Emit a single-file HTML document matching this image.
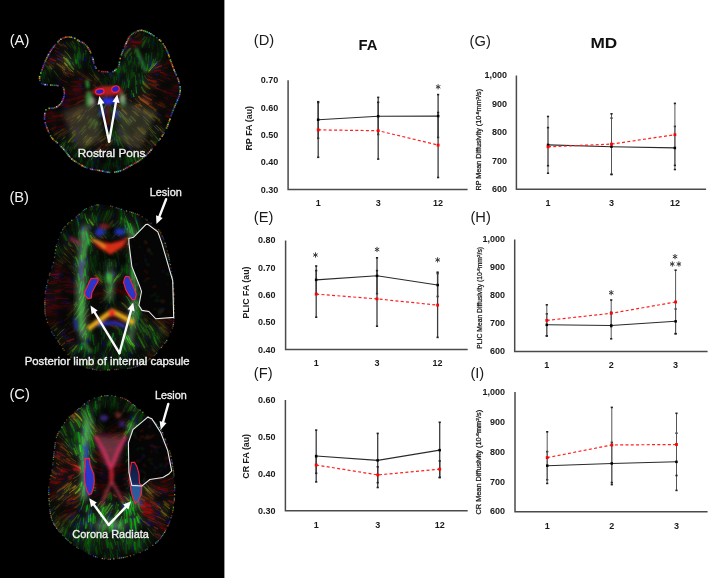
<!DOCTYPE html>
<html><head><meta charset="utf-8"><style>
html,body{margin:0;padding:0;background:#fff;}
svg{display:block;}
text{font-family:"Liberation Sans", sans-serif;}
.tk{font-size:9px;font-weight:bold;fill:#1a1a1a;}
.pl{font-size:14.7px;fill:#1a1a1a;}
.tt{font-size:14.8px;font-weight:bold;fill:#111;}
.ast{font-size:11px;fill:#333;}
.yt{font-size:8.8px;font-weight:bold;fill:#1a1a1a;}
.ytm{font-size:6.6px;fill:#1a1a1a;stroke:#1a1a1a;stroke-width:0.25px;}
.wl{fill:#f2f2f2;font-size:14.7px;}
.bl{fill:#f0f0f0;font-size:11.5px;stroke:#f0f0f0;stroke-width:0.35px;}
</style></head><body>
<svg width="709" height="578" viewBox="0 0 709 578">
<rect width="709" height="578" fill="#fff"/>
<rect width="224.4" height="578" fill="#000"/>
<defs><filter id="bl06" x="-20%" y="-20%" width="140%" height="140%"><feGaussianBlur stdDeviation="0.65"/></filter>
<filter id="bl04" x="-20%" y="-20%" width="140%" height="140%"><feGaussianBlur stdDeviation="0.35"/></filter>
<filter id="bl1" x="-50%" y="-50%" width="200%" height="200%"><feGaussianBlur stdDeviation="1"/></filter>
<filter id="bl2" x="-50%" y="-50%" width="200%" height="200%"><feGaussianBlur stdDeviation="1.8"/></filter>
<filter id="bl3" x="-20%" y="-20%" width="140%" height="140%"><feGaussianBlur stdDeviation="2.5"/><feColorMatrix type="saturate" values="0.55"/><feComponentTransfer><feFuncR type="linear" slope="1.5"/><feFuncG type="linear" slope="1.5"/><feFuncB type="linear" slope="1.5"/></feComponentTransfer></filter>
<filter id="bl4" x="-50%" y="-50%" width="200%" height="200%"><feGaussianBlur stdDeviation="4"/></filter>
<path id="pA" d="M100.0,71.2 C101.9,71.7 106.0,71.9 108.3,71.9 C110.6,71.9 112.1,72.2 113.8,71.2 C115.5,70.2 117.6,67.9 118.6,66.0 C119.6,64.1 119.2,62.3 119.8,60.0 C120.4,57.7 121.3,55.0 122.3,52.3 C123.3,49.6 124.5,46.6 125.9,43.8 C127.3,41.0 128.5,37.5 130.7,35.3 C132.9,33.1 136.6,31.1 139.2,30.5 C141.8,29.9 143.9,30.7 146.5,31.7 C149.1,32.7 152.4,34.7 155.0,36.5 C157.6,38.3 160.2,40.2 162.2,42.6 C164.2,45.0 165.7,48.1 167.1,51.1 C168.5,54.1 169.5,57.6 170.7,60.8 C171.9,64.0 173.1,67.4 174.3,70.4 C175.5,73.4 177.0,76.0 178.0,78.9 C179.0,81.8 179.9,85.3 180.2,88.0 C180.4,90.7 179.9,93.0 179.5,95.0 C179.1,97.0 178.7,97.3 177.6,99.8 C176.5,102.3 174.7,106.3 173.2,110.1 C171.7,113.9 170.3,118.7 168.8,122.4 C167.3,126.2 166.4,129.2 164.4,132.6 C162.4,136.0 159.8,139.5 157.1,142.9 C154.4,146.3 151.1,150.2 148.2,153.2 C145.2,156.1 142.6,158.4 139.4,160.6 C136.2,162.8 132.3,164.8 129.1,166.5 C125.9,168.2 123.5,169.9 120.3,170.9 C117.1,171.9 113.5,172.5 110.0,172.4 C106.5,172.3 102.9,171.2 99.2,170.5 C95.5,169.8 91.3,169.5 88.1,168.4 C84.9,167.3 82.6,165.8 79.8,164.2 C77.0,162.6 74.0,161.0 71.5,158.7 C69.0,156.4 66.9,153.0 64.6,150.4 C62.3,147.8 59.8,145.1 57.7,143.0 C55.6,140.9 53.6,140.3 51.9,138.0 C50.2,135.7 48.6,132.0 47.4,129.0 C46.2,126.0 45.0,122.8 44.6,120.0 C44.2,117.2 44.6,114.0 45.1,112.1 C45.6,110.2 45.7,109.5 47.4,108.7 C49.1,108.0 53.0,108.5 55.2,107.6 C57.5,106.7 59.4,105.2 60.9,103.1 C62.4,101.0 63.8,97.8 64.2,95.2 C64.6,92.6 64.3,89.2 63.1,87.6 C61.9,86.0 59.4,85.9 57.0,85.5 C54.6,85.1 51.6,85.3 49.0,85.0 C46.4,84.7 43.1,84.8 41.5,83.5 C39.9,82.2 39.5,79.6 39.5,77.5 C39.5,75.4 40.8,73.3 41.7,70.7 C42.6,68.1 43.8,64.7 45.1,61.7 C46.4,58.7 47.9,55.5 49.6,52.7 C51.3,49.9 53.3,47.1 55.2,44.9 C57.1,42.6 58.8,40.5 60.9,39.2 C63.0,37.9 65.3,37.2 67.6,37.0 C69.8,36.8 72.3,37.4 74.4,38.1 C76.5,38.9 78.3,40.6 80.0,41.5 C81.7,42.4 83.0,42.4 84.5,43.7 C86.0,45.0 87.7,47.1 89.0,49.4 C90.3,51.6 91.5,54.6 92.4,57.2 C93.3,59.8 93.8,63.1 94.6,65.1 C95.3,67.1 96.0,68.0 96.9,69.0 C97.8,70.0 98.1,70.7 100.0,71.2Z"/>
<path id="pB" d="M98.1,204.8 C100.4,204.5 102.7,204.5 105.0,204.8 C107.3,205.1 108.6,205.5 111.9,206.4 C115.2,207.3 120.6,209.1 124.9,210.4 C129.2,211.8 134.4,213.0 137.9,214.5 C141.4,216.0 143.3,217.4 146.0,219.3 C148.7,221.2 151.7,223.6 154.1,225.8 C156.5,228.0 158.6,229.1 160.6,232.5 C162.6,235.9 164.3,240.6 166.0,246.0 C167.7,251.4 169.3,258.9 170.5,265.0 C171.7,271.1 172.5,277.0 173.1,282.8 C173.7,288.6 173.9,294.0 174.0,300.0 C174.1,306.0 174.1,314.5 173.9,319.0 C173.7,323.5 173.5,324.5 172.8,326.9 C172.2,329.3 171.1,331.2 170.0,333.6 C168.9,336.0 167.5,339.2 166.1,341.5 C164.7,343.8 163.3,345.1 161.6,347.1 C159.9,349.2 158.1,351.8 156.0,353.8 C153.9,355.9 151.8,357.5 149.2,359.4 C146.6,361.3 143.2,363.7 140.2,365.1 C137.2,366.5 134.2,367.2 131.2,367.9 C128.2,368.5 125.6,368.7 122.2,369.0 C118.8,369.3 114.6,369.6 110.9,369.8 C107.2,370.1 103.2,370.6 100.0,370.5 C96.8,370.4 94.6,369.6 91.9,369.0 C89.2,368.4 86.5,368.3 83.6,366.9 C80.7,365.5 77.1,362.9 74.3,360.7 C71.5,358.4 69.1,355.6 67.0,353.4 C64.9,351.1 63.5,349.6 61.8,347.2 C60.1,344.8 58.3,341.5 56.6,338.9 C54.9,336.3 52.9,334.2 51.4,331.6 C49.9,329.0 48.8,326.1 47.8,323.3 C46.8,320.5 45.9,317.8 45.4,315.0 C44.9,312.2 44.8,310.5 44.8,306.8 C44.8,303.1 44.8,297.1 45.3,293.0 C45.8,288.9 46.6,285.7 47.5,282.0 C48.4,278.3 49.5,274.2 50.5,271.0 C51.5,267.8 52.6,265.6 53.3,263.0 C54.0,260.4 54.3,258.5 54.8,255.7 C55.3,252.9 55.5,249.2 56.3,246.0 C57.1,242.8 58.3,239.1 59.4,236.3 C60.5,233.5 61.4,231.4 63.0,229.1 C64.6,226.8 66.9,224.4 69.1,222.4 C71.3,220.4 73.9,219.0 76.3,217.0 C78.7,215.0 81.2,212.0 83.6,210.3 C86.0,208.6 88.5,207.6 90.9,206.7 C93.3,205.8 95.8,205.1 98.1,204.8Z"/>
<path id="pC" d="M107.8,395.6 C110.1,395.6 111.7,395.6 114.7,396.2 C117.7,396.8 122.0,397.5 125.6,399.3 C129.2,401.1 133.0,404.5 136.4,407.1 C139.8,409.7 142.7,412.3 145.8,414.9 C148.9,417.5 152.5,420.1 155.1,422.7 C157.7,425.3 159.5,427.3 161.3,430.4 C163.1,433.5 164.6,437.7 166.0,441.3 C167.4,444.9 168.9,448.6 169.9,452.2 C170.9,455.8 171.5,459.5 172.2,463.1 C172.8,466.7 173.4,470.7 173.8,474.0 C174.2,477.3 174.4,480.0 174.6,483.0 C174.8,486.0 174.8,488.4 174.7,491.8 C174.6,495.2 174.5,499.6 174.0,503.5 C173.5,507.4 172.9,511.4 171.8,515.3 C170.7,519.2 169.4,523.2 167.4,527.1 C165.4,531.0 162.9,535.4 160.0,538.8 C157.1,542.2 153.4,545.1 149.7,547.6 C146.0,550.1 142.1,551.9 137.9,553.5 C133.7,555.1 128.8,556.3 124.7,557.2 C120.6,558.1 116.8,558.7 113.5,559.0 C110.2,559.3 108.1,559.4 105.2,559.0 C102.3,558.6 99.0,557.9 95.9,556.9 C92.8,555.9 89.6,554.3 86.5,552.8 C83.4,551.2 80.3,549.7 77.2,547.6 C74.1,545.5 70.6,542.7 67.8,540.3 C65.0,537.9 62.9,535.6 60.6,533.0 C58.4,530.4 55.9,527.6 54.3,524.7 C52.6,521.8 51.5,518.9 50.7,515.4 C49.9,511.9 49.6,507.3 49.3,503.8 C49.0,500.3 48.9,497.5 48.8,494.4 C48.7,491.3 48.5,487.9 48.8,485.1 C49.1,482.3 49.8,480.8 50.4,477.8 C51.0,474.8 52.0,470.5 52.5,467.0 C53.0,463.5 53.2,460.0 53.5,457.0 C53.8,454.0 54.1,451.7 54.5,448.9 C54.9,446.1 55.2,442.8 55.7,440.4 C56.2,438.0 56.6,436.6 57.6,434.4 C58.6,432.2 60.3,429.5 61.8,427.1 C63.3,424.7 64.8,422.1 66.6,419.9 C68.4,417.7 70.5,415.8 72.7,413.8 C74.9,411.8 77.4,409.8 80.0,407.7 C82.6,405.6 86.0,402.7 88.4,401.1 C90.8,399.5 92.4,398.9 94.5,398.1 C96.6,397.3 98.8,396.7 101.0,396.3 C103.2,395.9 105.5,395.6 107.8,395.6Z"/>
<clipPath id="cA"><use href="#pA"/></clipPath>
<clipPath id="cB"><use href="#pB"/></clipPath>
<clipPath id="cC"><use href="#pC"/></clipPath>
<g id="sA" fill="none" stroke-linecap="round">
<path d="M101.1,114.3l.7,-1.5 .7,-1.4 .6,-1.5 .7,-1.4 .8,-1.4 .8,-1.4M95.2,125l.8,-1.4 .8,-1.4M96.9,116l.7,-1.4 .8,-1.4" stroke="#187800" stroke-width="1.0" opacity="0.6"/>
<path d="M127,141.9l1.1,1.1 1.2,1.1" stroke="#786000" stroke-width="1.5" opacity="0.4"/>
<path d="M130.4,116.7l1.1,1.1 1.1,1.2M143.4,68.5l0,-1.6 .1,-1.6" stroke="#000078" stroke-width="1.0" opacity="0.6"/>
<path d="M155.2,102.7l1.4,.7 1.4,.8 1.4,.7 1.5,.7" stroke="#601800" stroke-width="1.0" opacity="0.8"/>
<path d="M139,73.6l.1,1.6 0,1.6M141.7,65.7l0,1.6 0,1.6M135.5,85.2l0,-1.6 0,-1.6 0,-1.6 0,-1.6 0,-1.6 0,-1.6M127.8,81.3l.1,-1.6 .1,-1.6M123.4,88.3l.3,-1.6 .4,-1.5 .3,-1.6 .2,-1.6M109.3,118.3l.2,1.6 .2,1.6M114.3,140l.1,-1.6 .1,-1.6" stroke="#007800" stroke-width="1.0" opacity="0.6"/>
<path d="M93.7,168l.2,-1.6 .1,-1.5M61.7,100.7l1.6,.1 1.6,.2M85,57.3l.2,-1.6 .2,-1.6M102,80.6l.7,1.4 .8,1.4" stroke="#001848" stroke-width="1.0" opacity="0.6"/>
<path d="M148.5,70.3l.5,-1.5 .5,-1.5M151.8,66.7l.9,-1.4 .8,-1.3 .7,-1.5 .7,-1.4 .6,-1.5 .5,-1.5" stroke="#189018" stroke-width="1.0" opacity="0.4"/>
<path d="M151.3,58.9l.2,-1.6 .1,-1.6 .2,-1.6 .1,-1.6M78.2,51.3l.2,1.6 0,1.6 .1,1.6 .1,1.6M116.9,63.4l.5,1.6 .5,1.5 .4,1.5 .5,1.5 .4,1.6 .4,1.5M120.1,65.4l.3,1.6 .3,1.5M80.2,64.9l.5,1.5 .5,1.5M131.4,157.9l.5,1.5 .5,1.5 .4,1.6 .3,1.6M107.9,112.3l.1,1.6 0,1.6M138.9,62.8l0,1.6 0,-1.6 0,-1.6 0,-1.6 .1,-1.6 0,-1.6M85.8,54.7l.1,-1.6 0,-1.6 0,-1.6 .1,1.6M79.8,59.2l0,-1.6 .1,-1.6M116.2,76.4l.2,1.6 .2,1.6M75.7,157l.4,-1.5 .6,-1.5 .6,-1.5 .6,-1.5M124.6,91.6l.5,-1.5 .4,-1.6 .4,-1.5 .3,-1.6M128.4,159.4l.3,1.5 .3,1.6M114.3,77l.2,1.5 .2,1.6 .1,1.6 0,1.6M80.6,162l.4,-1.5 .4,-1.6 .4,-1.5 .5,-1.5" stroke="#006000" stroke-width="1.0" opacity="0.6"/>
<path d="M66,65.5l1.1,1.1 1.2,1.1 1.2,1.1 1.1,1.1 1.2,1 1.3,1" stroke="#a89000" stroke-width="1.0" opacity="0.6"/>
<path d="M158.5,120.6l1.2,1 1.3,1" stroke="#603000" stroke-width="1.5" opacity="0.4"/>
<path d="M50.6,113.4l1.6,-.2 1.6,-.2M46.1,122.2l1.5,-.4 1.6,-.3 1.6,-.3 1.6,-.2 1.6,-.2 1.5,-.2M163.9,90.4l1.5,.5 1.5,.5 1.5,.6 1.6,.4M43.5,115.1l1.4,-.7 1.5,-.6 1.5,-.6 1.5,-.5 1.6,-.5 1.5,-.3M55.8,128.8l1.5,-.6 1.4,-.7 1.5,-.6 1.5,-.6 1.4,-.7 1.5,-.7M170.3,89.9l1.5,.4 1.6,.3 1.6,.3 1.6,.2M75,81.9l1.6,0 1.6,.1 1.6,0 1.6,0M62.3,89.6l1.6,.4 1.5,.3M49.2,118.3l1.6,-.3 1.6,-.1 1.6,-.1 1.6,-.1M125,44.5l1.3,-.8 1.5,-.6 1.5,-.7 1.5,-.4M170.3,104.2l1.6,.2 1.6,.2" stroke="#480000" stroke-width="1.5" opacity="0.6"/>
<path d="M120.1,151.9l.2,1.6 .2,1.5M94.7,90.5l1.3,.9 1.3,.9" stroke="#000030" stroke-width="1.5" opacity="0.4"/>
<path d="M123.9,91.8l.5,-1.5 .5,-1.5M75.9,93.8l1.6,-.2 1.6,-.2" stroke="#180078" stroke-width="1.0" opacity="0.4"/>
<path d="M62.9,133.7l1.3,-1 1.2,-1M66.8,132.4l1.2,-1 1.2,-1.1 1.3,-1 1.2,-1.1" stroke="#604818" stroke-width="1.0" opacity="0.4"/>
<path d="M167.2,60.3l1.4,-.9 1.3,-.8" stroke="#301800" stroke-width="1.0" opacity="0.4"/>
<path d="M88.6,161.3l.5,-1.5 .6,-1.5 .8,-1.4 .7,-1.4 .8,-1.4 1,-1.2M116.6,128.4l.7,1.5 .7,1.4M81.8,152.1l.8,-1.3 .9,-1.4M76.9,39.1l.7,1.4 .6,1.5 .7,1.4 .6,1.5M67.5,53.5l1,1.3 .9,1.3 .8,1.3 .8,1.4M108.6,72.3l.7,1.5 .6,1.4 .6,1.5 .6,1.5M83.6,152.9l.8,-1.3 .9,-1.4" stroke="#186000" stroke-width="1.0" opacity="0.4"/>
<path d="M106.4,135.4l1,-1.2 .9,-1.3M117,111.9l1,1.3 1,1.3 1,1.2 .9,1.3" stroke="#487800" stroke-width="1.5" opacity="0.8"/>
<path d="M140.9,128.1l1.2,1.1 1.1,1.2 1.2,1.1 1.1,1.1M138.6,129l1.2,1.1 1.1,1.1 1.2,1.1 1.2,1.1" stroke="#786000" stroke-width="1.5" opacity="0.6"/>
<path d="M94.3,145.5l1.3,-.9 1.3,-1 1.3,-.9 1.3,-1 1.3,-.9 1.3,-.9M74.8,113.9l1.3,-1 1.3,-.9 1.2,-1 1.3,-.9" stroke="#603000" stroke-width="1.0" opacity="0.6"/>
<path d="M100.2,150.4l1.3,-.9 1.3,-.9M113.8,102.3l1.3,.8 1.4,.9 1.3,.9 1.3,.9M59.5,63.4l1.3,1 1.2,.9" stroke="#603000" stroke-width="1.0" opacity="0.4"/>
<path d="M135.3,99l1.2,1 1.3,1.1 1.2,1 1.3,1" stroke="#784800" stroke-width="1.0" opacity="0.6"/>
<path d="M64.7,51.1l1.2,1.1 1.1,1.1 1,1.3 1,1.2 .9,1.3 .8,1.4" stroke="#609018" stroke-width="1.0" opacity="0.6"/>
<path d="M62.7,91l1.5,.3 1.6,.2 1.6,.1 1.6,.2 1.6,.1 1.6,0M117.4,96.2l1.5,-.7 1.4,-.7M69.4,93.1l1.6,0 1.6,-.1 1.6,-.1 1.6,-.1M66.7,84.7l1.6,.1 1.6,.2M69.1,94.8l1.6,0 1.6,0 1.6,-.1 1.6,-.1M52.3,124.6l1.6,-.3 1.6,-.3M170.4,72.6l1.5,.5 1.6,.5M76,94.9l1.6,-.3 1.6,-.2 1.5,-.2 1.6,-.3M60,103.2l1.6,.1 1.5,.1 1.6,.1 1.6,.1 1.6,-.1 1.6,-.1" stroke="#480000" stroke-width="1.0" opacity="0.4"/>
<path d="M81.3,153.6l.8,-1.4 .8,-1.3 1,-1.3 .9,-1.3 1,-1.3 1.1,-1.2M74.3,148.8l.8,-1.4 .9,-1.3" stroke="#184800" stroke-width="1.5" opacity="0.4"/>
<path d="M138,110.4l1.2,1.1 1.2,1M91.2,108.2l1.2,-1.1 1.2,-1.1M51.4,65.2l1.2,1.1 1.2,1M78.3,114.2l1.3,-1.1 1.2,-1 1.2,-1.1 1.2,-1.1M140.2,110.5l1.2,1 1.2,1.1" stroke="#786000" stroke-width="1.0" opacity="0.4"/>
<path d="M155.1,65.4l1.1,-1.2 1.1,-1.2M76.3,130.2l1.1,-1.2 1.1,-1.2" stroke="#181890" stroke-width="1.5" opacity="0.6"/>
<path d="M66,97.8l1.5,.1 1.6,.1M63.3,41.5l1.2,1 1.2,1.1M155.5,85.8l1.5,.7 1.5,.6" stroke="#000048" stroke-width="1.5" opacity="0.6"/>
<path d="M123.8,135.4l1.1,1.2 1.1,1.2 1,1.2 1.1,1.1M124.6,55.8l.6,-1.5 .9,-1.4 1,-1.2 1,-1.3 1.2,-1 1.3,-.9" stroke="#486018" stroke-width="1.5" opacity="0.6"/>
<path d="M126.7,156.5l.5,1.6 .3,1.5 .4,1.6 .2,1.6M148.2,42.8l.4,-1.5 .4,-1.5M125.9,156.9l.4,1.6 .4,1.5M74.9,156.5l.5,-1.6 .5,-1.5M126.7,69.4l.1,1.6 .1,1.6M43.4,72.3l.2,1.5 .1,1.6 .2,1.6 0,1.6M132.1,66.3l0,1.6 0,1.6 0,1.6 .1,1.6 0,1.6 0,-1.6M45,70.7l.4,1.5 .4,1.6M86.2,168.2l.4,-1.6 .3,-1.5 .3,-1.6 .3,-1.6M105.8,95.5l.5,1.6 .4,1.5M91.7,167.7l.2,-1.6 .2,-1.6 .3,-1.6 .3,-1.5M118.6,63l.4,1.6 .3,1.5 .4,1.6 .4,1.5" stroke="#004800" stroke-width="1.5" opacity="0.6"/>
<path d="M130.8,62.8l.1,-1.6 .2,-1.6 .3,-1.6 .3,-1.6M127.4,60.1l.3,-1.5 .4,-1.6M108.7,110.5l.3,1.6 .2,1.5 .3,1.6 .3,1.6M123.8,65.7l.1,1.6 .2,1.6 .2,1.6 .2,1.5M142.5,76l.2,1.6 .4,1.6 .4,1.5 .5,1.5M77.4,56.9l.2,1.6 .1,1.6 .2,1.5 .2,1.6M140.1,80l.1,1.6 .2,1.6" stroke="#006000" stroke-width="1.0" opacity="0.8"/>
<path d="M114.8,144.3l.2,-1.6 .3,-1.6M157.5,59.3l.5,-1.5 .3,-1.6 .3,-1.5 .2,-1.6M153.3,44.5l0,-1.6 .1,-1.6 .1,-1.6 .2,-1.6M133.1,66.1l0,-1.6 0,-1.6M135.2,65.4l0,-1.6 0,-1.6M42.8,77.1l0,1.6 .1,1.6 .1,1.6 .2,1.6M87.3,164.1l.3,-1.5 .4,-1.6M126,161.6l.1,1.6 0,1.6M120.3,152l.2,1.6 .1,1.6 .1,1.6 .1,1.6 0,1.6 0,-1.6M148.5,42.4l.4,-1.5 .5,-1.6 .4,-1.5 .5,-1.5M40.2,68.7l.6,1.5 .4,1.5 .3,1.6 .3,1.6 .1,1.6 .1,1.6M48.3,78.5l.4,1.6 .4,1.5M113.1,85.2l0,-1.6 .1,-1.6M120.8,89.4l.5,-1.5 .5,-1.5 .3,-1.6 .3,-1.5 .3,-1.6 .1,-1.6M136.3,64.7l0,1.6 .1,1.6 0,1.6 0,1.6M124.7,61.9l0,1.6 .1,1.6 .1,1.6 .2,1.6 .1,1.6 .1,1.6M157.2,56.1l.2,-1.6 .1,-1.6" stroke="#004800" stroke-width="1.0" opacity="0.6"/>
<path d="M116.5,138l.4,1.5 .4,1.6M65.9,126.2l1.3,-.9 1.4,-.8M92.4,133.6l1,-1.3 1,-1.3" stroke="#180060" stroke-width="1.5" opacity="0.4"/>
<path d="M57.2,103.7l1.6,0 1.6,.1 1.6,.1 1.6,.1M71.6,86.6l1.6,-.1 1.6,-.1 1.6,-.1 1.6,-.2 1.6,-.1 1.6,-.1M148.7,72.2l1.6,-.1 1.6,0 1.6,0 1.6,0" stroke="#600000" stroke-width="1.0" opacity="0.8"/>
<path d="M48.7,60.5l1.5,.7 1.4,.7 1.4,.7 1.4,.8M158.9,102.4l1.4,.7 1.5,.6 1.5,.7 1.5,.6M82.5,76.7l1.5,.6 1.5,.6 1.5,.6 1.4,.6M50.2,129.4l1.5,-.7 1.4,-.7 1.5,-.6 1.5,-.6M63.3,73.6l1.4,.9 1.4,.8 1.4,.7 1.4,.7M158,79.1l1.5,.6 1.4,.6 1.5,.6 1.5,.6M74,104.7l1.5,-.6 1.4,-.6 1.5,-.7 1.5,-.6" stroke="#601800" stroke-width="1.0" opacity="0.6"/>
<path d="M117.6,71.6l.4,1.6 .3,1.5 .3,1.6 .2,1.6" stroke="#004800" stroke-width="1.5" opacity="0.8"/>
<path d="M112.5,110.4l.8,1.4 .7,1.4M118.5,136.7l.7,1.4 .7,1.5" stroke="#187800" stroke-width="1.0" opacity="0.8"/>
<path d="M110.9,92l.5,-1.5 .4,-1.6 .3,-1.6 .3,-1.5 .2,-1.6 0,-1.6M97.6,167.9l0,-1.6 .1,1.6 0,-1.6 .1,-1.6 .2,-1.6 .3,-1.6M157.4,39.5l.1,1.5 .1,1.6M93.3,60l.1,1.6 .2,1.5 .2,1.6 .3,1.6M157,43.2l.2,1.6 .2,1.6 .2,1.6 .2,1.6 .2,1.6 .1,1.6M119.7,166.8l0,1.6 .1,1.6 .1,1.6 .2,1.6M106.1,165l.1,1.6 .1,1.6M120.9,58.2l.2,-1.6 .3,-1.5 .4,-1.6 .5,-1.5M129,66.1l.1,-1.6 0,1.6 0,1.6 0,1.6 .1,1.6 0,1.6M116.3,166.9l0,-1.6 0,1.6 .1,-1.6 0,-1.6 .1,-1.6 .2,-1.6M115.9,92.8l.9,-1.4 .7,-1.4 .6,-1.4 .6,-1.5 .5,-1.6 .4,-1.5M108.4,168.7l.4,1.5 .4,1.6 .5,1.5 .5,1.5M88.3,61.8l0,1.6 .2,1.6 .2,1.5 .4,1.6M111.2,91.7l.5,-1.5 .4,-1.6 .4,-1.5 .3,-1.6M111.6,92.2l.6,-1.5 .5,-1.5 .4,-1.5 .3,-1.6 .3,-1.6 .2,-1.6M107.2,165.4l.2,-1.6 .3,-1.6 .4,-1.5 .5,-1.6M108.1,78.1l.5,1.5 .4,1.5 .2,1.6 .2,1.6 .2,1.6 0,1.6M105.4,167.6l.3,1.6 .3,1.6M109.4,164l.3,-1.6 .2,-1.5M161.2,40.7l.2,1.6 .2,1.6 .2,1.5 .3,1.6 .2,1.6 .1,1.6" stroke="#003000" stroke-width="1.0" opacity="0.6"/>
<path d="M164.7,97.6l1.5,.5 1.5,.5M71.2,81.7l1.6,.1 1.6,0 1.6,.1 1.6,0M59.1,115.1l1.6,-.1 1.6,-.2M165.9,62.4l1.4,-.6 1.5,-.6 1.5,-.6 1.5,-.5M94,94.4l1.5,.4 1.5,.5 1.6,.6 1.4,.6M72.3,89l1.6,-.1 1.6,-.1M174.4,86.3l1.6,.2 1.6,.1 1.6,0 1.6,0 1.6,-.1 1.5,-.2M88.1,90.9l1.6,.2 1.6,.3 1.5,.3 1.6,.5M62.3,105.2l1.6,.1 1.6,-.1 1.6,0 1.6,-.2M72,99l1.6,-.2 1.6,-.3 1.5,-.3 1.6,-.3M87.8,92.2l1.6,.1 1.6,.2 1.6,.2 1.5,.4M123.2,97.8l1.6,.3 1.6,.3M46,56.3l1.5,.4 1.6,.5 1.5,.4 1.5,.5" stroke="#600000" stroke-width="1.0" opacity="0.6"/>
<path d="M70.3,129l1.2,-1 1.2,-1.1M74.7,115.5l1.3,-.9 1.2,-1 1.3,-1 1.2,-1 1.3,-1 1.2,-1.1" stroke="#604818" stroke-width="1.5" opacity="0.4"/>
<path d="M64.1,106.1l1.6,-.1 1.6,-.2 1.6,-.3 1.6,-.3M160.6,75.6l1.5,.5 1.6,.6 1.5,.5 1.5,.5M79.4,80.5l1.6,.1 1.5,.2 1.6,.3 1.6,.3 1.6,.3 1.5,.4M58.4,120.5l1.5,-.3 1.6,-.4 1.5,-.5 1.5,-.6 1.5,-.6 1.5,-.6M84.3,93.1l1.6,-.1 1.6,-.1 1.6,0 1.6,0M73.2,82.4l1.6,0 1.6,0 1.6,0 1.6,0M78.9,78.1l1.5,.4 1.6,.3M74.7,93.1l1.6,-.2 1.6,-.2 1.6,-.2 1.5,-.2M65.8,105.8l1.6,-.3 1.6,-.2M167.5,109.7l1.5,.3 1.6,.1 1.6,.2 1.6,.1M62.8,107.8l1.6,-.1 1.6,-.2 1.6,-.3 1.5,-.4" stroke="#600000" stroke-width="1.0" opacity="0.4"/>
<path d="M126.2,118.7l1.1,1.2 1,1.2 1.1,1.2 1,1.2" stroke="#78c018" stroke-width="1.0" opacity="0.6"/>
<path d="M80,72.5l1.2,1 1.4,.9 1.3,.8 1.4,.8 1.4,.8 1.4,.8" stroke="#783018" stroke-width="1.0" opacity="0.4"/>
<path d="M134.8,34.2l1.1,-1.2 1.1,-1.1M128.6,146.2l1.1,1.2 1.2,1.1 1.1,1.1 1.1,1.1" stroke="#484818" stroke-width="1.0" opacity="0.6"/>
<path d="M143.5,100.1l1.3,.9 1.4,.8 1.3,.9 1.4,.9M57.5,58.7l1.4,.7 1.3,.8 1.4,.9 1.3,.9M142.3,89.8l1,1.3 1.2,1 1.4,.9 1.3,.9 1.4,.7 1.4,.8" stroke="#783000" stroke-width="1.0" opacity="0.6"/>
<path d="M111.3,109.7l.6,1.5 .7,1.5" stroke="#189000" stroke-width="1.5" opacity="0.8"/>
<path d="M170.2,95.5l1.6,.3 1.6,.3 1.6,.2 1.5,.3M49.8,120.7l1.6,-.2 1.6,-.2M66.7,90.7l1.6,.1 1.6,.1M116.9,98.3l1.6,.1 1.6,.1 1.5,.2 1.6,.2 1.6,.3 1.5,.4M49.3,59.1l1.5,.5 1.5,.6 1.5,.6 1.4,.7M43,123.5l1.5,-.6 1.5,-.5 1.5,-.5 1.6,-.4M90.3,99l1.6,-.4 1.5,-.5M172.6,85l1.6,.3 1.5,.2 1.6,.2 1.6,.1M170.1,75.2l1.5,.5 1.5,.4 1.6,.5 1.5,.4M92.7,93.6l1.6,.4 1.5,.5 1.5,.5 1.5,.6M63,87.4l1.5,.3 1.6,.4M167.1,114.2l1.6,.3 1.6,.1 1.6,.1 1.6,.1" stroke="#480000" stroke-width="1.0" opacity="0.6"/>
<path d="M149,127l1.1,1.2 1.1,1.1 1.1,1.2 1.1,1.2 1.1,1.1 1.1,1.2" stroke="#606000" stroke-width="1.0" opacity="0.8"/>
<path d="M149.5,70.7l1,-1.2 1.1,-1.2 1.1,-1.2 1.1,-1.1 1.1,-1.2 1.1,-1.2" stroke="#90a818" stroke-width="1.0" opacity="0.8"/>
<path d="M160.8,127.1l1.2,1 1.3,1 1.3,1 1.2,.9" stroke="#604800" stroke-width="1.0" opacity="0.4"/>
<path d="M87.8,123.8l.9,-1.3 .8,-1.4 .9,-1.3 .9,-1.3" stroke="#309018" stroke-width="1.0" opacity="0.6"/>
<path d="M117,104.3l1.4,.9 1.2,.9 1.3,1 1.3,1" stroke="#783018" stroke-width="1.5" opacity="0.8"/>
<path d="M117.5,67.7l.5,1.5 .4,1.5 .4,1.6 .4,1.5M97.6,162.1l.6,-1.5 .5,-1.5M79.7,159.3l.4,-1.5 .4,-1.6M73,158.4l.4,-1.6 .3,-1.5M127.4,67.8l.1,1.6 .1,1.6M96.7,169.2l0,-1.6 0,-1.6M126.5,170.3l.1,-1.6 0,-1.6 .1,-1.6 0,-1.6M103.3,90.3l.4,1.6 .5,1.5M48.9,70.2l.6,1.4 .6,1.5 .6,1.5 .5,1.5M118.3,84.2l.1,-1.6 .1,-1.6 0,-1.6 .1,1.6M126.4,72.8l.1,1.6 0,1.6 0,1.6 0,-1.6M89.4,62.6l.1,-1.6 .1,-1.6 .1,-1.6 .2,-1.6M87.5,169l.3,-1.5 .3,-1.6 .3,-1.6 .3,-1.5M80.7,166.8l.4,-1.5 .4,-1.6 .3,-1.5 .4,-1.6M131.3,70.3l0,1.6 0,1.6" stroke="#004800" stroke-width="1.0" opacity="0.4"/>
<path d="M142.8,82.1l.7,1.4 1,1.3 1.2,1 1.2,1.1 1.3,.8 1.5,.8" stroke="#a87800" stroke-width="1.5" opacity="0.4"/>
<path d="M104.8,164.6l.1,1.6 .2,1.6 .3,1.6 .3,1.6 .4,1.5 .4,1.6M150.8,51.3l.1,-1.6 .1,-1.6 .1,-1.6 .1,-1.6M103,81.7l.6,1.5 .6,1.5 .4,1.6 .4,1.5 .3,1.6 .3,1.5M120.5,167.4l0,-1.6 .1,-1.6 0,-1.6 .1,-1.6M112.4,91.2l.5,-1.5 .5,-1.5 .4,-1.6 .3,-1.5M152.8,44.4l0,1.6 .1,-1.6 0,-1.6 .1,-1.6M117.5,164.7l.1,1.6 0,-1.6 .1,-1.6 .1,-1.6M46.4,77.8l.1,1.5 .3,1.6 .3,1.6 .5,1.5M154.8,42.2l0,-1.6 .1,-1.6M106.4,77l.6,1.5 .6,1.5M108.5,93.3l.3,-1.6 .2,-1.6 .2,-1.6 .1,-1.6M124.3,160l.1,1.6 0,1.6 0,1.6 .1,-1.6M106.5,163.9l0,1.6 0,1.6M107.5,98.3l.2,-1.6 .2,-1.6 .2,-1.6 .3,-1.6" stroke="#003000" stroke-width="1.0" opacity="0.4"/>
<path d="M133,93.6l.5,1.5 .4,1.6" stroke="#18c000" stroke-width="1.0" opacity="0.8"/>
<path d="M70.4,42.7l1,1.2 .8,1.4 .8,1.4 .8,1.3 .7,1.5 .6,1.5M143.1,43.7l.8,-1.3 .8,-1.4M102,130.6l.8,-1.4 .7,-1.5 .8,-1.4 .6,-1.5M110.3,105.4l.7,1.4 .7,1.5M131.3,153.6l.9,1.3 .9,1.4 .8,1.4 .7,1.4" stroke="#186000" stroke-width="1.0" opacity="0.6"/>
<path d="M46.2,66.3l1,1.3 .9,1.3 .8,1.4 .8,1.4M79,155.1l.7,-1.5 .7,-1.4 .8,-1.4 .8,-1.4M103.9,108.3l.7,-1.4 .8,-1.3 .8,-1.4 .8,-1.4M103.2,73.5l.8,1.4 .8,1.4 .8,1.4 .7,1.4M137.7,34.7l1.1,-1.2 .9,-1.3 .8,-1.4 .8,-1.4 .7,-1.4 .6,-1.5" stroke="#184800" stroke-width="1.0" opacity="0.4"/>
<path d="M132.1,106.7l1.3,.9 1.3,1 1.2,1 1.2,1" stroke="#904818" stroke-width="1.0" opacity="0.6"/>
<path d="M74,148.1l.9,-1.4 .9,-1.3 .9,-1.3 1,-1.3M113.2,107.2l.9,1.3 1,1.3 1,1.2 .9,1.3 1,1.3 1,1.2M96.1,136.7l1.1,-1.1 1.1,-1.2 1,-1.3 1,-1.2 1,-1.3 .9,-1.3" stroke="#306018" stroke-width="1.0" opacity="0.6"/>
<path d="M167.5,90.7l1.6,.5 1.5,.4M100.5,149.7l1.4,-.9 1.3,-.9M121.9,60.8l0,-1.6 .1,-1.6M94.4,68l.7,1.5 .7,1.4" stroke="#000048" stroke-width="1.5" opacity="0.4"/>
<path d="M78.8,47.6l.3,1.6 .2,1.6 .2,1.6 .1,1.6M116,66.2l.6,1.5 .5,1.5 .5,1.5 .4,1.5M128.8,64.3l.1,-1.6 .1,-1.6M77.4,58.5l.2,1.6 .2,1.6 .4,1.5 .3,1.6 .4,1.5 .6,1.5M145.7,59.8l.1,-1.6 .2,-1.6 .1,-1.5 .1,-1.6M133.9,75.9l.1,-1.6 0,-1.6M115.5,68.8l.6,1.5 .5,1.5" stroke="#006000" stroke-width="1.5" opacity="0.6"/>
<path d="M163.5,91.1l1.5,.5 1.5,.6 1.5,.5 1.5,.4 1.6,.5 1.5,.3" stroke="#480000" stroke-width="1.5" opacity="0.8"/>
<path d="M147.7,104.5l1.3,.9 1.3,.9 1.3,.9 1.4,.9 1.3,.9 1.3,1" stroke="#904800" stroke-width="1.5" opacity="0.4"/>
<path d="M111.5,141.9l.8,-1.4 .6,-1.5 .6,-1.5 .2,-1.6M62.6,146.3l.8,-1.5 .7,-1.4M72.5,62.5l.7,1.4 .7,1.4" stroke="#187818" stroke-width="1.0" opacity="0.6"/>
<path d="M137.5,127.7l1.1,1.1 1.2,1.1 1.1,1.1 1.2,1.1 1.2,1.1 1.2,1M143.5,110l1.2,1 1.2,1.1 1.2,1 1.2,1.1 1.2,1.1 1.1,1.1" stroke="#786018" stroke-width="1.5" opacity="0.6"/>
<path d="M112.6,126.5l.3,1.6 .2,1.6 .1,1.6 .1,1.6 .1,1.6 0,-1.6M77.7,53.9l.1,1.6 .1,1.6 .1,1.6 .1,1.6M130.4,158.1l.5,1.5 .5,1.5" stroke="#006000" stroke-width="1.5" opacity="0.8"/>
<path d="M148.5,57.6l.2,-1.6 .1,-1.6M108.3,107.3l.1,1.6 .1,1.6 .2,1.6 .1,1.6M134.3,64l.1,-1.6 .1,-1.6 .1,-1.6 .1,-1.5M131.6,91.6l0,-1.6 .1,1.6 0,1.6 .1,1.6M111.1,135.8l.5,-1.5 .3,-1.6 .1,-1.6 .1,-1.6 0,1.6 .1,-1.6" stroke="#007800" stroke-width="1.0" opacity="0.4"/>
<path d="M64.3,60.2l1.2,1.1 1.1,1.2M135.3,110.9l1.2,1.1 1.2,1.1" stroke="#786018" stroke-width="1.0" opacity="0.4"/>
<path d="M62.7,139.2l1.1,-1.2 1,-1.2M122.7,51.3l.9,-1.4 1.1,-1.1 1.1,-1.2 1.2,-1M83.7,142.3l1,-1.1 1.1,-1.2 1.1,-1.2 1.1,-1.2" stroke="#486018" stroke-width="1.0" opacity="0.8"/>
<path d="M165.1,77.9l1.5,.6 1.5,.5 1.5,.6 1.5,.5M163.4,64.9l1.6,-.5 1.5,-.4 1.6,-.4 1.5,-.3 1.6,-.3 1.6,-.2M174.1,95.7l1.6,.2 1.6,.1 1.6,.1 1.6,.1 1.6,.1 1.6,0M74.2,82.6l1.6,0 1.6,0" stroke="#480000" stroke-width="1.0" opacity="0.8"/>
<path d="M149.4,83.8l1.4,.7 1.5,.6 1.4,.7 1.5,.6" stroke="#901800" stroke-width="1.5" opacity="0.4"/>
<path d="M89.4,145.7l1.2,-1.1 1.2,-1 1.2,-1.1 1.2,-1M63.4,135.4l1.2,-1.1 1.2,-1M89.2,73.2l1.1,1.2 1.1,1.1M147.2,123.1l1.1,1.1 1.1,1.2 1.1,1.2 1.1,1.1" stroke="#484800" stroke-width="1.0" opacity="0.4"/>
<path d="M50.1,67.5l1,1.3 1,1.3M141.8,79.3l.3,1.6 .4,1.5M101.2,71l.9,1.3 .8,1.4" stroke="#181860" stroke-width="1.0" opacity="0.6"/>
<path d="M155,74.4l1.6,.3 1.5,.3M79,79.2l1.6,.2 1.6,.3" stroke="#181890" stroke-width="1.0" opacity="0.6"/>
<path d="M104.1,166.1l.2,-1.6 0,1.6 .2,1.6 .1,1.6 .3,1.6 .4,1.5M118,167.4l.1,-1.6 0,1.6 .1,1.6 .1,1.6 .2,1.5 .2,1.6M102.3,83.9l.6,1.5 .6,1.5 .5,1.5 .4,1.5M39.7,75.5l.1,1.6 0,1.6M108.3,164.8l.1,1.6 .2,1.6 .2,1.5 .3,1.6M102.4,167.3l.2,1.5 .3,1.6 .3,1.6 .4,1.5" stroke="#003000" stroke-width="1.5" opacity="0.4"/>
<path d="M142,72.5l.1,1.6 .1,1.6 .2,1.5 .2,1.6 .3,1.6 .4,1.5M132.1,77.4l0,-1.6 0,-1.6 0,-1.6 0,1.6M142.8,64.7l0,-1.6 0,-1.6M118.3,64.6l.4,1.5 .4,1.6 .4,1.5 .4,1.6M80,58l.1,-1.6 0,-1.6 0,-1.6 .1,1.6M128.2,80.6l0,-1.6 .1,-1.6 0,-1.6 0,-1.6 0,1.6 0,-1.6" stroke="#006000" stroke-width="1.5" opacity="0.4"/>
<path d="M56.7,42l1.3,1 1.3,.9 1.3,.9 1.3,.9M59.7,53.4l1.4,.8 1.3,.9 1.4,.8 1.2,1M99.7,94.8l1.3,1 1.2,1 1.3,.9 1.3,.9 1.4,.8 1.5,.7" stroke="#603000" stroke-width="1.5" opacity="0.6"/>
<path d="M50.8,61.9l1.4,.8 1.4,.7M88.6,93.4l1.6,.1 1.6,0" stroke="#181860" stroke-width="1.5" opacity="0.6"/>
<path d="M153.6,84.6l1.4,.7 1.5,.6M125.3,41.8l1.3,-.8 1.4,-.8 1.5,-.7 1.4,-.6" stroke="#601800" stroke-width="1.5" opacity="0.8"/>
<path d="M149.5,123l1.1,1.2 1.1,1.2M120.6,63.7l.3,1.6 .3,1.6M162.3,130.7l1.3,1 1.2,1.1M156.1,66.3l1.3,-.9 1.3,-.9" stroke="#180060" stroke-width="1.0" opacity="0.6"/>
<path d="M154.4,116.2l1.2,1.1 1.2,1M149.8,114.5l1.2,1 1.2,1.1" stroke="#786018" stroke-width="1.0" opacity="0.6"/>
<path d="M55.6,134.6l1.2,-1 1.3,-1 1.3,-.9 1.4,-.9 1.3,-.8 1.4,-.9" stroke="#603000" stroke-width="1.0" opacity="0.8"/>
<path d="M88.7,96.4l1.6,-.2 1.6,-.2M163.6,73.9l1.5,.5 1.5,.5M73.9,89.4l1.6,-.2 1.6,-.1 1.6,-.2 1.6,-.2 1.6,-.1 1.6,-.1M120.4,97.7l1.6,0 1.6,.1 1.6,.2 1.5,.3M78.1,84.2l1.6,-.1 1.6,-.1" stroke="#780000" stroke-width="1.0" opacity="0.6"/>
<path d="M66,96.8l1.6,.1 1.6,.1M176.7,82.9l1.6,.1 1.6,0M176.6,84.4l1.6,.1 1.6,0M171.3,78.3l1.6,.4 1.5,.4 1.6,.3 1.6,.3 1.5,.2 1.6,.1" stroke="#300000" stroke-width="1.0" opacity="0.4"/>
<path d="M119.3,76l.1,1.6 .1,1.6M124.1,50.2l1.1,-1.2 1.1,-1.1" stroke="#181848" stroke-width="1.0" opacity="0.6"/>
<path d="M134,136.1l1.2,1 1.3,1 1.2,1 1.3,.9M94.9,152l1.2,-1 1.2,-1 1.3,-1 1.3,-.9M72.8,116.9l1.3,-1 1.3,-.9" stroke="#784818" stroke-width="1.5" opacity="0.6"/>
<path d="M98.3,115l.7,-1.4 .8,-1.4 .8,-1.4 .8,-1.4 .8,-1.3 .9,-1.4M65.9,152.4l.5,-1.5 .6,-1.5 .6,-1.5 .7,-1.4M119,139.3l.7,1.4 .7,1.4 .8,1.4 .7,1.5 .8,1.4 .8,1.3" stroke="#187800" stroke-width="1.5" opacity="0.4"/>
<path d="M122.6,135.9l1,1.3 1,1.3M54.2,71l.9,1.3 1,1.3 .9,1.3 1,1.3" stroke="#306000" stroke-width="1.0" opacity="0.6"/>
<path d="M136,104.2l1.3,1 1.3,.9" stroke="#904800" stroke-width="1.0" opacity="0.8"/>
<path d="M157,88.4l1.5,.6 1.4,.7 1.5,.6 1.5,.6 1.5,.6 1.5,.6M151.3,85.6l1.5,.6 1.4,.7 1.5,.6 1.5,.7M98.5,152l1.2,-1 1.4,-.9 1.3,-1 1.3,-.8" stroke="#481800" stroke-width="1.5" opacity="0.4"/>
<path d="M109.2,164.6l.1,1.6 .1,-1.6 .2,-1.6 .3,-1.6 .3,-1.5 .6,-1.5M160.9,43.7l.3,1.6 .2,1.6 .2,1.6 .1,1.6 .1,1.6 0,-1.6M104.3,78.9l.7,1.4 .5,1.5 .6,1.5 .4,1.6M113.6,166.5l0,-1.6 .1,-1.6" stroke="#003000" stroke-width="1.5" opacity="0.8"/>
<path d="M128.1,59.2l.4,-1.5 .4,-1.6M98,142.6l1.3,-.9 1.3,-.9M94.7,108.3l1.2,-1.2 1.1,-1.1" stroke="#001860" stroke-width="1.5" opacity="0.4"/>
<path d="M68.1,72.6l1.4,.8 1.4,.7 1.4,.7 1.5,.7M46.3,61.9l1.3,.8 1.4,.9 1.3,.8 1.3,1M159.4,104.4l1.4,.7 1.5,.7 1.4,.6 1.5,.6M112.3,101.4l1.3,.8 1.4,.9 1.4,.8 1.3,.9" stroke="#601800" stroke-width="1.5" opacity="0.6"/>
<path d="M89.3,128.4l.9,-1.3 .8,-1.3 .9,-1.4 .9,-1.3 .8,-1.4 .9,-1.3" stroke="#307800" stroke-width="1.5" opacity="0.6"/>
<path d="M77.4,122.5l1.1,-1.2 1,-1.2" stroke="#789018" stroke-width="1.0" opacity="0.4"/>
<path d="M123.7,69.3l.2,1.6 .2,1.6M121.3,89.2l.5,-1.5 .4,-1.6 .4,-1.5 .3,-1.6M149.1,47.6l.2,-1.6 .2,-1.6M128.7,155.6l.6,1.5 .6,1.4M107.9,99.4l.7,1.4 .5,1.5 .6,1.5 .5,1.5M127.2,156.5l.4,1.5 .4,1.6 .3,1.6 .2,1.6 .2,1.6 0,1.6M161.3,57.4l.4,-1.6 .3,-1.5 .3,-1.6 .2,-1.6" stroke="#004800" stroke-width="1.5" opacity="0.4"/>
<path d="M77.4,109.1l1.4,-.8 1.3,-.9M99,147.5l1.3,-.9 1.4,-.8 1.3,-.9 1.4,-.8" stroke="#481818" stroke-width="1.0" opacity="0.6"/>
<path d="M93.3,163.9l.3,-1.5 .4,-1.6M115.9,141.2l0,1.6 .1,1.6M48,56.3l1.6,.4 1.5,.5M79.9,89.5l1.6,-.2 1.6,-.1" stroke="#001860" stroke-width="1.0" opacity="0.6"/>
<path d="M156.2,125.4l1.1,1.1 1.1,1.1 1.2,1.1 1.2,1.1" stroke="#787800" stroke-width="1.0" opacity="0.6"/>
<path d="M119.6,100.8l1.5,.5 1.5,.5M60.8,100.3l1.6,.2 1.6,.1 1.6,.2 1.6,.1 1.6,0 1.6,0M78.8,90.9l1.6,-.2 1.6,-.1M66.6,99.5l1.6,0 1.6,0 1.5,-.1 1.6,-.1 1.6,-.2 1.6,-.3M84.6,91.9l1.6,-.1 1.6,0M128,46.9l1.5,-.4 1.5,-.4M77.7,98.7l1.5,-.4 1.6,-.4 1.5,-.4 1.5,-.5 1.6,-.4 1.5,-.3M164.5,74.1l1.5,.5 1.5,.5" stroke="#600000" stroke-width="1.5" opacity="0.4"/>
<path d="M108.5,95.3l.4,-1.6 .4,-1.5 .4,-1.6 .3,-1.5" stroke="#001800" stroke-width="1.5" opacity="0.6"/>
<path d="M62.4,65.6l1.2,1.1 1.3,1" stroke="#906018" stroke-width="1.0" opacity="0.6"/>
<path d="M90.8,62.8l0,-1.6 0,-1.6" stroke="#180048" stroke-width="1.5" opacity="0.4"/>
<path d="M95.4,124.1l.8,-1.4 .8,-1.4" stroke="#309018" stroke-width="1.0" opacity="0.8"/>
<path d="M66.1,58.5l1.1,1.2 1,1.2 .9,1.3 1,1.3" stroke="#60a818" stroke-width="1.5" opacity="0.6"/>
<path d="M87.9,141.4l1.1,-1.1 1.1,-1.1 1.1,-1.2 1.1,-1.1M132.2,128.1l1.1,1.1 1.2,1.1 1.1,1.2 1.2,1.1M124.4,131.9l1,1.2 1.1,1.2 1.1,1.1 1.1,1.2 1.2,1.1 1.2,1.1M66.2,42.4l1.2,1.1 1.1,1.2 1.1,1.1 1,1.3" stroke="#606000" stroke-width="1.0" opacity="0.4"/>
<path d="M75.1,134.6l1,-1.2 1.1,-1.1M157.8,113.4l1.3,.9 1.4,.9M155.8,126.8l1.1,1.1 1.1,1.1" stroke="#181878" stroke-width="1.5" opacity="0.4"/>
<path d="M91,75l1.2,1 1.2,1.1 1.3,1 1.2,1.1M108.2,146.6l1.2,-1 1.3,-1 1.2,-1.1 1,-1.2" stroke="#483000" stroke-width="1.0" opacity="0.4"/>
<path d="M92.6,161.1l.6,-1.5 .6,-1.5M138.3,144.4l1.3,1 1.3,.9M54.2,125.8l1.5,-.5 1.6,-.4" stroke="#001848" stroke-width="1.0" opacity="0.4"/>
<path d="M115,116.3l.8,1.4 .8,1.4 .8,1.4 .8,1.4M88.8,127.7l.9,-1.3 .9,-1.3 .9,-1.4 .8,-1.3 .9,-1.4 .8,-1.3M120.8,125.2l.9,1.3 .9,1.3 .9,1.3 1,1.3M155.2,64.2l.9,-1.3 1,-1.3" stroke="#307818" stroke-width="1.0" opacity="0.8"/>
<path d="M81.6,134.6l1,-1.3 1,-1.2 1,-1.3 1,-1.2" stroke="#60a818" stroke-width="1.0" opacity="0.6"/>
<path d="M44.7,64.3l1.2,1.1 1.1,1.1 1.1,1.2 1,1.2M71.6,142l1,-1.3 1,-1.2M106.9,142.3l1.3,-1 1.2,-1 1,-1.3 1.1,-1.2 .8,-1.3 .5,-1.6" stroke="#486000" stroke-width="1.0" opacity="0.6"/>
<path d="M126.2,147.2l1,1.2 1,1.3M108.5,82.5l.1,1.6 .2,1.6" stroke="#000030" stroke-width="1.0" opacity="0.8"/>
<path d="M136,86.8l.1,1.6 .1,1.6 .2,1.6 .3,1.6" stroke="#00c018" stroke-width="1.0" opacity="0.6"/>
<path d="M78.7,135.5l1,-1.2 1.1,-1.3M78.6,57.7l.1,1.6 .1,1.6M78.8,86.3l1.6,-.1 1.6,-.1M132,137l1.3,1 1.2,1.1" stroke="#181878" stroke-width="1.0" opacity="0.6"/>
<path d="M154.3,70.9l1.6,-.1 1.6,0 1.6,-.1 1.6,0" stroke="#a80018" stroke-width="1.0" opacity="0.6"/>
<path d="M116.3,142.4l0,1.6 .1,1.6M116.1,88.8l.4,-1.6 .5,-1.5M77.1,163.8l.3,-1.6 .4,-1.5" stroke="#000048" stroke-width="1.0" opacity="0.4"/>
<path d="M107.4,94.1l.1,-1.6 .1,-1.6 0,-1.6 .1,-1.6 0,1.6 0,-1.6M161.3,57.9l.6,-1.5 .3,-1.6 .2,-1.6 .3,-1.6 0,-1.6 .1,1.6M110.4,91.9l.4,-1.6 .3,-1.6 .3,-1.5 .2,-1.6M162,53.9l.1,-1.6 .1,-1.6" stroke="#003000" stroke-width="1.5" opacity="0.6"/>
<path d="M151.2,140.7l1.2,1.1 1.1,1.1 1.1,1.2 1.1,1.1" stroke="#484818" stroke-width="1.5" opacity="0.8"/>
<path d="M95.2,131.9l.9,-1.3 .9,-1.3" stroke="#307800" stroke-width="1.0" opacity="0.6"/>
<path d="M85.6,137l1,-1.3 1,-1.2" stroke="#609018" stroke-width="1.0" opacity="0.4"/>
<path d="M58.4,79.2l1.2,1 1.2,1M67.4,131.5l1.3,-1.1 1.2,-1" stroke="#001848" stroke-width="1.0" opacity="0.8"/>
<path d="M83.6,138.7l1,-1.2 1.1,-1.2M119.1,111.3l1.1,1.2 1,1.2 1.1,1.2 1,1.2" stroke="#789018" stroke-width="1.0" opacity="0.6"/>
<path d="M138.7,57.3l.1,-1.6 .2,-1.6M112.8,75l.4,1.5 .3,1.6 .3,1.6 .2,1.5M137.4,57.1l.2,-1.6 .1,-1.6M118.6,62.8l.4,1.6 .4,1.6M83,41.7l.5,1.5 .4,1.6 .4,1.5 .3,1.6M125.3,63.2l.1,1.6 .1,1.6M105.6,114.6l.2,-1.6 .3,-1.6M104.9,114.5l.3,-1.5 .4,-1.6M130.7,80.5l0,-1.6 .1,-1.6 0,-1.6 .1,-1.6M136.5,56.8l.2,-1.6 .3,-1.6 .2,-1.6 .2,-1.6M146.1,64l.2,-1.6 .1,-1.6 .1,-1.6 .2,-1.6" stroke="#006000" stroke-width="1.0" opacity="0.4"/>
<path d="M128.4,87.3l.2,-1.6 .2,-1.5 .2,-1.6 .1,-1.6M111.3,122.5l.3,1.6 .3,1.6" stroke="#009000" stroke-width="1.5" opacity="0.6"/>
<path d="M110,109.5l.5,1.6 .5,1.5M116.8,139.1l.4,1.5 .4,1.6 .4,1.5 .4,1.6" stroke="#007800" stroke-width="1.5" opacity="0.6"/>
<path d="M121.9,113.7l1.1,1.2 1,1.2" stroke="#3018a8" stroke-width="1.5" opacity="0.6"/>
<path d="M154,141.3l1.1,1.2 1.1,1.2 1.1,1.2 1,1.2M95.5,110.5l1,-1.3 1,-1.2 1.1,-1.2 1.1,-1.1" stroke="#304800" stroke-width="1.5" opacity="0.4"/>
<path d="M150.1,93.6l1.5,.7 1.5,.6 1.4,.7 1.5,.6M100.3,146l1.3,-.8 1.4,-.9M148.3,83.2l1.4,.7 1.5,.7 1.4,.7 1.5,.6M80.7,101.3l1.5,-.6 1.4,-.6" stroke="#601800" stroke-width="1.5" opacity="0.4"/>
<path d="M59.5,81.6l1.4,.8 1.3,.9M127.6,68.6l0,1.6 .1,1.6" stroke="#180030" stroke-width="1.0" opacity="0.6"/>
<path d="M56.1,129.6l1.4,-.7 1.5,-.7M108.1,98.5l.5,-1.5 .6,-1.5" stroke="#000030" stroke-width="1.5" opacity="0.6"/>
<path d="M142.6,80.1l.5,1.5 .5,1.5M150.1,68.1l.7,-1.4 .6,-1.5 .7,-1.4 .6,-1.5 .5,-1.5 .5,-1.5M100.1,124.7l.6,-1.5 .7,-1.4M101.3,113.2l.7,-1.5 .7,-1.4 .8,-1.4 .7,-1.4 .8,-1.4 .8,-1.4" stroke="#189000" stroke-width="1.0" opacity="0.6"/>
<path d="M79,155.8l.6,-1.5 .6,-1.5M138.2,158l.7,1.4 .8,1.4M74.5,45.8l.6,1.5 .6,1.5M130,55.6l.7,-1.4 .7,-1.4M110.7,107.1l.7,1.5 .7,1.4 .7,1.5 .8,1.4" stroke="#186000" stroke-width="1.5" opacity="0.6"/>
<path d="M142.9,114.7l1.2,1.1 1.1,1.1M143,79.2l.5,1.5 .6,1.5" stroke="#181878" stroke-width="1.5" opacity="0.6"/>
<path d="M141.1,139.6l1.2,1 1.3,1" stroke="#603000" stroke-width="1.5" opacity="0.8"/>
<path d="M55.4,111.1l1.6,0 1.6,0" stroke="#180048" stroke-width="1.0" opacity="0.4"/>
<path d="M101.6,112.6l.7,-1.5 .8,-1.4 .7,-1.4 .7,-1.4M99,116.9l.6,-1.4 .7,-1.5" stroke="#189000" stroke-width="1.0" opacity="0.8"/>
<path d="M153.6,133.5l1.1,1.2 1,1.2M63,108.2l1.6,-.1 1.6,-.2M84.4,61.4l.2,-1.6 .1,-1.6M46.1,57.2l1.5,.4 1.6,.5" stroke="#000060" stroke-width="1.5" opacity="0.6"/>
<path d="M49.5,66.3l1,1.2 1.1,1.2" stroke="#486000" stroke-width="1.5" opacity="0.8"/>
<path d="M169.5,110.9l1.6,.1 1.6,.1 1.6,0 1.6,0M42.9,117.3l1.5,-.6 1.5,-.6 1.5,-.5 1.5,-.5M172.8,87.8l1.5,.2 1.6,.2 1.6,.2 1.6,.1M65.3,93.8l1.6,.1 1.6,.1 1.6,.1 1.6,0" stroke="#480000" stroke-width="1.5" opacity="0.4"/>
<path d="M79.8,119.4l1,-1.2 1.1,-1.3 1,-1.2 1.1,-1.2" stroke="#607818" stroke-width="1.5" opacity="0.4"/>
<path d="M130.4,42.3l1.6,0 1.6,.1 1.6,.2 1.5,.3 1.6,.2 1.6,0M78,97l1.5,-.3 1.6,-.4 1.6,-.3 1.5,-.3M73.3,90.7l1.6,-.2 1.5,-.1 1.6,-.2 1.6,-.2" stroke="#600000" stroke-width="1.5" opacity="0.6"/>
<path d="M128.4,39.2l1.5,-.6 1.4,-.7" stroke="#181848" stroke-width="1.5" opacity="0.6"/>
<path d="M141.6,87.1l.7,1.4 .9,1.4 .9,1.3 1.1,1.1M93.5,122.6l.8,-1.4 .8,-1.3" stroke="#307818" stroke-width="1.5" opacity="0.6"/>
<path d="M143.3,81.6l.8,1.4 1.1,1.1 1.2,1.2 1.2,.9" stroke="#787800" stroke-width="1.5" opacity="0.4"/>
<path d="M132,107.3l1.2,1 1.3,1" stroke="#183078" stroke-width="1.0" opacity="0.6"/>
<path d="M167,99.8l1.5,.4 1.6,.3 1.6,.4 1.5,.3M171.4,73.5l1.5,.5 1.5,.4 1.6,.5 1.5,.4M50,110.4l1.5,-.4 1.6,-.4M70.6,97.9l1.5,-.1 1.6,-.1" stroke="#300000" stroke-width="1.5" opacity="0.4"/>
<path d="M130.4,40.9l1.6,-.2 1.6,-.2" stroke="#300078" stroke-width="1.0" opacity="0.6"/>
<path d="M117.8,166.9l.2,1.6 .1,1.6" stroke="#181848" stroke-width="1.5" opacity="0.8"/>
<path d="M154,125.9l1.1,1.1 1.1,1.2 1.2,1.1 1.1,1.2" stroke="#787818" stroke-width="1.0" opacity="0.4"/>
<path d="M155.3,87.7l1.5,.6 1.4,.7" stroke="#781800" stroke-width="1.0" opacity="0.6"/>
<path d="M149.4,106.2l1.3,.9 1.3,1M114.6,102.7l1.4,.9 1.3,.8" stroke="#783000" stroke-width="1.0" opacity="0.8"/>
<path d="M87.3,79l1.5,.7 1.4,.6 1.5,.8 1.4,.7 1.4,.8 1.3,1" stroke="#301800" stroke-width="1.5" opacity="0.6"/>
<path d="M84.9,145l1.1,-1.2 1.1,-1.1 1.1,-1.2 1.1,-1.1M143.4,116.6l1.1,1.1 1.1,1.2 1.1,1.1 1.1,1.2M76.6,119.1l1.1,-1.1 1.2,-1.1M138.9,128.7l1.1,1.1 1.2,1.1 1.2,1.1 1.1,1M90.5,141l1.1,-1.1 1.2,-1.1 1.1,-1.2 1.1,-1.1" stroke="#787818" stroke-width="1.0" opacity="0.6"/>
<path d="M160.2,130.3l1.1,1.1 1.2,1.1 1.2,1.1 1.2,1.1 1.2,1 1.2,1M92.3,107.2l1.2,-1.1 1.3,-1 1.3,-.9 1.3,-.9 1.4,-.8 1.4,-.8M106.9,154.6l1.1,-1.2 1.2,-1.1 1.1,-1.1 1.2,-1.1" stroke="#483000" stroke-width="1.0" opacity="0.8"/>
<path d="M84.9,112.3l1.1,-1.1 1.1,-1.2M73,135.4l1.1,-1.2 1,-1.2" stroke="#607818" stroke-width="1.0" opacity="0.6"/>
<path d="M130.7,95.1l.6,1.4 .7,1.4" stroke="#001890" stroke-width="1.0" opacity="0.6"/>
<path d="M63.8,57.6l1.2,1.1 1.1,1.1 1,1.2 1.1,1.2 1,1.3 .9,1.3" stroke="#78a830" stroke-width="1.5" opacity="0.6"/>
<path d="M147.4,113.8l1.2,1.1 1.1,1.1 1.2,1.1 1.2,1.1 1.1,1.2 1.1,1.1" stroke="#606018" stroke-width="1.5" opacity="0.4"/>
<path d="M82.9,60.1l.1,-1.6 .2,-1.6 .2,-1.6 .1,-1.6" stroke="#007818" stroke-width="1.0" opacity="0.6"/>
<path d="M144,138.9l1.2,1 1.2,1 1.2,1 1.3,1.1 1.2,1 1.2,1.1M142.2,136.4l1.2,1 1.2,1 1.3,1 1.2,1.1 1.2,1 1.2,1" stroke="#483018" stroke-width="1.0" opacity="0.6"/>
<path d="M61.4,144.8l.8,-1.4 .8,-1.4M142,47.8l.6,-1.5 .6,-1.5" stroke="#187818" stroke-width="1.0" opacity="0.4"/>
<path d="M158,105.1l1.4,.7 1.5,.7 1.4,.7 1.5,.6M88.5,103l1.4,-.8 1.4,-.7 1.5,-.6 1.5,-.7 1.5,-.5 1.5,-.4M75.8,105l1.5,-.7 1.4,-.7M80.3,73.9l1.3,.9 1.5,.7 1.4,.8 1.4,.7 1.4,.7 1.5,.7" stroke="#481800" stroke-width="1.0" opacity="0.4"/>
<path d="M70.5,109.4l1.5,-.7 1.4,-.7 1.4,-.7 1.5,-.7 1.4,-.8 1.4,-.7M116.5,101.3l1.5,.6 1.4,.7 1.5,.7 1.4,.7M147.4,100.1l1.4,.8 1.4,.8 1.4,.8 1.3,.7M66.5,71.6l1.3,.8 1.4,.8 1.4,.8 1.4,.8" stroke="#601800" stroke-width="1.0" opacity="0.4"/>
<path d="M94.3,128.5l.9,-1.4 .8,-1.4 .8,-1.3 .8,-1.4" stroke="#309018" stroke-width="1.5" opacity="0.6"/>
<path d="M146.9,70.5l.2,-1.6 .2,-1.6 .3,-1.6 .2,-1.5" stroke="#009000" stroke-width="1.0" opacity="0.8"/>
<path d="M143.4,111.6l1.2,1 1.1,1.1" stroke="#907818" stroke-width="1.5" opacity="0.4"/>
<path d="M146.7,74.9l1.2,1 1.4,.7 1.5,.7 1.5,.6M121.7,96.8l1.6,-.3 1.4,-.7 1.5,-.6 .7,-1.5" stroke="#901800" stroke-width="1.0" opacity="0.6"/>
<path d="M91.3,125.1l.9,-1.3 .9,-1.4" stroke="#30a818" stroke-width="1.0" opacity="0.4"/>
<path d="M150.1,134.2l1.1,1.2 1.2,1.1" stroke="#484800" stroke-width="1.5" opacity="0.6"/>
<path d="M115,111.9l.9,1.4 .9,1.3M141.3,135.6l1.2,1 1.2,1.1M126.3,49.6l1.3,-.9 1.4,-.9M167.1,78l1.5,.5 1.5,.6M56,54.9l1.5,.6 1.5,.5" stroke="#181860" stroke-width="1.0" opacity="0.4"/>
<path d="M122.6,67l.2,1.6 .2,1.6M138.3,63.5l0,-1.6 0,1.6 0,1.6 0,1.6M115.8,68.8l.6,1.6 .4,1.5 .5,1.5 .4,1.6" stroke="#004800" stroke-width="1.0" opacity="0.8"/>
<path d="M85.8,113.7l1.1,-1.2 1,-1.2M58.9,52.8l1.4,.7 1.4,.8" stroke="#000090" stroke-width="1.0" opacity="0.8"/>
<path d="M57.9,58.4l1.4,.7 1.4,.8" stroke="#180090" stroke-width="1.0" opacity="0.6"/>
<path d="M64.6,63l1.1,1.2 1.2,1.1" stroke="#a8a818" stroke-width="1.5" opacity="0.6"/>
<path d="M102.7,152.1l1.3,-.9 1.3,-.9 1.3,-.9 1.4,-.9" stroke="#603018" stroke-width="1.0" opacity="0.6"/>
<path d="M93.7,152.6l1.1,-1.1 1.2,-1.1" stroke="#180060" stroke-width="1.5" opacity="0.8"/>
<path d="M104.2,136.8l1.1,-1.2 1.1,-1.2 .9,-1.4 .9,-1.3 .7,-1.4 .6,-1.5M81.8,150.8l.9,-1.3 1,-1.3 .9,-1.3 1.1,-1.2M158.9,62l.9,-1.3 .9,-1.3" stroke="#306000" stroke-width="1.0" opacity="0.4"/>
<path d="M142.6,95.2l1.3,1 1.2,1M119.6,74.7l.2,1.6 .1,1.6M69.8,61l.8,1.4 .8,1.3" stroke="#001878" stroke-width="1.0" opacity="0.6"/>
<path d="M62.9,136.3l1.2,-1.1 1.2,-1 1.2,-1.1 1.2,-1" stroke="#483018" stroke-width="1.0" opacity="0.4"/>
<path d="M101.4,149.2l1.4,-.9 1.3,-.8 1.4,-.8 1.4,-.8M81.4,106.8l1.3,-.9 1.4,-.9 1.3,-.8 1.4,-.9M93.1,83.6l1.3,.9 1.4,.9" stroke="#481800" stroke-width="1.0" opacity="0.6"/>
<path d="M52.7,116.2l1.6,0 1.6,-.1 1.6,0 1.6,0 1.6,-.1 1.6,-.2" stroke="#600000" stroke-width="1.5" opacity="0.8"/>
<path d="M114.6,109.3l.9,1.2 1,1.3 1,1.3 .9,1.3 1,1.3 .9,1.2" stroke="#487818" stroke-width="1.5" opacity="0.6"/>
<path d="M122.7,102.1l1.4,.7 1.5,.7M124,102.3l1.4,.7 1.4,.8" stroke="#183090" stroke-width="1.0" opacity="0.6"/>
<path d="M134.4,53.4l.5,-1.5 .5,-1.5M111.7,116.4l.6,1.5 .5,1.5 .6,1.5 .6,1.5 .6,1.4 .6,1.5" stroke="#189000" stroke-width="1.0" opacity="0.4"/>
<path d="M90.5,158l.8,-1.4 .7,-1.4" stroke="#000078" stroke-width="1.5" opacity="0.4"/>
<path d="M144.7,75.6l.6,1.5 1,1.2 1.1,1.2 1.3,1" stroke="#607818" stroke-width="1.0" opacity="0.4"/>
<path d="M62.2,150.7l.5,-1.5 .7,-1.4 .6,-1.5 .7,-1.4" stroke="#186000" stroke-width="1.0" opacity="0.8"/>
<path d="M87,153.2l1,-1.3 1,-1.2 1.1,-1.3 1.1,-1.1M56.9,138.9l1,-1.3 1,-1.2" stroke="#486018" stroke-width="1.0" opacity="0.4"/>
<path d="M65.3,46.4l1.1,1.1 1.2,1.1M59.8,136.7l1.2,-1.1 1.2,-1.1 1.2,-1 1.3,-1 1.2,-1 1.3,-1M137.7,145.3l1.3,1 1.3,.9M143.8,148.8l1.2,1 1.3,1.1M145.5,146.7l1.2,1.1 1.2,1 1.2,1.1 1.1,1.1" stroke="#483000" stroke-width="1.0" opacity="0.6"/>
<path d="M95.5,77.2l1.1,1.1 1.1,1.2 1,1.2 1.1,1.2 .9,1.3 .9,1.3" stroke="#304818" stroke-width="1.0" opacity="0.4"/>
<path d="M153.1,44.9l.1,-1.6 0,-1.6" stroke="#001830" stroke-width="1.5" opacity="0.8"/>
<path d="M143.9,119.8l1.1,1.2 1.1,1.1 1.1,1.2 1.1,1.2M83.4,140.5l1.1,-1.2 1.1,-1.2 1,-1.2 1.1,-1.2" stroke="#486018" stroke-width="1.0" opacity="0.6"/>
<path d="M111.6,134.9l.3,-1.6 .1,-1.6 .2,-1.6 0,1.6" stroke="#009018" stroke-width="1.0" opacity="0.4"/>
<path d="M47.2,65.9l1.1,1.2 1,1.3 .9,1.3 .9,1.4M100.2,93.5l1,1.2 1,1.2" stroke="#304800" stroke-width="1.0" opacity="0.4"/>
<path d="M133,45.3l1.5,.3 1.6,.4M132.5,45.8l1.6,.3 1.6,.3" stroke="#780000" stroke-width="1.0" opacity="0.8"/>
<path d="M155.6,83.8l1.4,.6 1.5,.6M77.7,102.4l1.4,-.6 1.5,-.6 1.5,-.6 1.5,-.6" stroke="#601818" stroke-width="1.5" opacity="0.6"/>
<path d="M54.9,53.3l1.6,.5 1.5,.6M65.5,107.4l1.5,-.3 1.6,-.4 1.5,-.5 1.5,-.5 1.5,-.5 1.5,-.6" stroke="#600018" stroke-width="1.0" opacity="0.4"/>
<path d="M71,124.6l1.2,-1.1 1.2,-1 1.2,-1 1.2,-1.1M62.2,66.8l1.2,1 1.2,1" stroke="#784800" stroke-width="1.0" opacity="0.4"/>
<path d="M63.1,44.4l1.2,1 1.3,1M138.2,127l1.2,1.2 1.1,1.1 1.1,1.1 1.2,1.1" stroke="#604800" stroke-width="1.5" opacity="0.4"/>
<path d="M148.7,71.8l.7,-1.5 .9,-1.3 .9,-1.4 .8,-1.3 .9,-1.3 .9,-1.4" stroke="#48a818" stroke-width="1.5" opacity="0.4"/>
<path d="M152.7,46.1l0,1.6 0,1.6M116.4,163.6l.2,-1.6 .2,-1.6 .3,-1.6 .2,-1.6M110.1,91.3l.3,-1.5 .3,-1.6 .2,-1.6 .2,-1.6" stroke="#003000" stroke-width="1.0" opacity="0.8"/>
<path d="M159.8,102.2l1.5,.7 1.4,.6M135.2,37.5l1.4,-.6 1.4,-.9 1.3,-.8 1.2,-1.1M62.7,130.7l1.3,-.9 1.3,-.9" stroke="#481800" stroke-width="1.5" opacity="0.6"/>
<path d="M147.5,145.8l1.2,1.1 1.1,1.1 1.2,1.1 1.1,1.1 1.2,1.1 1.1,1.2M151,146.7l1.2,1.1 1.1,1.1M95.9,77l1.1,1.2 1,1.1 1.1,1.3 1,1.2 .9,1.3 .9,1.4" stroke="#303000" stroke-width="1.0" opacity="0.6"/>
<path d="M112.5,148.1l.9,-1.4 .9,-1.3M99.5,70.1l.8,1.4 .9,1.4M107.2,91.5l0,-1.6 0,-1.6" stroke="#001830" stroke-width="1.0" opacity="0.6"/>
<path d="M142.9,98.1l1.3,.9 1.4,.9 1.3,.9 1.4,.8M72,114.9l1.4,-.8 1.3,-.9 1.3,-.9 1.3,-.9" stroke="#783018" stroke-width="1.0" opacity="0.6"/>
<path d="M164.2,67.9l1.6,0 1.6,0" stroke="#600018" stroke-width="1.0" opacity="0.6"/>
<path d="M146.1,101.9l1.4,.9 1.3,.8" stroke="#903018" stroke-width="1.0" opacity="0.4"/>
<path d="M153.7,110l1.3,.9 1.3,1" stroke="#904818" stroke-width="1.0" opacity="0.4"/>
<path d="M138.7,96.6l1.1,1.1 1.2,1.1 1.3,.9 1.3,1 1.3,.9 1.3,.9M140.2,98.8l1.2,1 1.3,.9 1.3,.9 1.4,.9 1.3,.9 1.3,.9" stroke="#c06018" stroke-width="1.5" opacity="0.6"/>
<path d="M90.4,122.6l.8,-1.4 .9,-1.3" stroke="#309018" stroke-width="1.0" opacity="0.4"/>
<path d="M102.3,128.5l.7,-1.4 .7,-1.5" stroke="#000060" stroke-width="1.0" opacity="0.6"/>
<path d="M123.1,131.9l1,1.2 1.1,1.2 1,1.3 1.1,1.1" stroke="#486000" stroke-width="1.5" opacity="0.4"/>
<path d="M134,156.9l.7,1.4 .6,1.5 .6,1.5 .6,1.5" stroke="#186018" stroke-width="1.5" opacity="0.8"/>
<path d="M122.9,117.4l1,1.2 1,1.3 1,1.2 1,1.2 1.1,1.3 1,1.2" stroke="#487800" stroke-width="1.5" opacity="0.6"/>
<path d="M142.8,39.6l1,-1.3 .9,-1.3M136.6,153.1l1,1.2 1,1.3 1,1.3 .9,1.3 .9,1.3 .7,1.4" stroke="#306018" stroke-width="1.5" opacity="0.4"/>
<path d="M118.4,117.8l.9,1.3 .9,1.3" stroke="#003090" stroke-width="1.0" opacity="0.6"/>
<path d="M75.7,59.9l.3,1.6 .4,1.5" stroke="#009000" stroke-width="1.5" opacity="0.8"/>
<path d="M139.1,104.3l1.3,1 1.3,1" stroke="#c06000" stroke-width="1.5" opacity="0.6"/>
<path d="M86.5,142.2l1.1,-1.1 1.1,-1.2 1.1,-1.1 1.1,-1.2M77.7,117.7l1.2,-1.1 1.1,-1.1" stroke="#909000" stroke-width="1.5" opacity="0.8"/>
<path d="M122.6,115.1l1,1.2 1,1.2 1,1.3 1.1,1.2 1,1.2 1,1.2" stroke="#607800" stroke-width="1.0" opacity="0.4"/>
<path d="M90.8,161.1l.6,-1.5 .5,-1.5M141.7,46.2l.7,-1.4 .8,-1.4 .8,-1.4 .8,-1.4" stroke="#187800" stroke-width="1.0" opacity="0.4"/>
<path d="M115,104.6l1.2,1 1.3,1 1.2,1.1 1.2,1" stroke="#604818" stroke-width="1.0" opacity="0.6"/>
<path d="M77.8,109.9l1.3,-.9 1.3,-.9M53,46.1l1.3,.8 1.5,.7 1.4,.8 1.4,.7M52.4,129.9l1.4,-.7 1.4,-.7M58.8,77.5l1.2,1.1 1.3,.9 1.4,.8 1.4,.8 1.5,.6 1.5,.5" stroke="#481800" stroke-width="1.0" opacity="0.8"/>
<path d="M132.9,143.3l1.2,.9 1.3,1 1.3,1 1.3,1" stroke="#603018" stroke-width="1.5" opacity="0.4"/>
<path d="M143,95.1l1.3,.9 1.4,.9 1.3,.8 1.4,.8 1.4,.7 1.5,.8" stroke="#a83018" stroke-width="1.5" opacity="0.6"/>
<path d="M151.3,131.9l1.1,1.2 1.1,1.1 1.1,1.2 1.1,1.2 1,1.2 1.1,1.2" stroke="#304800" stroke-width="1.5" opacity="0.6"/>
<path d="M152.3,113.9l1.2,1.1 1.2,1 1.2,1.1 1.2,1 1.3,1 1.2,1M140.3,150.5l1.1,1.1 1.2,1.1 1.1,1.1 1.1,1.2" stroke="#604800" stroke-width="1.5" opacity="0.6"/>
<path d="M129.4,119.1l1,1.2 1.1,1.1" stroke="#90c018" stroke-width="1.5" opacity="0.6"/>
<path d="M128,150.5l.9,1.3 .9,1.3 .9,1.3 .9,1.4M75,37.1l.8,1.4 .7,1.4 .7,1.4 .7,1.5 .7,1.4 .5,1.5M90.5,65.6l.5,1.5 .6,1.5 .7,1.4 .8,1.4 .8,1.4 1,1.3M100.7,88.8l.7,1.4 .7,1.5 .6,1.4 .7,1.5M70.3,152.8l.6,-1.5 .7,-1.5 .8,-1.4 .7,-1.4 .8,-1.4 .9,-1.3" stroke="#184800" stroke-width="1.0" opacity="0.6"/>
<path d="M116.3,138l.4,1.5 .4,1.6M74.5,54.1l.3,1.5 .4,1.6 .3,1.6 .3,1.6" stroke="#007800" stroke-width="1.5" opacity="0.4"/>
<path d="M124,139.2l1.1,1.2 1,1.2 1.1,1.2 1.1,1.1M148,127.8l1.1,1.2 1.1,1.1 1.1,1.2 1.1,1.1M114.1,105.6l1.1,1.1 1.2,1.2 1.1,1.1 1.1,1.2M86.4,144.8l1.1,-1.1 1.2,-1.1 1.1,-1.2 1.1,-1.1M138.3,128.4l1.2,1.1 1.1,1.2" stroke="#606018" stroke-width="1.0" opacity="0.6"/>
<path d="M63.2,132.5l1.2,-.9 1.3,-1" stroke="#481818" stroke-width="1.5" opacity="0.4"/>
<path d="M102.1,122.5l.5,-1.5 .5,-1.5M125.3,82.6l.1,-1.6 .2,-1.6" stroke="#180078" stroke-width="1.0" opacity="0.6"/>
<path d="M153.1,70l1.6,-.4 1.5,-.4" stroke="#000060" stroke-width="1.0" opacity="0.4"/>
<path d="M76.7,114.9l1.3,-1 1.2,-1M105.5,145.3l1.3,-.8 1.4,-.9 1.2,-1 1.3,-1 1.1,-1.1 1,-1.3" stroke="#784800" stroke-width="1.5" opacity="0.4"/>
<path d="M134.1,111.5l1.1,1.1 1.2,1.1 1.2,1.1 1.1,1.1" stroke="#c0a818" stroke-width="1.0" opacity="0.6"/>
<path d="M149.5,67.2l.5,-1.5 .6,-1.5M75.5,141.4l1,-1.3 1,-1.2" stroke="#001878" stroke-width="1.5" opacity="0.6"/>
<path d="M100.6,141.5l1.3,-1 1.3,-.9 1.2,-1 1.3,-1" stroke="#784800" stroke-width="1.5" opacity="0.6"/>
<path d="M59,135.4l1.2,-1 1.2,-1M98.1,140.3l1.2,-1.1 1.2,-1 1.3,-1 1.1,-1.1M68.3,69.5l1.3,1 1.2,1M135.8,132.4l1.2,1 1.3,1.1 1.2,1 1.2,1.1" stroke="#604800" stroke-width="1.0" opacity="0.6"/>
<path d="M126.7,48l1.4,-.7 1.4,-.7M138.1,61.5l.1,-1.6 0,-1.6" stroke="#180048" stroke-width="1.5" opacity="0.6"/>
<path d="M79.2,133.1l1,-1.2 1,-1.3 1,-1.2 1,-1.3 1,-1.3 .9,-1.3M68.1,142.7l1,-1.3 .9,-1.3" stroke="#489000" stroke-width="1.0" opacity="0.6"/>
<path d="M62.3,70l1.2,1 1.3,1 1.3,.9 1.3,.9" stroke="#784818" stroke-width="1.0" opacity="0.8"/>
<path d="M143.4,116.2l1.1,1.1 1.1,1.2 1.2,1.1 1.1,1.2 1.1,1.2 1.1,1.1" stroke="#787800" stroke-width="1.0" opacity="0.4"/>
<path d="M148.6,79.4l1.4,.7 1.5,.6 1.4,.7 1.5,.6" stroke="#a81818" stroke-width="1.5" opacity="0.6"/>
<path d="M106.5,150.9l1.2,-.9 1.3,-1M61.9,136.5l1.1,-1.1 1.2,-1.1M105.4,116l.3,-1.6 .2,-1.5M65.6,48.2l1.2,1.1 1.1,1.1M140.4,153.8l1.1,1.2 1,1.2M113.9,102.8l1.3,.9 1.3,.9" stroke="#180060" stroke-width="1.0" opacity="0.4"/>
<path d="M108.8,130.1l.4,-1.5 .4,-1.6M123.7,115.1l1.1,1.2 1,1.2M65.4,71.7l1.4,.8 1.3,.9" stroke="#000078" stroke-width="1.0" opacity="0.4"/>
<path d="M112.9,139.6l.4,-1.6 .4,-1.5" stroke="#001860" stroke-width="1.5" opacity="0.6"/>
<path d="M115.2,131.4l.4,1.6 .5,1.5 .5,1.5 .5,1.5M109.6,117.6l.2,1.6 .3,1.6 .2,1.6 .2,1.6" stroke="#009000" stroke-width="1.0" opacity="0.6"/>
<path d="M72.5,133.2l1.1,-1.2 1.1,-1.1" stroke="#787818" stroke-width="1.5" opacity="0.6"/>
<path d="M108.4,101.4l.1,1.6 .1,1.6" stroke="#180060" stroke-width="1.5" opacity="0.6"/>
<path d="M63.5,102.5l1.6,.1 1.6,.1" stroke="#000060" stroke-width="1.5" opacity="0.4"/>
<path d="M146.8,110.7l1.2,1.1 1.2,1 1.2,1.1 1.2,1 1.2,1.1 1.2,1.1" stroke="#a87818" stroke-width="1.0" opacity="0.4"/>
<path d="M121.1,114.7l1,1.3 1,1.2 1,1.2 1,1.3 1,1.2 1,1.3" stroke="#78a818" stroke-width="1.0" opacity="0.6"/>
<path d="M156.1,140.9l1.1,1.2 1,1.2" stroke="#303000" stroke-width="1.5" opacity="0.4"/>
<path d="M121,124.8l.9,1.3 .9,1.4" stroke="#48a800" stroke-width="1.0" opacity="0.6"/>
<path d="M140.5,142l1.3,1 1.3,.9 1.3,1 1.2,1" stroke="#603018" stroke-width="1.0" opacity="0.4"/>
<path d="M160.6,72.5l1.6,.3 1.5,.3" stroke="#900000" stroke-width="1.0" opacity="0.8"/>
<path d="M146.1,100.8l1.4,.8 1.4,.8 1.3,.9 1.4,.8" stroke="#783000" stroke-width="1.0" opacity="0.4"/>
<path d="M94.5,79.1l1.2,1.1 1.2,1" stroke="#483000" stroke-width="1.5" opacity="0.4"/>
<path d="M79.4,120.8l1,-1.2 1.1,-1.2M146.2,122.9l1.1,1.2 1.1,1.2" stroke="#607800" stroke-width="1.0" opacity="0.6"/>
<path d="M72.2,41.2l.9,1.3 .8,1.3" stroke="#306000" stroke-width="1.5" opacity="0.4"/>
<path d="M107.2,146.1l1.3,-.9 1.3,-.9 1.3,-1 1.1,-1.1" stroke="#483018" stroke-width="1.5" opacity="0.4"/>
<path d="M134.5,133.5l1.2,1.1 1.2,1 1.3,1.1 1.2,1" stroke="#784818" stroke-width="1.0" opacity="0.6"/>
<path d="M66.1,119.9l1.4,-.7 1.4,-.8 1.4,-.8 1.3,-.9" stroke="#481800" stroke-width="1.5" opacity="0.8"/>
<path d="M98,147.6l1.3,-.9 1.4,-.8 1.3,-.9 1.4,-.8" stroke="#481818" stroke-width="1.0" opacity="0.4"/>
<path d="M124.9,136.2l1,1.2 1.1,1.1" stroke="#609018" stroke-width="1.5" opacity="0.4"/>
<path d="M57.6,55.8l1.5,.7 1.4,.7 1.4,.8 1.3,.9" stroke="#901818" stroke-width="1.0" opacity="0.4"/>
<path d="M121,132l.9,1.3 .9,1.3" stroke="#000060" stroke-width="1.5" opacity="0.8"/>
<path d="M142.7,81.1l.6,1.5 .6,1.5" stroke="#18a800" stroke-width="1.0" opacity="0.6"/>
<path d="M43.3,76.7l0,1.6 .1,1.6M97.8,168.8l0,-1.6 0,-1.6" stroke="#180048" stroke-width="1.0" opacity="0.6"/>
<path d="M67.6,61.6l1,1.3 1,1.3 .9,1.2 1,1.3 1,1.3 1,1.2" stroke="#487818" stroke-width="1.5" opacity="0.8"/>
<path d="M150.3,134.4l1.2,1.2 1.1,1.1" stroke="#181848" stroke-width="1.0" opacity="0.8"/>
<path d="M143,46.1l.7,-1.5 .6,-1.4 .7,-1.5 .7,-1.4 .7,-1.4 .7,-1.5" stroke="#186000" stroke-width="1.5" opacity="0.4"/>
<path d="M87.3,144.9l1.1,-1.1 1.2,-1.1 1.1,-1.1 1.2,-1.1" stroke="#606000" stroke-width="1.5" opacity="0.6"/>
<path d="M118.9,129.3l.8,1.3 .8,1.4" stroke="#181890" stroke-width="1.5" opacity="0.4"/>
<path d="M144.5,111l1.2,1 1.2,1.1 1.1,1.1 1.2,1.1 1.2,1.1 1.1,1.1" stroke="#786000" stroke-width="1.5" opacity="0.8"/>
<path d="M128.6,118.7l1.1,1.2 1,1.2" stroke="#1818a8" stroke-width="1.5" opacity="0.4"/>
<path d="M77,70.8l1.2,1 1.2,1.1" stroke="#604800" stroke-width="1.0" opacity="0.8"/>
<path d="M57.3,58.4l1.4,.7 1.4,.7" stroke="#303090" stroke-width="1.0" opacity="0.6"/>
<path d="M159.7,128.9l1.2,1.1 1.2,1.1 1.1,1.1 1.2,1M94.3,74.9l1.1,1.2 1.1,1.2 1.1,1.1 1.1,1.2" stroke="#484818" stroke-width="1.5" opacity="0.6"/>
<path d="M99,151.8l1.3,-1 1.2,-.9M54.2,135.2l1.2,-1.1 1.2,-1" stroke="#483000" stroke-width="1.5" opacity="0.6"/>
<path d="M125.2,57.5l.5,-1.5 .6,-1.4 .9,-1.4 .8,-1.4 1,-1.2 1.2,-1" stroke="#307818" stroke-width="1.0" opacity="0.6"/>
<path d="M71,147.7l.9,-1.4 .8,-1.3" stroke="#181848" stroke-width="1.5" opacity="0.4"/>
<path d="M91.5,159.4l.7,-1.5 .8,-1.3 1,-1.3 .9,-1.3 1,-1.2 1.2,-1.2" stroke="#307800" stroke-width="1.0" opacity="0.8"/>
<path d="M148,63l.3,-1.6 .1,-1.6 .2,-1.6 .2,-1.6" stroke="#006018" stroke-width="1.0" opacity="0.8"/>
<path d="M143.7,108.1l1.3,1 1.2,1" stroke="#784800" stroke-width="1.0" opacity="0.8"/>
<path d="M97.6,160.6l.7,-1.4 .7,-1.4" stroke="#001848" stroke-width="1.5" opacity="0.6"/>
<path d="M128.1,136.4l1.2,1.1 1.2,1.1 1.2,1 1.2,1.1" stroke="#604818" stroke-width="1.5" opacity="0.8"/>
<path d="M166.8,62.8l1.5,-.5 1.6,-.5M44.9,112.4l1.4,-.7 1.5,-.6 1.5,-.7 1.5,-.6" stroke="#300000" stroke-width="1.0" opacity="0.6"/>
<path d="M74.3,141.2l1.1,-1.2 1,-1.3" stroke="#000078" stroke-width="1.5" opacity="0.6"/>
<path d="M146.4,101.8l1.3,.9 1.4,.8" stroke="#a83018" stroke-width="1.0" opacity="0.6"/>
<path d="M155.6,68l1.5,-.6 1.5,-.6 1.4,-.5 1.5,-.6" stroke="#781818" stroke-width="1.5" opacity="0.8"/>
<path d="M93.2,85.1l1.3,.9 1.3,1 1.1,1.1 1.2,1.1 1.1,1.2 1,1.2M141.4,127l1.2,1.1 1.1,1.1 1.1,1.1 1.2,1.2M150.5,140.4l1.1,1.1 1.2,1.1" stroke="#484800" stroke-width="1.0" opacity="0.6"/>
<path d="M132.1,66l0,1.6 0,1.6M104.5,96.4l1,1.3 .9,1.3M150.3,143.2l1.2,1.1 1.1,1.1" stroke="#181848" stroke-width="1.0" opacity="0.4"/>
<path d="M86.7,118.6l.9,-1.3 .9,-1.3" stroke="#489018" stroke-width="1.0" opacity="0.6"/>
<path d="M92,157l.9,-1.3 .9,-1.4" stroke="#307800" stroke-width="1.0" opacity="0.4"/>
<path d="M76.4,72.8l1.4,.8 1.4,.8 1.4,.8 1.4,.7" stroke="#601818" stroke-width="1.0" opacity="0.4"/>
<path d="M148.2,104.4l1.3,.9 1.4,.9 1.3,.9 1.3,.9 1.3,.9 1.3,.9" stroke="#783018" stroke-width="1.5" opacity="0.4"/>
<path d="M136.7,81l0,1.6 0,1.6" stroke="#009018" stroke-width="1.0" opacity="0.6"/>
<path d="M63.2,72.2l1.3,.9 1.3,.9" stroke="#784818" stroke-width="1.0" opacity="0.4"/>
<path d="M66.7,151.6l.6,-1.5 .6,-1.5" stroke="#001848" stroke-width="1.5" opacity="0.4"/>
<path d="M72.9,142.2l1,-1.3 1,-1.2" stroke="#487800" stroke-width="1.0" opacity="0.4"/>
<path d="M175.6,93.6l1.6,.1 1.6,.1M66.1,154l.5,-1.5 .5,-1.5M92.8,65.1l.4,1.6 .5,1.5" stroke="#000048" stroke-width="1.0" opacity="0.6"/>
<path d="M69.6,150l.7,-1.5 .7,-1.4" stroke="#184800" stroke-width="1.5" opacity="0.6"/>
<path d="M62.4,146.8l.7,-1.4 .8,-1.4 .8,-1.4 .9,-1.3" stroke="#186018" stroke-width="1.5" opacity="0.4"/>
<path d="M89.2,121.4l.9,-1.4 .9,-1.3M94.9,125.7l.8,-1.4 .8,-1.4" stroke="#309018" stroke-width="1.5" opacity="0.4"/>
<path d="M145.9,150.4l1.1,1.1 1.1,1.1 1.2,1.2 1.1,1.1" stroke="#303000" stroke-width="1.0" opacity="0.4"/>
<path d="M107.9,129.2l.4,-1.5 .4,-1.6" stroke="#001878" stroke-width="1.5" opacity="0.8"/>
<path d="M82,131.2l1,-1.3 1,-1.3 .9,-1.2 1,-1.3" stroke="#60a800" stroke-width="1.0" opacity="0.4"/>
<path d="M156.1,137.5l1,1.2 1.1,1.2" stroke="#304818" stroke-width="1.0" opacity="0.8"/>
<path d="M89.1,79.3l1.4,.7 1.4,.7" stroke="#601818" stroke-width="1.0" opacity="0.6"/>
<path d="M132.8,41.8l1.6,.2 1.5,.2 1.6,.1 1.6,.1 1.6,-.2 1.4,-.9" stroke="#780000" stroke-width="1.5" opacity="0.8"/>
<path d="M153.8,80.4l1.5,.6 1.5,.7" stroke="#a81800" stroke-width="1.5" opacity="0.4"/>
<path d="M151.4,68.9l1.2,-1.1 1.2,-1.1" stroke="#181890" stroke-width="1.0" opacity="0.4"/>
<path d="M110.5,72.8l.6,1.5 .6,1.4M129.1,146.1l1.1,1.1 1.2,1.2" stroke="#181860" stroke-width="1.5" opacity="0.8"/>
<path d="M135.1,105.9l1.3,.9 1.2,1 1.3,1 1.2,1" stroke="#d87818" stroke-width="1.5" opacity="0.4"/>
<path d="M112.4,95.3l1.1,-1.2 .9,-1.3 .9,-1.3 .8,-1.4 .8,-1.4 .6,-1.5M142.8,35.4l.9,-1.4 .8,-1.3" stroke="#183000" stroke-width="1.0" opacity="0.6"/>
<path d="M130.9,116.3l1.1,1.1 1.1,1.2 1.1,1.2 1.1,1.1" stroke="#789000" stroke-width="1.5" opacity="0.6"/>
<path d="M55.5,50.9l1.4,.6 1.5,.6" stroke="#601818" stroke-width="1.0" opacity="0.8"/>
<path d="M111.9,94.4l.9,-1.4 .9,-1.3" stroke="#183000" stroke-width="1.5" opacity="0.4"/>
<path d="M122.2,109.6l1.2,1 1.2,1.2 1.1,1.1 1.1,1.1" stroke="#907800" stroke-width="1.5" opacity="0.8"/>
<path d="M49.9,58.7l1.5,.5 1.5,.6 1.5,.6 1.4,.6" stroke="#781800" stroke-width="1.5" opacity="0.8"/>
<path d="M57.1,63.8l1.3,.9 1.3,1 1.2,1 1.3,1 1.2,1 1.2,1.1" stroke="#906018" stroke-width="1.5" opacity="0.6"/>
<path d="M125.5,139.7l1.1,1.1 1.2,1.1 1.1,1.1 1.2,1.1 1.2,1.1 1.2,1.1" stroke="#786000" stroke-width="1.0" opacity="0.6"/>
<path d="M140.4,61.5l.1,-1.6 0,-1.6" stroke="#000060" stroke-width="1.0" opacity="0.8"/>
<path d="M167.1,96.3l1.5,.4 1.6,.4" stroke="#001830" stroke-width="1.0" opacity="0.4"/>
<path d="M150.1,62l.3,-1.6 .2,-1.6" stroke="#001890" stroke-width="1.0" opacity="0.8"/>
<path d="M70.8,121.4l1.3,-.9 1.3,-1" stroke="#904800" stroke-width="1.0" opacity="0.6"/>
<path d="M68.8,141.6l1,-1.2 1,-1.3 1.1,-1.2 1,-1.2 1.1,-1.2 1.1,-1.1" stroke="#607800" stroke-width="1.5" opacity="0.6"/>
<path d="M132.3,110.8l1.2,1 1.2,1.1 1.2,1.1 1.2,1.1" stroke="#907800" stroke-width="1.0" opacity="0.8"/>
<path d="M111.5,162.1l.4,-1.5 .4,-1.6" stroke="#000018" stroke-width="1.5" opacity="0.6"/>
<path d="M119.6,111.6l1.1,1.2 1.1,1.2 1,1.2 1,1.2 1.1,1.2 1,1.3" stroke="#609018" stroke-width="1.0" opacity="0.8"/>
<path d="M129.1,99.8l1.3,.9 1.4,.8" stroke="#903000" stroke-width="1.0" opacity="0.6"/>
<path d="M91.1,81.9l1.4,.7 1.4,.8" stroke="#000030" stroke-width="1.0" opacity="0.6"/>
<path d="M133.8,155.5l.8,1.4 .8,1.4" stroke="#184800" stroke-width="1.0" opacity="0.8"/>
<path d="M86.3,142.7l1.1,-1.1 1.1,-1.2 1.1,-1.1 1.1,-1.2" stroke="#606018" stroke-width="1.5" opacity="0.6"/>
<path d="M94.3,125l.8,-1.4 .8,-1.3" stroke="#307800" stroke-width="1.5" opacity="0.4"/>
<path d="M89,81.8l1.5,.6 1.5,.6" stroke="#180030" stroke-width="1.5" opacity="0.4"/>
<path d="M88.4,110.6l1.1,-1.1 1.1,-1.2 1.1,-1.1 1.2,-1.1" stroke="#606018" stroke-width="1.0" opacity="0.8"/>
<path d="M112,157.7l.7,-1.5 .7,-1.4 .7,-1.4 .7,-1.5" stroke="#183000" stroke-width="1.5" opacity="0.6"/>
<path d="M54.3,129.3l1.4,-.7 1.5,-.6 1.5,-.6 1.5,-.7 1.4,-.6 1.5,-.6" stroke="#300000" stroke-width="1.0" opacity="0.8"/>
<path d="M165.7,115.9l1.5,.4 1.6,.4" stroke="#780000" stroke-width="1.5" opacity="0.6"/>
</g>
<g id="sB" fill="none" stroke-linecap="round">
<path d="M86.3,353.7l.3,-1.5 .2,-1.6M68.7,273.1l1.4,.7 1.5,.7M100.8,355.6l.5,-1.5 .4,-1.6M88,288.1l.3,-1.5 .2,-1.6" stroke="#001860" stroke-width="1.0" opacity="0.6"/>
<path d="M75.5,257.1l.8,1.4 .7,1.5 .6,1.5 .6,1.5" stroke="#187800" stroke-width="1.5" opacity="0.8"/>
<path d="M146.7,329l.8,1.4 .7,1.4 .6,1.5 .6,1.5 .6,1.5 .4,1.5M154.9,340.6l.7,1.5 .6,1.5M95.2,371.1l.8,-1.4 .9,-1.3 .9,-1.4 .8,-1.3M63.7,234.4l.7,1.5 .7,1.4 .7,1.4 .7,1.4M107.4,345.1l.6,-1.4 .7,-1.5 .6,-1.5 .7,-1.4 .5,-1.5 .5,-1.6M137.3,301.3l.6,1.5 .7,1.4 .6,1.5 .7,1.5 .7,1.4 .7,1.5M118.4,277.3l1,-1.2 .9,-1.3 .8,-1.4 .8,-1.4 .5,-1.5 .4,-1.5M108.9,344.2l.7,-1.4 .7,-1.5" stroke="#186000" stroke-width="1.5" opacity="0.6"/>
<path d="M74.5,294l1.3,-.9 1.4,-.8" stroke="#903018" stroke-width="1.0" opacity="0.6"/>
<path d="M124.2,353.7l.1,1.6 .2,1.5M104.8,369.7l.2,-1.6 .1,-1.6M153.8,332.6l.5,1.5 .6,1.5M134.9,213.9l.3,1.6 .2,1.6M138.3,311.8l.5,1.5 .6,1.5M79.9,208.2l.6,1.5 .5,1.5 .4,1.6 .5,1.5 .4,1.6 .4,1.5" stroke="#007800" stroke-width="1.5" opacity="0.4"/>
<path d="M102.5,318.6l1.6,.1 1.6,.2 1.6,.2 1.6,.3M153.4,286.9l1.6,-.1 1.6,.1 1.5,.3 1.6,.3 1.6,.4 1.5,.5M146.6,298.8l1.6,0 1.6,0 1.6,0 1.6,-.1M91.8,318.5l1.5,-.4 1.6,-.4M64.5,341.3l1.4,-.7 1.5,-.6 1.5,-.6 1.5,-.5M147.1,273.3l1.6,-.4 1.6,-.3M93.2,242.9l1.5,.5 1.5,.5 1.6,.4 1.5,.4M162.6,279.9l1.5,.6 1.5,.5 1.5,.6 1.5,.5M158.6,278.6l1.5,.6 1.5,.5M56.5,265.5l1.5,.5 1.5,.6 1.5,.5 1.5,.6M167.3,290.5l1.5,.6 1.5,.5 1.5,.6 1.5,.6 1.5,.6 1.4,.7M64.6,269.9l1.5,.6 1.5,.6M111.7,321.2l1.6,.4 1.6,.3M117.3,284l1.5,-.5 1.6,-.5 1.5,-.5 1.4,-.6 1.4,-.8 1.2,-1.1M102.4,295.3l1.5,-.5 1.5,-.5 1.5,-.6 1.1,-1.2M151.3,269.8l1.6,0 1.6,0 1.6,0 1.6,-.1 1.6,-.1 1.6,-.3M167.8,276.4l1.6,-.3 1.5,-.5 1.5,-.5 1.5,-.7M114.7,285.4l1.5,-.7 1.5,-.6 1.5,-.4 1.5,-.5 1.6,-.5 1.5,-.5M58.4,269.1l1.6,.4 1.6,.3 1.5,.4 1.5,.5M162.5,310.1l1.6,0 1.6,0M46,314.6l1.6,-.2 1.6,-.1 1.6,-.1 1.6,-.1 1.6,-.1 1.6,-.1M122.4,290.7l1.5,.5 1.5,.4" stroke="#480000" stroke-width="1.0" opacity="0.4"/>
<path d="M108.2,232.7l.6,-1.5 .7,-1.4 1,-1.3 .9,-1.2 1.1,-1.2 1.1,-1.2M115.6,325.8l1.3,1 1,1.2 1,1.3 .6,1.4M90.8,363.8l.9,-1.3 .9,-1.3 1,-1.3 .8,-1.4M141.1,319.6l.8,1.4 .9,1.3 .9,1.3 1,1.3 1,1.2 1,1.3" stroke="#306000" stroke-width="1.5" opacity="0.6"/>
<path d="M101.1,361.1l.5,-1.5 .4,-1.6 .4,-1.5 .4,-1.6 .4,-1.5 .5,-1.5M118.3,330.8l.3,1.5 .2,1.6M123.8,356l0,1.6 .1,1.6M111.6,214.6l.3,-1.6 .3,-1.6M73.5,358.9l.1,-1.5 .3,-1.6 .3,-1.6 .4,-1.5M125.5,364.9l0,1.6 0,-1.6 .1,-1.6 0,-1.6 0,-1.6 .1,-1.6M122.5,276.8l.8,-1.4 .6,-1.4 .5,-1.6 .4,-1.5 .3,-1.6 .2,-1.6M115.3,358.9l.3,1.5 .2,1.6 .4,1.6 .3,1.5 .3,1.6 .4,1.6M110.5,365l.4,1.6 .3,1.6M115.8,260.5l.3,1.5 .1,1.6 .2,1.6 .1,1.6M106.3,308.6l.4,-1.5 .4,-1.6 .4,-1.6 .4,-1.5 .3,-1.6 .4,-1.5M114.7,357l0,-1.6 .2,-1.6 .3,-1.6 .2,-1.6 .3,-1.5 .4,-1.6M143.8,231.1l.2,-1.6 .3,-1.6 .4,-1.5 .5,-1.6M105.4,232l.3,-1.6 .4,-1.5 .5,-1.6 .7,-1.4M101.7,372.2l.4,-1.5 .5,-1.6 .3,-1.6 .4,-1.5 .3,-1.6 .2,-1.6M156.9,248.4l.3,-1.6 .3,-1.6M77,220.8l.3,1.6 .2,1.5 .3,1.6 .2,1.6" stroke="#004800" stroke-width="1.0" opacity="0.4"/>
<path d="M126.1,272.3l.2,-1.6 .1,-1.6 .2,-1.6 .1,-1.6M95,215.6l.2,1.6 .3,1.5 .3,1.6 .5,1.5M149.2,240.7l.2,-1.5 .4,-1.6 .5,-1.5 .5,-1.6 .6,-1.4 .9,-1.4M137.5,244.3l.8,-1.4 .6,-1.5 .4,-1.5 .5,-1.5 .3,-1.6 .1,-1.6M91.1,260.3l.2,1.5 .3,1.6 .4,1.6 .4,1.5M105.6,362.8l.1,-1.6 .1,-1.6M105.9,285.5l.4,1.5 .4,1.5 .5,1.6 .5,1.5M84.4,357.3l.4,-1.6 .4,-1.6 .3,-1.5 .3,-1.6M95.3,219.3l.5,1.5 .6,1.5 .6,1.5 .6,1.4M102.2,363.4l.4,-1.5 .3,-1.6 .4,-1.6 .3,-1.5 .3,-1.6 .4,-1.5M122.2,270.9l.3,-1.6 .3,-1.6M71.1,358.9l.1,-1.6 .4,-1.6 .3,-1.5 .5,-1.6M106.2,362.7l0,-1.6 .1,-1.6M127.1,276.3l.2,-1.6 .2,-1.6 .2,-1.5 .2,-1.6M137.1,305.5l.6,1.5 .5,1.5 .6,1.5 .5,1.5 .6,1.5 .6,1.5M90.5,256.4l.1,1.5 .2,1.6M120.6,226.5l.5,-1.5 .4,-1.6 .3,-1.6 .2,-1.6" stroke="#006000" stroke-width="1.5" opacity="0.4"/>
<path d="M56.7,306.7l1.6,.1 1.6,-.1 1.6,0 1.6,-.1 1.6,-.2 1.5,-.3M113.6,320.4l1.6,.4 1.6,.3M147.1,286.5l1.3,-.9 1.5,-.6 1.5,-.5 1.6,-.4 1.6,-.3 1.6,0M114.1,321.8l1.6,.4 1.5,.4 1.6,.5 1.5,.4 1.5,.6 1.4,.7M48.8,283.3l1.6,0 1.6,0M50.4,283.6l1.6,-.1 1.6,-.2 1.5,-.1 1.6,-.3M42,304.5l1.6,-.4 1.5,-.3 1.6,-.3 1.6,-.3" stroke="#600000" stroke-width="1.5" opacity="0.6"/>
<path d="M162.9,298.1l1.6,0 1.6,.1 1.6,0 1.6,.2M118.5,288.7l1.6,.3 1.5,.2 1.6,.3 1.6,.3 1.5,.4 1.4,.8M153.3,269.6l1.6,0 1.6,-.1 1.6,-.1 1.6,-.2M156.3,307.5l1.6,-.2 1.6,-.3 1.5,-.3 1.6,-.3 1.6,-.3 1.6,-.2M153,299.8l1.6,-.2 1.5,-.2M115.9,243.2l1.6,-.1 1.6,-.2 1.5,-.4 1.6,-.4 1.5,-.4 1.6,-.5M169.2,323.3l1.5,.6 1.5,.4 1.6,.4 1.5,.3M119.6,241l1.5,-.5 1.5,-.6 1.5,-.6 1.5,-.6M164,276l1.6,.1 1.6,0 1.6,-.1 1.5,-.2M110.7,247.9l1.5,.5 1.5,.5 1.5,.6 1.5,.6M123.7,290.7l1.5,.6 1.4,.6M52.1,308l1.6,0 1.6,.1 1.6,0 1.6,0 1.6,0 1.6,-.1 1.6,-.1 1.6,-.3M167.8,325.4l1.4,.6 1.5,.5 1.6,.4 1.6,.3 1.6,.1 1.6,0M154.4,316.5l1.5,.5 1.5,.5M49.7,315.6l1.6,-.1 1.6,-.1 1.6,-.2 1.6,-.1M100.9,245.2l1.6,.3 1.6,.4 1.5,.3 1.6,.3" stroke="#300000" stroke-width="1.0" opacity="0.4"/>
<path d="M114,281l.8,-1.4 .9,-1.3 1,-1.3 .9,-1.2 1,-1.3 .9,-1.3M73.9,350l.9,-1.3 1,-1.3 .9,-1.3 .9,-1.3" stroke="#487818" stroke-width="1.0" opacity="0.6"/>
<path d="M154.4,260.6l1.2,-1 1,-1.3 1,-1.2 .8,-1.4M88.5,368.5l1,-1.3 .9,-1.3 1,-1.2 1,-1.3M94.9,271.8l.9,1.4 1,1.2 1,1.3 1,1.2 1.1,1.3 1,1.2M146.3,254.3l1.3,-1 1,-1.2 1.1,-1.2 .8,-1.4" stroke="#304800" stroke-width="1.5" opacity="0.4"/>
<path d="M94.7,324.9l1.4,-.8 1.4,-.6 1.6,-.4 1.5,-.5 1.6,-.2 1.6,.1M157.3,303l1.5,-.4 1.6,-.3 1.6,-.3 1.5,-.3M47,315.2l1.6,-.2 1.6,-.1 1.6,-.1 1.6,-.1 1.6,-.1 1.6,-.2M145.9,276.4l1.4,-.6 1.6,-.5 1.5,-.4 1.6,-.2M47,305.7l1.6,-.1 1.6,-.1 1.6,0 1.6,0M169.4,321.8l1.5,.6 1.5,.4 1.6,.5 1.6,.2M164.8,303l1.6,0 1.6,0 1.6,.1 1.5,.3M139.8,261.9l.1,-1.5 1.6,-.2 1.6,-.1 1.6,-.2 1.6,-.1 1.6,-.3M119.7,286.7l1.6,0 1.6,-.1 1.6,-.1 1.6,-.1M151.4,275.2l1.6,.1 1.6,0M55.5,273.2l1.6,0 1.6,0 1.6,0 1.6,0M164.4,276.3l1.6,.1 1.6,.1M157.6,272.3l1.6,.1 1.6,0 1.6,0 1.6,-.2M45.2,305l1.6,-.2 1.6,-.2 1.6,0 1.6,-.1 1.6,0 1.6,0M53,300.4l1.6,.1 1.6,0M96.9,324l1.5,-.6 1.6,-.3 1.6,0 1.6,0 1.6,.2 1.6,.4M170,290.3l1.5,.6 1.5,.6M150.3,286.4l1.5,-.4 1.6,-.3 1.6,-.2 1.6,0M155.3,269.7l1.6,-.1 1.5,-.2 1.6,-.4 1.5,-.5 1.5,-.6 1.4,-.8 1.3,-.9 1.1,-1.1M46.7,311.9l1.6,-.1 1.6,-.1 1.6,-.1 1.6,0M53,308.4l1.6,.1 1.6,0 1.6,0 1.6,0 1.6,0 1.6,-.2M167.1,295.5l1.6,.4 1.5,.5 1.6,.4 1.5,.6M159.8,273.1l1.6,0 1.6,0M158,280.4l1.5,.5 1.5,.6 1.5,.7 1.4,.6 1.5,.7 1.4,.6M56.4,305.3l1.6,0 1.6,.1 1.6,0 1.6,0M92.3,297.1l1.3,-.9 1.5,-.7 1.5,-.5 1.5,-.5 1.6,-.3 1.5,-.3M162.8,281.8l1.5,.7 1.4,.6M145.3,265.6l1.6,-.1 1.6,-.1M163.7,332.4l1.3,1 1.4,.8 1.4,.6 1.5,.6 1.6,.4 1.6,.2M97,247.5l1.5,.5 1.5,.5M159.4,291.8l1.6,.2 1.6,.3 1.6,.3 1.5,.3 1.6,.4 1.5,.4" stroke="#480000" stroke-width="1.0" opacity="0.6"/>
<path d="M111.8,246.5l1.6,.4 1.5,.3M141.8,254.2l1.4,-.7 1.5,-.6M162.2,299l1.5,-.1 1.6,-.1" stroke="#000030" stroke-width="1.0" opacity="0.6"/>
<path d="M131.2,303.1l.6,1.5 .5,1.5 .5,1.5 .6,1.5 .4,1.6 .5,1.5M80.6,298.1l.5,-1.5 .6,-1.5 .5,-1.5 .5,-1.5" stroke="#18a800" stroke-width="1.5" opacity="0.6"/>
<path d="M68.2,265.5l1.3,1 1.2,.9M162.1,327.2l1.1,1.1 1.2,1.1 1.2,1 1.3,1M64.1,320.7l1.3,-1 1.2,-1 1.2,-1 1.3,-1.1 1.2,-1 1.2,-1.1M100,302.8l1.4,-.9 1.2,-1 1.3,-.9 1.2,-1.1M64.8,325.7l1.2,-1 1.2,-1.1 1.2,-1 1.2,-1.1M103.1,298.7l1.3,-1 1.3,-.9" stroke="#483000" stroke-width="1.0" opacity="0.6"/>
<path d="M101.6,230.2l.5,1.5 .6,1.5 .8,1.4 .7,1.4 1.1,1.2 1.4,.9M75,245.1l.9,1.3 .8,1.4 .8,1.4 .7,1.4M99.6,269.9l.6,1.5 .6,1.5M142.3,345.3l.8,1.3 .9,1.4 .9,1.3 .9,1.3M74.8,354.5l.5,-1.6 .7,-1.4 .6,-1.5 .7,-1.4 .8,-1.4 .7,-1.5M133.1,347l.7,1.4 .7,1.5 .7,1.4 .7,1.5M102,275.8l.7,1.4 .6,1.5 .5,1.5 .6,1.5 .5,1.5 .5,1.5M96.4,224.7l.7,1.4 .8,1.4 .7,1.4 .8,1.4 .7,1.5 .7,1.4M58.4,245.3l.6,1.5 .7,1.4 .7,1.5 .8,1.4 .8,1.4 .9,1.3M140,322l.7,1.5 .7,1.4M128.3,293.3l.6,1.5 .6,1.5M138.9,306.5l.7,1.5 .6,1.4 .7,1.5 .7,1.4" stroke="#186000" stroke-width="1.0" opacity="0.4"/>
<path d="M130.7,311.7l.5,1.5 .6,1.5M137,302.4l.6,1.5 .6,1.5M154.3,337.7l.5,1.5 .5,1.5 .6,1.5 .6,1.5" stroke="#187818" stroke-width="1.5" opacity="0.6"/>
<path d="M128.7,262.3l.1,-1.6 .2,-1.6 .3,-1.5 .3,-1.6 .3,-1.6 .4,-1.5M122.1,346.6l.2,1.6 .3,1.5 .2,1.6 .2,1.6 .1,1.6 .1,1.6M92.9,335.2l.1,1.6 .1,1.6 .2,1.6 .2,1.6 .3,1.6 .2,1.6M107.9,363l.1,1.6 .2,1.6 .1,1.6 .2,1.6 .1,1.6 .1,1.6M120.4,329.1l.6,1.5 .4,1.5 .4,1.6 .3,1.5 .4,1.6 .4,1.5M103.8,339.1l.2,-1.6 .1,-1.6 .1,-1.6 0,-1.6M130.8,266.5l.1,-1.6 .1,-1.6 .1,-1.6 .1,-1.5" stroke="#006000" stroke-width="1.0" opacity="0.8"/>
<path d="M169.1,314.3l1.5,.6 1.5,.5M75.6,328.5l1.2,-1.1 1.2,-1.1M67.5,260.1l1.3,1 1.2,1M67.3,339.1l1.5,-.6 1.5,-.5M97.1,255.1l.2,1.6 .2,1.6M142.8,292.1l1.2,-1 1.2,-1.1M168.3,320.2l1.4,.6 1.5,.7M152,274.8l1.6,0 1.6,.1" stroke="#180048" stroke-width="1.0" opacity="0.6"/>
<path d="M110,221.4l1.1,-1.2 1,-1.2M47.9,305l1.6,-.1 1.6,-.1M147.3,328.2l.9,1.3 .8,1.4M64.2,308.7l1.6,-.4 1.5,-.5M161.7,267.9l1.4,-.9 1.3,-.8M123.3,286.9l1.6,-.1 1.6,-.2" stroke="#000048" stroke-width="1.0" opacity="0.6"/>
<path d="M109.3,248.3l1.5,.6 1.5,.7 1.3,.8 1.4,.8 1.3,.9 1.1,1.2M120.4,291.6l1.5,.5 1.5,.6 1.4,.8 1.4,.7 1.3,1 .9,1.3M156.8,237.9l1,-1.2 1.2,-1.1 1.3,-.9 1.3,-.9 1.4,-.8 1.4,-.8M147,224.3l1.2,-1.1 1.4,-.9 1.3,-.8 1.4,-.7M68.3,333.3l1.5,-.6 1.4,-.8 1.5,-.7 1.4,-.7M114.8,322.5l1.5,.4 1.5,.5 1.5,.6 1.5,.7 1.4,.7 1.3,.9 1,1.3 .7,1.4M52.5,262.2l1.5,.7 1.4,.7 1.5,.6 1.4,.7 1.5,.7 1.4,.6M55.7,323.7l1.4,-.8 1.4,-.8" stroke="#481800" stroke-width="1.5" opacity="0.6"/>
<path d="M163.2,263l.9,-1.3 .9,-1.4" stroke="#184818" stroke-width="1.0" opacity="0.6"/>
<path d="M145.3,283.8l1.1,-1.1 1.3,-.9 1.5,-.7 1.4,-.6 1.6,-.5 1.6,-.2M105.3,323.4l1.5,.5 1.5,.5 1.5,.6 1.5,.7 1.4,.7 1.3,.9" stroke="#781800" stroke-width="1.0" opacity="0.6"/>
<path d="M152.9,230.1l1.4,-.8 1.4,-.9M164,326.4l1.3,1 1.3,.9 1.3,.8 1.4,.8M142.6,306.1l1.1,1.2 1.2,1 1.3,1 1.3,.9 1.4,.8 1.4,.7M99.4,299.3l1.4,-.7 1.5,-.7 1.4,-.8 1.4,-.8 1.3,-.9 1,-1.2M114.9,303.7l.9,1.3 1.2,1 1.3,.9 1.3,.9 1.4,.8 1.5,.7" stroke="#301800" stroke-width="1.0" opacity="0.6"/>
<path d="M71.4,265.4l1.2,1.1 1.2,1.1" stroke="#001848" stroke-width="1.0" opacity="0.8"/>
<path d="M140.3,308.6l.7,1.4 .8,1.4 .8,1.4 .8,1.4M107.5,249.1l1.4,.8 1.2,1 1,1.3 .9,1.3 .8,1.4 .6,1.5" stroke="#183000" stroke-width="1.5" opacity="0.6"/>
<path d="M106.6,221.9l1,-1.3 1,-1.3 .9,-1.3 .9,-1.3 .7,-1.4 .6,-1.5M102.9,220.7l.6,-1.5 .7,-1.4 .7,-1.5 .7,-1.4 .6,-1.5 .6,-1.5M163.2,260.3l.7,-1.5 .7,-1.4 .7,-1.5 .7,-1.4 .8,-1.4 .9,-1.3M140.3,319.4l.7,1.4 .9,1.4 .8,1.3 .9,1.3 .9,1.3 1,1.3M106.7,231.4l.6,-1.5 .7,-1.4 .9,-1.4 .9,-1.3 1,-1.2 1.2,-1.1M158.5,328l.9,1.3 .9,1.3 .9,1.3 1,1.3" stroke="#184800" stroke-width="1.5" opacity="0.4"/>
<path d="M102.7,345.5l.4,-1.6 .3,-1.6M142.7,279l.9,-1.4 .8,-1.3" stroke="#000078" stroke-width="1.5" opacity="0.6"/>
<path d="M83.9,260.9l.1,1.6 .1,1.6" stroke="#3030d8" stroke-width="1.5" opacity="0.6"/>
<path d="M161.8,304.1l1.6,-.2 1.5,-.3M143.3,294l1.5,-.7 1.4,-.6 1.5,-.6 1.5,-.6 1.5,-.6 1.5,-.5M114.8,317.7l1.5,.3 1.6,.3M166.4,314.2l1.5,.5 1.6,.4M144,270l1.5,-.4 1.6,-.4M118.5,242.5l1.6,-.4 1.5,-.4 1.6,-.5 1.5,-.5 1.5,-.5 1.5,-.6M161,316.6l1.5,.5 1.5,.6 1.4,.7 1.5,.6 1.4,.7 1.5,.7M148,296.4l1.6,-.3 1.6,-.2M109.4,315.5l1.6,.3 1.5,.3" stroke="#480000" stroke-width="1.5" opacity="0.4"/>
<path d="M127.9,310.1l.8,1.4 .8,1.4M112.7,284.6l.5,-1.5 .6,-1.5M131.1,242.9l1.1,-1.2 1,-1.2M146,337.3l.6,1.5 .5,1.5M111.7,341.5l.6,-1.5 .6,-1.4" stroke="#181878" stroke-width="1.0" opacity="0.6"/>
<path d="M57.5,292.3l1.6,-.1 1.6,-.1M48.9,299.8l1.6,-.1 1.6,0M123.7,247.6l1.5,-.6 1.5,-.5 1.6,-.5 1.5,-.5 1.5,-.5 1.5,-.6M61.2,303.4l1.6,0 1.6,-.1M64.9,287.3l1.6,0 1.6,0 1.6,.1 1.6,.1 1.6,.1 1.6,.1" stroke="#780000" stroke-width="1.0" opacity="0.6"/>
<path d="M65.6,280.6l1.6,.1 1.5,.2M70.8,250.5l1.3,1 1.2,1M123.7,355.9l0,1.6 .1,1.6M77.9,225.5l.3,1.6 .2,1.6M100.1,223.1l.2,1.6 .2,1.6M63.1,304l1.6,-.2 1.6,-.1" stroke="#001860" stroke-width="1.0" opacity="0.4"/>
<path d="M56.4,252.6l.8,1.4 .8,1.4 1,1.2 1,1.3 1.1,1.2 1.1,1.1M107.1,220.1l1,-1.3 .8,-1.3 .7,-1.5 .8,-1.4 .5,-1.5 .4,-1.5M152.3,234.3l1,-1.2 1,-1.2M60.9,232.7l.8,1.4 .8,1.4 .7,1.4 .8,1.5 .7,1.4 .8,1.4M112.1,237.6l1,-1.3 .9,-1.3" stroke="#183000" stroke-width="1.0" opacity="0.4"/>
<path d="M123.3,254.1l.6,-1.5 .9,-1.3 .9,-1.3 1.2,-1.1M61.4,248.8l.9,1.3 .9,1.3 1,1.3 1,1.2M61,228.7l.9,1.3 .8,1.4 .8,1.3 .7,1.5M142.3,319.5l1,1.3 .9,1.3" stroke="#183000" stroke-width="1.0" opacity="0.6"/>
<path d="M157.2,336.6l.7,1.5 .8,1.4 .8,1.4 .9,1.3M142.7,334.8l.7,1.4 .7,1.4" stroke="#186018" stroke-width="1.0" opacity="0.6"/>
<path d="M55.1,317.1l1.6,-.4 1.5,-.4 1.5,-.5 1.6,-.5 1.5,-.5 1.4,-.7M112.5,244l1.5,.2 1.6,.2 1.6,.1 1.6,.1M97.3,247.4l1.6,.5 1.5,.5 1.5,.6 1.5,.5 1.5,.6 1.4,.7M97.5,248.1l1.5,.6 1.5,.6M151.6,310.3l1.6,.2 1.6,.2 1.6,0 1.6,0 1.6,0 1.6,-.1M145.6,302.7l1.5,.5 1.6,.5M143.6,301.1l1.5,.6 1.5,.5 1.5,.4 1.6,.3 1.6,.3 1.6,.1M44.4,322.2l1.5,-.6 1.6,-.4 1.5,-.5 1.5,-.4M118.2,289.3l1.5,.3 1.6,.4 1.6,.3 1.5,.4M158.1,311.3l1.6,0 1.6,0M99.2,288.3l1.5,.5 1.5,.6 1.5,.6 1.4,.7M153.7,306.6l1.6,-.1 1.6,-.2 1.6,-.2 1.6,-.3M121.2,248.1l1.5,-.6 1.5,-.6M117.9,247.3l1.6,-.1 1.6,-.1M152.6,310.5l1.6,.2 1.6,.1 1.6,-.1 1.6,0 1.6,0 1.6,-.1M150.2,272.5l1.6,-.1 1.6,.1 1.6,.1 1.6,.1M113.9,247.1l1.6,.3 1.5,.3 1.6,.2 1.6,.1 1.6,-.2 1.5,-.6M117.4,242.7l1.5,-.2 1.6,-.3" stroke="#300000" stroke-width="1.0" opacity="0.6"/>
<path d="M141.8,239.6l.2,-1.5 .3,-1.6M93.7,283.2l1.4,.6 1.5,.6" stroke="#001860" stroke-width="1.5" opacity="0.6"/>
<path d="M77.3,219.7l.3,1.6 .3,1.5 .3,1.6 .2,1.6 .3,1.6 .2,1.6M91.1,244.7l.3,1.6 .2,1.6 .1,1.6 .1,1.6M137.5,225.1l.4,1.5 .4,1.6 .2,1.5 .3,1.6 .2,1.6 .1,1.6M126.4,273.8l.2,-1.6 .2,-1.6 .1,-1.6 .1,-1.6 .1,-1.6 .1,-1.6M109.4,289.5l.1,1.6 .1,-1.6 .1,-1.6 .2,-1.6M79.2,212.6l.6,1.5 .5,1.5 .5,1.6 .5,1.5M87.1,258.6l.1,1.6 .2,1.6 .1,1.6 .1,1.6" stroke="#007800" stroke-width="1.0" opacity="0.4"/>
<path d="M72.4,249.8l1.1,1 1.2,1.1M160.9,327.2l1,1.2 1.1,1.2 1.2,1 1.2,1.1 1.3,1 1.4,.7" stroke="#604800" stroke-width="1.5" opacity="0.4"/>
<path d="M148,225.5l1.2,-1 1.4,-.8 1.4,-.8 1.5,-.6M61.9,338.2l1.4,-.9 1.3,-.8 1.4,-.8 1.4,-.8M69.5,333.9l1.4,-.6 1.5,-.7 1.4,-.8 1.4,-.8 1.3,-.8 1.2,-1.1M152.2,319.5l1.4,.7 1.3,.9 1.3,.9 1.4,.9 1.2,1 1.2,1M61.9,344.3l1.3,-.9 1.4,-.9 1.4,-.7 1.4,-.7 1.5,-.6 1.5,-.6M63.7,268.2l1.5,.7 1.4,.6M95.1,279.9l1.3,.9 1.4,.9 1.3,.9 1.3,.9" stroke="#481800" stroke-width="1.0" opacity="0.4"/>
<path d="M72.2,225.1l.1,1.6 .1,1.6M104,235.5l1.2,1 1.2,1.1M99.6,207.3l.5,-1.5 .5,-1.6M146.5,311.1l1.4,.8 1.4,.7" stroke="#000030" stroke-width="1.0" opacity="0.4"/>
<path d="M135.2,288.3l0,1.6 .1,1.6 0,-1.6 0,-1.6 0,-1.6 .1,-1.6M129.4,226.1l.3,1.5 .2,1.6 .3,1.6 0,1.6M111.4,261.8l.1,1.6 .1,1.6M109.1,258.6l.2,1.6 .1,1.6 .1,1.6 0,1.6 0,1.6 .1,-1.6 0,1.6 0,-1.6M80.9,289.5l.2,-1.6 .2,-1.6 .1,-1.6 .1,-1.6 0,-1.6 0,1.6M123.8,233.5l.7,-1.5 .4,-1.5 .2,-1.6 .2,-1.6 .1,-1.6 .1,1.6M131.4,253.2l.3,-1.6 .2,-1.6 .3,-1.6 .4,-1.5" stroke="#00a818" stroke-width="1.0" opacity="0.6"/>
<path d="M96.1,279.2l1.3,1 1.3,1M117.7,319.2l1.6,.3 1.5,.4M54.7,271.9l1.6,0 1.6,0M150.1,343l.6,1.4 .6,1.5" stroke="#181848" stroke-width="1.0" opacity="0.4"/>
<path d="M56.4,343.4l1,-1.3 1,-1.3 .9,-1.2 1.1,-1.2" stroke="#306000" stroke-width="1.0" opacity="0.8"/>
<path d="M95.5,276l1.1,1.2 1.1,1.1 1.2,1.1 1.2,1.1M144.3,319.5l1.1,1.1 1.2,1.1" stroke="#484818" stroke-width="1.0" opacity="0.6"/>
<path d="M129.4,342.4l.8,1.3 .8,1.4" stroke="#48c000" stroke-width="1.0" opacity="0.8"/>
<path d="M69.3,267.3l1.3,.9 1.2,1 1.3,1.1 1.1,1.1M64.6,247.9l1,1.2 1.2,1.1 1.2,1 1.2,1.1 1.2,1 1.3,1M69.9,324.8l1.2,-1 1.3,-1.1" stroke="#483000" stroke-width="1.5" opacity="0.4"/>
<path d="M151.8,340l.5,1.5 .5,1.5 .6,1.5 .7,1.5M152.9,244.7l.2,-1.5 .3,-1.6 .4,-1.6 .4,-1.5 .5,-1.5 .8,-1.4M105.4,232.2l.2,1.6 0,-1.6 0,-1.6 .3,-1.6M105.8,364.8l0,-1.6 .1,-1.6 .1,-1.6 .2,-1.6 .1,-1.6 .3,-1.5 .2,-1.6 .4,-1.6M102.6,228.4l.1,-1.6 .3,-1.6 .4,-1.5 .4,-1.6 .6,-1.5 .7,-1.4M154.9,249.2l.2,-1.6 .3,-1.5 .2,-1.6 .3,-1.6 .3,-1.6 .5,-1.5M92.3,263.3l.4,1.6 .4,1.5M119.8,206l.5,1.6 .3,1.5 .4,1.6 .3,1.5M69.9,220.3l.4,1.5 .4,1.6M96.9,351.8l.2,-1.6 .1,-1.6 .1,-1.6 .1,-1.6M96.8,210.7l.7,-1.5 .6,-1.4 .7,-1.5 .6,-1.5M112.6,355.5l.2,-1.5 .3,-1.6 .3,-1.6 .4,-1.5M113,299.2l.2,1.6 .3,1.6 .5,1.5 .5,1.5 .7,1.4 1.1,1.2M93.5,257.4l.2,1.6 .3,1.6 .4,1.5 .3,1.6 .4,1.5 .5,1.6M91.3,214.3l.2,1.5 .2,1.6M150.5,241.5l.2,-1.5 .4,-1.6 .3,-1.6 .5,-1.5M104.2,255.7l.3,1.6 .3,1.6 .3,1.5 .2,1.6M102.1,260.5l.2,1.6 .2,1.6 .1,1.6 .2,1.6 .2,1.6 .2,1.6M139.7,310.8l.6,1.5 .7,1.5M126.8,353.1l.2,1.6 .2,1.6 .1,1.6 .1,1.6 0,1.6 0,-1.6M101.4,343.9l.2,-1.6 .2,-1.6 .1,-1.6 .2,-1.6M104.8,364.7l.1,-1.6 .2,-1.6" stroke="#004800" stroke-width="1.0" opacity="0.6"/>
<path d="M72.5,351.2l.9,-1.3 1,-1.3 .9,-1.3 1,-1.2" stroke="#489000" stroke-width="1.5" opacity="0.6"/>
<path d="M43.3,308l1.5,-.4 1.6,-.2 1.6,-.3 1.6,-.2M64.4,306l1.6,-.3 1.5,-.4 1.6,-.5 1.5,-.5M44.8,289.7l1.6,.2 1.6,0 1.6,.1 1.6,0 1.6,-.1 1.6,-.1M123.5,244.9l1.5,-.5 1.5,-.4 1.6,-.5 1.5,-.5M168.4,312.8l1.6,.4 1.5,.6 1.4,.6 1.5,.6 1.5,.6 1.5,.5M46.9,282.7l1.6,.2 1.6,.1M104.9,316.2l1.6,.2 1.5,.3 1.6,.3 1.6,.3M40.7,312l1.5,-.5 1.5,-.5 1.6,-.4 1.6,-.3 1.5,-.2 1.6,-.2M60.8,278.6l1.6,-.1 1.6,0 1.6,0 1.6,.1M101.6,318.2l1.6,0 1.6,0M91,241.9l1.3,1 1.5,.6 1.5,.5 1.5,.5 1.6,.4 1.5,.3M44.3,304.1l1.5,-.3 1.6,-.3M113.2,319.8l1.5,.3 1.6,.3 1.6,.4 1.5,.3 1.6,.4 1.5,.5" stroke="#600000" stroke-width="1.0" opacity="0.4"/>
<path d="M139.2,295.1l.1,-1.6 .1,-1.6M121.3,269.6l.3,-1.6 0,-1.6 .1,-1.6 0,1.6M119,354.3l0,1.6 .1,1.6M107.4,364.8l.1,1.6 .1,1.5 .1,1.6 .1,1.6M90.3,340.2l0,-1.6 .1,-1.5 .2,-1.6 .2,-1.6 .2,-1.6 .4,-1.6M94.9,353.3l.3,-1.6 .1,-1.6 .2,-1.6 0,-1.6M119.3,331.4l.3,1.6 .3,1.6M96.3,216.9l.2,1.6 .2,1.6M138.9,254.7l.1,-1.6 .2,1.6 .1,1.6 .2,1.5" stroke="#006000" stroke-width="1.5" opacity="0.6"/>
<path d="M56.7,246.3l.5,1.5 .6,1.5 .6,1.5 .7,1.5M102.6,367.3l.3,-1.6 .4,-1.5M97,250.5l.4,1.6 .3,1.5 .3,1.6 .2,1.6 .2,1.6 .2,1.6M103.7,252.4l.7,1.4 .6,1.5 .5,1.5 .4,1.6M97.7,215.6l.4,-1.6 .5,-1.5 .5,-1.5 .6,-1.5M106.4,214.1l.5,-1.6 .4,-1.5" stroke="#004800" stroke-width="1.5" opacity="0.4"/>
<path d="M82,273.6l.1,1.6 0,1.6" stroke="#1830d8" stroke-width="1.5" opacity="0.4"/>
<path d="M85.2,300.2l.5,-1.5 .6,-1.5 .5,-1.5 .6,-1.5 .6,-1.4 .6,-1.5M135.9,306.1l.5,1.5 .5,1.5M128.1,314.5l.8,1.4 .7,1.4 .7,1.5 .6,1.4 .5,1.5 .5,1.6M134.7,325.2l.5,1.5 .5,1.5" stroke="#18a818" stroke-width="1.0" opacity="0.6"/>
<path d="M156.8,335.9l.6,1.5 .6,1.4M123.3,336.3l.5,1.5 .6,1.5 .5,1.5 .7,1.4M137.8,309.1l.5,1.5 .5,1.6M139.7,323.6l.7,1.4 .7,1.5 .8,1.4 .8,1.4 .8,1.4 .8,1.3" stroke="#187800" stroke-width="1.0" opacity="0.6"/>
<path d="M80.1,326.1l.9,-1.4 .9,-1.3 1,-1.3 .9,-1.3 .9,-1.3 1,-1.3M90.4,239.8l.9,1.3 1,1.3" stroke="#48a818" stroke-width="1.0" opacity="0.6"/>
<path d="M71.6,220.9l.3,1.6 .1,1.6 .1,1.6 .1,1.6 .1,1.6 .1,1.6M121.6,366.8l.2,1.6 .2,1.6M159.9,255.6l.5,-1.5 .5,-1.5 .5,-1.5 .6,-1.5 .6,-1.5 .7,-1.4M73.7,232.3l.3,1.5 .2,1.6M129.2,364.2l0,1.6 .1,1.6 0,1.6 .2,1.6" stroke="#003000" stroke-width="1.5" opacity="0.6"/>
<path d="M151.3,327l.9,1.4 .7,1.4 .7,1.4 .7,1.5 .5,1.5 .6,1.5M91.3,361.6l.9,-1.3 .8,-1.4 .8,-1.4 .7,-1.4M108.8,344.3l.7,-1.5 .7,-1.4M127.9,347.4l.7,1.5 .6,1.5 .6,1.5 .5,1.5M76.3,240.8l.6,1.5 .6,1.5 .6,1.5 .6,1.5M104.6,299.7l1,-1.2 .8,-1.4 .8,-1.4 .7,-1.4 .7,-1.5 .5,-1.5M157,332.5l.6,1.5 .8,1.4 .7,1.4 .7,1.4" stroke="#186000" stroke-width="1.5" opacity="0.4"/>
<path d="M44.2,301.8l1.5,-.2 1.6,-.3" stroke="#180060" stroke-width="1.0" opacity="0.8"/>
<path d="M165.4,317.9l1.4,.6 1.5,.7 1.4,.7 1.5,.6 1.5,.6 1.5,.5M146.4,258.2l1.5,-.6 1.4,-.8 1.4,-.8 1.2,-1M163.3,285.3l1.5,.7 1.4,.6 1.5,.7 1.4,.6M46.2,325.9l1.4,-.7 1.5,-.7 1.4,-.7 1.5,-.6 1.5,-.7 1.4,-.6" stroke="#481800" stroke-width="1.0" opacity="0.6"/>
<path d="M113.2,216.7l.4,-1.6 .5,-1.5M122.5,357.5l0,1.6 .1,1.6M95.8,322.4l1.5,-.5 1.5,-.4" stroke="#181848" stroke-width="1.0" opacity="0.6"/>
<path d="M92.2,244.4l1.5,.6 1.5,.6M93.6,235.6l1.2,1.1 1.2,1.1M156.5,327.2l.9,1.3 .9,1.3M69.1,281.6l1.6,.4 1.6,.3" stroke="#180060" stroke-width="1.0" opacity="0.6"/>
<path d="M126.9,321.7l.8,1.3 .8,1.4" stroke="#309018" stroke-width="1.0" opacity="0.4"/>
<path d="M69.6,353.7l.8,-1.4 .9,-1.3 .9,-1.3 1,-1.3M102.5,232.6l.7,1.5 .9,1.3 .9,1.3 1.3,1" stroke="#306000" stroke-width="1.0" opacity="0.6"/>
<path d="M140.7,265.3l1.5,-.6 1.5,-.5M105,314.9l1.6,.2 1.6,.2M56,296.8l1.6,.1 1.6,0 1.6,.1 1.6,0M65.7,303.8l1.6,-.3 1.5,-.4 1.6,-.4 1.5,-.5" stroke="#600000" stroke-width="1.5" opacity="0.4"/>
<path d="M82.6,227.6l.4,1.6 .4,1.5" stroke="#3018c0" stroke-width="1.5" opacity="0.8"/>
<path d="M157.8,260.6l.9,-1.3 1,-1.3M163.1,262.2l.8,-1.3 .8,-1.4M160.4,265.2l1.2,-1 1,-1.3 .9,-1.3 .9,-1.3 .7,-1.4 .7,-1.5M84.9,371.2l.6,-1.5 .8,-1.4 .8,-1.4 .8,-1.4 .8,-1.3 .9,-1.4" stroke="#184800" stroke-width="1.5" opacity="0.6"/>
<path d="M152.1,349.3l1.1,1.1 1.2,1.2M54.7,330.5l1.1,-1.1 1.1,-1.2" stroke="#484800" stroke-width="1.5" opacity="0.6"/>
<path d="M118.9,354.7l.1,1.6 0,1.6 .1,1.6 .2,1.5 .1,1.6 .2,1.6 .2,1.6 .3,1.6M89.9,241.6l.6,1.5 .6,1.5 .3,1.6 .4,1.5 .2,1.6 .1,1.6M92.6,334.8l.1,1.6 0,-1.6 .1,1.6 0,1.6 .1,1.6 .2,1.6M125.7,257.1l.4,-1.5 .3,-1.6M99.8,325.1l1.2,1.1 .2,1.6 .2,1.6 .2,1.6 .1,1.5 .1,1.6M141.3,236.9l.1,-1.6 .1,-1.6M104.2,230.4l.2,-1.6 .2,-1.6M131.5,210.2l.1,1.6 .3,1.6 .3,1.5 .3,1.6M111.8,358.9l.2,1.5 .3,1.6 .3,1.6 .3,1.5M87.4,261.2l.2,1.6 .1,1.6 .2,1.6 .1,1.6 .2,1.6 .2,1.6M88.4,276.4l.2,1.6 .2,1.6 .2,1.6 .1,1.6M135.8,311.3l.5,1.6 .4,1.5 .5,1.5 .5,1.6 .4,1.5 .6,1.5M121,341.3l.2,1.6 .1,1.6 .2,1.6 .2,1.6 .1,1.6 .2,1.5M123.7,209.6l.3,1.6 .4,1.5 .3,1.6 .4,1.5" stroke="#006000" stroke-width="1.0" opacity="0.6"/>
<path d="M88.3,241.5l.2,1.6 .2,1.6M88.5,239.4l.4,1.6 .3,1.5 .3,1.6 .3,1.6" stroke="#00c018" stroke-width="1.0" opacity="0.4"/>
<path d="M134.3,262l.1,-1.6 .1,-1.6" stroke="#0000a8" stroke-width="1.5" opacity="0.4"/>
<path d="M123.3,342.3l.5,1.6 .5,1.5 .5,1.5 .5,1.5 .5,1.5 .4,1.6M107.4,274.3l0,-1.6 0,-1.6 0,-1.6 .1,-1.6 0,-1.6 0,1.6" stroke="#007818" stroke-width="1.0" opacity="0.8"/>
<path d="M125.7,230l.1,-1.6 .1,-1.6" stroke="#1818f0" stroke-width="1.0" opacity="0.6"/>
<path d="M104.5,345.5l.6,-1.5 .5,-1.5M79.2,219.5l.4,1.5 .4,1.6" stroke="#000060" stroke-width="1.0" opacity="0.4"/>
<path d="M82.5,288.5l.2,-1.6 .3,-1.6M78.1,273.9l.3,1.5 .3,1.6 .3,1.6 .2,1.6" stroke="#00c000" stroke-width="1.5" opacity="0.6"/>
<path d="M68.9,281.6l1.6,.4 1.6,.4 1.4,.6 1.5,.7 1.4,.8 1,1.2 .2,1.6 .2,-1.6" stroke="#781800" stroke-width="1.5" opacity="0.4"/>
<path d="M50.4,274.7l1.6,-.1 1.6,-.1 1.6,-.1 1.6,-.1 1.6,-.2 1.6,0" stroke="#780018" stroke-width="1.5" opacity="0.8"/>
<path d="M120.2,223.6l.4,-1.6 .2,-1.5 .1,-1.6 .1,-1.6 0,1.6 .1,-1.6M137.3,251.5l.2,-1.6 0,1.6 .2,1.6 .1,1.6 .2,1.6 .2,1.6" stroke="#007818" stroke-width="1.0" opacity="0.6"/>
<path d="M46.3,300.4l1.6,-.2 1.6,-.1 1.6,0 1.6,-.1 1.6,.1 1.6,0M139,256.8l1.6,-.2 1.5,-.3 1.6,-.4 1.5,-.4 1.5,-.6 1.4,-.8M111.7,289.7l.2,1.6 .8,-1.4 1.6,.1 1.6,0 1.6,.3 1.5,.4M114.1,318.8l1.6,.3 1.5,.3M43.6,308.9l1.6,-.4 1.5,-.2 1.6,-.2 1.6,0 1.6,-.1 1.6,0 1.6,0 1.6,.1M151.4,270.7l1.6,.1 1.6,0 1.6,0 1.6,.1 1.6,-.1 1.6,-.1M105.9,246.1l1.5,.4 1.6,.4 1.5,.4 1.6,.4 1.5,.5 1.5,.5M42.8,313.5l1.6,-.4 1.5,-.3 1.6,-.2 1.6,-.2 1.6,-.2 1.6,0" stroke="#480000" stroke-width="1.5" opacity="0.6"/>
<path d="M55.3,278.3l1.6,-.2 1.6,-.3M45.1,300.2l1.6,-.2 1.6,-.2M149.6,283.7l1.6,-.5 1.5,-.4" stroke="#780000" stroke-width="1.5" opacity="0.6"/>
<path d="M107.4,278.6l0,-1.6 .1,-1.6 0,-1.6 0,-1.6 .1,-1.6 0,-1.6M134.1,286l0,-1.6 0,-1.6 0,-1.6 .1,-1.6 0,-1.6 0,-1.6M135.1,270l.1,-1.6 0,-1.6 .1,-1.6 .1,-1.6" stroke="#00c000" stroke-width="1.0" opacity="0.4"/>
<path d="M83.4,317.1l.8,-1.4 .9,-1.3 .8,-1.4 .8,-1.4 .8,-1.3 .8,-1.4" stroke="#307818" stroke-width="1.5" opacity="0.6"/>
<path d="M138.2,282.5l.1,-1.6 .1,-1.6M121.7,216.5l.1,1.6 .1,1.6M83.7,357.1l.4,-1.5 .3,-1.6 .3,-1.6 .3,-1.5 .3,-1.6 .2,-1.6M78.4,232.3l.2,1.6 .2,1.6M136.7,239.2l.3,-1.6 .2,-1.5M88.1,354l.3,-1.6 .3,-1.6M151.9,331.9l.6,1.6 .4,1.5 .5,1.5 .4,1.6 .4,1.5 .5,1.5M121,213.6l.2,1.5 .1,1.6 0,1.6 .1,1.6 .1,-1.6 0,1.6M78.8,236.9l.3,1.6 .3,1.6M135.5,315.1l.4,1.5 .4,1.6 .5,1.5 .5,1.5 .4,1.5 .6,1.6" stroke="#007800" stroke-width="1.0" opacity="0.6"/>
<path d="M136.7,247.7l.9,-1.3 .8,-1.4M81.6,331l.8,-1.4 .8,-1.4 .7,-1.4 .9,-1.3" stroke="#309000" stroke-width="1.0" opacity="0.4"/>
<path d="M132.4,343.3l.8,1.4 .9,1.4" stroke="#48d800" stroke-width="1.5" opacity="0.4"/>
<path d="M98,308.6l1.4,-.8 1.4,-.8M143,309.5l1,1.2 1.1,1.2M169.2,275.3l1.5,-.5 1.5,-.6M148.6,356.1l1.4,.7 1.4,.8" stroke="#001830" stroke-width="1.0" opacity="0.6"/>
<path d="M151.6,346.1l.8,1.4 1,1.2 1,1.3 1.1,1.2M115.1,250l1.3,.9 1,1.2 1,1.3 .7,1.4M150.3,236.8l.6,-1.5 .8,-1.4 1,-1.2 1,-1.3 1.2,-1 1.3,-.9M113.1,237.2l1.1,-1.2 1,-1.2 1.1,-1.2 1.1,-1.2 1,-1.2 1.1,-1.2M56.3,343.5l.9,-1.3 1,-1.3 1.1,-1.2 1,-1.2 1.1,-1.1 1.3,-1" stroke="#304800" stroke-width="1.0" opacity="0.6"/>
<path d="M98.4,283.6l1.3,.8 1.4,.9M119,282.5l1.4,-.6 1.5,-.8 1.4,-.7 1.3,-1" stroke="#601800" stroke-width="1.0" opacity="0.4"/>
<path d="M154.7,293l1.6,-.1 1.6,0 1.6,0 1.6,0M104.9,241.2l1.5,.3 1.6,.4M144.9,294.4l1.5,-.5 1.5,-.5 1.6,-.5 1.5,-.4M116.3,283.7l1.5,-.7 1.5,-.6 1.4,-.6 1.5,-.6M163.6,276.6l1.6,.3 1.6,.1 1.6,-.1 1.6,-.1 1.6,-.2 1.5,-.5M110.7,245.9l1.6,.3 1.5,.4 1.6,.3 1.6,.3M144.6,262.1l1.6,-.1 1.5,-.2 1.6,-.2 1.6,-.3M46.6,323.2l1.5,-.6 1.5,-.5 1.6,-.5 1.5,-.5 1.5,-.5 1.5,-.4M164.3,315.9l1.5,.5 1.5,.5M98.9,243.8l1.5,.4 1.6,.3 1.6,.3 1.5,.3M158.9,309.1l1.6,-.2 1.6,-.2 1.6,-.1 1.5,-.2M145.1,302.5l1.5,.6 1.5,.4 1.6,.3 1.5,.3 1.6,.2 1.6,0" stroke="#300000" stroke-width="1.5" opacity="0.6"/>
<path d="M117.2,348l.3,-1.6 .3,-1.5M95.5,255.6l.1,1.6 .3,1.6 .2,1.6 .3,1.6 .3,1.5 .4,1.6M116.7,254.8l.6,1.4 .6,1.6 .4,1.5 .4,1.6 .3,1.5 .2,1.6M140.5,243.1l.6,-1.5 .4,-1.6 .5,-1.5 .3,-1.6M90.6,250.6l.1,1.6 0,1.6M124.5,271.1l.2,-1.6 .2,-1.5 .1,-1.6 .1,-1.6M98.1,350.9l.2,-1.6 .2,-1.6 0,-1.6 .1,-1.6 0,-1.6 0,1.6M99.8,367.1l.6,-1.5 .6,-1.5 .5,-1.5 .5,-1.5M105,259.1l.1,1.6 .2,1.6 .1,1.6 .1,1.6M143.5,240.2l.3,-1.6 .2,-1.6 .2,-1.6 .2,-1.6" stroke="#006000" stroke-width="1.0" opacity="0.4"/>
<path d="M77.1,331.6l1.1,-1.1 1.1,-1.2M68.3,242.5l1.1,1.2 1.1,1.1 1.1,1.2 1.2,1" stroke="#606000" stroke-width="1.0" opacity="0.4"/>
<path d="M63.5,257l1.2,1.1 1.2,1 1.2,1.1 1.2,1 1.2,1 1.3,1" stroke="#483000" stroke-width="1.0" opacity="0.8"/>
<path d="M91.5,222.3l1,1.3 .9,1.3" stroke="#78d830" stroke-width="1.5" opacity="0.4"/>
<path d="M91.2,237.9l1,1.2 1.3,1 1.4,.9 1.4,.6" stroke="#783000" stroke-width="1.0" opacity="0.6"/>
<path d="M145.2,328.9l.8,1.3 .8,1.5 .7,1.4 .7,1.4M109.6,350.7l.5,-1.5 .7,-1.5 .7,-1.4 .6,-1.5M146.3,233.1l.5,-1.5 .6,-1.5 .7,-1.4 .9,-1.3M105.3,352.4l.5,-1.5 .6,-1.5 .6,-1.5 .6,-1.4 .7,-1.5 .7,-1.4M98.9,271.8l.8,1.5 .7,1.4 .8,1.4 .8,1.4M98.1,271.2l.8,1.4 .7,1.4 .8,1.4 .8,1.4M112.9,343l.6,-1.5 .6,-1.5M140.8,329.7l.8,1.4 .7,1.4 .8,1.4 .8,1.4M125.9,295.9l1.1,1.3 .9,1.3 .8,1.3 .8,1.4M84.2,333.3l.6,-1.4 .7,-1.5 .7,-1.4 .7,-1.4 .8,-1.4 .9,-1.3" stroke="#186000" stroke-width="1.0" opacity="0.6"/>
<path d="M106.9,306.2l.4,-1.6 .4,-1.5" stroke="#180048" stroke-width="1.0" opacity="0.8"/>
<path d="M82.2,291l.3,-1.5 .3,-1.6 .2,-1.6 .2,-1.6 .1,-1.6 0,-1.6M82.4,230.2l.3,1.6 .3,1.6 .3,1.6 .2,1.5M83.3,274.1l.1,1.6 0,1.6" stroke="#009000" stroke-width="1.5" opacity="0.6"/>
<path d="M102.3,325.4l1.2,1.1 1.2,1M93.7,274.9l1.1,1.2 1.1,1.1 1.2,1.1 1.2,1.1 1.2,1 1.2,1.1M57.7,259.7l1.2,1 1.3,1 1.3,.9 1.3,.9" stroke="#483018" stroke-width="1.0" opacity="0.8"/>
<path d="M80.7,328.3l.9,-1.4 .8,-1.3" stroke="#3000a8" stroke-width="1.0" opacity="0.6"/>
<path d="M128.4,243.2l1.5,-.6 1.4,-.6" stroke="#181860" stroke-width="1.0" opacity="0.8"/>
<path d="M109.1,232.4l.7,-1.4 .7,-1.4M140.4,247.9l1,-1.2 1,-1.3 .7,-1.4 .8,-1.4 .5,-1.5 .5,-1.6" stroke="#186018" stroke-width="1.0" opacity="0.4"/>
<path d="M110,224.2l1.2,-1.2 1.1,-1.1" stroke="#484800" stroke-width="1.5" opacity="0.4"/>
<path d="M68.3,292.8l1.6,0 1.6,-.1" stroke="#181860" stroke-width="1.0" opacity="0.4"/>
<path d="M138.2,303.5l.6,1.4 .7,1.5 .7,1.4 .6,1.5" stroke="#187800" stroke-width="1.0" opacity="0.8"/>
<path d="M59.8,347.1l1.1,-1.1 1.3,-1 1.2,-1 1.3,-1" stroke="#604800" stroke-width="1.0" opacity="0.8"/>
<path d="M50.6,328.9l1.2,-1 1.3,-1 1.3,-1 1.3,-.9M141.8,274l1,-1.2 1.4,-.9 1.3,-.9 1.5,-.5M99.5,282.4l1.3,1 1.2,1M91,277.5l.8,1.4 1.1,1.2 1.3,.9 1.3,.9 1.4,.8 1.4,.8" stroke="#603000" stroke-width="1.0" opacity="0.6"/>
<path d="M81.3,265.9l.1,1.6 .1,1.6M71.7,348.9l1.1,-1.1 1.1,-1.1M82,225.9l.4,1.6 .4,1.5M88.5,342.5l.1,-1.6 0,-1.6" stroke="#000078" stroke-width="1.0" opacity="0.6"/>
<path d="M138.8,361.2l.8,1.4 .8,1.4 .9,1.3 .9,1.3M143.2,337.9l.7,1.5 .7,1.4 .7,1.5 .6,1.4 .7,1.5 .7,1.4M161.1,250.8l.6,-1.5 .8,-1.4 .7,-1.4 1,-1.3M114.3,250.8l1.2,1.1 .9,1.3 .7,1.4 .7,1.4 .6,1.5 .5,1.6M97,364.6l.8,-1.4 .7,-1.4 .7,-1.4 .7,-1.5M147.7,251.8l.9,-1.4 .8,-1.3M114,250.6l1.2,1 1,1.3 .8,1.4 .7,1.4 .6,1.5 .5,1.5M96.4,209.5l.7,-1.4 .7,-1.5 .7,-1.4 .6,-1.5M65.1,235l.7,1.5 .7,1.4 .8,1.4 .7,1.4 .9,1.3 1,1.3M103.5,251.6l.9,1.3 .7,1.4 .7,1.5 .5,1.5M55.6,248.7l.6,1.5 .7,1.5 .7,1.4 .7,1.4 .9,1.4 .9,1.3M104,219.9l.7,-1.4 .7,-1.4 .7,-1.4 .7,-1.5 .6,-1.5 .5,-1.5M168.9,264.4l.9,-1.3 .9,-1.4M85.1,363.5l.6,-1.5 .7,-1.4 .7,-1.5 .6,-1.4" stroke="#184800" stroke-width="1.0" opacity="0.6"/>
<path d="M98.7,280l1.1,1.1 1.2,1M159.5,238.7l1.1,-1.1 1.2,-1.1M67.4,315.7l1.3,-1 1.3,-1 1.2,-1 1.2,-1M91.9,327.3l1.1,-1.2 1.3,-.9 1.2,-1 1.4,-.8" stroke="#483000" stroke-width="1.0" opacity="0.4"/>
<path d="M72,272.1l1.2,1.1 1.2,1" stroke="#786000" stroke-width="1.0" opacity="0.6"/>
<path d="M70.9,309.6l1.3,-1 1.2,-1" stroke="#483018" stroke-width="1.5" opacity="0.6"/>
<path d="M84.5,286.5l.2,-1.6 .1,-1.6M90.2,247.7l0,1.6 0,1.6 0,1.6 .1,1.6M131.5,272.8l0,-1.6 0,-1.6 0,-1.6 0,-1.6M108.5,278.2l0,-1.6 .1,-1.6 .1,-1.6 .1,-1.6 0,-1.6 .1,-1.6M82.2,287.6l.2,-1.6 .1,-1.6 .1,-1.6 0,-1.6M134.6,288.3l0,1.6 .1,1.6 .1,1.6 .1,1.6M87.4,291.4l.5,-1.5 .4,-1.6 .3,-1.5 .3,-1.6 .1,-1.6 0,1.6M123.8,218.2l.3,1.6 .2,1.6 .2,1.6 .2,1.5 .1,1.6 0,-1.6" stroke="#009000" stroke-width="1.0" opacity="0.4"/>
<path d="M42.1,293.4l1.6,0 1.6,.1 1.6,0 1.6,0 1.6,-.1 1.6,0M58,286.1l1.5,-.2 1.6,-.2 1.6,-.2 1.6,-.2 1.6,-.1 1.6,-.1" stroke="#900000" stroke-width="1.0" opacity="0.4"/>
<path d="M91.7,210l.6,-1.5 .7,-1.4M137.9,355.4l.8,1.4 .8,1.4 .8,1.4 .9,1.3 1,1.3 1,1.2" stroke="#184800" stroke-width="1.0" opacity="0.8"/>
<path d="M75.4,319.5l1,-1.2 1,-1.3 .9,-1.3 1,-1.3 .8,-1.4 .7,-1.4" stroke="#48a818" stroke-width="1.5" opacity="0.6"/>
<path d="M90.5,292.2l1.2,-1 1.3,-1M71.4,279l1.4,.7 1.5,.7" stroke="#180078" stroke-width="1.5" opacity="0.6"/>
<path d="M108.9,236.2l.2,-1.5 .5,-1.6 .5,-1.5 .6,-1.5M110.9,305.5l.3,1.6 .7,1.4 .7,1.5 1.3,1" stroke="#003000" stroke-width="1.0" opacity="0.8"/>
<path d="M146.7,353.7l1.3,.9 1.3,.9 1.4,.8 1.4,.7 1.5,.7 1.4,.7M158,317.5l1.5,.6 1.5,.6 1.4,.7 1.4,.8 1.4,.8 1.4,.8 1.4,.8 1.4,.8M142.5,306.8l1,1.2 1.1,1.1 1.3,1 1.2,1 1.4,.9 1.4,.7" stroke="#301800" stroke-width="1.5" opacity="0.6"/>
<path d="M128.5,247.4l1.5,-.6 1.5,-.6 1.2,-1 1.3,-1 .9,-1.4 .7,-1.4M69.3,349.2l1.2,-1 1.3,-1.1 1.2,-1 1.2,-1" stroke="#784800" stroke-width="1.0" opacity="0.4"/>
<path d="M43.6,307.2l1.5,-.3 1.6,-.4M154.5,347.8l1,1.2 1.1,1.2M139.2,321.1l.6,1.5 .6,1.5M111.8,343.2l.7,-1.4 .6,-1.5M101.1,206.7l.4,-1.6 .3,-1.5M57.5,311l1.6,-.1 1.6,-.2" stroke="#000048" stroke-width="1.5" opacity="0.6"/>
<path d="M156.9,318.8l1.4,.7 1.4,.7 1.4,.9 1.3,.8 1.3,.9 1.3,1M166,317.3l1.5,.6 1.5,.7M143.1,291.8l1.2,-1 1.3,-.9 1.3,-.9 1.4,-.9 1.3,-.8 1.5,-.7M155.9,266.6l1.6,-.5 1.4,-.7 1.3,-1 1.3,-.9 1.1,-1.2 1,-1.2" stroke="#481800" stroke-width="1.5" opacity="0.4"/>
<path d="M132,340.1l.9,1.4 .8,1.4" stroke="#301890" stroke-width="1.0" opacity="0.4"/>
<path d="M147.4,350.6l1.1,1.1 1.1,1.2M61,258l1.1,1.1 1.2,1.1 1.2,1 1.3,1M140.5,360.6l1,1.3 1.1,1.1 1.1,1.2 1.2,1M142.1,354.3l1.1,1.1 1.2,1.1 1.1,1.1 1.3,.9M64.5,254l1.1,1.1 1.2,1.1 1.2,1 1.2,1.1" stroke="#303000" stroke-width="1.0" opacity="0.6"/>
<path d="M120.2,366.4l.3,1.6 .2,1.6" stroke="#180030" stroke-width="1.5" opacity="0.6"/>
<path d="M137.1,333.1l.7,1.4 .8,1.4 .8,1.4 .8,1.4 .8,1.4 .8,1.4" stroke="#307800" stroke-width="1.5" opacity="0.4"/>
<path d="M74,267.4l.9,1.3 .9,1.3M147.5,242.9l.3,-1.6 .2,-1.6" stroke="#181848" stroke-width="1.5" opacity="0.6"/>
<path d="M115.3,352.9l.2,-1.5 .3,-1.6M46.8,299.2l1.6,-.1 1.6,-.1M123.1,353.5l.1,1.6 .1,1.6M157,237.6l1.1,-1.2 1,-1.2M97.6,240.5l1.5,.4 1.6,.5M139.6,241.2l.4,-1.6 .4,-1.5" stroke="#180048" stroke-width="1.0" opacity="0.4"/>
<path d="M72.5,255.9l1.1,1.1 1.2,1.1" stroke="#787818" stroke-width="1.0" opacity="0.4"/>
<path d="M126.9,232.8l.2,-1.6 .1,-1.6 0,-1.6 .1,1.6M110.5,284.2l.3,-1.6 .2,-1.6 .2,-1.6 .3,-1.6 .2,-1.6 .2,-1.5" stroke="#00d818" stroke-width="1.0" opacity="0.4"/>
<path d="M139.8,265.3l.6,-1.4 1.6,-.5 1.5,-.4 1.6,-.1M157.2,274.3l1.6,.3 1.6,.2 1.5,.3 1.6,.2M64.5,307l1.6,-.4 1.5,-.5 1.5,-.5 1.5,-.5M56.3,292l1.6,-.1 1.6,-.1M105.8,319l1.5,.3 1.6,.3 1.6,.3 1.5,.3M151.8,291l1.6,-.3 1.6,-.1 1.6,0 1.6,0 1.6,.1 1.6,.2M46.9,308l1.6,-.2 1.6,0 1.6,-.1 1.6,0M62.6,271l1.5,.5 1.6,.5 1.5,.5 1.5,.5M53.6,266.5l1.5,.4 1.6,.3 1.5,.4 1.6,.4" stroke="#600000" stroke-width="1.0" opacity="0.6"/>
<path d="M128.1,344.6l.7,1.4 .8,1.4 .7,1.5 .7,1.4 .6,1.5 .5,1.5" stroke="#189000" stroke-width="1.5" opacity="0.4"/>
<path d="M55.4,298.3l1.5,.1 1.6,.1 1.6,0 1.6,.1 1.6,.1 1.6,0 1.6,0 1.6,-.1" stroke="#780018" stroke-width="1.0" opacity="0.8"/>
<path d="M136.5,230.9l.2,1.6 .1,1.6M78.7,352.1l.5,-1.5 .5,-1.5 .5,-1.5 .6,-1.6 .5,-1.5 .5,-1.5" stroke="#007818" stroke-width="1.5" opacity="0.6"/>
<path d="M59.9,322.6l1.3,-.9 1.3,-.9M62,334.4l1.3,-1 1.3,-.9" stroke="#180060" stroke-width="1.5" opacity="0.8"/>
<path d="M101.4,217l.5,-1.5 .6,-1.5 .5,-1.5 .6,-1.5M123,358.3l0,1.6 .1,1.6 0,1.6 0,1.6M120,365.6l.3,1.6 .3,1.5 .2,1.6 .3,1.6M73.8,228.7l.2,1.6 .1,1.6 .3,1.6 .3,1.6 .3,1.6 .4,1.5M111.5,206l.5,1.5 .4,1.6 .1,1.6 .1,1.6 .1,-1.6 .1,1.6M100.5,220.4l.3,-1.6 .4,-1.6 .4,-1.5 .5,-1.5M159.4,257.8l.6,-1.4 .6,-1.6 .5,-1.5 .5,-1.5M156.1,254.4l.5,-1.5 .3,-1.5 .4,-1.6 .4,-1.6M147.7,246l.4,-1.5 .3,-1.6 .2,-1.6 .3,-1.6" stroke="#003000" stroke-width="1.0" opacity="0.6"/>
<path d="M156.1,262.1l1.2,-1.1 1,-1.2 1.1,-1.2 .8,-1.4" stroke="#304800" stroke-width="1.5" opacity="0.6"/>
<path d="M67.6,279.6l1.5,.3 1.6,.3M59.7,282l1.6,-.2 1.6,-.1 1.6,-.1 1.6,-.1 1.6,.1 1.6,.1M70.2,293.2l1.6,-.2 1.6,-.1" stroke="#780000" stroke-width="1.0" opacity="0.8"/>
<path d="M58.3,252.5l.9,1.4 .8,1.4M109.3,356.7l.2,-1.6 .2,-1.6M141.1,243.5l.6,-1.5 .6,-1.5" stroke="#000048" stroke-width="1.0" opacity="0.4"/>
<path d="M99.4,262.4l.3,1.6 .3,1.6 .4,1.5 .3,1.6M125.9,270.2l.1,-1.5 .1,-1.6 .1,-1.6 .1,-1.6M119.7,205.1l.4,1.6 .4,1.5 .3,1.6 .4,1.5 .3,1.6 .3,1.6" stroke="#004800" stroke-width="1.5" opacity="0.8"/>
<path d="M96.7,244.9l1.5,.4 1.6,.4M117.4,229.4l1,-1.3 1,-1.3M139.5,254.2l1.5,-.6 1.5,-.6M88.4,355.6l.4,-1.6 .3,-1.5M75,330.3l1.2,-1 1.3,-1M68.7,340.7l1.5,-.5 1.5,-.6M111.3,238.8l1.6,-.1 1.6,0M97.7,217.8l.1,1.6 .1,1.6" stroke="#001848" stroke-width="1.0" opacity="0.6"/>
<path d="M131.9,280.1l0,-1.6 .1,-1.6 0,-1.6 0,-1.6 0,-1.6 0,-1.6M85.9,231.8l.4,1.6 .4,1.5 .4,1.6 .4,1.5" stroke="#00c018" stroke-width="1.5" opacity="0.6"/>
<path d="M83.4,232.6l.3,1.6 .2,1.5 .2,1.6 .3,1.6M82,290.9l.4,-1.5 .2,-1.6 .3,-1.6 .2,-1.6" stroke="#00a800" stroke-width="1.5" opacity="0.6"/>
<path d="M65.5,228.7l.5,1.5 .5,1.5 .4,1.6 .5,1.5M93,259l.3,1.6 .3,1.6 .3,1.5 .4,1.6M117.6,205.5l.5,1.5 .5,1.5 .4,1.6 .2,1.5 .3,1.6 .2,1.6 .1,1.6 0,-1.6M123.1,354.3l.1,1.6 0,1.6 .1,1.6 0,1.6 0,1.6 0,1.6M76.2,226.1l.2,1.5 .1,1.6" stroke="#003000" stroke-width="1.0" opacity="0.4"/>
<path d="M134.1,268.1l0,-1.6 .1,-1.6" stroke="#0030c0" stroke-width="1.0" opacity="0.4"/>
<path d="M156.4,278.9l1.5,.4 1.5,.6 1.5,.5 1.5,.7 1.5,.6 1.5,.6 1.4,.6 1.5,.6M67.1,308.7l1.5,-.7 1.4,-.7 1.4,-.9 1.4,-.8 1.3,-.9 1.2,-1M119.1,310.5l1.5,.6 1.5,.5 1.5,.7 1.5,.7 1.3,.7 1.3,1M119.8,320.2l1.5,.4 1.6,.5 1.4,.7 1.5,.7 1.2,1 .9,1.3" stroke="#601800" stroke-width="1.0" opacity="0.6"/>
<path d="M60.7,277.6l1.6,0 1.6,-.1" stroke="#000060" stroke-width="1.0" opacity="0.8"/>
<path d="M85.7,253.8l.1,1.6 0,1.6M124.7,219.2l.4,1.6 .3,1.6" stroke="#00a800" stroke-width="1.0" opacity="0.6"/>
<path d="M148.7,284l1.4,-.6 1.5,-.6" stroke="#181860" stroke-width="1.5" opacity="0.6"/>
<path d="M97.2,365l.8,-1.3 .7,-1.5 .7,-1.4 .7,-1.5M158.5,244.2l.7,-1.4 .7,-1.5M143,252l1.2,-.9 1.2,-1.2 .9,-1.3 .9,-1.3 .7,-1.4 .6,-1.5M105.1,309.2l.7,-1.5 .7,-1.4" stroke="#184800" stroke-width="1.0" opacity="0.4"/>
<path d="M58.2,241.5l.7,1.4 .6,1.5M159.4,328.1l.9,1.2 1,1.3" stroke="#181848" stroke-width="1.0" opacity="0.8"/>
<path d="M159.9,333.6l.9,1.3 1.1,1.2 1,1.3 1.2,1.1" stroke="#304800" stroke-width="1.0" opacity="0.4"/>
<path d="M88.9,225.8l.9,1.3 1,1.3M113.8,275.5l.4,-1.5 .5,-1.6" stroke="#1830a8" stroke-width="1.5" opacity="0.4"/>
<path d="M75.1,263.9l.7,1.4 .8,1.4M141.4,342l.8,1.4 .8,1.3 .8,1.4 .8,1.4" stroke="#309000" stroke-width="1.5" opacity="0.6"/>
<path d="M81.2,255.4l.1,1.6 .2,1.6 .2,1.6 .1,1.6" stroke="#00f000" stroke-width="1.5" opacity="0.6"/>
<path d="M74.1,315.4l1,-1.3 1,-1.2 1,-1.3 .9,-1.3M116.7,227.8l1,-1.3 .9,-1.3 .9,-1.4 .6,-1.4M87.7,366l.9,-1.3 .8,-1.3M139.9,249.9l1.2,-1.1 1.1,-1.1 1,-1.3 1,-1.2 .8,-1.4 .6,-1.5" stroke="#306000" stroke-width="1.0" opacity="0.4"/>
<path d="M134,278.4l.1,-1.6 0,-1.6 0,-1.6 0,-1.6 0,-1.6 0,-1.6M84.8,272.3l.1,1.6 0,1.6M137.2,251.7l.2,1.5 .2,1.6 .1,1.6 .1,1.6 .1,1.6 0,-1.6" stroke="#00a818" stroke-width="1.0" opacity="0.4"/>
<path d="M44.4,289.2l1.6,.2 1.6,.2M105.3,360l.2,-1.6 .2,-1.5M50.8,299.2l1.6,0 1.6,0" stroke="#180060" stroke-width="1.5" opacity="0.6"/>
<path d="M150.4,279.2l1.6,-.2 1.6,-.2" stroke="#000078" stroke-width="1.0" opacity="0.8"/>
<path d="M129.3,339.2l.8,1.3 .9,1.4 .8,1.4 .8,1.3" stroke="#48d818" stroke-width="1.5" opacity="0.6"/>
<path d="M83,321.5l1,-1.3 .9,-1.3" stroke="#1818c0" stroke-width="1.0" opacity="0.4"/>
<path d="M141.5,252.3l1.4,-.8 1.2,-1.1 1.3,-1 1.1,-1.1M152.2,349.8l1.2,1.2 1.2,1 1.3,.9 1.2,1 1.3,.9 1.3,1M162.5,329.2l1.2,1.1 1.2,1 1.3,.9 1.4,.8 1.5,.7 1.5,.5" stroke="#301800" stroke-width="1.0" opacity="0.4"/>
<path d="M141,269.8l1.1,-1.1 1.2,-1.2M162.1,325.5l1.2,1.1 1.1,1.1M71.2,265.9l1.1,1.1 1.2,1.1" stroke="#484800" stroke-width="1.0" opacity="0.8"/>
<path d="M87.1,306.5l.7,-1.4 .6,-1.5 .7,-1.4 .7,-1.5M139.9,323.4l.7,1.4 .7,1.4 .8,1.4 .8,1.4 .8,1.4 .8,1.4M126.9,329l.6,1.5 .6,1.5" stroke="#187818" stroke-width="1.0" opacity="0.4"/>
<path d="M87.3,232.7l.6,1.5 .5,1.6 .5,1.5 .5,1.5 .6,1.5 .5,1.5" stroke="#189000" stroke-width="1.0" opacity="0.4"/>
<path d="M132.8,273.1l0,-1.6 0,-1.6 0,-1.6 0,-1.6M132.5,255.8l.1,-1.6 .1,-1.6 0,-1.6 .1,-1.6 .1,-1.6 .3,-1.5" stroke="#007818" stroke-width="1.5" opacity="0.4"/>
<path d="M95.7,233.3l1.1,1.1 1.2,1.1 1.3,1 1.3,.9 1.3,.8 1.5,.7" stroke="#603018" stroke-width="1.0" opacity="0.8"/>
<path d="M143.1,251.3l1.2,-1.1 1.1,-1.2 1,-1.2 .8,-1.4" stroke="#303000" stroke-width="1.5" opacity="0.6"/>
<path d="M91,266.9l.5,1.6 .5,1.5 .6,1.5 .6,1.4M103.7,372.7l.3,-1.5 .3,-1.6 .2,-1.6 .2,-1.6M106.1,219l.8,-1.4 .8,-1.4 .6,-1.5 .6,-1.5 .5,-1.5 .2,-1.6M90.1,210.3l.6,-1.5 .5,-1.5" stroke="#004800" stroke-width="1.0" opacity="0.8"/>
<path d="M85.2,339.7l.3,-1.6 .4,-1.5 .4,-1.6 .4,-1.5" stroke="#00d800" stroke-width="1.0" opacity="0.6"/>
<path d="M81.9,310.7l.6,-1.5 .6,-1.5M82.3,285l.1,-1.6 0,-1.6" stroke="#0018a8" stroke-width="1.0" opacity="0.6"/>
<path d="M99,322.9l1.6,-.2 1.6,-.2" stroke="#180060" stroke-width="1.5" opacity="0.4"/>
<path d="M110.7,222.5l1.1,-1.1 1.1,-1.2" stroke="#303000" stroke-width="1.0" opacity="0.8"/>
<path d="M75.2,268.6l.7,1.4 .8,1.5M113.4,344.4l.6,-1.5 .6,-1.5 .5,-1.5 .5,-1.5" stroke="#187800" stroke-width="1.0" opacity="0.4"/>
<path d="M74.7,263.6l.9,1.4 .8,1.3M86.4,259.6l.1,1.6 .1,1.6M77.2,343.9l.9,-1.3 .9,-1.3" stroke="#001878" stroke-width="1.0" opacity="0.6"/>
<path d="M79.4,299.6l.6,-1.4 .7,-1.5M128.1,335.7l.8,1.4 .7,1.4" stroke="#30f018" stroke-width="1.0" opacity="0.6"/>
<path d="M150.7,287.2l1.5,-.4 1.6,-.1 1.6,0 1.6,0 1.6,.2 1.6,.3M93.1,294.9l1.5,-.6 1.5,-.4 1.6,-.3 1.5,-.3 1.6,-.2 1.6,-.1M146.7,270.3l1.5,-.2 1.6,-.1 1.6,-.1 1.6,0" stroke="#480000" stroke-width="1.5" opacity="0.8"/>
<path d="M130.2,223.5l.5,1.6 .5,1.5 .4,1.5 .3,1.6 .3,1.6 .1,1.6" stroke="#00c000" stroke-width="1.0" opacity="0.8"/>
<path d="M68.5,243.8l1.1,1.1 1.1,1.2" stroke="#484800" stroke-width="1.5" opacity="0.8"/>
<path d="M64.2,246.9l1,1.2 1.1,1.3" stroke="#304800" stroke-width="1.0" opacity="0.8"/>
<path d="M126.5,336.8l.8,1.5 .7,1.4" stroke="#30f018" stroke-width="1.0" opacity="0.8"/>
<path d="M128.4,223.2l.5,1.5 .5,1.6 .3,1.5 .3,1.6 .2,1.6 .1,1.6" stroke="#00a818" stroke-width="1.5" opacity="0.4"/>
<path d="M103.9,276.4l.4,1.6 .4,1.5 .4,1.6 .3,1.5M125.4,225.1l0,1.6 .1,1.6M132.1,213.7l.4,1.6 .4,1.5M84,348.9l.2,-1.6 .3,-1.6 .2,-1.6 .3,-1.6 .2,-1.5 .3,-1.6" stroke="#009018" stroke-width="1.0" opacity="0.4"/>
<path d="M141,293.8l.9,-1.3 1,-1.3" stroke="#487800" stroke-width="1.0" opacity="0.4"/>
<path d="M112.3,228l1.1,-1.2 1.1,-1.1 1.1,-1.2 1.1,-1.2 .9,-1.2 .8,-1.4M63.8,245l1,1.3 1.1,1.2 1,1.2 1.1,1.1" stroke="#486000" stroke-width="1.0" opacity="0.4"/>
<path d="M61.7,331.6l1.2,-1 1.3,-1" stroke="#181860" stroke-width="1.5" opacity="0.4"/>
<path d="M118,290.2l1.6,.4 1.5,.4 1.5,.5 1.6,.5M165,301.9l1.6,0 1.6,0M162.7,316.5l1.5,.5 1.5,.5" stroke="#480000" stroke-width="1.0" opacity="0.8"/>
<path d="M106.5,331.4l.1,1.6 0,1.6M122.2,340.3l.4,1.5 .4,1.6 .4,1.5 .4,1.6 .5,1.5 .4,1.6M79.6,230.4l.2,1.6 .3,1.6" stroke="#007800" stroke-width="1.5" opacity="0.6"/>
<path d="M154,346.7l.9,1.2 1.1,1.2 1.2,1.1 1.1,1.1 1.3,1 1.2,1" stroke="#484800" stroke-width="1.0" opacity="0.4"/>
<path d="M85,269.1l.1,1.6 0,1.6 .1,1.6 0,1.6" stroke="#00a800" stroke-width="1.5" opacity="0.8"/>
<path d="M80.1,246.7l.3,1.5 .3,1.6" stroke="#1800a8" stroke-width="1.5" opacity="0.4"/>
<path d="M55.2,276.1l1.6,-.2 1.6,-.2M53.3,277.9l1.6,-.2 1.6,-.2M67.5,343.9l1.4,-.7 1.5,-.6M62.1,301.3l1.6,0 1.6,-.1" stroke="#181860" stroke-width="1.0" opacity="0.6"/>
<path d="M161.4,256.9l.6,-1.5 .6,-1.5M76.6,217l.5,1.5 .4,1.6 .4,1.5 .3,1.6M80.8,368.9l.4,-1.5 .3,-1.6 .4,-1.5 .4,-1.6 .5,-1.5 .4,-1.6M144.6,237.1l.2,-1.6 .2,-1.6M92.7,264.7l.5,1.5 .6,1.5 .5,1.5 .7,1.5M151.9,240.1l.4,-1.6 .6,-1.5 .6,-1.5 .8,-1.4M94.9,255.9l.2,1.5 .2,1.6 .3,1.6 .3,1.6 .3,1.5 .4,1.6M159.6,249.5l.5,-1.5 .6,-1.5 .6,-1.5 .8,-1.4" stroke="#004800" stroke-width="1.5" opacity="0.6"/>
<path d="M152.9,279l1.6,.1 1.6,.3 1.5,.4 1.5,.5 1.6,.5 1.4,.6 1.5,.6 1.5,.6" stroke="#600018" stroke-width="1.0" opacity="0.8"/>
<path d="M113.2,283l.6,-1.5 .8,-1.4 .9,-1.3 .9,-1.3 .9,-1.3 1,-1.3" stroke="#307818" stroke-width="1.0" opacity="0.8"/>
<path d="M122.1,317l1.5,.5 1.5,.6 1.4,.8 1.3,.8 1.1,1.2 .7,1.4" stroke="#903000" stroke-width="1.5" opacity="0.4"/>
<path d="M157.4,315.4l1.5,.3 1.6,.4M162.7,306.9l1.6,-.2 1.6,-.1 1.6,-.1 1.6,.1M167.6,282.3l1.5,.4 1.6,.3 1.6,.3 1.6,.2M165.5,318.7l1.4,.7 1.5,.8M101.7,238.7l1.5,.5 1.5,.5M147.8,265.6l1.6,-.2 1.6,-.1 1.5,-.3 1.6,-.2 1.6,-.4 1.5,-.5M149.1,301.1l1.6,0 1.6,.1M118.9,292l1.5,.6 1.5,.6 1.4,.7 1.4,.7 1.4,.8 1.2,1" stroke="#300000" stroke-width="1.0" opacity="0.8"/>
<path d="M113.3,318l1.5,.3 1.6,.3M154.8,236l1.1,-1.2 1,-1.2M66.2,233.7l.6,1.5 .6,1.5M153.5,262.4l1.4,-.7 1.4,-.8M93.1,322.3l1.5,-.5 1.5,-.6" stroke="#001848" stroke-width="1.0" opacity="0.4"/>
<path d="M127.3,244.3l1.6,-.4 1.4,-.6 1.3,-1 1.3,-1 .8,-1.4 .6,-1.5" stroke="#c07800" stroke-width="1.0" opacity="0.6"/>
<path d="M133.5,237.9l.2,-1.6 .1,-1.6 .1,-1.6 .1,1.6" stroke="#00d800" stroke-width="1.5" opacity="0.4"/>
<path d="M142.1,293l1.2,-1 1.3,-1 1.2,-1 1.3,-.9M109.8,324.9l1.4,.8 1.4,.8 1.3,.9 1.2,1.1" stroke="#603000" stroke-width="1.0" opacity="0.4"/>
<path d="M82.1,312.8l.7,-1.5 .6,-1.4 .6,-1.5 .6,-1.5" stroke="#18f000" stroke-width="1.0" opacity="0.6"/>
<path d="M86.4,256.2l.1,1.6 .1,1.6" stroke="#001890" stroke-width="1.0" opacity="0.6"/>
<path d="M86,261.7l.1,1.6 .1,1.6 .1,1.6 .1,1.6M87.6,336.9l.3,-1.6 .4,-1.5 .5,-1.6 .5,-1.5 .6,-1.5 .7,-1.4M131.4,278.2l0,-1.6 0,-1.6 .1,-1.6 0,-1.6 0,-1.6 0,-1.6" stroke="#006000" stroke-width="1.5" opacity="0.8"/>
<path d="M95.6,275.2l1.1,1.1 1.1,1.2 1.1,1.1 1.1,1.2 1.1,1.1 1.1,1.2" stroke="#606000" stroke-width="1.5" opacity="0.6"/>
<path d="M127.9,320.7l.7,1.4 .6,1.5 .5,1.5 .5,1.5 .5,1.5 .5,1.6M84.8,214l.4,1.6 .4,1.5 .5,1.5 .5,1.5 .6,1.5 .7,1.5" stroke="#18a800" stroke-width="1.0" opacity="0.6"/>
<path d="M132,273.8l0,-1.6 0,-1.6M137.9,273.6l.1,-1.6 .2,-1.5M136.4,220.8l.4,1.5 .5,1.6 .4,1.5 .5,1.6 .3,1.5 .3,1.6" stroke="#009018" stroke-width="1.5" opacity="0.6"/>
<path d="M81.1,230l.3,1.6 .3,1.6M90.4,358.6l.7,-1.5 .7,-1.4M114.3,224.7l1,-1.2 1.1,-1.2" stroke="#181878" stroke-width="1.0" opacity="0.4"/>
<path d="M123.7,334.6l.6,1.5 .6,1.5 .6,1.4 .7,1.5 .7,1.4 .8,1.4" stroke="#189018" stroke-width="1.0" opacity="0.8"/>
<path d="M140,300.6l1,1.3 1,1.1 1.1,1.2 1.2,1.2M160.2,327.4l1,1.3 1,1.2 1.1,1.2 1.1,1.1" stroke="#486018" stroke-width="1.5" opacity="0.4"/>
<path d="M70.8,248.8l1.2,1 1.2,1" stroke="#603000" stroke-width="1.0" opacity="0.8"/>
<path d="M64.2,258.3l1.2,1.1 1.2,1 1.3,1 1.2,1M144.4,314.6l1.2,1.1 1.3,.9 1.3,.9 1.4,.8 1.3,.9 1.4,.7M147.1,352.5l1.2,1.1 1.3,.9 1.4,.8 1.3,.8 1.4,.8 1.5,.7" stroke="#301800" stroke-width="1.5" opacity="0.4"/>
<path d="M112.5,325.3l1.5,.8 1.2,.9 1.3,1 1,1.2M120.9,302.4l1.3,1 1.3,1 1.2,1 1.2,1.1" stroke="#603018" stroke-width="1.0" opacity="0.6"/>
<path d="M130,316.1l.6,1.4 .5,1.5 .5,1.5 .5,1.6" stroke="#18c018" stroke-width="1.5" opacity="0.6"/>
<path d="M110.8,291.1l.5,-1.6 .5,-1.5M78.4,277.6l.2,1.5 .3,1.6 .2,1.6 .1,1.6M86.7,275.8l.1,1.6 0,1.6 0,1.6 .1,1.6 0,-1.6 0,1.6" stroke="#009000" stroke-width="1.5" opacity="0.4"/>
<path d="M105.6,265.2l0,1.6 .1,1.6" stroke="#300090" stroke-width="1.0" opacity="0.4"/>
<path d="M142,310.9l1,1.3 .9,1.3M110.4,246.5l1.6,.4 1.5,.4M150.9,228.6l1.3,-.8 1.4,-.9" stroke="#000030" stroke-width="1.5" opacity="0.6"/>
<path d="M131.1,275.2l.1,-1.6 0,-1.6 0,-1.6 0,-1.6" stroke="#006018" stroke-width="1.0" opacity="0.6"/>
<path d="M122.5,303.3l1.3,1 1.1,1.1 1.1,1.2 1.1,1.2 .9,1.3 .8,1.4" stroke="#486018" stroke-width="1.5" opacity="0.6"/>
<path d="M172.1,302l1.5,.7 1.4,.7" stroke="#481800" stroke-width="1.5" opacity="0.8"/>
<path d="M74.5,314.8l1.1,-1.2 .9,-1.3 .8,-1.4 .9,-1.3 .7,-1.4 .7,-1.5M129.6,340.8l.8,1.4 .9,1.3 .8,1.4 .8,1.4 .8,1.4 .8,1.4" stroke="#30a800" stroke-width="1.0" opacity="0.6"/>
<path d="M88.1,321.5l1.4,-.7 1.4,-.8" stroke="#481800" stroke-width="1.0" opacity="0.8"/>
<path d="M73.1,241.3l.9,1.3 .9,1.3 .9,1.3 .9,1.4 .8,1.4 .7,1.4" stroke="#307818" stroke-width="1.0" opacity="0.6"/>
<path d="M116.1,291.3l1.4,.6 1.5,.7 1.4,.7 1.5,.7M113.9,241.3l1.6,0 1.6,-.2 1.5,-.4 1.6,-.4 1.5,-.4 1.5,-.6M122.1,291.2l1.5,.5 1.4,.7 1.5,.7 1.2,1" stroke="#300000" stroke-width="1.5" opacity="0.8"/>
<path d="M54.2,313.3l1.6,-.1 1.6,-.1" stroke="#001830" stroke-width="1.0" opacity="0.8"/>
<path d="M137.6,355.5l.7,1.4 .7,1.5M165.4,323.6l1.4,.8 1.3,.9M98,211.3l.6,-1.5 .7,-1.5" stroke="#000030" stroke-width="1.0" opacity="0.8"/>
<path d="M132.2,311.5l.5,1.5 .5,1.6" stroke="#18d818" stroke-width="1.5" opacity="0.4"/>
<path d="M111.8,272.4l.1,-1.6 .2,-1.6" stroke="#3030d8" stroke-width="1.0" opacity="0.4"/>
<path d="M98.5,274.2l.9,1.4 .9,1.3 .9,1.3 .9,1.3M146.8,324.9l1,1.2 1,1.3 .9,1.2 .9,1.4" stroke="#306018" stroke-width="1.0" opacity="0.8"/>
<path d="M121.7,349.8l.1,1.6 .1,1.6M77.6,218.9l.4,1.6 .3,1.5 .3,1.6 .3,1.6M114.9,259.2l.4,1.6 .2,1.5 .2,1.6 .1,1.6 0,1.6 .1,-1.6M92.6,213.1l0,1.6 .2,1.6 .4,1.5 .4,1.6 .6,1.5 .6,1.4" stroke="#007800" stroke-width="1.0" opacity="0.8"/>
<path d="M66,291.3l1.6,-.1 1.6,0 1.6,0 1.6,0 1.6,-.1 1.6,-.2" stroke="#780018" stroke-width="1.5" opacity="0.6"/>
<path d="M122,239.2l1.4,-.6 1.5,-.7" stroke="#601800" stroke-width="1.5" opacity="0.4"/>
<path d="M114.5,281.3l.9,-1.3 1.1,-1.2 1.1,-1.1 1.1,-1.2 1.1,-1.1 1,-1.3" stroke="#607818" stroke-width="1.0" opacity="0.4"/>
<path d="M79.3,292.7l.5,-1.5 .4,-1.5 .3,-1.6 .2,-1.6 .2,-1.6 .1,-1.6M81.3,349.4l.4,-1.5 .4,-1.6 .4,-1.5 .4,-1.6" stroke="#00c018" stroke-width="1.5" opacity="0.8"/>
<path d="M137.3,323.6l.6,1.5 .6,1.5 .6,1.5 .6,1.5 .7,1.4 .7,1.4" stroke="#186018" stroke-width="1.5" opacity="0.6"/>
<path d="M118.3,261.3l.2,1.6 .2,1.6M165.7,258.6l.8,-1.4 .7,-1.4" stroke="#181848" stroke-width="1.5" opacity="0.4"/>
<path d="M134.9,217.6l.5,1.5 .5,1.5 .5,1.6 .5,1.5M75.9,258l.7,1.4 .6,1.5 .5,1.5 .5,1.5 .4,1.6 .3,1.5" stroke="#18a800" stroke-width="1.0" opacity="0.4"/>
<path d="M87.4,241.6l.1,1.6 .2,1.6" stroke="#1830a8" stroke-width="1.0" opacity="0.6"/>
<path d="M126.4,337.5l.7,1.4 .8,1.4" stroke="#30f018" stroke-width="1.0" opacity="0.4"/>
<path d="M131.9,228l.3,1.6 .1,1.6 .2,1.6 0,1.6M135.3,275l0,-1.6 0,-1.6 .1,-1.6 0,-1.6M81.9,232.6l.3,1.5 .2,1.6 .2,1.6 .2,1.6 .2,1.6 .1,1.6M109.8,293.1l.5,-1.5 .4,-1.5 .4,-1.6 .4,-1.5 .3,-1.6 .4,-1.5" stroke="#00a800" stroke-width="1.5" opacity="0.4"/>
<path d="M55.5,270.8l1.6,.1 1.6,.1" stroke="#780000" stroke-width="1.5" opacity="0.4"/>
<path d="M65,331.2l1.3,-.9 1.3,-.9 1.3,-.9 1.4,-.9 1.3,-.9 1.3,-1" stroke="#481818" stroke-width="1.0" opacity="0.6"/>
<path d="M75.3,306.9l1,-1.3 .9,-1.3" stroke="#60d818" stroke-width="1.0" opacity="0.6"/>
<path d="M125.9,296.1l1.1,1.2 .8,1.3 .8,1.4 .8,1.4 .7,1.5 .7,1.4M102.3,326.4l.6,1.5 .5,1.5" stroke="#187818" stroke-width="1.0" opacity="0.8"/>
<path d="M80.3,332.3l.8,-1.3 .8,-1.4 .8,-1.4 .8,-1.4 .8,-1.4 .8,-1.3" stroke="#30a800" stroke-width="1.5" opacity="0.8"/>
<path d="M46,292.1l1.6,0 1.6,.1" stroke="#180078" stroke-width="1.0" opacity="0.6"/>
<path d="M132.6,343.6l.9,1.4 .8,1.4" stroke="#30a818" stroke-width="1.5" opacity="0.6"/>
<path d="M125.6,315.4l1.3,.9 1.3,1" stroke="#000090" stroke-width="1.0" opacity="0.6"/>
<path d="M81.2,250.5l.2,1.6 .2,1.6" stroke="#301890" stroke-width="1.0" opacity="0.6"/>
<path d="M82.5,321.5l1,-1.3 .9,-1.2 1,-1.3 1,-1.3M138,252.7l.3,-1.6 0,1.6 1,-1.3 .9,-1.3 1.3,-1 1.2,-1" stroke="#487818" stroke-width="1.0" opacity="0.4"/>
<path d="M134.2,247.9l.5,-1.5 .5,-1.6" stroke="#0000c0" stroke-width="1.5" opacity="0.6"/>
<path d="M149.5,325.4l1,1.2 .9,1.4 .9,1.3 .8,1.4" stroke="#307800" stroke-width="1.5" opacity="0.8"/>
<path d="M129.8,352.5l.4,1.6 .4,1.5" stroke="#000060" stroke-width="1.5" opacity="0.8"/>
<path d="M116.9,243.4l1.6,-.1 1.6,-.2M166.2,306.2l1.6,0 1.6,.3 1.5,.2 1.6,.4M153.7,306.5l1.6,-.1 1.6,-.2 1.6,-.2 1.5,-.3 1.6,-.3 1.6,-.4M146.9,301.2l1.5,.3 1.6,.1 1.6,.1 1.6,.1M54.2,312.9l1.6,-.1 1.6,-.1" stroke="#300000" stroke-width="1.5" opacity="0.4"/>
<path d="M136.2,218.7l.4,1.5 .5,1.6" stroke="#301890" stroke-width="1.0" opacity="0.8"/>
<path d="M155.7,239.5l.8,-1.4 1,-1.3 1.2,-1.1 1.1,-1.1 1.3,-.9 1.4,-.8M115.9,248.4l1.5,.5 1.6,.3 1.2,1.1 1.1,1.1 .3,-1.6 1.3,-1" stroke="#303000" stroke-width="1.0" opacity="0.4"/>
<path d="M126.2,333.3l.7,1.5 .7,1.4 .7,1.4 .8,1.4 .8,1.4 .8,1.4" stroke="#30c018" stroke-width="1.0" opacity="0.4"/>
<path d="M155.1,308.3l1.6,-.1 1.6,-.1" stroke="#000018" stroke-width="1.0" opacity="0.4"/>
<path d="M57.3,335.8l1,-1.3 1.1,-1.1 1.1,-1.2 1.2,-1.1 1.2,-1 1.2,-1.1M70,312.5l1.2,-1 1.2,-1 1.2,-1.1 1.2,-1.1" stroke="#786018" stroke-width="1.0" opacity="0.6"/>
<path d="M138.7,301.3l.8,1.4 .8,1.4 .8,1.4 .8,1.3" stroke="#184800" stroke-width="1.5" opacity="0.8"/>
<path d="M109.2,346l.7,-1.4 .7,-1.5" stroke="#187800" stroke-width="1.5" opacity="0.6"/>
<path d="M140.1,275.6l.3,-1.5 .6,-1.6 .5,-1.5 .7,-1.4" stroke="#189018" stroke-width="1.0" opacity="0.6"/>
<path d="M90,235.8l.8,1.4 .8,1.4" stroke="#48c018" stroke-width="1.0" opacity="0.4"/>
<path d="M75.1,290.2l1.4,-.8 1.3,-.9" stroke="#0000a8" stroke-width="1.0" opacity="0.4"/>
<path d="M159.6,328l1,1.3 1,1.2 1,1.2 1.2,1.1 1.2,1.1 1.3,.9 1.4,.8 1.4,.6" stroke="#303018" stroke-width="1.5" opacity="0.6"/>
<path d="M80.3,314.6l.8,-1.5 .6,-1.4 .6,-1.5 .6,-1.5 .6,-1.5 .6,-1.5 .5,-1.5 .5,-1.5M75.8,280.5l.8,1.4 .5,1.5 .6,1.5 .3,1.6" stroke="#189018" stroke-width="1.5" opacity="0.4"/>
<path d="M138.7,236.5l0,-1.6 0,-1.6" stroke="#001878" stroke-width="1.5" opacity="0.6"/>
<path d="M130.6,309.4l.6,1.5 .5,1.5" stroke="#180078" stroke-width="1.5" opacity="0.8"/>
<path d="M81.5,287.1l.1,-1.6 .1,-1.5" stroke="#1818c0" stroke-width="1.0" opacity="0.8"/>
<path d="M82.3,303.1l.6,-1.5 .5,-1.5" stroke="#18d818" stroke-width="1.0" opacity="0.6"/>
<path d="M97.2,226.4l.7,1.4 .8,1.4" stroke="#181890" stroke-width="1.5" opacity="0.4"/>
<path d="M126.4,261.3l.2,-1.6 .2,-1.6 .3,-1.5 .4,-1.6 .4,-1.5 .6,-1.5M153.1,241.5l.3,-1.6 .6,-1.5 .5,-1.5 .8,-1.4M96.4,253.3l.2,1.6 .1,1.6" stroke="#003000" stroke-width="1.5" opacity="0.4"/>
<path d="M126.9,221.2l.5,1.5 .5,1.6 .4,1.5 .4,1.5" stroke="#18d800" stroke-width="1.5" opacity="0.4"/>
<path d="M76.9,260l.5,1.5 .5,1.5 .4,1.6 .4,1.5M130.9,324.5l.4,1.6 .5,1.5M109.6,303.1l.1,-1.6 .2,-1.6 .2,-1.6 .2,-1.5" stroke="#009000" stroke-width="1.0" opacity="0.6"/>
<path d="M141.2,250l1.3,-1.1 1.2,-1M141.3,229.7l.1,1.6 .1,1.6" stroke="#000060" stroke-width="1.0" opacity="0.6"/>
<path d="M103.8,290l1.3,.9 1.2,1.1 1.2,1 .7,-1.5" stroke="#784800" stroke-width="1.0" opacity="0.6"/>
<path d="M132.9,316.6l.4,1.5 .5,1.6" stroke="#18c018" stroke-width="1.0" opacity="0.8"/>
<path d="M90.5,235.2l.9,1.4 .8,1.3" stroke="#48c018" stroke-width="1.0" opacity="0.8"/>
<path d="M84.8,334.3l.5,-1.5 .6,-1.5M81.2,303.6l.6,-1.5 .5,-1.5 .5,-1.5 .6,-1.5 .5,-1.5 .5,-1.6" stroke="#18c000" stroke-width="1.5" opacity="0.6"/>
<path d="M110.4,342.7l.6,-1.4 .6,-1.5 .5,-1.6 .5,-1.5 .4,-1.5 .2,-1.6" stroke="#009018" stroke-width="1.5" opacity="0.8"/>
<path d="M132.6,293.7l.3,1.6 .5,1.5 .4,1.5 .5,1.6 .5,1.5 .6,1.5" stroke="#18c018" stroke-width="1.0" opacity="0.4"/>
<path d="M137.9,268.9l.2,-1.6 .2,-1.6M66,303.3l1.6,-.3 1.6,-.3" stroke="#181878" stroke-width="1.5" opacity="0.6"/>
<path d="M67.4,315.4l1.3,-1 1.3,-1 1.2,-1 1.2,-1 1.2,-1.1 1.2,-1.1" stroke="#603018" stroke-width="1.5" opacity="0.4"/>
<path d="M59.4,274.3l1.6,0 1.6,0" stroke="#001860" stroke-width="1.0" opacity="0.8"/>
<path d="M147.3,265.7l1.6,-.1 1.6,-.1" stroke="#000048" stroke-width="1.0" opacity="0.8"/>
<path d="M127.7,239.1l1,-1.2 1,-1.3" stroke="#78c000" stroke-width="1.0" opacity="0.4"/>
<path d="M108.6,307.7l.1,-1.6 .1,-1.6M153.1,232.7l1.2,-1 1.2,-1" stroke="#000048" stroke-width="1.5" opacity="0.4"/>
<path d="M154.1,336.4l.4,1.5 .5,1.6 .6,1.4 .6,1.5 .7,1.5 .8,1.4" stroke="#187818" stroke-width="1.5" opacity="0.4"/>
<path d="M72.8,339.8l1.4,-.7 1.4,-.8" stroke="#000060" stroke-width="1.5" opacity="0.4"/>
<path d="M123.8,306l1.1,1.1 1.2,1.1" stroke="#604818" stroke-width="1.0" opacity="0.4"/>
<path d="M64.4,320.1l1.3,-1 1.2,-1 1.2,-1 1.3,-1 1.2,-1.1 1.2,-1M151.5,260.6l1.4,-.8 1.2,-1 1.2,-1.1 1.1,-1.2" stroke="#301800" stroke-width="1.0" opacity="0.8"/>
<path d="M138.6,280.1l.1,-1.6 .2,-1.6" stroke="#181890" stroke-width="1.0" opacity="0.6"/>
<path d="M122.3,340.2l.3,1.5 .4,1.6 .5,1.5 .4,1.6 .4,1.5 .5,1.6M78.5,276.6l.3,1.6 .2,1.6" stroke="#009018" stroke-width="1.0" opacity="0.6"/>
<path d="M65.8,285.2l1.6,0 1.6,.1 1.6,.2 1.6,.2 1.5,.2 1.6,.4M54.6,291.2l1.6,-.1 1.6,-.1 1.6,-.2 1.6,-.1" stroke="#900018" stroke-width="1.5" opacity="0.4"/>
<path d="M90.7,232.4l1,1.2 1,1.3 1,1.2 1.1,1.2" stroke="#487800" stroke-width="1.5" opacity="0.4"/>
<path d="M156,320.2l1.4,.8 1.3,.9 1.3,1 1.2,1 1.2,1 1.2,1.1M144.8,281.4l1.1,-1.1 1.3,-.9 1.3,-.9 1.5,-.6" stroke="#603000" stroke-width="1.5" opacity="0.4"/>
<path d="M83.4,298.1l.5,-1.5 .5,-1.5 .5,-1.5 .5,-1.6 .5,-1.5 .4,-1.5M82.4,337.2l.6,-1.5 .6,-1.5" stroke="#18c000" stroke-width="1.0" opacity="0.6"/>
<path d="M79.4,335.2l.8,-1.3 .9,-1.3" stroke="#307800" stroke-width="1.0" opacity="0.4"/>
<path d="M119.1,269.7l.3,-1.6 .2,-1.6" stroke="#000060" stroke-width="1.5" opacity="0.6"/>
<path d="M80,333.9l.8,-1.4 .8,-1.3" stroke="#301890" stroke-width="1.5" opacity="0.8"/>
<path d="M46.6,293.6l1.6,0 1.6,0 1.6,-.1 1.6,0 1.6,0 1.6,-.1" stroke="#780000" stroke-width="1.0" opacity="0.4"/>
<path d="M106.9,275.4l0,-1.6 0,-1.6" stroke="#0030a8" stroke-width="1.5" opacity="0.6"/>
<path d="M57.8,289.8l1.6,-.1 1.6,-.2 1.6,-.1 1.6,-.2" stroke="#a80018" stroke-width="1.0" opacity="0.4"/>
<path d="M70,283.8l1.6,.3 1.5,.3" stroke="#180090" stroke-width="1.5" opacity="0.4"/>
<path d="M77.9,310l.8,-1.4 .6,-1.5 .7,-1.4 .6,-1.5" stroke="#18c000" stroke-width="1.0" opacity="0.8"/>
<path d="M150.5,285.3l1.5,-.4 1.6,-.4" stroke="#001860" stroke-width="1.5" opacity="0.4"/>
<path d="M87.5,343.4l.1,-1.6 .1,-1.6" stroke="#1800c0" stroke-width="1.0" opacity="0.6"/>
<path d="M97.1,233.7l1.1,1.1 1.1,1.2" stroke="#181890" stroke-width="1.5" opacity="0.8"/>
<path d="M98.4,233.1l1.1,1.2 1.1,1.2 1.2,1.1 1.2,.9" stroke="#606018" stroke-width="1.0" opacity="0.6"/>
<path d="M136.9,312.3l.4,1.5 .5,1.5 .5,1.5 .5,1.6" stroke="#007818" stroke-width="1.5" opacity="0.8"/>
<path d="M50.9,281.6l1.6,-.2 1.6,-.2 1.6,-.2 1.6,-.3 1.6,-.3 1.5,-.3" stroke="#600018" stroke-width="1.0" opacity="0.6"/>
<path d="M146.9,347l.9,1.4 .9,1.3M124.3,357.1l.1,1.6 0,1.6" stroke="#180048" stroke-width="1.5" opacity="0.4"/>
<path d="M64.5,253.8l1.1,1.1 1.1,1.2M151.5,234.2l1,-1.3 1.2,-1.1 1.1,-1.1 1.3,-.9" stroke="#484800" stroke-width="1.0" opacity="0.6"/>
<path d="M137.8,285.7l.1,-1.6 .1,-1.6 .1,-1.6 .1,-1.6 .1,-1.6 0,-1.6" stroke="#00c018" stroke-width="1.0" opacity="0.6"/>
<path d="M98.8,219.6l.1,-1.6 .1,-1.6M65.3,338.3l1.5,-.7 1.4,-.6M65.2,243.3l1,1.2 1,1.3M68,234.4l.5,1.5 .6,1.5" stroke="#001848" stroke-width="1.5" opacity="0.6"/>
<path d="M126.1,239.3l1.2,-1 1.3,-1" stroke="#906000" stroke-width="1.0" opacity="0.4"/>
<path d="M114.2,281.1l.9,-1.3 1,-1.3 1,-1.2 1,-1.2" stroke="#489018" stroke-width="1.5" opacity="0.6"/>
<path d="M85.8,218l.5,1.5 .7,1.4 .6,1.5 .8,1.4" stroke="#30d818" stroke-width="1.0" opacity="0.4"/>
<path d="M82.4,243.9l.2,1.6 .1,1.6" stroke="#00c000" stroke-width="1.5" opacity="0.4"/>
<path d="M152.2,309.9l1.6,.2 1.6,0 1.6,.1 1.6,-.1" stroke="#180000" stroke-width="1.0" opacity="0.6"/>
<path d="M74.4,305l1.1,-1.2 1,-1.2" stroke="#609000" stroke-width="1.5" opacity="0.6"/>
<path d="M125.2,335l.7,1.4 .7,1.5 .7,1.4 .8,1.4 .8,1.4 .8,1.3" stroke="#30d818" stroke-width="1.0" opacity="0.6"/>
<path d="M83.6,235.3l.2,1.6 .2,1.6" stroke="#3018a8" stroke-width="1.0" opacity="0.8"/>
<path d="M120.5,324.3l1.3,.9 1.3,.9M87.1,316.4l1.2,-1 1.3,-1" stroke="#603000" stroke-width="1.5" opacity="0.6"/>
<path d="M90.5,369.1l1,-1.2 1,-1.3 1,-1.2 1,-1.3M63.5,252.6l1.1,1.2 1.1,1.2" stroke="#486018" stroke-width="1.0" opacity="0.4"/>
<path d="M53,305.4l1.6,.1 1.6,.1M64.3,277l1.6,.2 1.6,.3 1.5,.4 1.6,.4" stroke="#600000" stroke-width="1.0" opacity="0.8"/>
<path d="M143.9,300.3l1.6,.4 1.5,.5" stroke="#000030" stroke-width="1.5" opacity="0.8"/>
<path d="M163,341.9l1.4,.9 1.3,.9" stroke="#601800" stroke-width="1.0" opacity="0.8"/>
<path d="M117.8,230.1l1,-1.3 1,-1.3" stroke="#306018" stroke-width="1.0" opacity="0.4"/>
<path d="M111.3,262.3l0,1.6 .1,1.6" stroke="#00a800" stroke-width="1.0" opacity="0.4"/>
<path d="M132.7,287.4l0,1.6 0,1.6" stroke="#181890" stroke-width="1.0" opacity="0.4"/>
<path d="M118.6,242.2l1.5,-.4 1.6,-.4" stroke="#180048" stroke-width="1.5" opacity="0.6"/>
<path d="M144.8,318.2l1.2,1 1.2,1.1" stroke="#303000" stroke-width="1.5" opacity="0.8"/>
<path d="M162.9,282.3l1.5,.6 1.5,.7" stroke="#001830" stroke-width="1.5" opacity="0.4"/>
<path d="M107.9,229.8l.8,-1.4 .8,-1.4M138.5,336.8l.8,1.4 .8,1.3 .9,1.4 .8,1.4" stroke="#186000" stroke-width="1.0" opacity="0.8"/>
<path d="M89.3,219.5l.7,1.4 .9,1.4 .9,1.3 1,1.3" stroke="#48a800" stroke-width="1.5" opacity="0.6"/>
<path d="M82.1,345.7l.4,-1.5 .4,-1.6" stroke="#180090" stroke-width="1.5" opacity="0.6"/>
<path d="M158.8,321.8l1.3,1 1.2,1 1.2,1.1 1.2,1 1.2,1.1 1.2,1" stroke="#483000" stroke-width="1.5" opacity="0.6"/>
<path d="M75.1,355l.5,-1.5 .5,-1.6" stroke="#180078" stroke-width="1.5" opacity="0.4"/>
<path d="M149.8,353.9l1.4,.9 1.3,.8" stroke="#301800" stroke-width="1.5" opacity="0.8"/>
<path d="M156.1,343.5l.8,1.3 1,1.3 1,1.2 1.1,1.2" stroke="#306018" stroke-width="1.0" opacity="0.6"/>
<path d="M91.2,310.2l1.3,-.9 1.4,-.8M124.9,239.1l1.4,-.9 1.3,-.9" stroke="#783018" stroke-width="1.0" opacity="0.6"/>
<path d="M140.2,246.6l.9,-1.3 1,-1.3" stroke="#180060" stroke-width="1.0" opacity="0.4"/>
<path d="M165.4,274.3l1.6,-.3 1.6,-.3" stroke="#181848" stroke-width="1.5" opacity="0.8"/>
<path d="M125.5,216.5l.5,1.5 .6,1.5 .5,1.5 .6,1.5 .5,1.5 .5,1.5" stroke="#18d800" stroke-width="1.0" opacity="0.4"/>
<path d="M86.6,233.6l.4,1.6 .4,1.5 .3,1.6 .4,1.5 .3,1.6 .3,1.6" stroke="#00a818" stroke-width="1.5" opacity="0.8"/>
<path d="M152.1,302l1.6,-.2 1.6,-.1" stroke="#180030" stroke-width="1.0" opacity="0.6"/>
<path d="M67.7,341.3l1.5,-.6 1.5,-.6 1.5,-.5 1.5,-.6" stroke="#781800" stroke-width="1.5" opacity="0.8"/>
<path d="M138.5,337.4l.8,1.3 .9,1.4 .8,1.4 .8,1.3" stroke="#307800" stroke-width="1.0" opacity="0.6"/>
<path d="M78,218.3l.4,1.6 .4,1.5" stroke="#001890" stroke-width="1.5" opacity="0.6"/>
<path d="M142.7,327l.8,1.3 .8,1.4 .8,1.4 .8,1.4 .8,1.4 .6,1.4" stroke="#187818" stroke-width="1.0" opacity="0.6"/>
<path d="M146.9,303.6l1.5,.4 1.5,.4" stroke="#000018" stroke-width="1.0" opacity="0.6"/>
<path d="M60.8,260.3l1.2,1 1.3,1" stroke="#483018" stroke-width="1.0" opacity="0.6"/>
<path d="M112.6,274.7l.2,-1.5 .3,-1.6" stroke="#3018c0" stroke-width="1.5" opacity="0.6"/>
<path d="M122.3,238.3l1.4,-.9 1.3,-.8" stroke="#001878" stroke-width="1.0" opacity="0.4"/>
<path d="M160.6,270.7l1.6,-.4 1.4,-.6 1.4,-.8 1.4,-.8 1.3,-1 1.1,-1.2" stroke="#601818" stroke-width="1.0" opacity="0.6"/>
<path d="M111.7,291.7l.6,-1.5 1.2,1.1 1.2,1 1.2,1.1" stroke="#604800" stroke-width="1.0" opacity="0.4"/>
<path d="M136.8,343.7l.9,1.4 .8,1.3" stroke="#1818c0" stroke-width="1.5" opacity="0.4"/>
<path d="M118.6,235.7l1.2,-1.1 1,-1.2 1.1,-1.2 .9,-1.3" stroke="#486000" stroke-width="1.0" opacity="0.6"/>
<path d="M153,321.6l1.2,1 1.2,1 1.2,1.1 1.1,1.2 1.1,1.2 1,1.2" stroke="#606018" stroke-width="1.0" opacity="0.4"/>
</g>
<g id="sC" fill="none" stroke-linecap="round">
<path d="M112.3,529.2l.2,-1.6 .2,-1.6M82,443.9l.2,1.6 .2,1.6 .2,1.6 .2,1.6M88.4,450.8l.2,1.6 .3,1.6M131.5,539l0,-1.6 0,-1.6M87.1,473.8l.2,1.6 .1,1.6 .2,1.6 .2,1.5 .2,1.6 .3,1.6M131.1,475.1l0,-1.6 .1,-1.6" stroke="#00a800" stroke-width="1.0" opacity="0.6"/>
<path d="M123.2,410l.8,-1.4 .8,-1.4 .7,-1.4 .7,-1.4 .6,-1.5 .6,-1.5M49.2,514l.9,-1.4 .9,-1.3 .9,-1.3 .9,-1.3 1,-1.3 1,-1.2M62.2,538.9l.9,-1.4 .8,-1.4 .7,-1.3 .7,-1.5M94.5,418.2l.8,1.3 .9,1.3 .9,1.4 1,1.2M145.5,542.8l.7,1.5 .7,1.4 .8,1.4 .9,1.4M110,417.5l.9,-1.3 .9,-1.3 .9,-1.3 .9,-1.4" stroke="#184800" stroke-width="1.0" opacity="0.6"/>
<path d="M95.4,479.3l1.6,.4 1.5,.2 1.6,.3 1.6,.2M163.8,485.8l1.6,-.3 1.5,-.4 1.5,-.5 1.5,-.6 1.5,-.5 1.5,-.7M163.9,481.8l1.5,-.5 1.5,-.6 1.5,-.6 1.5,-.6 1.5,-.6 1.4,-.7M114.7,486.3l1.6,.2 1.6,0 1.6,.1 1.6,0M117.4,449.7l1.6,.1 1.6,.1 1.6,.1 1.6,.1M155.2,476.1l1.6,-.2 1.5,-.2M161.5,439.9l1.5,-.4 1.6,-.3 1.6,-.4 1.5,-.3" stroke="#480000" stroke-width="1.0" opacity="0.8"/>
<path d="M108.3,453.3l1.6,.2 1.5,.2 1.6,.2 1.6,.2 1.6,.1 1.6,.2M159.5,458.8l1.6,-.2 1.5,-.3 1.6,-.4 1.6,-.3 1.5,-.4 1.6,-.4M106.2,463.6l1.6,.3 1.5,.2M166.4,456.8l1.6,-.5 1.5,-.5 1.5,-.6 1.4,-.6M162.2,482.9l1.5,-.4 1.6,-.4" stroke="#600000" stroke-width="1.5" opacity="0.4"/>
<path d="M118.8,495.1l1.5,.6 1.4,.6M57.4,454.1l1.4,.8 1.5,.7M56.7,451.7l1.5,.7 1.4,.7 1.4,.8 1.4,.8 1.3,.9 1.4,.8M93.4,466.6l1.5,.6 1.4,.7M118.6,421.5l1.4,-.8 1.4,-.8 1.4,-.7 1.3,-.9" stroke="#781800" stroke-width="1.5" opacity="0.6"/>
<path d="M88.6,521.9l.1,-1.6 .1,-1.6 .1,-1.6 .1,-1.6" stroke="#00f018" stroke-width="1.0" opacity="0.8"/>
<path d="M158.2,522.2l1.5,.6 1.5,.6 1.4,.6 1.5,.6 1.5,.5 1.5,.6M152.1,514.8l1.5,.5 1.5,.5 1.5,.7 1.5,.6 1.4,.7 1.4,.7M53.3,455.2l1.4,.7 1.4,.8 1.4,.8 1.4,.8M148.1,482.1l1.3,.9 1.4,.8 1.4,.8 1.4,.8 1.4,.7 1.5,.7 1.4,.6 1.6,.4M56.6,466.8l1.3,.8 1.4,.9 1.4,.7 1.5,.7 1.4,.6 1.6,.4M95.7,451l1.4,.8 1.4,.6 1.5,.6 1.5,.5" stroke="#781800" stroke-width="1.0" opacity="0.6"/>
<path d="M155.4,508.6l1.4,.8 1.4,.8" stroke="#781818" stroke-width="1.0" opacity="0.6"/>
<path d="M168.5,500.9l1.4,.8 1.5,.7 1.4,.8 1.4,.7 1.4,.8 1.4,.8" stroke="#901818" stroke-width="1.0" opacity="0.6"/>
<path d="M88.2,543.9l.3,-1.6 .4,-1.6M135.2,542.6l0,1.6 .1,1.6 .2,1.6 .2,1.6 .2,1.6 .4,1.5M97.2,541.4l.3,-1.6 .5,-1.5 .4,-1.6 .4,-1.5M84.8,545.7l.3,-1.6 .3,-1.5 .4,-1.6 .3,-1.6M73.6,540.1l.4,-1.6 .3,-1.5 .2,-1.6 .2,-1.6 .2,-1.6 .2,-1.6M146.3,535.2l.5,1.6 .5,1.5M126.8,455.2l.4,-1.5 .2,-1.6 .3,-1.6 .2,-1.6" stroke="#006000" stroke-width="1.5" opacity="0.6"/>
<path d="M90.1,545.8l.2,-1.6 .3,-1.5M141.3,420.6l.3,-1.6 .5,-1.5 .4,-1.6 .5,-1.5M140.7,541.2l.2,1.6 .3,1.6 .4,1.6 .4,1.5 .5,1.5 .6,1.5M63.8,537.1l.7,-1.5 .6,-1.4 .6,-1.5 .6,-1.5 .5,-1.5 .6,-1.5M112.8,414.7l.9,-1.4 .8,-1.4 .6,-1.5 .7,-1.4 .5,-1.5 .4,-1.6M89.7,554.2l0,1.6 0,-1.6 0,-1.6 .1,-1.6 .1,-1.6 .1,-1.6 .2,-1.6 .2,-1.6M124.5,547.2l.2,1.5 .2,1.6 .2,1.6 .1,1.6M99.6,413.1l.1,-1.6 0,1.6 .2,1.6 .2,1.6 .3,1.6 .4,1.5M102.3,420.6l.5,1.5 .6,1.4 .7,1.5 .6,1.5 .8,1.4 1.4,.7" stroke="#004800" stroke-width="1.0" opacity="0.4"/>
<path d="M60.5,518.7l1.3,-1 1.2,-1" stroke="#001830" stroke-width="1.0" opacity="0.4"/>
<path d="M144.7,486.8l1.1,1.2 1.1,1.1 1.1,1.1 1.2,1.1 1.2,1.1 1.2,1" stroke="#786018" stroke-width="1.0" opacity="0.8"/>
<path d="M108.7,544.2l.5,1.5 .4,1.6 .5,1.5 .5,1.5 .4,1.6 .4,1.5M95.7,548l.2,1.6 .3,1.5 .3,1.6 .4,1.5" stroke="#004800" stroke-width="1.5" opacity="0.8"/>
<path d="M78.2,490.8l.9,-1.4 .7,-1.4 .5,-1.5 .6,-1.5 .4,-1.5 .3,-1.6M91.4,438.3l.5,1.5 .5,1.5 .5,1.5 .5,1.6 .6,1.5 .7,1.4M102.3,515.6l.5,-1.6 .5,-1.5 .6,-1.5 .6,-1.4 .7,-1.5 .8,-1.4" stroke="#189000" stroke-width="1.5" opacity="0.6"/>
<path d="M105,414.7l.3,-1.6 .4,-1.5" stroke="#180030" stroke-width="1.0" opacity="0.6"/>
<path d="M84.1,430.2l.4,1.6 .3,1.5 .3,1.6 .3,1.6 .2,1.6 .2,1.5M129.6,505.5l.5,1.6 .5,1.5M135,504.1l.3,1.6 .3,1.6 .3,1.5 .3,1.6M89.5,441.2l.3,1.5 .2,1.6 .3,1.6 .2,1.6M89.7,444.4l.2,1.5 .3,1.6 .3,1.6 .2,1.6 .4,1.5 .3,1.6M82.2,465.1l.3,1.6 .3,1.6 .2,1.6 .1,1.6M115.1,508.7l.6,-1.5 .4,-1.6 .4,-1.5 .1,-1.6M116.5,510.5l.7,-1.5 .5,-1.5 .2,-1.6 .2,-1.6 .1,1.6 .2,-1.6M118.2,529.7l.2,1.6 .3,1.5 .3,1.6 .4,1.6" stroke="#00a800" stroke-width="1.0" opacity="0.4"/>
<path d="M118.8,528.1l.2,-1.6 .1,-1.6M85.1,476.8l0,1.6 .1,1.6 .1,1.6 0,1.6 .1,1.6 .1,1.6M87.5,466.7l.3,1.6 .3,1.5 .3,1.6 .3,1.6 .4,1.5 .3,1.6" stroke="#00f018" stroke-width="1.5" opacity="0.4"/>
<path d="M63.3,459.4l1.4,.8 1.3,.9 1.4,.8 1.4,.7" stroke="#903018" stroke-width="1.5" opacity="0.4"/>
<path d="M147,460l1.6,-.3 1.6,-.2 1.6,-.2 1.6,-.2M107.4,481.9l1.5,-.5 1.5,.5 1.6,.2 1.6,.3 1.6,.1 1.6,0M156.5,452.8l1.6,0 1.6,-.1 1.6,0 1.6,-.1M152.4,451.3l1.6,-.1 1.6,-.1M105.9,484.1l1.5,-.5 1.6,-.3 1.5,.5 1.5,.6 1.6,.4 1.5,.3" stroke="#300000" stroke-width="1.0" opacity="0.4"/>
<path d="M114.8,470.5l1.6,-.3 1.5,-.5 1.5,-.4 1.6,-.5M113.7,459.7l1.6,0 1.6,0M100.9,446.1l1.5,.4 1.6,.3 1.6,.3 1.5,.3 1.6,.3 1.6,.2M113.9,439.1l1.6,-.5 1.4,-.6 1.5,-.6 1.5,-.6M120.1,471.3l1.5,-.6 1.5,-.5 1.5,-.5 1.5,-.6M116.6,444l1.6,0 1.6,-.2 1.6,-.1 1.5,-.4M163.7,455.5l1.6,-.3 1.5,-.4M157.5,488.6l1.5,.5 1.6,.5M96.4,494.5l1.5,-.4 1.6,-.4M97.3,487.7l1.6,0 1.5,-.2 1.6,-.2 1.6,-.2M107.9,472.5l1.6,.3 1.6,.2 1.6,.1 1.5,-.1M159.9,476l1.5,-.5 1.5,-.5 1.5,-.6 1.5,-.6M163.6,528.5l1.5,.4 1.6,.4M121.9,466.4l1.4,-.7 1.5,-.6M113.4,456.4l1.6,.1 1.6,0 1.6,0 1.6,-.1M63.8,511.1l1.4,-.7 1.5,-.6M50.5,487.2l1.6,.1 1.6,.1M109.2,432.9l1.5,-.6 1.5,-.7" stroke="#480000" stroke-width="1.0" opacity="0.6"/>
<path d="M117.3,458.2l1.6,-.2 1.5,-.3 1.6,-.4 1.5,-.6" stroke="#600018" stroke-width="1.0" opacity="0.4"/>
<path d="M87.7,405.4l.4,1.6 .3,1.5M86.4,528l.1,-1.6 .2,-1.6" stroke="#009018" stroke-width="1.5" opacity="0.6"/>
<path d="M125.7,542.6l.2,1.5 .2,1.6M124.1,496.2l1.4,.8 1.4,.7M92.9,468.8l1.4,.7 1.5,.6" stroke="#181890" stroke-width="1.0" opacity="0.4"/>
<path d="M109.4,448.6l1.6,.2 1.5,.2 1.6,.2 1.6,.2 1.6,.1 1.6,.2M99.4,458l1.5,.4 1.6,.5M52.6,476.2l1.4,.7 1.5,.5 1.6,.4 1.5,.4 1.6,.3 1.6,0M112.8,466.8l1.6,-.2 1.6,-.2 1.5,-.4 1.5,-.5 1.6,-.4 1.5,-.5 1.5,-.6 1.4,-.8M152.8,452.8l1.6,0 1.6,-.1 1.6,0 1.6,-.1M92.7,497.7l1.3,-.8 1.5,-.6 1.6,-.5 1.5,-.5 1.5,-.5 1.5,-.5M143.3,458l1.5,-.5 1.5,-.6M141.9,464l1.6,-.4 1.5,-.3M100.9,460.7l1.6,.4 1.6,.4 1.5,.3 1.6,.3 1.5,.3 1.6,.3M107.2,445.5l1.6,.2 1.6,.2M159.7,453.1l1.6,-.1 1.6,-.2 1.6,-.2 1.5,-.3 1.6,-.3 1.5,-.4M115.6,441.7l1.6,-.3 1.5,-.5 1.6,-.5 1.4,-.7M101.3,436.4l1.5,.6 1.6,.4 1.5,.5 1.6,.3M105,450l1.6,.3 1.6,.3 1.5,.2 1.6,.2 1.6,.2 1.6,.2M115.8,447.5l1.6,.1 1.6,.1 1.5,.2 1.6,.1" stroke="#600000" stroke-width="1.0" opacity="0.6"/>
<path d="M167.2,461.1l1.5,-.5 1.6,-.5M172.5,477.9l1.5,-.5 1.6,-.6M112.6,448.1l1.6,.2 1.6,.1M53.7,523.4l1.2,-1.1 1.1,-1.1" stroke="#180060" stroke-width="1.5" opacity="0.4"/>
<path d="M145.7,493.3l1.3,1 1.2,1 1.3,.9 1.3,.9 1.3,1 1.3,.9" stroke="#783000" stroke-width="1.0" opacity="0.8"/>
<path d="M147.7,444.7l1.3,-.8 1.4,-.9M155.2,448.6l1.6,-.1 1.6,0M107.9,548.8l.5,1.5 .4,1.5M153.4,467l1.6,-.3 1.6,-.4M150.2,473.6l1.6,0 1.6,.1" stroke="#000048" stroke-width="1.0" opacity="0.6"/>
<path d="M62.8,533.3l.7,-1.5 .7,-1.4 .7,-1.4 .7,-1.5 .7,-1.4 .8,-1.4M69.4,527.4l.6,-1.4 .7,-1.5 .9,-1.4 .8,-1.3 .9,-1.4 .9,-1.2" stroke="#184800" stroke-width="1.0" opacity="0.4"/>
<path d="M139.4,432.3l.1,-1.6 0,-1.6M137.5,464.9l.4,-1.5 .4,-1.6 .5,-1.5 .5,-1.5M90.9,531.4l.3,-1.5 .3,-1.6 .3,-1.6 .3,-1.6M74.1,430.4l.4,1.5 .4,1.6 .3,1.6 .3,1.5 .3,1.6 .3,1.6M98.7,397l0,1.6 0,1.6M139.4,538.5l0,1.6 .1,1.6 .1,1.6 .2,1.6 .2,1.6 .3,1.6M129.5,539.9l0,1.6 .1,1.6M87.2,539.5l.3,-1.6 .3,-1.6 .3,-1.5 .3,-1.6 .3,-1.6 .3,-1.5M76,432.2l.3,1.6 .3,1.5 .3,1.6 .3,1.6" stroke="#007800" stroke-width="1.0" opacity="0.6"/>
<path d="M128.7,542.9l.1,1.6 .1,1.6 .1,1.6 .1,1.6M135,457.4l.4,-1.6 .3,-1.5M116.8,541.4l.5,1.6 .5,1.5 .4,1.5 .4,1.6 .4,1.5 .3,1.6M87.6,399.7l.3,1.5 .2,1.6 .3,1.6 .3,1.6 .2,1.5 .4,1.6M98.4,530.8l.5,-1.6 .4,-1.5 .4,-1.5 .4,-1.6M141.1,429.2l.1,-1.6 0,-1.6M86.7,536.3l.3,-1.5 .3,-1.6" stroke="#007800" stroke-width="1.0" opacity="0.4"/>
<path d="M56.3,433.9l1.3,.9 1.2,1 1.2,1.1 1.2,1 1.2,1.2 1.1,1.1M56.2,497.7l1.2,-1 1.2,-1" stroke="#483000" stroke-width="1.0" opacity="0.6"/>
<path d="M137.1,518.4l.5,1.6 .5,1.5M130.1,518.5l.2,1.6 .1,1.6 .1,1.6 .1,1.6 .1,1.6 .1,1.6M81.4,451.3l.4,1.6 .3,1.5 .3,1.6 .4,1.6" stroke="#009000" stroke-width="1.5" opacity="0.8"/>
<path d="M122.5,501.8l.9,1.4 .7,1.4 .5,1.5 .6,1.5 .4,1.6 .3,1.5" stroke="#189018" stroke-width="1.0" opacity="0.6"/>
<path d="M146.1,488.8l1.1,1.1 1.2,1.1 1.2,1.1 1.2,1.1" stroke="#787818" stroke-width="1.0" opacity="0.8"/>
<path d="M95.8,451.8l1.4,.8 1.4,.6 1.6,.5 1.5,.4 1.6,.4 1.5,.4 1.6,.4 1.5,.3M95.3,453.9l1.4,.8 1.4,.7 1.6,.5 1.5,.5 1.5,.4 1.6,.4M104.3,462.9l1.5,.3 1.6,.3 1.6,.4 1.5,.2M105.3,449.4l1.6,.3 1.6,.3 1.6,.2 1.6,.2M146.4,503.2l1.5,.5 1.6,.4M94,489l1.6,.1 1.6,.1M140.8,464.6l1.5,-.4 1.6,-.5M95.4,486.9l1.6,.2 1.6,0 1.6,0 1.6,-.2M154.3,474.2l1.6,-.3 1.6,-.3 1.5,-.4 1.6,-.5 1.5,-.5 1.5,-.6" stroke="#600000" stroke-width="1.5" opacity="0.6"/>
<path d="M61.2,460.8l1.4,.8 1.3,.9M153.8,502l1.3,.8 1.4,.9" stroke="#903018" stroke-width="1.0" opacity="0.6"/>
<path d="M124.4,455.6l.7,-1.5 .7,-1.4M154,442.6l1.5,-.5 1.5,-.5M166.7,522.9l1.4,.7 1.5,.6" stroke="#181860" stroke-width="1.5" opacity="0.4"/>
<path d="M114.9,515.7l.9,-1.3 .9,-1.4 .8,-1.3 .8,-1.4" stroke="#48a818" stroke-width="1.5" opacity="0.8"/>
<path d="M153,489.1l1.3,.9 1.4,.8 1.4,.8 1.4,.8 1.4,.7 1.5,.7M57,452.3l1.4,.8 1.4,.7 1.4,.8 1.4,.8" stroke="#781818" stroke-width="1.0" opacity="0.8"/>
<path d="M107.9,498.3l.9,-1.3 .7,-1.4 .7,-1.5 1.2,1.2" stroke="#186000" stroke-width="1.0" opacity="0.8"/>
<path d="M74.7,418.7l1.1,1.2 1,1.2 .9,1.4 .9,1.3 .7,1.4 .7,1.4" stroke="#307818" stroke-width="1.5" opacity="0.6"/>
<path d="M137.8,491.9l.5,1.5 .4,1.6M119.7,522.4l.5,-1.5 .6,-1.5 .5,-1.5 .5,-1.5M127.5,433l.6,-1.4 .7,-1.5 .6,-1.5 .6,-1.4 .7,-1.5 .6,-1.5" stroke="#18d818" stroke-width="1.0" opacity="0.6"/>
<path d="M125.9,498.4l1,1.2 1,1.2" stroke="#60a818" stroke-width="1.0" opacity="0.4"/>
<path d="M144,417.2l.4,-1.5 .4,-1.6M99.4,422.3l1,1.3 .9,1.2" stroke="#180048" stroke-width="1.5" opacity="0.4"/>
<path d="M141.7,498.9l1.4,.8 1.4,.8" stroke="#c03018" stroke-width="1.5" opacity="0.6"/>
<path d="M141.1,511.6l1.5,.3 1.6,.2 1.6,.2 1.6,.1" stroke="#900018" stroke-width="1.5" opacity="0.6"/>
<path d="M87,544.5l.3,-1.5 .3,-1.6 .4,-1.6 .3,-1.5M75.6,543.6l.6,-1.5 .4,-1.5 .4,-1.6 .4,-1.5M111.1,409l.3,-1.5 .2,-1.6 .2,-1.6 .1,-1.6M66.7,434.2l.6,1.5 .6,1.5 .6,1.4 .6,1.5 .7,1.5 .6,1.4M138.4,423.5l.4,-1.6 .3,-1.5 .5,-1.6 .5,-1.5 .5,-1.5 .6,-1.5M75,426.2l.6,1.5 .6,1.5M101.8,542.6l.1,-1.6 0,1.6 .1,1.6 .1,1.6 .3,1.5 .3,1.6" stroke="#004800" stroke-width="1.5" opacity="0.4"/>
<path d="M160,509.4l1.2,1 1.2,1M81.7,532.1l.2,-1.6 .1,-1.5M70.3,422.3l.8,1.4 .8,1.4M159.8,495.8l1.4,.8 1.4,.7" stroke="#180060" stroke-width="1.0" opacity="0.4"/>
<path d="M68.7,499.9l1.4,-.8 1.4,-.8M142.5,475.6l1.3,.9 1.4,.8 1.3,.9 1.4,.8M119.1,497.1l1.4,.8 1.3,.9M157.3,516.3l1.4,.7 1.4,.7 1.4,.8 1.4,.8 1.4,.8 1.4,.8" stroke="#903000" stroke-width="1.0" opacity="0.6"/>
<path d="M120.5,492.1l1.6,.2 1.6,.2 1.6,.2 1.6,.3M140.9,467.4l1.6,.1 1.6,.1 1.6,0 1.6,0 1.6,-.1 1.6,0M141.8,508.6l1.6,.1 1.6,.1 1.6,.1 1.6,.2 1.6,.2 1.6,.2M91.1,464.9l1.1,1.2 1.3,.9 1.5,.6 1.5,.5 1.5,.5 1.5,.5 1.6,.4 1.5,.4M99.5,450.9l1.5,.4 1.5,.5M117.1,491.3l1.6,.3 1.6,.3 1.5,.2 1.6,.3M158.5,489.2l1.6,.4 1.6,.4 1.5,.2 1.6,.2 1.6,0 1.6,0M94,484.4l1.6,.4 1.6,.1 1.6,.1 1.6,.1 1.6,-.1 1.6,-.1M157.5,488.6l1.5,.5 1.6,.4 1.5,.4 1.6,.3" stroke="#780000" stroke-width="1.0" opacity="0.6"/>
<path d="M107.4,435.5l1.6,-.4 1.5,-.4 1.5,-.5 1.5,-.6M105.2,455.8l1.5,.2 1.6,.3 1.6,.3 1.6,.2M166.2,525.2l1.5,.5 1.6,.5M99.9,491.6l1.5,-.4 1.5,-.5 1.5,-.5 1.5,-.6M156.6,465.2l1.5,-.4 1.6,-.5 1.5,-.4 1.6,-.4 1.5,-.5 1.5,-.5M122.7,471.3l1.5,-.6 1.5,-.6 1.5,-.6 1.3,-.9M148.2,451.6l1.5,-.4 1.6,-.3M111.7,471.2l1.6,-.1 1.6,-.3 1.5,-.3 1.6,-.4M161.3,446.3l1.6,-.2 1.6,-.2 1.6,-.3 1.6,-.3 1.5,-.3 1.5,-.5M97.3,494.2l1.6,-.4 1.5,-.5 1.5,-.4 1.6,-.6M162.5,527.9l1.5,.4 1.6,.4 1.5,.4 1.6,.4" stroke="#480000" stroke-width="1.5" opacity="0.4"/>
<path d="M112.9,409.6l.3,-1.6 .3,-1.5 .2,-1.6 .2,-1.6 .1,-1.6 .1,-1.6M83.3,548.6l.4,-1.6 .4,-1.5M65,536.6l.6,-1.5 .5,-1.5 .6,-1.5 .5,-1.5M71.2,426.4l.6,1.5 .5,1.5 .4,1.6 .4,1.5 .3,1.6 .4,1.6 .3,1.5 .3,1.6M104.5,552.9l.6,1.5 .5,1.5 .6,1.5 .5,1.5M94,548.3l0,-1.6 .2,-1.6 .2,-1.6 .2,-1.6M74.4,527.5l.5,-1.6 .4,-1.5M93.2,546.8l.2,-1.5 .2,-1.6M77.2,547l.8,-1.5 .5,-1.5 .6,-1.4 .5,-1.6M75.7,546.4l.8,-1.4 .6,-1.5 .6,-1.5 .5,-1.5M86,548.4l.3,-1.6 .3,-1.6 .3,-1.6 .3,-1.5 .3,-1.6 .3,-1.6M99.5,544.3l.1,1.6 .3,1.6 .3,1.5 .4,1.6 .4,1.5 .6,1.5M137.1,543.5l.1,1.6 .2,1.6 .2,1.6 .3,1.5M94,543l.3,-1.6 .5,-1.5 .4,-1.6 .5,-1.5M116.6,409.1l.5,-1.5 .3,-1.5 .4,-1.6 .3,-1.6M100.4,412.1l.1,1.6 .2,1.6 .1,1.6 .3,1.6" stroke="#004800" stroke-width="1.0" opacity="0.6"/>
<path d="M134.7,469.4l0,-1.6 .1,-1.6M102.9,532.6l.3,-1.6 .3,-1.6M81.7,533.9l.2,-1.6 .1,-1.6M135.9,432.2l.1,-1.6 .2,-1.6 .2,-1.6 .2,-1.6M80.7,433.6l.3,1.6 .2,1.6 .2,1.6 .2,1.6 .2,1.6 .2,1.6M126.2,509l.3,1.6 .2,1.6 .3,1.6 .1,1.6M76.5,529.5l.3,-1.6 .3,-1.6 .3,-1.5 .4,-1.6M88.4,450.8l.3,1.6 .2,1.6M88.3,514.6l.2,-1.6 .2,-1.6 .2,-1.6 .2,-1.5 .3,-1.6 .3,-1.6M82.6,504l.4,-1.6 .4,-1.5 .4,-1.6 .3,-1.6M137.3,485.4l.4,1.6 .4,1.5 .4,1.6 .5,1.5 .5,1.5 .6,1.5" stroke="#009000" stroke-width="1.0" opacity="0.6"/>
<path d="M94.7,425.7l1.1,1.1 1.2,1 1.2,1.1 1.3,1 1.2,1 1.3,1M92.7,449.1l.7,1.5 .9,1.3 1.1,1 1.2,1.1 1.4,.8 1.5,.7" stroke="#604818" stroke-width="1.5" opacity="0.4"/>
<path d="M150.3,453.2l1.6,-.1 1.6,-.1 1.6,-.1 1.6,-.1M98.8,489.6l1.6,-.2 1.5,-.4 1.6,-.3 1.5,-.5M112.8,442l1.6,-.1 1.6,-.3 1.5,-.2 1.6,-.3M45.1,488.5l1.6,.4 1.5,.2 1.6,.1 1.6,.1 1.6,-.1 1.6,-.2M154.3,483.1l1.5,.5 1.5,.4M146.9,469.6l1.6,0 1.6,.1M147.9,446.9l1.5,-.6 1.5,-.6 1.5,-.4 1.6,-.5 1.5,-.4 1.6,-.3M149.2,465.5l1.6,-.3 1.6,-.2 1.6,-.3 1.5,-.3 1.6,-.3 1.6,-.4M98.5,454l1.5,.5 1.6,.4 1.5,.4 1.6,.4 1.5,.3 1.6,.3M157.6,534l1.4,.6 1.5,.7 1.5,.6 1.5,.5M169.5,466.9l1.5,-.5 1.6,-.5 1.5,-.5 1.5,-.5M107.1,464.9l1.6,.2 1.6,.2 1.6,.2 1.6,.1" stroke="#480000" stroke-width="1.0" opacity="0.4"/>
<path d="M108.1,516.4l.8,-1.4 .8,-1.4M134.5,527.1l.1,1.6 .1,1.6" stroke="#1800a8" stroke-width="1.5" opacity="0.4"/>
<path d="M53.3,455.8l1.5,.8 1.4,.7" stroke="#901800" stroke-width="1.0" opacity="0.8"/>
<path d="M65.5,442.4l.9,1.3 1,1.2 1,1.3 .9,1.3 1,1.3 .9,1.3M98,422.7l1,1.2 1.1,1.2 1.1,1.2 1.1,1.2" stroke="#304800" stroke-width="1.0" opacity="0.4"/>
<path d="M68.6,478.1l1.5,-.6 1.4,-.6" stroke="#a81818" stroke-width="1.0" opacity="0.6"/>
<path d="M124.2,520.5l.2,-1.6 .2,-1.6 .1,-1.6 .1,-1.6M128.9,493.3l.4,1.5 .5,1.5" stroke="#00c000" stroke-width="1.0" opacity="0.4"/>
<path d="M100.5,454.2l1.5,.4 1.6,.4M141.6,508.2l1.6,.2 1.6,.1 1.5,.1 1.6,.1 1.6,.2 1.6,.3M162.9,463.7l1.5,-.4 1.5,-.5 1.5,-.5 1.6,-.5 1.5,-.5 1.5,-.5" stroke="#780000" stroke-width="1.5" opacity="0.4"/>
<path d="M152.4,505l1.5,.7 1.4,.7 1.4,.8 1.4,.8" stroke="#781818" stroke-width="1.5" opacity="0.6"/>
<path d="M99.4,447.9l1.6,.4 1.5,.5M166.6,465.1l1.5,-.5 1.5,-.5" stroke="#180078" stroke-width="1.5" opacity="0.8"/>
<path d="M67.9,476.9l1.5,-.5 1.5,-.5 1.5,-.5 1.6,-.5" stroke="#c01818" stroke-width="1.0" opacity="0.6"/>
<path d="M132.4,449.5l.1,-1.6 .1,-1.6 .2,-1.5 0,-1.6M133.4,460.6l.4,-1.6 .3,-1.6 .4,-1.5 .3,-1.6 .3,-1.6 .3,-1.5M118.7,530.1l.3,1.6 .3,1.5 .4,1.6 .4,1.5 .4,1.6 .5,1.5M132.2,465.8l.4,-1.5 .3,-1.6 .4,-1.6 .3,-1.5 .4,-1.6 .3,-1.5" stroke="#00a818" stroke-width="1.0" opacity="0.4"/>
<path d="M87.8,514.6l.2,-1.6 .1,-1.6" stroke="#300090" stroke-width="1.0" opacity="0.6"/>
<path d="M104.2,555.7l.6,1.5 .6,1.5M90.1,543.7l.3,-1.6 .4,-1.5 .4,-1.6 .4,-1.5 .4,-1.6 .5,-1.5M126,448.3l.1,-1.6 0,-1.6" stroke="#006000" stroke-width="1.5" opacity="0.4"/>
<path d="M137.8,457l.5,-1.5 .6,-1.5 .5,-1.5 .5,-1.5M89.1,470.3l.4,1.5 .5,1.5 .6,1.5 .7,1.5 .8,1.3 1.1,1.2M131,424.7l.6,-1.4 .6,-1.5 .7,-1.5 .6,-1.4 .7,-1.5 .6,-1.5" stroke="#189000" stroke-width="1.0" opacity="0.4"/>
<path d="M96,408.9l.1,1.6 .2,1.6 .3,1.6 .3,1.5M92.5,536.1l.5,-1.5 .5,-1.6M133,425.8l.5,-1.5 .5,-1.6M125.6,544l.2,1.6 .2,1.5 .1,1.6 .2,1.6 .1,1.6 .2,1.6M74.1,438.4l.4,1.5 .3,1.6M71.5,438.9l.4,1.6 .6,1.5 .5,1.5 .5,1.5M89.6,436.9l.4,1.6 .3,1.6 .3,1.5 .4,1.6 .3,1.6 .3,1.5" stroke="#007800" stroke-width="1.5" opacity="0.4"/>
<path d="M120.8,400.9l.2,-1.6 .3,-1.6M143.2,415.9l.6,-1.5 .5,-1.5M113.3,401l0,-1.6 0,-1.6 .1,-1.6 0,-1.6M153,422.2l.1,1.6 .2,1.6M101.9,414.2l.1,1.6 0,-1.6 0,-1.6 .2,-1.6M115.4,403.6l.1,-1.6 .1,-1.6 0,-1.6 .1,-1.6M113.7,402.9l0,-1.6 .1,-1.6 0,-1.6 0,-1.6 .1,-1.6 0,-1.6M140.5,415.9l.7,-1.5 .7,-1.4 .7,-1.5 .8,-1.4" stroke="#003000" stroke-width="1.0" opacity="0.6"/>
<path d="M146.7,469.7l1.6,0 1.6,.1M71.4,536.2l.3,-1.6 .3,-1.6" stroke="#001878" stroke-width="1.0" opacity="0.6"/>
<path d="M127.7,444.9l.1,-1.6 .1,-1.6M70.7,414l1.3,.9 1.3,.9M140.4,519.7l.9,1.3 .9,1.3" stroke="#180078" stroke-width="1.5" opacity="0.6"/>
<path d="M130.2,499.6l.4,1.6 .4,1.5 .4,1.6 .4,1.5M136.6,516.7l.5,1.5 .5,1.5 .4,1.6 .5,1.5M125.6,502.6l.7,1.4 .6,1.5 .7,1.4 .5,1.6" stroke="#18f018" stroke-width="1.0" opacity="0.6"/>
<path d="M82.5,496l.3,-1.6 .2,-1.6 .1,-1.6 .2,-1.6 .1,-1.6 .1,-1.6M83.9,495.4l.2,-1.6 .1,-1.6 0,-1.6 .1,-1.6 0,-1.6 0,-1.6M81.3,453.2l.4,1.6 .4,1.5 .3,1.6 .4,1.6M131.7,437.6l.1,-1.6 .2,-1.6 .2,-1.6 .2,-1.6M82.4,425.2l.5,1.5 .5,1.5 .4,1.6 .4,1.5 .4,1.6 .3,1.6M83.7,427l.4,1.5 .4,1.6 .4,1.5 .3,1.6 .4,1.5 .3,1.6M82.8,436.2l.2,1.5 .2,1.6 .1,1.6 .2,1.6 .1,1.6 .2,1.6" stroke="#00c018" stroke-width="1.0" opacity="0.6"/>
<path d="M158,533.3l1.4,.7 1.5,.6" stroke="#181848" stroke-width="1.5" opacity="0.4"/>
<path d="M163.4,506.8l1.2,1.1 1.1,1.1 1.1,1.2 1.2,1.1" stroke="#606000" stroke-width="1.0" opacity="0.4"/>
<path d="M104,464l1.6,.4 1.5,.3M134.9,468.8l.1,-1.6 .1,-1.6M96.1,446l1.4,.8 1.3,.9" stroke="#181878" stroke-width="1.0" opacity="0.4"/>
<path d="M65.4,506l1.5,-.6 1.5,-.7 1.5,-.6 1.4,-.6M59.2,458.1l1.4,.9 1.3,.8 1.4,.8 1.3,.9 1.4,.8 1.4,.8M108,433.5l1.5,-.6 1.5,-.6 1.4,-.7 1.5,-.7 1.4,-.7 1.5,-.6M66.5,502.7l1.5,-.7 1.4,-.7 1.4,-.8 1.4,-.7 1.5,-.7 1.4,-.7M60.1,447.2l1.4,.8 1.3,.8M115.5,426.7l1.5,-.7 1.4,-.7 1.5,-.6 1.5,-.7M168.1,479.8l1.4,-.7 1.5,-.6 1.5,-.6 1.5,-.6M151.7,442l1.4,-.7 1.4,-.7 1.5,-.7 1.5,-.6 1.4,-.7 1.5,-.6" stroke="#601800" stroke-width="1.0" opacity="0.6"/>
<path d="M132.7,501.5l.3,1.5 .3,1.6 .3,1.6 .4,1.6M131.5,523.3l.1,1.6 0,1.6 .1,1.6 0,1.6 .1,1.6 0,1.6M83.2,461.1l.3,1.5 .3,1.6 .4,1.6 .2,1.6M87.9,465.4l.3,1.6 .4,1.5 .4,1.6 .3,1.6 .4,1.5 .5,1.6M101.5,522.4l.4,-1.6 .3,-1.6 .4,-1.5 .3,-1.6 .4,-1.5 .5,-1.6" stroke="#00f000" stroke-width="1.0" opacity="0.6"/>
<path d="M80.6,500.6l.5,-1.5 .5,-1.6 .4,-1.5 .4,-1.6 .3,-1.6 .2,-1.5M102.2,522.3l.4,-1.5 .3,-1.6M86.7,473.2l.1,1.6 .2,1.6M137.6,499.5l.3,1.6 .3,1.6 .3,1.5 .3,1.6 .4,1.6 .5,1.5" stroke="#00c018" stroke-width="1.0" opacity="0.4"/>
<path d="M99.3,521.8l.2,-1.6 .2,-1.6" stroke="#3018c0" stroke-width="1.0" opacity="0.4"/>
<path d="M147,491.9l1.2,1.1 1.2,1 1.3,1 1.2,1 1.3,.9 1.3,1M149.8,487.5l1.3,1 1.3,.9 1.3,1 1.3,.9 1.3,.9 1.3,.9" stroke="#603018" stroke-width="1.0" opacity="0.4"/>
<path d="M125.9,461.7l.9,-1.2 1,-1.3" stroke="#306000" stroke-width="1.5" opacity="0.6"/>
<path d="M126.9,508.7l.4,1.5 .3,1.6" stroke="#1800f0" stroke-width="1.0" opacity="0.4"/>
<path d="M67.5,453.8l1.2,1 1.2,1.1M148.4,488.1l1.2,1.1 1.2,1.1 1.3,1 1.2,1" stroke="#604800" stroke-width="1.5" opacity="0.6"/>
<path d="M83.5,529.5l.2,-1.6 .2,-1.6" stroke="#180090" stroke-width="1.0" opacity="0.4"/>
<path d="M99,485.4l1.6,-.1 1.6,-.2 1.6,-.2 1.6,-.3M96.9,460.2l1.6,.5 1.5,.5 1.5,.4 1.6,.4 1.5,.4 1.6,.4M114.6,465.2l1.6,-.2 1.6,-.4 1.5,-.3 1.5,-.5M116.7,466.7l1.5,-.4 1.6,-.5 1.5,-.5 1.5,-.6M102.5,432.5l1.5,.6 1.6,.4 1.5,.3 1.6,-.1M164.3,448.1l1.5,-.3 1.6,-.4 1.5,-.3 1.6,-.5M115.7,464.2l1.6,-.3 1.6,-.3M110.5,439.5l1.6,-.2 1.5,-.3 1.6,-.4 1.5,-.4M66.3,511.2l1.5,-.5 1.5,-.6 1.5,-.5 1.5,-.6 1.5,-.5 1.5,-.6M101.5,437.9l1.5,.6 1.5,.4 1.6,.2 1.6,.3 1.6,.1 1.6,0M168.4,488.3l1.5,-.4 1.5,-.5 1.5,-.6 1.5,-.5 1.5,-.6 1.5,-.5M96.5,485.5l1.6,.1 1.6,0 1.6,-.1 1.5,-.2 1.6,-.2 1.6,-.4M147.2,449.5l1.5,-.5 1.5,-.4 1.6,-.4 1.6,-.3" stroke="#480000" stroke-width="1.5" opacity="0.6"/>
<path d="M137.3,516.7l.5,1.5 .6,1.5 .5,1.5 .6,1.5M129.1,429.3l.6,-1.5 .6,-1.4 .7,-1.5 .6,-1.5" stroke="#18d818" stroke-width="1.5" opacity="0.4"/>
<path d="M120.6,422.4l1.4,-.7 1.4,-.8 1.4,-.8 1.3,-.9" stroke="#601818" stroke-width="1.5" opacity="0.8"/>
<path d="M112.5,475.6l1.5,-.4 1.6,-.4M113.3,470l1.6,-.2 1.6,-.4 1.5,-.5 1.5,-.4 1.6,-.5 1.5,-.5" stroke="#300000" stroke-width="1.0" opacity="0.8"/>
<path d="M94.9,434.6l1.2,1.1 1.2,1 1.3,1 1.3,.8M63.1,488.2l1.2,-1 1.2,-1 1.3,-1 1.2,-1M119.4,416.5l1.2,-1 1.2,-1M69.7,415.7l1.2,1 1.3,1" stroke="#784818" stroke-width="1.0" opacity="0.4"/>
<path d="M100,494.5l1.5,-.5 1.4,-.7 1.5,-.7 1.4,-.7 1.4,-.8 1.4,-.8M144.6,448l1.2,-1 1.4,-.8 1.4,-.8 1.4,-.8 1.4,-.7 1.5,-.7M112.2,424.8l1.3,-.8 1.4,-.8 1.4,-.7 1.4,-.8M106.5,491.6l1.4,-.8 1.5,.4 1.4,.9 1.3,.9 1.4,.8 1.3,.9M151.6,440.8l1.3,-.9 1.4,-.8 1.3,-.9 1.4,-.9M145.7,499.2l1.5,.7 1.4,.7 1.5,.7 1.4,.7 1.4,.7 1.4,.7M151.2,485.2l1.3,.9 1.4,.7 1.4,.8 1.4,.8M58.8,448.6l1.4,.7 1.4,.8" stroke="#601800" stroke-width="1.0" opacity="0.4"/>
<path d="M122.5,501.8l.8,1.4 .7,1.4 .6,1.5 .5,1.5 .4,1.6 .4,1.6M89.2,410.4l.4,1.5 .5,1.6 .5,1.5 .5,1.5" stroke="#18c000" stroke-width="1.0" opacity="0.4"/>
<path d="M162.1,491.6l1.6,.3 1.5,.3M121.1,492.5l1.6,.2 1.6,.3M134.8,420.3l.5,-1.5 .6,-1.5" stroke="#181860" stroke-width="1.5" opacity="0.6"/>
<path d="M161.7,528.5l1.5,.4 1.6,.4" stroke="#600000" stroke-width="1.5" opacity="0.8"/>
<path d="M63.8,488l1.3,-1 1.2,-1.1 1.2,-1 1.3,-1 1.2,-1 1.3,-1" stroke="#784800" stroke-width="1.0" opacity="0.8"/>
<path d="M148.6,474.6l1.5,.3 1.6,.1 1.6,0 1.6,0 1.6,-.1 1.6,-.2M151.4,465.6l1.5,-.3 1.6,-.3 1.6,-.4 1.5,-.3 1.6,-.4 1.5,-.4M160.9,481.6l1.5,-.3 1.6,-.4 1.5,-.5 1.5,-.5" stroke="#600000" stroke-width="1.0" opacity="0.8"/>
<path d="M64,497.7l1.2,-1 1.3,-1M98.1,474.8l1.5,.4 1.6,.3" stroke="#181878" stroke-width="1.0" opacity="0.6"/>
<path d="M145.3,442.1l.8,-1.4 .9,-1.3M163.7,467.8l1.5,-.5 1.5,-.6" stroke="#000048" stroke-width="1.0" opacity="0.8"/>
<path d="M126.3,488.4l1.6,.1 .3,-1.6 .3,-1.5 .2,-1.6M68.1,539.8l.5,-1.5 .5,-1.6 .4,-1.5 .4,-1.6M94.2,408.1l.2,1.6 .2,1.6 .3,1.6 .3,1.5M130.8,540.5l0,1.6 .1,1.6 0,1.6 .1,1.6M109.7,543.5l.4,1.5 .5,1.5M93.7,545.7l.3,-1.5 .3,-1.6 .3,-1.6 .3,-1.5M77.3,531l.2,-1.6 .3,-1.6 .2,-1.5 .3,-1.6M119.7,541.8l.5,1.5 .4,1.6M84.9,553.3l.4,-1.6 .3,-1.5 .3,-1.6 .3,-1.6 .3,-1.6 .3,-1.5M93.4,407.9l.2,1.6 .2,1.6M141.6,540.7l.1,1.6 .2,1.6M137.4,540.5l0,1.6 .1,1.6 .1,1.6 .2,1.6 .2,1.6 .3,1.5" stroke="#006000" stroke-width="1.0" opacity="0.4"/>
<path d="M91.4,527.3l.2,-1.6 .2,-1.6" stroke="#3018d8" stroke-width="1.0" opacity="0.8"/>
<path d="M74,507.7l1.4,-.7 1.4,-.7" stroke="#901800" stroke-width="1.0" opacity="0.6"/>
<path d="M106.4,403.6l.1,-1.6 .1,-1.6M154.6,429l.2,-1.6 .2,-1.6M114.7,485l1.6,0 1.6,.1M106.6,473.3l1.5,.4 1.6,.4" stroke="#000030" stroke-width="1.0" opacity="0.4"/>
<path d="M117,428l1.5,-.7 1.5,-.6 1.4,-.7 1.5,-.7 1.4,-.7 1.4,-.8" stroke="#901800" stroke-width="1.5" opacity="0.6"/>
<path d="M127.5,481l.9,-1.3 .5,-1.6 .4,-1.5 .3,-1.6M95.2,410.1l.2,1.6 .3,1.6 .3,1.5 .5,1.6" stroke="#007818" stroke-width="1.0" opacity="0.4"/>
<path d="M129.7,507.8l.4,1.5 .4,1.6 .4,1.5 .3,1.6" stroke="#00ff18" stroke-width="1.0" opacity="0.6"/>
<path d="M59.8,430.4l.9,1.3 1,1.3 .9,1.3 .9,1.3" stroke="#184818" stroke-width="1.5" opacity="0.6"/>
<path d="M68.3,522.4l1.1,-1.2 1,-1.2" stroke="#304818" stroke-width="1.0" opacity="0.6"/>
<path d="M124.1,433.9l1,-1.2 1.1,-1.1" stroke="#789018" stroke-width="1.5" opacity="0.6"/>
<path d="M89.6,518.1l.1,-1.6 0,-1.6" stroke="#1830d8" stroke-width="1.5" opacity="0.6"/>
<path d="M92.9,549.1l.1,-1.6 0,-1.6" stroke="#001848" stroke-width="1.5" opacity="0.6"/>
<path d="M74.6,465.4l1.5,.6 1.4,.7 1.5,.7 1,1.2" stroke="#f03018" stroke-width="1.5" opacity="0.8"/>
<path d="M117,423.4l1.5,-.8 1.4,-.7" stroke="#181890" stroke-width="1.5" opacity="0.4"/>
<path d="M140,522.5l.6,1.5 .6,1.5 .5,1.5 .5,1.5M91.7,441.8l.4,1.6 .4,1.5 .5,1.5 .6,1.5 .7,1.5 .7,1.4 1.1,1.2 1.2,1M77.9,424.5l.6,1.5 .7,1.4" stroke="#187800" stroke-width="1.0" opacity="0.4"/>
<path d="M106.3,417.6l.5,-1.5 .5,-1.5" stroke="#180030" stroke-width="1.5" opacity="0.6"/>
<path d="M154,532.8l1.3,1 1.3,.9" stroke="#483000" stroke-width="1.0" opacity="0.4"/>
<path d="M79.7,445.2l.3,1.5 .2,1.6 .3,1.6 .3,1.6" stroke="#00f018" stroke-width="1.5" opacity="0.8"/>
<path d="M160.7,434.4l1.3,-.8 1.4,-.8" stroke="#301800" stroke-width="1.0" opacity="0.6"/>
<path d="M101.8,425.3l1.1,1.2 1,1.2" stroke="#001848" stroke-width="1.5" opacity="0.4"/>
<path d="M86.8,509.9l.2,-1.6 .3,-1.5M132.8,507.4l.4,1.5 .3,1.6M90.3,520.6l.1,-1.6 0,-1.6 .1,-1.6 .1,-1.6M84,491.1l0,-1.6 .1,-1.6M90.9,521.8l0,-1.6 .1,-1.6M85.5,528.3l.2,-1.6 .2,-1.6 .1,-1.6 .1,-1.6" stroke="#00d800" stroke-width="1.0" opacity="0.6"/>
<path d="M77.9,518l.7,-1.5 .7,-1.4M137.2,513.1l.5,1.5 .6,1.5 .7,1.5 .6,1.4M139.1,451.8l.5,-1.5 .5,-1.5 .6,-1.5 .6,-1.5" stroke="#189000" stroke-width="1.0" opacity="0.8"/>
<path d="M143.1,535.6l.2,1.6 .2,1.6 .2,1.6 .3,1.6" stroke="#007818" stroke-width="1.5" opacity="0.4"/>
<path d="M132,517.2l.2,1.6 .3,1.5" stroke="#1800c0" stroke-width="1.0" opacity="0.6"/>
<path d="M148.8,487.9l1.2,1 1.2,1.1 1.2,1 1.3,1M99.3,428.3l1.3,1 1.2,1" stroke="#604818" stroke-width="1.5" opacity="0.6"/>
<path d="M94.9,428.9l1.2,1.1 1.2,1 1.2,1 1.3,1M62,499.7l1.3,-1 1.2,-1 1.3,-1.1 1.2,-1" stroke="#603000" stroke-width="1.0" opacity="0.6"/>
<path d="M99.5,410.8l0,1.6 0,1.6M109.3,537.2l.3,1.6 .4,1.5 .5,1.6 .4,1.5 .5,1.5 .5,1.5M104.8,407.9l.3,-1.5 .2,-1.6 .2,-1.6 .2,-1.6M73,429.2l.4,1.6 .4,1.5" stroke="#004800" stroke-width="1.0" opacity="0.8"/>
<path d="M145.2,463.8l1.6,-.2 1.6,-.2" stroke="#180060" stroke-width="1.5" opacity="0.8"/>
<path d="M141.4,504.5l1.6,.3 1.5,.2 1.6,.3 1.6,.3 1.6,.3 1.5,.4" stroke="#c00018" stroke-width="1.5" opacity="0.6"/>
<path d="M145.3,458.1l1.6,-.4 1.5,-.3" stroke="#180060" stroke-width="1.0" opacity="0.8"/>
<path d="M54.7,520.6l1.1,-1.1 1.2,-1.1 1.1,-1.2 1.2,-1M56.5,500l1.2,-1 1.2,-1.1" stroke="#484800" stroke-width="1.0" opacity="0.4"/>
<path d="M103.9,457.6l1.6,.3 1.6,.4M119,555.6l.1,1.6 .1,1.6" stroke="#181848" stroke-width="1.0" opacity="0.6"/>
<path d="M71.3,464.5l1.5,.5 1.5,.4 1.6,.5 1.5,.6M143.2,501.6l1.5,.5 1.5,.5M169.5,500.6l1.4,.7 1.5,.7 1.4,.6 1.5,.7 1.4,.7 1.5,.6" stroke="#a81800" stroke-width="1.0" opacity="0.6"/>
<path d="M113.1,434.8l1.5,-.6 1.5,-.7 1.4,-.7 1.4,-.7 1.5,-.7 1.4,-.7M153.5,440.3l1.4,-.8 1.4,-.7 1.5,-.7 1.4,-.7 1.5,-.7 1.4,-.6 1.5,-.7 1.5,-.5M49.6,499.4l1.3,-.9 1.4,-.9 1.3,-.9 1.3,-.9 1.4,-.9 1.3,-.9M64.9,517.7l1.3,-.9 1.4,-.8 1.3,-.8 1.5,-.8M109.4,430.9l1.4,-.7 1.4,-.7 1.4,-.8 1.5,-.7 1.4,-.7 1.5,-.6M96.3,433.7l1.2,1 1.3,.9 1.4,.8 1.4,.8 1.5,.7 1.5,.6M116.5,441.3l1.5,-.4 1.5,-.7 1.4,-.8 1.3,-.8 1.2,-1.1 1.1,-1.2M114,437.2l1.5,-.5 1.4,-.7 1.5,-.7 1.4,-.7 1.4,-.8 1.4,-.9" stroke="#481800" stroke-width="1.0" opacity="0.6"/>
<path d="M144.3,521.6l1.2,1 1.3,1 1.2,1 1.3,1" stroke="#906018" stroke-width="1.5" opacity="0.4"/>
<path d="M106.6,520.8l.6,-1.5 .7,-1.5 .7,-1.4 .8,-1.4 .8,-1.4 .9,-1.3M101.2,509.5l.7,-1.4 .8,-1.4 .8,-1.4 .9,-1.3" stroke="#30a818" stroke-width="1.0" opacity="0.4"/>
<path d="M88.6,556.5l.1,-1.6 .1,-1.6 .1,-1.6 .1,-1.6 .1,-1.6 .2,-1.6M110.3,554.5l.3,1.6 .4,1.5M121.5,539.9l.4,1.5 .4,1.6 .3,1.6 .3,1.5 .3,1.6 .2,1.6M128.5,539.5l.1,1.6 .1,1.6 .1,1.6 .1,1.6 .1,1.6 .1,1.6M142.6,434.4l.1,-1.6 0,-1.6 0,-1.6 0,1.6M99.3,410l.1,-1.6 .2,-1.5 .2,-1.6 .2,-1.6M117.5,541.4l.5,1.5 .5,1.5M143.3,437.2l.2,-1.5 .2,-1.6 .1,-1.6 .1,-1.6M112.8,554.2l.2,1.6 .3,1.6 .2,1.6 .2,1.5M74.2,436.7l.3,1.6 .3,1.6 .4,1.5 .3,1.6M116.8,549.8l.3,1.6 .2,1.6 .1,1.6 .2,1.6 .1,1.6 .1,1.6M143,437.1l.2,-1.6 .2,-1.6M76,447.9l.6,1.5 .5,1.5M143.9,436.6l.2,-1.6 .1,-1.6 .2,-1.6 0,-1.6M132.6,541.7l0,-1.6 0,1.6 0,-1.6 0,-1.6 .1,-1.6 0,-1.6" stroke="#006000" stroke-width="1.0" opacity="0.6"/>
<path d="M97.9,461.1l1.5,.4 1.5,.5" stroke="#600018" stroke-width="1.0" opacity="0.6"/>
<path d="M109.8,467.9l1.6,.1 1.6,0 1.6,-.1 1.6,-.2M113.2,474l1.6,-.4 1.5,-.5 1.6,-.4 1.5,-.5M116.8,471.4l1.5,-.4 1.5,-.5 1.5,-.5 1.5,-.6 1.5,-.5 1.5,-.6M166.1,446.6l1.6,-.4 1.5,-.3M154.9,458.4l1.6,-.2 1.6,-.2M104.7,476.4l1.6,.3 1.6,.4" stroke="#300000" stroke-width="1.0" opacity="0.6"/>
<path d="M146.4,484.8l1.2,1.1 1.2,1.1" stroke="#786018" stroke-width="1.0" opacity="0.6"/>
<path d="M153.5,516l1.5,.6 1.5,.5M96.3,493.3l1.6,-.3 1.5,-.3M58.7,493.2l1.2,-1 1.3,-1" stroke="#001878" stroke-width="1.0" opacity="0.8"/>
<path d="M101.6,415l.1,1.6 .2,1.6" stroke="#001830" stroke-width="1.0" opacity="0.6"/>
<path d="M123.3,528.9l0,-1.6 .1,1.6 .1,1.5 .1,1.6 .2,1.6 .2,1.6M85.2,458.4l.3,1.6 .3,1.5 .3,1.6 .3,1.6" stroke="#00d818" stroke-width="1.5" opacity="0.4"/>
<path d="M86.5,405.3l.4,1.5 .4,1.6 .4,1.5 .4,1.6 .5,1.5 .5,1.5" stroke="#18f000" stroke-width="1.0" opacity="0.4"/>
<path d="M157.3,534l1.4,.7 1.5,.7 1.4,.6 1.5,.6M67.6,503.8l1.5,-.6 1.5,-.6 1.4,-.7 1.5,-.6" stroke="#781818" stroke-width="1.5" opacity="0.4"/>
<path d="M112.6,437.8l1.5,-.5 1.5,-.6 1.4,-.6 1.5,-.8 1.4,-.7 1.4,-.8 1.3,-.8 1.4,-.9" stroke="#481800" stroke-width="1.5" opacity="0.8"/>
<path d="M79,403.7l.9,1.3 .9,1.4 .9,1.3 .8,1.4 .8,1.4 .7,1.4" stroke="#30a800" stroke-width="1.0" opacity="0.4"/>
<path d="M142.2,508.7l1.5,.1 1.6,.2 1.6,.1 1.6,.1 1.6,.2 1.6,.3" stroke="#a80000" stroke-width="1.5" opacity="0.6"/>
<path d="M121.6,485.6l1.6,-.2 1.6,-.1M103.7,446.3l1.5,.3 1.6,.3M115.8,460.9l1.6,-.2 1.5,-.3 1.6,-.4 1.5,-.4M93.1,463.7l1.5,.8 1.4,.6 1.6,.5 1.5,.5 1.5,.4 1.6,.4M160.8,463.2l1.6,-.4 1.5,-.4 1.5,-.5 1.6,-.4 1.5,-.5 1.5,-.5M117.2,443.3l1.6,-.2 1.6,-.2M158.8,471l1.5,-.5 1.5,-.6 1.5,-.5 1.5,-.6M106,467.7l1.6,.3 1.6,.4M156,479.7l1.6,0 1.6,-.2 1.5,-.3 1.6,-.3 1.6,-.5 1.5,-.5M154.6,452.6l1.6,0 1.6,-.1 1.6,0 1.6,-.1 1.6,-.1 1.5,-.1M100.7,473.3l1.5,.4 1.6,.3M157.3,485.9l1.6,.3 1.6,.2 1.6,0 1.6,0 1.6,-.1 1.6,-.3M157.1,451.7l1.6,0 1.6,-.1 1.6,0 1.6,-.1M151.1,473.1l1.6,-.1 1.6,-.1 1.6,-.3 1.5,-.3 1.6,-.4 1.5,-.5" stroke="#600000" stroke-width="1.0" opacity="0.4"/>
<path d="M138.3,514.4l.7,1.4 .9,1.4 1,1.2 .9,1.3 1.1,1.2 1.2,1.1" stroke="#60a800" stroke-width="1.0" opacity="0.4"/>
<path d="M80.9,412.1l.8,1.3 .8,1.4 .8,1.4 .7,1.4" stroke="#30a818" stroke-width="1.5" opacity="0.4"/>
<path d="M123.5,478.9l1.6,-.4 1.5,-.4 1.5,-.5 1.3,-.9M59.5,474.1l1.5,.4 1.6,.3M157.7,488l1.6,.4 1.6,.3 1.6,.2 1.5,.1 1.6,.1 1.6,-.1M160.7,527.5l1.5,.5 1.5,.4 1.6,.4 1.5,.5" stroke="#780000" stroke-width="1.5" opacity="0.6"/>
<path d="M143.1,465.9l1.6,-.1 1.6,-.1M105.8,469l1.5,.4 1.6,.3M157.8,447.6l1.5,0 1.6,-.1" stroke="#181848" stroke-width="1.0" opacity="0.4"/>
<path d="M139.3,502.5l.6,1.4 1.4,.8 1.4,.7 1.6,.3M66.7,458.9l1.4,.8 1.4,.9" stroke="#903000" stroke-width="1.5" opacity="0.6"/>
<path d="M50.4,517l1,-1.2 1,-1.3 1,-1.3 1,-1.2M98.1,420.1l.9,1.3 .9,1.3 1,1.3 .9,1.3 1,1.2 1.1,1.3" stroke="#306000" stroke-width="1.0" opacity="0.8"/>
<path d="M126.9,422.8l1.1,-1.2 1.1,-1.2" stroke="#90a800" stroke-width="1.0" opacity="0.8"/>
<path d="M81.8,462.6l.4,1.5 .4,1.6 .2,1.6 .3,1.6 .2,1.5 .1,1.6M106.7,534.7l0,1.6 0,-1.6 0,-1.6 .1,-1.6M135.3,536.8l.1,-1.6 0,-1.6 0,-1.6 0,1.6" stroke="#009000" stroke-width="1.0" opacity="0.8"/>
<path d="M108,403.6l.1,-1.6 .1,-1.6M103,403.6l.1,-1.6 .1,-1.6 .1,-1.6 0,1.6M103.5,404.4l.1,-1.6 .1,-1.6 .1,-1.6 .1,-1.6M113.8,409.4l.4,-1.6 .4,-1.5M147.6,419.4l.2,1.6 .1,1.6M79.8,548l.6,-1.5 .6,-1.5" stroke="#003000" stroke-width="1.0" opacity="0.4"/>
<path d="M122,476.9l1.5,-.4 1.6,-.4M81.2,550.1l.6,-1.5 .6,-1.5M116.6,467.8l1.5,-.5 1.6,-.4" stroke="#001830" stroke-width="1.5" opacity="0.6"/>
<path d="M96.3,546l.1,1.6 .2,1.6 .2,1.6 .4,1.5M137.7,547.7l.3,1.5 .5,1.6 .5,1.5 .6,1.5M70.6,431.4l.4,1.5 .4,1.6M109.5,413.1l.6,-1.5 .5,-1.5 .3,-1.6 .4,-1.5 .2,-1.6 .2,-1.6M140,422.3l.4,-1.6 .4,-1.5 .4,-1.6 .5,-1.5 .5,-1.5 .6,-1.5M114,406.9l.3,-1.6 .1,-1.6 .1,-1.6 .1,-1.6 0,-1.6 .1,-1.6" stroke="#004800" stroke-width="1.5" opacity="0.6"/>
<path d="M76.1,542.6l.4,-1.5 .5,-1.5M102.5,477.9l1.6,.2 1.6,.2M147.8,456.5l1.6,-.2 1.6,-.3M89.1,548.5l.2,-1.6 .2,-1.6" stroke="#180048" stroke-width="1.5" opacity="0.6"/>
<path d="M70.5,457.9l1.3,.9 1.4,1 1.3,.9 1.3,.9" stroke="#904800" stroke-width="1.0" opacity="0.6"/>
<path d="M123.9,496.3l1.4,.8 1.2,1 1.2,1.1 .9,1.3M161.2,511l1.2,1.1 1.3,1 1.2,1.1 1.2,1" stroke="#907818" stroke-width="1.5" opacity="0.6"/>
<path d="M123,427.6l1.3,-.9 1.4,-.8M94,533.1l.4,-1.5 .5,-1.5M96.7,506.5l.8,-1.4 .7,-1.4" stroke="#001890" stroke-width="1.0" opacity="0.6"/>
<path d="M133.3,461.1l.4,-1.5 .3,-1.6 .4,-1.5 .3,-1.6M101.6,534.2l.4,-1.5 .3,-1.6 .4,-1.5 .4,-1.6 .4,-1.5 .3,-1.6" stroke="#00c018" stroke-width="1.5" opacity="0.4"/>
<path d="M123.7,479.4l1.6,-.4 1.5,-.5 1.6,-.5 1.1,-1.1" stroke="#600018" stroke-width="1.5" opacity="0.4"/>
<path d="M75.4,537.6l.2,-1.6 .2,-1.6 .2,-1.6 .2,-1.6 .2,-1.6 .2,-1.6M127.8,481.4l.7,-1.4 .4,-1.6 .4,-1.5 .2,-1.6M82.8,425l.5,1.5 .5,1.5 .5,1.6 .4,1.5" stroke="#009018" stroke-width="1.0" opacity="0.4"/>
<path d="M90.7,454.9l.6,1.5 .7,1.4 1,1.3 .9,1.2 1.2,1.1 1.4,.8" stroke="#487818" stroke-width="1.5" opacity="0.8"/>
<path d="M61,539.9l1,-1.2 .9,-1.4 .8,-1.3 .8,-1.4 .7,-1.5 .6,-1.5M127.8,411.6l.9,-1.4 .8,-1.3 .8,-1.4 .9,-1.4 .7,-1.4 .8,-1.4M130.5,410.4l.8,-1.4 .8,-1.4 .8,-1.4 .8,-1.4 .7,-1.4 .8,-1.4M137.2,413l.8,-1.4 .8,-1.4 .9,-1.3 .9,-1.3" stroke="#186000" stroke-width="1.5" opacity="0.6"/>
<path d="M84.4,421.7l.6,1.5 .5,1.5 .5,1.5 .5,1.6 .5,1.5 .5,1.5M90.6,431l.7,1.4 .7,1.5" stroke="#18a800" stroke-width="1.0" opacity="0.4"/>
<path d="M67.6,458.6l1.3,.9 1.4,.8 1.4,.8 1.4,.8 1.4,.7 1.4,.8M67.5,497.4l1.3,-.9 1.2,-1 1.3,-1 1.3,-.9 1.3,-1 1.2,-1M143.5,477.1l1.3,1 1.3,.8 1.4,.8 1.4,.8 1.4,.8 1.4,.7" stroke="#783000" stroke-width="1.0" opacity="0.4"/>
<path d="M65,441.5l1,1.3 1,1.3 .9,1.2 1,1.3" stroke="#487818" stroke-width="1.0" opacity="0.6"/>
<path d="M73.6,525.7l.6,-1.5 .6,-1.5" stroke="#000078" stroke-width="1.5" opacity="0.6"/>
<path d="M131.2,488.1l.2,1.6 .2,1.6" stroke="#1818d8" stroke-width="1.0" opacity="0.6"/>
<path d="M70.1,451.8l1.1,1.2 1.1,1.2" stroke="#789018" stroke-width="1.0" opacity="0.6"/>
<path d="M154.4,429.1l.2,-1.5 .3,-1.6M153.6,422.3l.1,1.6 .1,1.6" stroke="#000030" stroke-width="1.5" opacity="0.6"/>
<path d="M118.3,477.8l1.6,-.4 1.5,-.4" stroke="#000048" stroke-width="1.5" opacity="0.4"/>
<path d="M74.9,444.5l.5,1.5 .5,1.5 .5,1.5 .6,1.5 .5,1.5 .6,1.5" stroke="#18a818" stroke-width="1.5" opacity="0.4"/>
<path d="M160.3,508.4l1.2,1 1.2,1.1" stroke="#604818" stroke-width="1.0" opacity="0.8"/>
<path d="M144.3,496.3l1.3,.9 1.4,.8 1.4,.8 1.4,.8 1.4,.7 1.4,.8M153.7,492.4l1.3,.9 1.3,1 1.3,.9 1.3,.8" stroke="#783000" stroke-width="1.5" opacity="0.4"/>
<path d="M149.6,522.6l1.4,.8 1.4,.8M58.3,453.5l1.4,.8 1.4,.7M63.6,480.5l1.5,-.5 1.5,-.6" stroke="#000078" stroke-width="1.0" opacity="0.6"/>
<path d="M70.1,526.4l.7,-1.5 .7,-1.4 .9,-1.3 .9,-1.4 .9,-1.3 1,-1.2" stroke="#307800" stroke-width="1.0" opacity="0.4"/>
<path d="M103.7,440.9l1.5,.3 1.6,.3" stroke="#001860" stroke-width="1.0" opacity="0.4"/>
<path d="M69.3,500.6l1.5,-.8 1.4,-.8 1.4,-.7 1.4,-.8" stroke="#901800" stroke-width="1.0" opacity="0.4"/>
<path d="M56.8,455.6l1.4,.8 1.4,.7" stroke="#a83018" stroke-width="1.0" opacity="0.6"/>
<path d="M121.4,501.7l.9,1.3 .7,1.5 .4,1.5 .5,1.5 .4,1.6 .2,1.6" stroke="#18d818" stroke-width="1.0" opacity="0.4"/>
<path d="M117,426l1.5,-.7 1.4,-.6 1.5,-.7 1.4,-.7 1.4,-.7 1.4,-.8M158.5,471.6l1.5,-.5 1.5,-.5 1.5,-.6 1.5,-.6M151.1,518.8l1.6,.6 1.4,.5 1.5,.6 1.5,.6 1.5,.7 1.5,.6" stroke="#781800" stroke-width="1.0" opacity="0.4"/>
<path d="M81.1,418.7l.7,1.4 .7,1.5 .7,1.4 .6,1.5M137.3,465l.3,-1.6 .5,-1.5 .5,-1.6 .5,-1.5 .6,-1.4 .7,-1.5M85.9,419.7l.5,1.5 .6,1.5 .6,1.4 .6,1.5 .6,1.5 .6,1.5" stroke="#187818" stroke-width="1.0" opacity="0.6"/>
<path d="M87.7,543.8l.3,-1.6 .3,-1.6 .4,-1.5 .3,-1.6 .4,-1.6 .3,-1.5M99.6,393.8l.2,1.6 .2,1.6 .1,1.6 0,1.6M131,473.4l0,1.6 .1,1.6 .1,1.5 .1,1.6 .1,1.6 .2,1.6M112.2,532.5l.3,1.6 .3,1.5 .5,1.6 .5,1.5 .5,1.5 .5,1.5 .5,1.5 .5,1.5M96.8,408l0,1.6 .1,-1.6 0,-1.6 .1,-1.6" stroke="#007800" stroke-width="1.0" opacity="0.8"/>
<path d="M79.4,542.8l.4,-1.5 .4,-1.6M132.9,546.3l.1,1.6 .1,1.6M165.3,520.4l1.4,.8 1.4,.7" stroke="#000060" stroke-width="1.0" opacity="0.6"/>
<path d="M94.9,443.8l1.1,1.1 1.3,.9 1.4,.9 1.4,.7M58.9,519.9l1.2,-1 1.3,-1 1.3,-1 1.2,-.9 1.4,-.9 1.4,-.8M49.6,502.1l1.2,-1.1 1.2,-1 1.2,-1 1.3,-1 1.2,-1 1.3,-1" stroke="#603018" stroke-width="1.0" opacity="0.6"/>
<path d="M57.8,491l1.3,-.9 1.4,-.9 1.3,-.9 1.3,-1 1.2,-.9 1.3,-1 1.3,-1 1.2,-1" stroke="#904818" stroke-width="1.5" opacity="0.6"/>
<path d="M69.1,479.6l1.4,-.8 1.4,-.7M148.1,517.4l1.5,.4 1.6,.5 1.5,.4 1.5,.5" stroke="#a81800" stroke-width="1.5" opacity="0.4"/>
<path d="M136.7,478.4l.3,1.6 .4,1.6 .3,1.5 .4,1.6M86.5,468.5l.2,1.6 .2,1.6 .2,1.6 .1,1.5" stroke="#00d818" stroke-width="1.5" opacity="0.6"/>
<path d="M118.7,514.5l.6,-1.4 .7,-1.5M70.3,422l.8,1.3 .8,1.5 .6,1.4 .7,1.5 .5,1.5 .5,1.5" stroke="#189018" stroke-width="1.5" opacity="0.6"/>
<path d="M105.9,393.7l.2,1.6 0,1.6 .1,1.6 0,1.6" stroke="#003000" stroke-width="1.5" opacity="0.4"/>
<path d="M109.8,514.1l.9,-1.3 .9,-1.3" stroke="#1818f0" stroke-width="1.0" opacity="0.4"/>
<path d="M124.4,514.7l0,-1.6 0,-1.6" stroke="#00a800" stroke-width="1.5" opacity="0.4"/>
<path d="M122.8,470.8l1.5,-.6 1.5,-.6 1.4,-.9 1.3,-.9 1,-1.2 .7,-1.4M70.6,502.5l1.5,-.7 1.5,-.6M64.4,516.1l1.4,-.8 1.4,-.7 1.5,-.8 1.4,-.6M114.6,435l1.5,-.6 1.4,-.7 1.5,-.7 1.4,-.8M94.8,437.2l1.1,1.1 1.3,1 1.3,.9 1.5,.7 1.4,.7 1.5,.5 1.5,.5 1.6,.3" stroke="#481800" stroke-width="1.0" opacity="0.4"/>
<path d="M51.1,481l1.5,.5 1.6,.3 1.6,.2 1.6,.2 1.6,-.1 1.6,-.2M145.1,515.4l1.5,.3 1.6,.3 1.6,.4 1.5,.3 1.6,.4 1.5,.5" stroke="#900000" stroke-width="1.5" opacity="0.6"/>
<path d="M90.1,538.7l.4,-1.6 .4,-1.5M134.2,543.2l0,-1.6 0,1.6 .1,1.6 .1,1.6 .1,1.5 .2,1.6M82.9,539.9l.2,-1.5 .3,-1.6 .2,-1.6 .3,-1.6M106.2,538.2l.1,1.6 .3,1.6 .3,1.5 .3,1.6 .4,1.6 .4,1.5M138.3,468l.2,1.6 .4,1.5 .5,1.6 .5,1.5 .6,1.5 .8,1.4M111.2,499.9l0,-1.6 0,-1.6M138.7,540.1l0,-1.6 0,1.6 0,1.6 .1,1.6 .1,1.6 .1,1.6" stroke="#007800" stroke-width="1.5" opacity="0.6"/>
<path d="M123.4,475.5l1.5,-.4 1.5,-.6 1.4,-.8 1.4,-.8 .6,-1.5 .4,-1.5" stroke="#481800" stroke-width="1.5" opacity="0.4"/>
<path d="M100.9,516.7l.3,-1.6 .3,-1.5 .5,-1.6 .4,-1.5 .5,-1.5 .7,-1.5" stroke="#18f018" stroke-width="1.5" opacity="0.6"/>
<path d="M91.1,513.7l.1,-1.6 .1,-1.6M80.5,457.6l.5,1.5 .5,1.5" stroke="#3030c0" stroke-width="1.5" opacity="0.4"/>
<path d="M90.7,430.4l.8,1.4 .7,1.4 .8,1.4 .8,1.4" stroke="#30a818" stroke-width="1.5" opacity="0.6"/>
<path d="M73.6,418.5l1.1,1.2 1.1,1.1" stroke="#787818" stroke-width="1.5" opacity="0.6"/>
<path d="M155.5,536.8l1.3,.9 1.4,.9 1.3,.8 1.4,.9" stroke="#481818" stroke-width="1.0" opacity="0.4"/>
<path d="M70.2,514.6l1.5,-.8 1.4,-.7 1.4,-.8 1.3,-.8M102.5,491.4l1.4,-.6 1.5,-.6" stroke="#601818" stroke-width="1.0" opacity="0.6"/>
<path d="M108.9,535.8l.2,1.6 .3,1.6M159.5,457l1.6,-.2 1.6,-.2M60.8,446l1.3,.9 1.4,.9M70,428.4l.5,1.5 .4,1.5" stroke="#181860" stroke-width="1.0" opacity="0.4"/>
<path d="M84.6,425.5l.5,1.6 .4,1.5 .5,1.5 .4,1.6" stroke="#18d800" stroke-width="1.0" opacity="0.4"/>
<path d="M55.7,483.1l1.6,-.1 1.6,-.1M168.7,495.2l1.6,.2 1.6,.1 1.6,0 1.6,0 1.6,0 1.6,-.1M48.2,481.5l1.4,.6 1.5,.6 1.6,.4 1.5,.4 1.6,.2 1.6,0" stroke="#900000" stroke-width="1.0" opacity="0.6"/>
<path d="M148.2,511l1.6,.2 1.6,.3 1.5,.5 1.6,.4 1.5,.5 1.4,.7M95.8,471.6l1.5,.4 1.6,.4 1.5,.4 1.6,.4" stroke="#900000" stroke-width="1.5" opacity="0.4"/>
<path d="M133.6,419.5l.7,-1.4 .6,-1.5 .7,-1.4 .7,-1.5" stroke="#187800" stroke-width="1.5" opacity="0.6"/>
<path d="M141.1,472.9l1.2,1.1 1.4,.8 1.4,.7 1.5,.7 1.4,.7 1.5,.5M67.6,517.4l1.3,-.9 1.4,-.8 1.4,-.8 1.4,-.8 1.3,-.9 1.4,-.9M111.9,430.8l1.4,-.7 1.4,-.7" stroke="#601818" stroke-width="1.5" opacity="0.6"/>
<path d="M114.5,494.9l1.4,.9 1.3,.8M133.7,412l.8,-1.4 .8,-1.4M119.4,545.7l.3,1.6 .4,1.6" stroke="#180078" stroke-width="1.0" opacity="0.6"/>
<path d="M142.2,448.8l.9,-1.3 1.1,-1.2 1,-1.2 1.1,-1.2" stroke="#486018" stroke-width="1.5" opacity="0.6"/>
<path d="M147.6,528l1,1.3 1,1.3 1,1.2 1,1.3 1,1.2 1.1,1.2" stroke="#609000" stroke-width="1.0" opacity="0.4"/>
<path d="M154,430.1l.3,-1.6 .1,-1.6 .2,-1.6 0,-1.6M93.7,548.4l.1,-1.6 0,1.6 .1,-1.6 0,-1.6 .2,-1.6 .3,-1.5M109.3,413.1l.5,-1.5 .4,-1.5 .4,-1.6 .4,-1.5 .2,-1.6 .2,-1.6" stroke="#003000" stroke-width="1.0" opacity="0.8"/>
<path d="M93.1,434.4l1,1.3 1,1.2 1.1,1.2 1.1,1.1" stroke="#486000" stroke-width="1.5" opacity="0.4"/>
<path d="M109.2,464.8l1.6,.1 1.6,.1 1.6,0 1.6,-.1 1.6,-.2 1.5,-.3M49.4,494.7l1.5,-.5 1.5,-.6 1.5,-.6 1.5,-.6" stroke="#480000" stroke-width="1.5" opacity="0.8"/>
<path d="M126.2,509.7l.3,1.6 .2,1.6 .1,1.6 .1,1.6 .1,1.6 0,1.6 .1,1.6 0,1.6" stroke="#00d800" stroke-width="1.0" opacity="0.8"/>
<path d="M58,479.4l1.6,0 1.6,-.1 1.6,-.2 1.6,-.3M59.5,473.3l1.6,.4 1.5,.4" stroke="#a80018" stroke-width="1.0" opacity="0.4"/>
<path d="M59.6,534.7l1,-1.3 .9,-1.3 .9,-1.4 .8,-1.4M133.6,410.8l.8,-1.4 .8,-1.4 .8,-1.4 .9,-1.3" stroke="#307818" stroke-width="1.0" opacity="0.6"/>
<path d="M146.7,534.5l.5,1.5 .6,1.5 .6,1.4 .7,1.5 .8,1.4 .8,1.4M131.2,407.8l.8,-1.4 .8,-1.4 .7,-1.4 .8,-1.4M69.6,422.7l.7,1.5 .7,1.4 .7,1.5 .6,1.4M107.9,500.4l.9,-1.3 .7,-1.4 .8,-1.4 0,-1.6M115.7,413l.8,-1.4 .7,-1.4 .7,-1.5 .6,-1.4" stroke="#186000" stroke-width="1.0" opacity="0.6"/>
<path d="M81,509.5l.5,-1.5 .5,-1.5 .5,-1.5 .5,-1.5 .4,-1.6 .4,-1.5M79.6,456.6l.6,1.5 .5,1.5" stroke="#18a800" stroke-width="1.0" opacity="0.6"/>
<path d="M110.8,510.9l1,-1.3 .9,-1.3M90.7,423.3l.9,1.3 .9,1.3 1,1.3 1,1.2M140.2,454.4l.8,-1.4 .8,-1.4" stroke="#307800" stroke-width="1.0" opacity="0.6"/>
<path d="M133.5,537.1l0,-1.6 0,-1.6M114.7,534.1l.5,1.6 .4,1.5" stroke="#181878" stroke-width="1.5" opacity="0.4"/>
<path d="M127.8,506l.5,1.5 .4,1.5 .4,1.6 .4,1.6 .3,1.5 .3,1.6M111.3,531.1l.1,-1.6 .2,-1.6 .2,-1.6 .3,-1.6 .4,-1.5 .6,-1.5M133.3,508.5l.3,1.5 .4,1.6 .4,1.5 .4,1.6" stroke="#00c000" stroke-width="1.5" opacity="0.6"/>
<path d="M80.9,445.5l.2,1.6 .2,1.6M125.4,523l.1,-1.6 .1,-1.6M86,470.1l.2,1.6 .1,1.6M81.2,485.9l.3,-1.6 .3,-1.5" stroke="#00f018" stroke-width="1.5" opacity="0.6"/>
<path d="M151.8,502.2l1.4,.7 1.4,.8 1.4,.8 1.4,.9M150.5,501.8l1.5,.7 1.4,.8 1.4,.7 1.4,.8M90.9,481.2l.9,1.3 1.4,.8 1.4,.8 1.5,.5" stroke="#a83018" stroke-width="1.5" opacity="0.4"/>
<path d="M153.7,534.4l1.2,1 1.4,.9 1.3,1 1.3,.8M101.8,497.7l1.4,-.8 1.3,-.9 1.4,-.8 1.3,-1M110.4,423l1.2,-.9 1.3,-1 1.3,-.9 1.3,-.9" stroke="#603000" stroke-width="1.0" opacity="0.4"/>
<path d="M130.4,497.1l.4,1.6 .3,1.6 .4,1.5 .3,1.6M86.3,511.6l.3,-1.6 .3,-1.6 .2,-1.5 .4,-1.6M93.1,523.4l.1,-1.6 .1,-1.6 .1,-1.6 0,-1.6 .1,-1.6 0,-1.6" stroke="#00c018" stroke-width="1.5" opacity="0.6"/>
<path d="M88.7,461l.5,1.5 .5,1.5 .6,1.5 .6,1.5 .7,1.4 1,1.3M90.5,435.1l.5,1.6 .5,1.5 .4,1.5 .5,1.5 .5,1.6 .6,1.5M70.8,424.2l.7,1.4 .6,1.5" stroke="#189000" stroke-width="1.0" opacity="0.6"/>
<path d="M83,524.4l.2,-1.6 .2,-1.6 .2,-1.6 .2,-1.6M124.7,504.1l.7,1.5 .4,1.5 .4,1.6 .4,1.5 .4,1.6 .2,1.6M137.3,467.6l.1,1.6 0,-1.6 .2,-1.6 .1,-1.6 .3,-1.6 .4,-1.5M134,518.8l.3,1.6 .2,1.6 .2,1.6 .2,1.6 .2,1.5 .1,1.6" stroke="#00c000" stroke-width="1.0" opacity="0.6"/>
<path d="M154,521.9l1.4,.6 1.5,.7 1.5,.6 1.5,.6 1.4,.6 1.5,.5" stroke="#901818" stroke-width="1.0" opacity="0.4"/>
<path d="M153,529.3l1.3,.9 1.3,1" stroke="#603018" stroke-width="1.5" opacity="0.4"/>
<path d="M102.5,435.1l1.6,.5 1.5,.6M156.4,511.8l1.4,.8 1.4,.8M95.4,429.3l1.2,1 1.3,1.1" stroke="#180060" stroke-width="1.5" opacity="0.6"/>
<path d="M74.3,481.5l1.3,-1 1.3,-.9" stroke="#c06018" stroke-width="1.0" opacity="0.4"/>
<path d="M91.6,533.8l.4,-1.5 .5,-1.5" stroke="#180078" stroke-width="1.0" opacity="0.4"/>
<path d="M82.4,447.7l.2,1.6 .3,1.6 .2,1.6 .2,1.6" stroke="#00a800" stroke-width="1.5" opacity="0.8"/>
<path d="M60.8,471.4l1.6,.4 1.5,.5M150.3,510l1.6,.4 1.5,.4M142.5,512.6l1.6,.2 1.6,.2 1.6,.2 1.6,.1 1.6,.3 1.6,.2" stroke="#a80000" stroke-width="1.0" opacity="0.6"/>
<path d="M81.9,524.9l.2,-1.6 .3,-1.6" stroke="#181878" stroke-width="1.5" opacity="0.8"/>
<path d="M91.2,506.7l.5,-1.5 .4,-1.6M104,518.5l.5,-1.6 .5,-1.5 .6,-1.5 .6,-1.4" stroke="#18c018" stroke-width="1.0" opacity="0.6"/>
<path d="M89,413.9l.6,1.5 .6,1.5 .7,1.4 .7,1.5 .7,1.4 .8,1.4" stroke="#18c018" stroke-width="1.5" opacity="0.6"/>
<path d="M51.1,497.2l1.4,-.8 1.4,-.9M67.2,500.9l1.4,-.8 1.4,-.8 1.4,-.8 1.4,-.8 1.3,-.8 1.4,-.8" stroke="#601800" stroke-width="1.5" opacity="0.6"/>
<path d="M89.5,428.2l.6,1.5 .7,1.4 .7,1.5 .7,1.4" stroke="#18a818" stroke-width="1.0" opacity="0.6"/>
<path d="M110.6,397.1l0,1.6 0,1.6" stroke="#003000" stroke-width="1.5" opacity="0.6"/>
<path d="M99.9,536.2l.5,-1.6 .4,-1.5" stroke="#00a818" stroke-width="1.5" opacity="0.6"/>
<path d="M129.9,500.7l.4,1.5 .5,1.6 .4,1.5 .4,1.6 .4,1.5 .4,1.6M80,466l.4,1.5 .3,1.6 .2,1.6 .1,1.6M82.2,437.3l.1,1.6 .2,1.6 .2,1.6 .1,1.6 .2,1.6 .2,1.6" stroke="#00d818" stroke-width="1.0" opacity="0.6"/>
<path d="M136.1,491.8l.3,1.6 .3,1.6" stroke="#0018a8" stroke-width="1.5" opacity="0.6"/>
<path d="M59.6,514.1l1.3,-1 1.3,-.8 1.4,-.8 1.4,-.8" stroke="#301800" stroke-width="1.5" opacity="0.4"/>
<path d="M139.2,443.7l.2,-1.6 .3,-1.6" stroke="#009018" stroke-width="1.5" opacity="0.4"/>
<path d="M93.4,431.2l1,1.2 1.1,1.2" stroke="#607800" stroke-width="1.5" opacity="0.4"/>
<path d="M156.4,513.7l1.4,.7 1.4,.7M69.3,535.1l.4,-1.6 .3,-1.6" stroke="#181860" stroke-width="1.0" opacity="0.8"/>
<path d="M93.5,425.8l1.1,1.1 1.2,1.1 1.2,1.1 1.2,1 1.3,1 1.2,1" stroke="#784818" stroke-width="1.5" opacity="0.4"/>
<path d="M87.1,436.5l.3,1.5 .2,1.6" stroke="#009000" stroke-width="1.5" opacity="0.4"/>
<path d="M105,511.7l.8,-1.4 .8,-1.3 .9,-1.4 .9,-1.3 .9,-1.3 .9,-1.4" stroke="#309018" stroke-width="1.5" opacity="0.8"/>
<path d="M95.1,533l.6,-1.5 .5,-1.5" stroke="#189018" stroke-width="1.0" opacity="0.4"/>
<path d="M147.2,498.9l1.4,.8 1.5,.7 1.4,.8 1.4,.7 1.4,.8 1.4,.8M146.9,447.4l1.4,-.7 1.4,-.7" stroke="#601800" stroke-width="1.0" opacity="0.8"/>
<path d="M130.9,518.9l.2,1.5 .2,1.6" stroke="#00d818" stroke-width="1.0" opacity="0.8"/>
<path d="M164.6,504.1l1.2,1 1.1,1.1 1.2,1.1 1.2,1.1" stroke="#786000" stroke-width="1.5" opacity="0.6"/>
<path d="M89.7,467l.6,1.5 .6,1.5" stroke="#3018c0" stroke-width="1.0" opacity="0.6"/>
<path d="M52.5,524l1.2,-1 1.2,-1.1 1.1,-1.2 1.2,-1.1 1.1,-1.1 1.2,-1.1" stroke="#303000" stroke-width="1.5" opacity="0.4"/>
<path d="M123.1,493.9l1.5,.3 1.5,.6 1.2,1.1 1.2,1.1 .7,1.4 .6,1.5" stroke="#786000" stroke-width="1.0" opacity="0.4"/>
<path d="M69.5,493.1l1.2,-1 1.2,-1.1 1.2,-1 1.2,-1 1.3,-1.1 1.2,-1" stroke="#a87800" stroke-width="1.0" opacity="0.8"/>
<path d="M81.2,444.4l.2,1.5 .2,1.6 .2,1.6 .2,1.6M104.6,529.2l.4,-1.6 .3,-1.6 .4,-1.5 .5,-1.5 .4,-1.6 .6,-1.5 .5,-1.5 .7,-1.5M95.3,407.8l.1,-1.6 0,-1.6 .1,-1.6 0,-1.6M121.1,529.5l0,-1.6 .1,-1.6 .2,-1.6 .3,-1.6 .3,-1.5 .3,-1.6M77.8,432.8l.3,1.6 .3,1.6 .2,1.5 .3,1.6 .2,1.6 .2,1.6" stroke="#009000" stroke-width="1.5" opacity="0.6"/>
<path d="M66.8,441.6l.8,1.3 .9,1.3M151.5,477.7l1.6,.2 1.6,.3" stroke="#180060" stroke-width="1.0" opacity="0.6"/>
<path d="M125.9,408.1l.8,-1.4 .7,-1.4 .7,-1.5 .6,-1.4" stroke="#186000" stroke-width="1.0" opacity="0.4"/>
<path d="M59.4,532.7l1,-1.3 .9,-1.3 .9,-1.3 .9,-1.4" stroke="#306018" stroke-width="1.5" opacity="0.6"/>
<path d="M69.4,417.8l1.1,1.1 1,1.2 1.1,1.2 1,1.3" stroke="#609018" stroke-width="1.0" opacity="0.6"/>
<path d="M111.2,507.4l.8,-1.3 .8,-1.4M87.2,522.9l.1,-1.6 .1,-1.6" stroke="#183090" stroke-width="1.5" opacity="0.6"/>
<path d="M126.4,537.6l.2,1.6 .1,1.5 .2,1.6 .2,1.6M111.6,528.9l.2,-1.6 .3,-1.6 .4,-1.5 .5,-1.5 .6,-1.5 .6,-1.5" stroke="#00a818" stroke-width="1.0" opacity="0.6"/>
<path d="M140.6,546.3l.5,1.6 .6,1.4 .6,1.5 .8,1.4" stroke="#184800" stroke-width="1.5" opacity="0.4"/>
<path d="M98.1,465.8l1.5,.4 1.6,.4" stroke="#001848" stroke-width="1.0" opacity="0.4"/>
<path d="M89.7,480.9l.5,1.6 .6,1.4 1,1.4 .9,1.3 1.3,.9 1.5,.4" stroke="#60c018" stroke-width="1.5" opacity="0.4"/>
<path d="M73,487.9l1.2,-1 1.2,-1.1" stroke="#a87800" stroke-width="1.5" opacity="0.8"/>
<path d="M55.7,508.4l1.1,-1.2 1.2,-1.1 1.2,-1 1.3,-1 1.2,-1 1.3,-.9" stroke="#603000" stroke-width="1.5" opacity="0.4"/>
<path d="M96.5,509.8l.4,-1.5 .6,-1.5 .8,-1.4 .8,-1.4 .9,-1.3 1.1,-1.2" stroke="#309000" stroke-width="1.0" opacity="0.8"/>
<path d="M62,443.4l1.2,1 1.2,1.1 1.2,1.1 1.1,1.1" stroke="#604818" stroke-width="1.0" opacity="0.6"/>
<path d="M59.4,462.4l1.4,.8 1.3,.9M66.5,501.1l1.4,-.8 1.4,-.8 1.4,-.9 1.3,-.8" stroke="#903018" stroke-width="1.0" opacity="0.4"/>
<path d="M76.1,414l1.3,1 1.1,1.1 1.1,1.2 1,1.2" stroke="#909018" stroke-width="1.0" opacity="0.4"/>
<path d="M54.8,509.5l1.1,-1.2 1.1,-1.1 1.1,-1.1 1.2,-1.1" stroke="#484800" stroke-width="1.0" opacity="0.8"/>
<path d="M101.1,507.4l.8,-1.3 .9,-1.3 1,-1.3 1,-1.3" stroke="#60a818" stroke-width="1.0" opacity="0.6"/>
<path d="M62.5,494l1.2,-1.1 1.1,-1.1 1.1,-1.1 1.2,-1.1 1.1,-1.1 1.2,-1.1" stroke="#a89018" stroke-width="1.0" opacity="0.4"/>
<path d="M127.9,526.6l0,1.6 0,1.6" stroke="#1800d8" stroke-width="1.0" opacity="0.6"/>
<path d="M127.3,427.3l.9,-1.3 .9,-1.3 .8,-1.4 .8,-1.4" stroke="#48d818" stroke-width="1.0" opacity="0.4"/>
<path d="M77.5,527.8l.3,-1.6 .3,-1.5" stroke="#001890" stroke-width="1.5" opacity="0.4"/>
<path d="M87.5,550.8l.2,-1.6 .3,-1.6 .2,-1.6 .3,-1.6 .3,-1.5 .3,-1.6M88.6,554.5l.1,-1.6 .2,-1.6 .1,-1.6 .2,-1.5 .1,-1.6 .3,-1.6M144.3,539.1l.4,1.5 .3,1.6M130.7,538l0,1.6 0,1.6 0,1.6 .1,1.5M99.2,544.2l.1,-1.6 .2,-1.6 .2,-1.6 .3,-1.6" stroke="#006000" stroke-width="1.0" opacity="0.8"/>
<path d="M96.4,396.3l.1,1.6 .1,1.6M64.9,501.8l1.4,-.9 1.3,-.8M126.8,479.1l1.3,-1 1.3,-.9" stroke="#000060" stroke-width="1.0" opacity="0.4"/>
<path d="M57.7,519.6l1.2,-1.1 1.2,-1 1.3,-1.1 1.2,-.9" stroke="#303000" stroke-width="1.0" opacity="0.6"/>
<path d="M123.5,438.6l.9,-1.3 .8,-1.4 .9,-1.4 .8,-1.4M65.4,532.1l.5,-1.5 .6,-1.5" stroke="#187800" stroke-width="1.0" opacity="0.6"/>
<path d="M129.6,427.7l.6,-1.5 .7,-1.5 .6,-1.4 .6,-1.5 .7,-1.5 .6,-1.4" stroke="#18c018" stroke-width="1.0" opacity="0.4"/>
<path d="M157.6,506l1.3,1 1.3,.9" stroke="#a84800" stroke-width="1.5" opacity="0.6"/>
<path d="M115.4,529.8l.1,-1.6 0,-1.6" stroke="#3018d8" stroke-width="1.0" opacity="0.6"/>
<path d="M62,422.7l.8,1.3 .8,1.5 .6,1.4 .7,1.5 .7,1.4 .6,1.5M66.3,530.3l.6,-1.5 .6,-1.5 .7,-1.4 .7,-1.4 .8,-1.4 .9,-1.4" stroke="#184800" stroke-width="1.5" opacity="0.6"/>
<path d="M106.1,523.2l.5,-1.5 .5,-1.5" stroke="#18a800" stroke-width="1.5" opacity="0.4"/>
<path d="M79.8,524.5l.3,-1.6 .4,-1.6" stroke="#0018a8" stroke-width="1.0" opacity="0.8"/>
<path d="M154.6,527.3l1.4,.8 1.5,.7" stroke="#781818" stroke-width="1.5" opacity="0.8"/>
<path d="M47.3,489.7l1.6,.1 1.6,.1M51.8,510.6l.9,-1.3 1,-1.3M132.5,543.8l.1,1.6 .1,1.6M143.1,474.3l1.4,.7 1.5,.8M122.6,410.3l.8,-1.4 .9,-1.4" stroke="#181860" stroke-width="1.0" opacity="0.6"/>
<path d="M139.3,500.3l.6,1.5 .6,1.4" stroke="#3000d8" stroke-width="1.5" opacity="0.8"/>
<path d="M95.2,458.9l1.5,.7 1.4,.7" stroke="#901818" stroke-width="1.5" opacity="0.6"/>
<path d="M70.9,523.2l.9,-1.4 .9,-1.3M92.6,445.8l.5,1.5 .7,1.5 .9,1.3 .9,1.3 1.2,1.1 1.4,.8M78.5,421.1l.8,1.3 .9,1.4" stroke="#307818" stroke-width="1.0" opacity="0.4"/>
<path d="M69,443.4l.8,1.4 .8,1.4 .8,1.3 .8,1.4" stroke="#186018" stroke-width="1.5" opacity="0.6"/>
<path d="M50,475l1.3,.9 1.4,.8 1.4,.8 1.4,.7" stroke="#903018" stroke-width="1.5" opacity="0.6"/>
<path d="M119.8,444l1.6,-.4 1.5,-.3" stroke="#000048" stroke-width="1.5" opacity="0.6"/>
<path d="M60.9,446.5l1.4,.9 1.3,1 1.2,1 1.3,1 1.2,1 1.2,1.1" stroke="#784800" stroke-width="1.5" opacity="0.6"/>
<path d="M81.1,532.4l.1,-1.6 .2,-1.6M155.4,521.9l1.4,.6 1.5,.6" stroke="#180090" stroke-width="1.0" opacity="0.6"/>
<path d="M137.1,422.9l.4,-1.5 .4,-1.6" stroke="#001860" stroke-width="1.5" opacity="0.6"/>
<path d="M78.9,411l1.1,1.2 1,1.2M140.1,443l.3,-1.6 .3,-1.6" stroke="#181890" stroke-width="1.0" opacity="0.6"/>
<path d="M109.3,532.5l.1,-1.6 .1,-1.6 .2,-1.6 .3,-1.6 .3,-1.5 .4,-1.6" stroke="#00c000" stroke-width="1.5" opacity="0.4"/>
<path d="M70,443.5l.8,1.4 .7,1.4M142.4,542.7l.4,1.6 .4,1.5M164.6,517l1.3,.9 1.3,.9" stroke="#001860" stroke-width="1.0" opacity="0.6"/>
<path d="M97.5,424.7l1.1,1.1 1.2,1.1 1.1,1.1 1.2,1.1" stroke="#606000" stroke-width="1.0" opacity="0.8"/>
<path d="M74.8,419.5l1.1,1.2 .9,1.3 .8,1.4 .9,1.4 .7,1.4 .6,1.5" stroke="#309018" stroke-width="1.0" opacity="0.8"/>
<path d="M153.7,473.1l1.6,-.2 1.5,-.4 1.6,-.3 1.5,-.5M120.9,492.5l1.6,.3 1.5,.2M143.9,503.6l1.5,.4 1.6,.3M140.1,466l.2,1.6 1.5,.3 1.6,.3 1.6,.2M157.5,525.2l1.5,.6 1.5,.5 1.5,.6 1.5,.5" stroke="#780000" stroke-width="1.0" opacity="0.4"/>
<path d="M73.7,448.3l.7,1.4 .8,1.4 .7,1.4 .8,1.4" stroke="#30a800" stroke-width="1.5" opacity="0.8"/>
<path d="M149.8,496.9l1.3,.9 1.3,.9" stroke="#603000" stroke-width="1.5" opacity="0.6"/>
<path d="M72.5,503.5l1.4,-.6 1.5,-.8 1.4,-.7 1.3,-.8" stroke="#901800" stroke-width="1.5" opacity="0.4"/>
<path d="M57.9,471.6l1.5,.6 1.4,.6" stroke="#1800a8" stroke-width="1.0" opacity="0.4"/>
<path d="M72.5,414.2l1.3,.8 1.4,.9" stroke="#783000" stroke-width="1.0" opacity="0.6"/>
<path d="M57.8,531.4l1,-1.1 1,-1.3 1,-1.3 1,-1.2 .9,-1.3 1,-1.3" stroke="#306018" stroke-width="1.0" opacity="0.4"/>
<path d="M107.8,453l1.6,.2 1.5,.3M148.1,424.6l.1,1.6 .2,1.5M147.9,445.3l1.3,-.8 1.4,-.8M102.8,474.6l1.5,.3 1.6,.4" stroke="#180048" stroke-width="1.0" opacity="0.6"/>
<path d="M78.6,432.6l.3,1.5 .2,1.6 .3,1.6 .2,1.6 .2,1.5 .2,1.6M112.5,528.6l.2,-1.6 .2,-1.5" stroke="#00a818" stroke-width="1.5" opacity="0.8"/>
<path d="M57.1,458.4l1.4,.8 1.3,.9" stroke="#603018" stroke-width="1.0" opacity="0.8"/>
<path d="M157.1,503.3l1.3,.9 1.2,1" stroke="#181860" stroke-width="1.5" opacity="0.8"/>
<path d="M119.9,525.6l.3,-1.6 .3,-1.6M134.6,519.1l.3,1.6 .2,1.6 .3,1.6 .1,1.6 .2,1.5 .2,1.6 .1,1.6 0,1.6" stroke="#00d800" stroke-width="1.5" opacity="0.6"/>
<path d="M78.3,529.7l.2,-1.6 .3,-1.6M78.7,527.5l.2,-1.6 .4,-1.5 .3,-1.6 .4,-1.6 .3,-1.5 .4,-1.6" stroke="#007818" stroke-width="1.0" opacity="0.6"/>
<path d="M69.4,490.1l1.1,-1.1 1.2,-1.1M117.6,416.9l1.2,-1.1 1.2,-1 1.1,-1.2 1.1,-1.1 1.1,-1.2 1,-1.3" stroke="#787800" stroke-width="1.0" opacity="0.6"/>
<path d="M48.5,468.9l1.3,1 1.3,1 1.2,1 1.3,.9 1.3,.9 1.4,.8" stroke="#a84818" stroke-width="1.5" opacity="0.4"/>
<path d="M124.5,483.5l1.6,-.3 1.5,-.3" stroke="#001860" stroke-width="1.5" opacity="0.4"/>
<path d="M63.3,500.5l1.3,-1 1.3,-1 1.3,-.9 1.3,-1 1.3,-.9 1.2,-1" stroke="#784818" stroke-width="1.0" opacity="0.6"/>
<path d="M72.8,447.6l.8,1.4 .7,1.4M156.1,490.4l1.5,.7 1.4,.7M74.8,427.5l.5,1.5 .5,1.5M148,520.5l1.5,.7 1.4,.6" stroke="#001878" stroke-width="1.0" opacity="0.4"/>
<path d="M84,429.2l.4,1.6 .4,1.5" stroke="#0018d8" stroke-width="1.5" opacity="0.6"/>
<path d="M70.8,501.8l1.5,-.7 1.5,-.7M170.1,463.4l1.5,-.6 1.5,-.5M155,448.5l1.6,-.1 1.6,-.1" stroke="#000060" stroke-width="1.5" opacity="0.6"/>
<path d="M64.3,489.8l1.2,-1.1 1.1,-1.1 1.2,-1.1 1.2,-1.1 1.2,-1 1.2,-1" stroke="#907818" stroke-width="1.0" opacity="0.6"/>
<path d="M92.1,538.9l.5,-1.5 .5,-1.5M89.9,528.7l.2,-1.5 .2,-1.6 .2,-1.6 .1,-1.6M139.8,466.8l.8,-1.4 .1,1.6 .1,1.6 .9,1.3M134.8,543.3l0,-1.6 .1,1.6 0,1.6 .1,1.6 .1,1.6 .2,1.6M107.4,538.1l.3,1.6 .3,1.5 .3,1.6 .4,1.6" stroke="#009000" stroke-width="1.0" opacity="0.4"/>
<path d="M140.2,479.9l.7,1.5 .7,1.4" stroke="#301890" stroke-width="1.0" opacity="0.4"/>
<path d="M68.5,461.4l1.4,.7 1.5,.7 1.4,.7 1.5,.6" stroke="#781818" stroke-width="1.0" opacity="0.4"/>
<path d="M56.7,467.6l1.4,.9 1.4,.8 1.4,.7 1.4,.7" stroke="#c03018" stroke-width="1.0" opacity="0.4"/>
<path d="M123.8,484.4l1.6,-.3 1.5,-.3 1.6,-.4 .4,-1.5" stroke="#780018" stroke-width="1.0" opacity="0.6"/>
<path d="M48.6,489l1.6,.1 1.6,.1M144.7,451.9l1.5,-.7 1.5,-.7M112.2,422.5l1.3,-.9 1.3,-.9" stroke="#000048" stroke-width="1.0" opacity="0.4"/>
<path d="M99.4,422.6l1,1.2 1,1.3 1,1.2 1,1.2" stroke="#306018" stroke-width="1.0" opacity="0.6"/>
<path d="M71.8,415.2l1.3,.9 1.3,.9" stroke="#a86018" stroke-width="1.5" opacity="0.6"/>
<path d="M137.3,409.9l.9,-1.3 .8,-1.3" stroke="#183000" stroke-width="1.5" opacity="0.4"/>
<path d="M86,474l.1,1.6 .1,1.6" stroke="#1830c0" stroke-width="1.0" opacity="0.6"/>
<path d="M139.8,504.4l1.4,.7 1.5,.7M82.6,445.5l.2,1.6 .1,1.6" stroke="#1830a8" stroke-width="1.5" opacity="0.6"/>
<path d="M52.4,529.9l1.3,-.9 1.2,-1 1.2,-1.1 1.2,-1 1.2,-1.2 1.1,-1.1" stroke="#484800" stroke-width="1.5" opacity="0.6"/>
<path d="M123.8,484.8l1.5,-.3 1.6,-.2" stroke="#780018" stroke-width="1.0" opacity="0.4"/>
<path d="M111.5,526l.5,-1.6 .5,-1.5 .7,-1.5 .6,-1.4 .7,-1.4 .9,-1.4" stroke="#30f018" stroke-width="1.0" opacity="0.6"/>
<path d="M51.4,469.6l1.3,.9 1.3,1 1.4,.8 1.3,.9 1.4,.7 1.5,.6" stroke="#783018" stroke-width="1.0" opacity="0.6"/>
<path d="M98.8,434.9l1.4,.8 1.4,.8" stroke="#481800" stroke-width="1.0" opacity="0.8"/>
<path d="M51.4,454.4l1.4,.7 1.5,.7 1.4,.7 1.4,.8 1.4,.8 1.3,.8M95.8,458.7l1.4,.6 1.5,.6M99.9,437.9l1.4,.7 1.5,.7" stroke="#781800" stroke-width="1.5" opacity="0.4"/>
<path d="M57.1,442.4l1.4,.7 1.4,.8 1.4,.8 1.3,.9" stroke="#601800" stroke-width="1.5" opacity="0.8"/>
<path d="M69.6,413l1.3,.8 1.4,.9 1.3,.8 1.3,1" stroke="#a84800" stroke-width="1.5" opacity="0.4"/>
<path d="M141,506.5l1.6,.2 1.6,.2" stroke="#d80018" stroke-width="1.0" opacity="0.6"/>
<path d="M60.5,432.3l1,1.3 .9,1.3 .9,1.3 .9,1.3 .9,1.4 .9,1.3" stroke="#304818" stroke-width="1.0" opacity="0.4"/>
<path d="M70.7,415.9l1.3,1 1.2,1.1 1.2,1 1.1,1.2" stroke="#786018" stroke-width="1.0" opacity="0.4"/>
<path d="M56.3,463.1l1.3,.9 1.3,.9" stroke="#c06018" stroke-width="1.0" opacity="0.6"/>
<path d="M78.1,405.7l1.1,1.1 1,1.3 1,1.2 .9,1.4" stroke="#489000" stroke-width="1.0" opacity="0.6"/>
<path d="M114.2,521.4l.8,-1.4 .7,-1.4" stroke="#30c000" stroke-width="1.0" opacity="0.6"/>
<path d="M66.1,438.9l.8,1.3 .8,1.4M62.1,426.6l.7,1.4 .7,1.5 .7,1.4 .7,1.5 .7,1.4 .6,1.5" stroke="#186000" stroke-width="1.5" opacity="0.8"/>
<path d="M97.2,438.1l1.3,.9 1.4,.9" stroke="#603000" stroke-width="1.0" opacity="0.8"/>
<path d="M108.1,431.2l1.4,-.7 1.4,-.8 1.4,-.7 1.4,-.7 1.5,-.8 1.4,-.7M106,429.4l1.3,-.8 1.4,-.9 1.3,-.9 1.3,-.9" stroke="#481800" stroke-width="1.5" opacity="0.6"/>
<path d="M141.7,495.3l1.2,1.1 1.3,.9 1.3,.9 1.4,.8" stroke="#783000" stroke-width="1.5" opacity="0.6"/>
<path d="M54.1,525.6l1.2,-1 1.1,-1.1 1.2,-1.1 1.1,-1.1" stroke="#484800" stroke-width="1.5" opacity="0.8"/>
<path d="M130.2,486l.1,1.6 .2,1.6" stroke="#301890" stroke-width="1.0" opacity="0.8"/>
<path d="M90,422.2l.7,1.4 .9,1.4 .8,1.4 1,1.3" stroke="#48a818" stroke-width="1.5" opacity="0.4"/>
<path d="M85.4,412.9l.6,1.5 .6,1.5 .6,1.5 .6,1.5M89.4,470.8l.5,1.5 .6,1.5 .5,1.5 .8,1.4" stroke="#18f018" stroke-width="1.0" opacity="0.4"/>
<path d="M85.5,430.7l.3,1.5 .3,1.6 .3,1.6 .3,1.6 .3,1.5 .2,1.6" stroke="#00d800" stroke-width="1.5" opacity="0.4"/>
<path d="M143.6,486.2l1,1.2 1.1,1.2 1.1,1.2 1.1,1.1" stroke="#789018" stroke-width="1.5" opacity="0.4"/>
<path d="M106.8,513.4l.8,-1.4 .9,-1.4 .9,-1.3 .9,-1.3 .9,-1.3 .9,-1.4" stroke="#60d800" stroke-width="1.0" opacity="0.6"/>
<path d="M71.9,522.2l1,-1.3 1,-1.2 1,-1.3 1,-1.2 1,-1.3 .9,-1.2" stroke="#486018" stroke-width="1.0" opacity="0.8"/>
<path d="M105.6,496.7l1.2,-1 1.2,-1.1 1.2,-1.1 1.2,-1M47.2,504.8l1.1,-1.2 1.1,-1.1 1.2,-1.1 1.1,-1.1" stroke="#484800" stroke-width="1.0" opacity="0.6"/>
<path d="M141,473.7l1.1,1.1 1.1,1.2" stroke="#181890" stroke-width="1.5" opacity="0.6"/>
<path d="M88.4,429.2l.5,1.5 .5,1.5" stroke="#0018a8" stroke-width="1.0" opacity="0.6"/>
<path d="M109.7,527.4l.3,-1.6 .5,-1.5 .5,-1.5 .5,-1.6 .7,-1.4 .7,-1.4" stroke="#18c018" stroke-width="1.5" opacity="0.4"/>
<path d="M123.8,437.9l.8,-1.3 .9,-1.4 .8,-1.4 .8,-1.4 .7,-1.4 .8,-1.4" stroke="#30a800" stroke-width="1.5" opacity="0.4"/>
<path d="M147.5,522.7l1.4,.9 1.3,.9" stroke="#1800a8" stroke-width="1.5" opacity="0.6"/>
<path d="M98.8,513.8l.2,-1.6 .4,-1.5 .4,-1.6 .5,-1.5 .7,-1.5 .7,-1.4" stroke="#18a818" stroke-width="1.0" opacity="0.4"/>
<path d="M70.8,415.2l1.3,.9 1.2,1 1.3,1 1.2,1.1" stroke="#604800" stroke-width="1.5" opacity="0.4"/>
<path d="M73.2,468.4l1.6,.2 1.6,.2 1.6,.3 1.5,.4 .5,1.5 0,1.6" stroke="#a80000" stroke-width="1.0" opacity="0.8"/>
<path d="M99.6,426.6l1.2,1.1 1.2,1 1.2,1.1 1.2,1" stroke="#604800" stroke-width="1.0" opacity="0.6"/>
<path d="M94.9,523l.1,-1.6 .1,-1.6 .1,-1.6 0,-1.6M84.2,436.7l.2,1.6 .2,1.6 .2,1.5 .2,1.6 .1,1.6 .2,1.6" stroke="#00f018" stroke-width="1.0" opacity="0.4"/>
<path d="M124.1,420.9l1.3,-.9 1.3,-.9" stroke="#183090" stroke-width="1.0" opacity="0.6"/>
<path d="M104.4,498.7l1.2,-1 1.2,-1.1 1.2,-1.1 1.1,-1.2 1.1,-1.2 1.2,1" stroke="#484818" stroke-width="1.5" opacity="0.4"/>
<path d="M56.4,492.7l1.4,-.9 1.3,-.8 1.3,-1 1.3,-.9 1.3,-1 1.3,-.9" stroke="#904818" stroke-width="1.0" opacity="0.4"/>
<path d="M122.2,423.2l1.4,-.8 1.4,-.7" stroke="#901818" stroke-width="1.5" opacity="0.8"/>
<path d="M136.1,494.7l.2,1.6 .3,1.6" stroke="#00f000" stroke-width="1.0" opacity="0.4"/>
<path d="M164,513.2l1.2,1.1 1.3,1 1.2,1.1 1.2,1" stroke="#786000" stroke-width="1.0" opacity="0.6"/>
<path d="M91.9,411.1l.4,1.6 .4,1.5" stroke="#0030a8" stroke-width="1.0" opacity="0.4"/>
<path d="M149.4,467.8l1.6,-.2 1.5,-.2M141.4,436.4l.1,-1.6 .1,-1.6" stroke="#001848" stroke-width="1.0" opacity="0.6"/>
<path d="M75.5,493.2l1.2,-1 1.2,-1.2 1.1,-1.1 .9,-1.3M75.2,413.5l1.3,.9 1.2,1.1 1.1,1.2 1,1.1 1,1.3 .9,1.3" stroke="#a8c000" stroke-width="1.5" opacity="0.6"/>
<path d="M164.9,491.4l1.6,0 1.5,0" stroke="#780018" stroke-width="1.5" opacity="0.4"/>
<path d="M93.7,518.7l.1,-1.6 0,-1.6M137.1,474l.4,1.6 .3,1.6" stroke="#00a800" stroke-width="1.5" opacity="0.6"/>
<path d="M98.1,506.2l.8,-1.4 .9,-1.3" stroke="#309000" stroke-width="1.0" opacity="0.4"/>
<path d="M91.9,532.5l.4,-1.5 .4,-1.6" stroke="#1800a8" stroke-width="1.0" opacity="0.6"/>
<path d="M60.6,517.6l1.3,-1 1.3,-.8 1.4,-.9 1.3,-.8" stroke="#601800" stroke-width="1.5" opacity="0.4"/>
<path d="M61.4,525.5l1,-1.3 1,-1.2 1.1,-1.1 1.1,-1.2 1.1,-1.1 1.2,-1.1" stroke="#486000" stroke-width="1.0" opacity="0.6"/>
<path d="M142,513.8l1.5,.3 1.6,.4" stroke="#d80000" stroke-width="1.0" opacity="0.4"/>
<path d="M153.3,438.4l1.2,-1 1.2,-1 1.2,-1 1.3,-1.1" stroke="#483000" stroke-width="1.0" opacity="0.8"/>
<path d="M122.8,504.8l.5,1.5 .4,1.5" stroke="#1800d8" stroke-width="1.5" opacity="0.6"/>
<path d="M138.3,504.3l.3,1.5 .4,1.6 .7,1.4 .6,1.5 1,1.2 1.5,.6" stroke="#189018" stroke-width="1.5" opacity="0.4"/>
<path d="M83.8,435.2l.2,1.5 .2,1.6" stroke="#181890" stroke-width="1.0" opacity="0.8"/>
<path d="M144.2,503.3l1.5,.4 1.6,.4 1.5,.3 1.6,.5" stroke="#c00018" stroke-width="1.5" opacity="0.4"/>
<path d="M139.5,504.9l.8,1.3 1.6,.4 1.5,.3 1.6,.2" stroke="#d80000" stroke-width="1.5" opacity="0.6"/>
<path d="M117.5,417.9l1.3,-1 1.2,-1 1.2,-1.1 1.2,-1 1.2,-1.1 1.1,-1.2" stroke="#604800" stroke-width="1.0" opacity="0.4"/>
<path d="M135.8,431.7l.2,-1.6 .2,-1.6 .2,-1.6 .2,-1.6" stroke="#009018" stroke-width="1.5" opacity="0.8"/>
<path d="M86.2,438.8l.2,1.6 .2,1.6" stroke="#0030d8" stroke-width="1.0" opacity="0.4"/>
<path d="M144.6,511.7l1.6,.1 1.6,.2 1.6,.2 1.6,.2" stroke="#c00000" stroke-width="1.5" opacity="0.6"/>
<path d="M75.7,507.4l1.3,-.9 1.1,-1.2 1.2,-1.1 .9,-1.3" stroke="#606018" stroke-width="1.5" opacity="0.4"/>
<path d="M148,519.4l1.5,.5 1.4,.6 1.5,.6 1.5,.6 1.5,.7 1.4,.6" stroke="#781800" stroke-width="1.0" opacity="0.8"/>
<path d="M90.3,424.3l.8,1.4 .9,1.3 1,1.3 1,1.2 1,1.2 1.1,1.2" stroke="#609018" stroke-width="1.0" opacity="0.8"/>
<path d="M92.8,426.8l1,1.2 1.2,1.1 1.1,1.1 1.2,1.1" stroke="#909018" stroke-width="1.5" opacity="0.4"/>
<path d="M171,491.1l1.5,-.3 1.6,-.4 1.5,-.4 1.6,-.4M61.4,467.9l1.5,.6 1.5,.5 1.6,.4 1.5,.4 1.6,.2 1.6,.2" stroke="#900018" stroke-width="1.0" opacity="0.6"/>
<path d="M163.7,501.4l1.3,.9 1.3,1 1.2,1 1.3,1" stroke="#a86000" stroke-width="1.5" opacity="0.4"/>
<path d="M79.9,453.9l.5,1.5 .5,1.6 .4,1.5 .5,1.5 .4,1.6 .5,1.5 .3,1.6 .4,1.5" stroke="#009018" stroke-width="1.0" opacity="0.6"/>
<path d="M113.9,495l1.3,.9 1.3,.9" stroke="#783000" stroke-width="1.5" opacity="0.8"/>
<path d="M86.4,406.2l.4,1.5 .4,1.6" stroke="#1818a8" stroke-width="1.0" opacity="0.4"/>
<path d="M127.5,496.2l.8,1.4 .7,1.4" stroke="#0000d8" stroke-width="1.0" opacity="0.4"/>
<path d="M86.6,407.9l.4,1.5 .5,1.5 .5,1.6 .5,1.5 .5,1.5 .6,1.5" stroke="#18c000" stroke-width="1.0" opacity="0.6"/>
<path d="M143.4,477.7l1.2,1 1.3,1" stroke="#906000" stroke-width="1.5" opacity="0.8"/>
<path d="M79.5,511.1l.7,-1.5 .7,-1.4" stroke="#3018a8" stroke-width="1.0" opacity="0.8"/>
<path d="M78.3,541.5l.3,-1.6 .3,-1.5 .3,-1.6 .2,-1.6" stroke="#007800" stroke-width="1.5" opacity="0.8"/>
<path d="M110.6,475.3l1.6,-.2 1.6,-.2" stroke="#300000" stroke-width="1.5" opacity="0.6"/>
<path d="M73.8,469.7l1.6,0 1.6,.1 1.6,0 1.5,.6" stroke="#c00018" stroke-width="1.5" opacity="0.8"/>
<path d="M68.4,463.1l1.4,.7 1.5,.5 1.5,.5 1.6,.6 1.5,.5 1.5,.5" stroke="#c01800" stroke-width="1.0" opacity="0.6"/>
<path d="M74.9,453l.8,1.4 .9,1.3" stroke="#307800" stroke-width="1.0" opacity="0.8"/>
<path d="M108.2,519.1l.7,-1.4 .7,-1.4" stroke="#1818c0" stroke-width="1.0" opacity="0.6"/>
<path d="M85.4,425.6l.5,1.6 .4,1.5 .5,1.5 .4,1.6" stroke="#00a818" stroke-width="1.5" opacity="0.4"/>
<path d="M68.8,486.8l1.2,-1.1 1.2,-1.1" stroke="#a87818" stroke-width="1.0" opacity="0.6"/>
<path d="M77.1,419.4l1,1.3 .8,1.3 .9,1.4 .7,1.4" stroke="#309000" stroke-width="1.5" opacity="0.6"/>
<path d="M145.7,489.9l1.2,1.2 1.1,1 1.2,1.1 1.3,1 1.2,1 1.3,1" stroke="#906018" stroke-width="1.0" opacity="0.6"/>
<path d="M114.7,529.6l.2,1.6 .1,1.6" stroke="#0000c0" stroke-width="1.0" opacity="0.4"/>
<path d="M154.5,533.2l1.3,.9 1.4,.8 1.4,.8 1.4,.7" stroke="#783018" stroke-width="1.0" opacity="0.4"/>
<path d="M71,517.7l1.3,-1 1.3,-1" stroke="#001878" stroke-width="1.5" opacity="0.8"/>
<path d="M111.3,523.3l.6,-1.5 .6,-1.4" stroke="#1848f0" stroke-width="1.5" opacity="0.8"/>
<path d="M54.9,517.9l1.1,-1.2 1.2,-1.1" stroke="#303000" stroke-width="1.0" opacity="0.8"/>
<path d="M62.8,521.8l1.2,-1.1 1.2,-1 1.2,-1 1.3,-1 1.3,-1 1.3,-.8" stroke="#483018" stroke-width="1.5" opacity="0.6"/>
<path d="M99.6,526.4l.4,-1.5 .3,-1.6" stroke="#1848f0" stroke-width="1.0" opacity="0.4"/>
<path d="M58.7,499.6l1.2,-1.1 1.2,-1 1.2,-1.1 1.2,-1.1" stroke="#786018" stroke-width="1.5" opacity="0.6"/>
<path d="M123.4,427.5l1.3,-.9 1.3,-.9" stroke="#783018" stroke-width="1.5" opacity="0.4"/>
<path d="M80,518.3l.5,-1.5 .5,-1.5" stroke="#000090" stroke-width="1.0" opacity="0.6"/>
<path d="M61,470.5l1.6,.5 1.5,.3 1.6,.4 1.6,.2" stroke="#c00000" stroke-width="1.5" opacity="0.4"/>
<path d="M139.9,455.6l.8,-1.4 .9,-1.3 .9,-1.3 1.1,-1.2" stroke="#487818" stroke-width="1.5" opacity="0.4"/>
<path d="M130.1,419.3l.9,-1.3 .8,-1.4" stroke="#001890" stroke-width="1.5" opacity="0.8"/>
<path d="M128.5,426.3l.8,-1.3 .8,-1.4 .7,-1.5 .8,-1.4 .7,-1.4 .7,-1.4" stroke="#187818" stroke-width="1.5" opacity="0.6"/>
<path d="M122,535.5l.4,1.6 .4,1.5 .3,1.6 .4,1.5" stroke="#007818" stroke-width="1.5" opacity="0.8"/>
<path d="M73.1,499.7l1.4,-.7 1.4,-.9 1.3,-.9 1.2,-1 1.1,-1.2 .9,-1.4" stroke="#904800" stroke-width="1.5" opacity="0.6"/>
<path d="M127.3,425.7l1,-1.3 1,-1.2" stroke="#60c000" stroke-width="1.5" opacity="0.6"/>
<path d="M134.5,411.6l.8,-1.3 .8,-1.4" stroke="#186000" stroke-width="1.5" opacity="0.4"/>
<path d="M163,514.7l1.3,1 1.2,1M73.5,478.4l1.4,-.8 1.4,-.7 1.4,-.9 1.3,-.9 .9,-1.3 .4,-1.6" stroke="#904818" stroke-width="1.0" opacity="0.6"/>
<path d="M110.6,542.4l.5,1.5 .5,1.6 .5,1.5 .4,1.5" stroke="#006000" stroke-width="1.5" opacity="0.8"/>
<path d="M160.4,442.9l1.6,-.2 1.6,-.2" stroke="#180030" stroke-width="1.0" opacity="0.4"/>
<path d="M146.7,465l1.6,-.2 1.6,-.2 1.6,-.2 1.5,-.2" stroke="#300000" stroke-width="1.5" opacity="0.8"/>
<path d="M141.8,447.7l.8,-1.4 .8,-1.4 .9,-1.3 .9,-1.3 .8,-1.4 .9,-1.3" stroke="#184800" stroke-width="1.5" opacity="0.8"/>
<path d="M73.6,490.4l1.2,-1 1.2,-1.1 1.2,-1.1 1.1,-1.1 1,-1.2 .8,-1.4" stroke="#909000" stroke-width="1.0" opacity="0.4"/>
<path d="M64.8,493.3l1.1,-1.1 1.2,-1.1 1.1,-1.2 1.1,-1.1" stroke="#909018" stroke-width="1.0" opacity="0.6"/>
<path d="M90.9,418.9l.8,1.4 .8,1.4 1,1.3 .9,1.3 1,1.2 1.1,1.2" stroke="#48a818" stroke-width="1.0" opacity="0.6"/>
<path d="M89.8,484l.4,1.6 .6,1.5 .9,1.3 .9,1.3 1.4,.8 1.6,.1" stroke="#489018" stroke-width="1.0" opacity="0.6"/>
</g></defs>
<g clip-path="url(#cA)">
<rect x="30" y="25" width="160" height="155" fill="#070907"/>
<use href="#sA" filter="url(#bl3)" opacity="0.85"/>
<use href="#sA" filter="url(#bl06)"/>

<g filter="url(#bl3)">
<path d="M62,112 L96,100 L102,140 L78,150Z" fill="#4a4010" opacity="0.55"/>
<path d="M156,112 L122,100 L116,140 L140,150Z" fill="#3e4010" opacity="0.55"/>
<ellipse cx="109" cy="122" rx="9" ry="14" fill="#000" opacity="0.5"/>
</g>
<g filter="url(#bl2)">
<ellipse cx="108" cy="91" rx="15" ry="5" fill="#c02020" opacity="0.9"/>
<ellipse cx="109" cy="101" rx="8.5" ry="3" fill="#2030f0"/>
<ellipse cx="89" cy="99" rx="3.5" ry="8" fill="#40a040" opacity="0.8"/>
<ellipse cx="123" cy="100" rx="3" ry="7" fill="#40a040" opacity="0.7"/>
<ellipse cx="92" cy="101" rx="3" ry="4" fill="#c0c0c0" opacity="0.55"/>
<ellipse cx="122" cy="99" rx="3" ry="4" fill="#c0c0c0" opacity="0.5"/>
<ellipse cx="102" cy="112" rx="3" ry="5" fill="#3030c0" opacity="0.7"/>
<ellipse cx="116" cy="114" rx="3" ry="5" fill="#3030c0" opacity="0.7"/>
<path d="M108,104 L108,125" stroke="#801818" stroke-width="3" fill="none" opacity="0.8"/>
<path d="M87,80 L88,88" stroke="#40c040" stroke-width="3" fill="none" opacity="0.8"/>
<path d="M136,48 L146,72" stroke="#40b040" stroke-width="3" fill="none" opacity="0.6"/>
</g>

</g>
<g opacity="0.9" filter="url(#bl04)"><rect x="101.1" y="70.7" width="1.6" height="1.6" fill="#895016"/><rect x="103.0" y="70.9" width="1.6" height="1.6" fill="#b12626"/><rect x="104.9" y="71.0" width="1.6" height="1.6" fill="#982121"/><rect x="106.7" y="71.1" width="1.6" height="1.6" fill="#b03ab0"/><rect x="112.2" y="70.8" width="1.6" height="1.6" fill="#2c7e8b"/><rect x="114.0" y="69.7" width="1.6" height="1.6" fill="#c7c7c7"/><rect x="115.3" y="68.5" width="1.6" height="1.6" fill="#39b439"/><rect x="117.6" y="65.6" width="1.6" height="1.6" fill="#ac2525"/><rect x="118.4" y="63.6" width="1.6" height="1.6" fill="#38a1b1"/><rect x="118.6" y="61.5" width="1.6" height="1.6" fill="#3dc03d"/><rect x="119.4" y="57.7" width="1.6" height="1.6" fill="#e48526"/><rect x="120.6" y="54.0" width="1.6" height="1.6" fill="#309730"/><rect x="121.2" y="52.4" width="1.6" height="1.6" fill="#c040c0"/><rect x="121.8" y="50.7" width="1.6" height="1.6" fill="#37ae37"/><rect x="122.4" y="49.1" width="1.6" height="1.6" fill="#3648e3"/><rect x="123.8" y="45.9" width="1.6" height="1.6" fill="#792879"/><rect x="124.5" y="44.2" width="1.6" height="1.6" fill="#c72b2b"/><rect x="125.3" y="42.6" width="1.6" height="1.6" fill="#d0d0d0"/><rect x="126.0" y="41.0" width="1.6" height="1.6" fill="#9e9e9e"/><rect x="126.8" y="39.3" width="1.6" height="1.6" fill="#db2f2f"/><rect x="127.6" y="37.7" width="1.6" height="1.6" fill="#38b138"/><rect x="128.5" y="36.2" width="1.6" height="1.6" fill="#c92b2b"/><rect x="129.6" y="34.8" width="1.6" height="1.6" fill="#7d297d"/><rect x="130.9" y="33.6" width="1.6" height="1.6" fill="#309830"/><rect x="132.4" y="32.5" width="1.6" height="1.6" fill="#2e922e"/><rect x="134.0" y="31.5" width="1.6" height="1.6" fill="#762776"/><rect x="135.7" y="30.7" width="1.6" height="1.6" fill="#811c1c"/><rect x="137.3" y="30.0" width="1.6" height="1.6" fill="#40ca40"/><rect x="139.3" y="29.5" width="1.6" height="1.6" fill="#cd44cd"/><rect x="141.0" y="29.5" width="1.6" height="1.6" fill="#adad37"/><rect x="143.1" y="30.0" width="1.6" height="1.6" fill="#999930"/><rect x="144.8" y="30.6" width="1.6" height="1.6" fill="#3dc03d"/><rect x="146.4" y="31.2" width="1.6" height="1.6" fill="#3ab73a"/><rect x="148.4" y="32.1" width="1.6" height="1.6" fill="#3fb5c7"/><rect x="150.0" y="33.0" width="1.6" height="1.6" fill="#a5a5a5"/><rect x="151.6" y="34.0" width="1.6" height="1.6" fill="#2b7d89"/><rect x="153.1" y="35.0" width="1.6" height="1.6" fill="#37ad37"/><rect x="156.0" y="37.0" width="1.6" height="1.6" fill="#243097"/><rect x="158.7" y="39.1" width="1.6" height="1.6" fill="#d9d945"/><rect x="159.9" y="40.2" width="1.6" height="1.6" fill="#a8a835"/><rect x="162.4" y="43.1" width="1.6" height="1.6" fill="#8c8c2c"/><rect x="163.5" y="44.9" width="1.6" height="1.6" fill="#a838a8"/><rect x="164.4" y="46.4" width="1.6" height="1.6" fill="#9d9d32"/><rect x="165.2" y="47.9" width="1.6" height="1.6" fill="#be2929"/><rect x="165.9" y="49.5" width="1.6" height="1.6" fill="#2a872a"/><rect x="166.6" y="51.1" width="1.6" height="1.6" fill="#27717c"/><rect x="167.3" y="52.6" width="1.6" height="1.6" fill="#3547de"/><rect x="167.9" y="54.3" width="1.6" height="1.6" fill="#c7c73f"/><rect x="168.5" y="55.9" width="1.6" height="1.6" fill="#cd7822"/><rect x="169.6" y="59.2" width="1.6" height="1.6" fill="#9e9e32"/><rect x="170.2" y="60.8" width="1.6" height="1.6" fill="#40c940"/><rect x="170.8" y="62.4" width="1.6" height="1.6" fill="#bd2929"/><rect x="171.4" y="64.1" width="1.6" height="1.6" fill="#be6f1f"/><rect x="172.0" y="65.7" width="1.6" height="1.6" fill="#ee8a27"/><rect x="172.6" y="67.3" width="1.6" height="1.6" fill="#b62727"/><rect x="173.3" y="69.2" width="1.6" height="1.6" fill="#d7d7d7"/><rect x="174.0" y="70.9" width="1.6" height="1.6" fill="#95952f"/><rect x="174.8" y="72.5" width="1.6" height="1.6" fill="#3547e0"/><rect x="175.5" y="74.1" width="1.6" height="1.6" fill="#308997"/><rect x="176.9" y="77.3" width="1.6" height="1.6" fill="#808028"/><rect x="177.5" y="78.9" width="1.6" height="1.6" fill="#c842c8"/><rect x="178.0" y="80.6" width="1.6" height="1.6" fill="#a8a835"/><rect x="178.5" y="82.3" width="1.6" height="1.6" fill="#2734a4"/><rect x="179.3" y="86.1" width="1.6" height="1.6" fill="#45c5d8"/><rect x="179.5" y="88.2" width="1.6" height="1.6" fill="#2c7e8a"/><rect x="179.4" y="90.1" width="1.6" height="1.6" fill="#d3d343"/><rect x="179.2" y="91.8" width="1.6" height="1.6" fill="#308b99"/><rect x="178.8" y="93.8" width="1.6" height="1.6" fill="#919191"/><rect x="178.2" y="95.8" width="1.6" height="1.6" fill="#903090"/><rect x="177.5" y="97.5" width="1.6" height="1.6" fill="#394cee"/><rect x="176.7" y="99.3" width="1.6" height="1.6" fill="#3eb2c4"/><rect x="176.0" y="101.0" width="1.6" height="1.6" fill="#3040c9"/><rect x="175.1" y="102.9" width="1.6" height="1.6" fill="#3393a2"/><rect x="174.4" y="104.5" width="1.6" height="1.6" fill="#969630"/><rect x="173.7" y="106.2" width="1.6" height="1.6" fill="#8b8b8b"/><rect x="172.9" y="108.0" width="1.6" height="1.6" fill="#2836aa"/><rect x="172.3" y="109.7" width="1.6" height="1.6" fill="#34a334"/><rect x="171.5" y="111.7" width="1.6" height="1.6" fill="#3243d2"/><rect x="170.9" y="113.3" width="1.6" height="1.6" fill="#222e90"/><rect x="170.3" y="115.0" width="1.6" height="1.6" fill="#2937ad"/><rect x="169.2" y="118.4" width="1.6" height="1.6" fill="#d1d142"/><rect x="168.6" y="120.0" width="1.6" height="1.6" fill="#de8125"/><rect x="167.8" y="122.0" width="1.6" height="1.6" fill="#2a842a"/><rect x="167.2" y="123.7" width="1.6" height="1.6" fill="#b5b5b5"/><rect x="166.6" y="125.3" width="1.6" height="1.6" fill="#d37b23"/><rect x="165.8" y="127.2" width="1.6" height="1.6" fill="#3cbf3c"/><rect x="163.4" y="132.2" width="1.6" height="1.6" fill="#2a39b2"/><rect x="162.3" y="133.9" width="1.6" height="1.6" fill="#8d8d2d"/><rect x="161.4" y="135.3" width="1.6" height="1.6" fill="#e48526"/><rect x="159.3" y="138.2" width="1.6" height="1.6" fill="#a0a033"/><rect x="158.2" y="139.6" width="1.6" height="1.6" fill="#266e79"/><rect x="154.7" y="144.1" width="1.6" height="1.6" fill="#b12626"/><rect x="151.4" y="148.1" width="1.6" height="1.6" fill="#742674"/><rect x="150.2" y="149.4" width="1.6" height="1.6" fill="#c3c3c3"/><rect x="148.8" y="151.0" width="1.6" height="1.6" fill="#9e9e9e"/><rect x="147.4" y="152.4" width="1.6" height="1.6" fill="#c97521"/><rect x="146.1" y="153.7" width="1.6" height="1.6" fill="#3040ca"/><rect x="144.8" y="154.9" width="1.6" height="1.6" fill="#d6d6d6"/><rect x="143.2" y="156.2" width="1.6" height="1.6" fill="#28727d"/><rect x="141.6" y="157.6" width="1.6" height="1.6" fill="#93932f"/><rect x="140.0" y="158.8" width="1.6" height="1.6" fill="#2f932f"/><rect x="138.6" y="159.8" width="1.6" height="1.6" fill="#b2681d"/><rect x="137.1" y="160.8" width="1.6" height="1.6" fill="#41bacd"/><rect x="135.6" y="161.7" width="1.6" height="1.6" fill="#aa631c"/><rect x="134.0" y="162.6" width="1.6" height="1.6" fill="#d32d2d"/><rect x="132.5" y="163.5" width="1.6" height="1.6" fill="#801b1b"/><rect x="130.9" y="164.3" width="1.6" height="1.6" fill="#41bcce"/><rect x="129.4" y="165.1" width="1.6" height="1.6" fill="#8c8c2c"/><rect x="127.9" y="165.9" width="1.6" height="1.6" fill="#af2626"/><rect x="126.3" y="166.8" width="1.6" height="1.6" fill="#ac39ac"/><rect x="124.8" y="167.7" width="1.6" height="1.6" fill="#ba6c1f"/><rect x="123.0" y="168.7" width="1.6" height="1.6" fill="#3eb3c5"/><rect x="121.1" y="169.5" width="1.6" height="1.6" fill="#942020"/><rect x="119.5" y="170.1" width="1.6" height="1.6" fill="#40b7c9"/><rect x="117.5" y="170.7" width="1.6" height="1.6" fill="#43c0d3"/><rect x="115.8" y="171.0" width="1.6" height="1.6" fill="#42d142"/><rect x="114.0" y="171.3" width="1.6" height="1.6" fill="#a2a233"/><rect x="108.8" y="171.6" width="1.6" height="1.6" fill="#2c7f8b"/><rect x="107.1" y="171.4" width="1.6" height="1.6" fill="#959595"/><rect x="105.4" y="171.2" width="1.6" height="1.6" fill="#3547e0"/><rect x="103.6" y="170.8" width="1.6" height="1.6" fill="#222e91"/><rect x="101.9" y="170.4" width="1.6" height="1.6" fill="#42bdd0"/><rect x="100.2" y="170.1" width="1.6" height="1.6" fill="#cb2c2c"/><rect x="98.4" y="169.7" width="1.6" height="1.6" fill="#b4b4b4"/><rect x="96.7" y="169.4" width="1.6" height="1.6" fill="#808028"/><rect x="94.9" y="169.1" width="1.6" height="1.6" fill="#7f1b1b"/><rect x="93.1" y="168.9" width="1.6" height="1.6" fill="#2835a7"/><rect x="91.4" y="168.6" width="1.6" height="1.6" fill="#9a9a9a"/><rect x="89.7" y="168.2" width="1.6" height="1.6" fill="#a436a4"/><rect x="86.0" y="167.1" width="1.6" height="1.6" fill="#2836a9"/><rect x="84.3" y="166.4" width="1.6" height="1.6" fill="#328f9e"/><rect x="82.8" y="165.6" width="1.6" height="1.6" fill="#bf6f1f"/><rect x="81.3" y="164.8" width="1.6" height="1.6" fill="#d8d844"/><rect x="79.8" y="163.9" width="1.6" height="1.6" fill="#b62727"/><rect x="78.3" y="163.0" width="1.6" height="1.6" fill="#2d902d"/><rect x="76.8" y="162.1" width="1.6" height="1.6" fill="#7f1b1b"/><rect x="75.3" y="161.2" width="1.6" height="1.6" fill="#2d8290"/><rect x="73.8" y="160.3" width="1.6" height="1.6" fill="#c7c73f"/><rect x="72.4" y="159.3" width="1.6" height="1.6" fill="#7c7c27"/><rect x="71.0" y="158.2" width="1.6" height="1.6" fill="#c5c5c5"/><rect x="69.5" y="156.7" width="1.6" height="1.6" fill="#b4691e"/><rect x="68.4" y="155.4" width="1.6" height="1.6" fill="#b1b1b1"/><rect x="67.3" y="154.0" width="1.6" height="1.6" fill="#45c6da"/><rect x="66.2" y="152.6" width="1.6" height="1.6" fill="#39b339"/><rect x="65.2" y="151.2" width="1.6" height="1.6" fill="#895016"/><rect x="64.1" y="149.9" width="1.6" height="1.6" fill="#297682"/><rect x="62.9" y="148.6" width="1.6" height="1.6" fill="#cbcbcb"/><rect x="61.7" y="147.2" width="1.6" height="1.6" fill="#7f7f7f"/><rect x="60.4" y="145.9" width="1.6" height="1.6" fill="#b1b138"/><rect x="59.2" y="144.6" width="1.6" height="1.6" fill="#243096"/><rect x="56.5" y="141.9" width="1.6" height="1.6" fill="#939393"/><rect x="55.2" y="140.7" width="1.6" height="1.6" fill="#3dc23d"/><rect x="53.5" y="139.6" width="1.6" height="1.6" fill="#bf2929"/><rect x="52.0" y="138.2" width="1.6" height="1.6" fill="#bebe3c"/><rect x="50.9" y="136.9" width="1.6" height="1.6" fill="#e68626"/><rect x="49.8" y="135.1" width="1.6" height="1.6" fill="#38b038"/><rect x="48.2" y="131.9" width="1.6" height="1.6" fill="#212c8a"/><rect x="47.4" y="130.2" width="1.6" height="1.6" fill="#cc7722"/><rect x="46.8" y="128.6" width="1.6" height="1.6" fill="#bb2828"/><rect x="46.1" y="127.0" width="1.6" height="1.6" fill="#c67321"/><rect x="45.5" y="125.3" width="1.6" height="1.6" fill="#3445d8"/><rect x="44.9" y="123.6" width="1.6" height="1.6" fill="#222d8e"/><rect x="44.4" y="122.0" width="1.6" height="1.6" fill="#b03ab0"/><rect x="43.7" y="118.2" width="1.6" height="1.6" fill="#3a4ef5"/><rect x="43.7" y="116.3" width="1.6" height="1.6" fill="#7e2a7e"/><rect x="43.8" y="114.4" width="1.6" height="1.6" fill="#9e349e"/><rect x="44.0" y="112.7" width="1.6" height="1.6" fill="#acacac"/><rect x="45.1" y="109.0" width="1.6" height="1.6" fill="#3bb93b"/><rect x="48.4" y="107.5" width="1.6" height="1.6" fill="#a6a634"/><rect x="50.3" y="107.4" width="1.6" height="1.6" fill="#3243d1"/><rect x="52.2" y="107.3" width="1.6" height="1.6" fill="#2c7d8a"/><rect x="54.0" y="106.9" width="1.6" height="1.6" fill="#965719"/><rect x="55.9" y="106.0" width="1.6" height="1.6" fill="#d3d3d3"/><rect x="57.4" y="105.1" width="1.6" height="1.6" fill="#a838a8"/><rect x="58.7" y="104.0" width="1.6" height="1.6" fill="#afaf37"/><rect x="59.8" y="102.7" width="1.6" height="1.6" fill="#379faf"/><rect x="61.0" y="100.9" width="1.6" height="1.6" fill="#969696"/><rect x="61.8" y="99.4" width="1.6" height="1.6" fill="#9b339b"/><rect x="62.5" y="97.7" width="1.6" height="1.6" fill="#a135a1"/><rect x="63.1" y="96.0" width="1.6" height="1.6" fill="#3a4ef5"/><rect x="63.5" y="94.0" width="1.6" height="1.6" fill="#2a38af"/><rect x="63.6" y="92.1" width="1.6" height="1.6" fill="#c341c3"/><rect x="63.4" y="90.2" width="1.6" height="1.6" fill="#ce2c2c"/><rect x="63.1" y="88.5" width="1.6" height="1.6" fill="#3ab73a"/><rect x="62.3" y="86.8" width="1.6" height="1.6" fill="#7c297c"/><rect x="57.1" y="84.9" width="1.6" height="1.6" fill="#b73db7"/><rect x="55.4" y="84.6" width="1.6" height="1.6" fill="#28737f"/><rect x="53.7" y="84.5" width="1.6" height="1.6" fill="#277c27"/><rect x="51.8" y="84.4" width="1.6" height="1.6" fill="#297783"/><rect x="50.0" y="84.3" width="1.6" height="1.6" fill="#a2a233"/><rect x="46.3" y="84.0" width="1.6" height="1.6" fill="#3344d6"/><rect x="44.3" y="83.8" width="1.6" height="1.6" fill="#d6d6d6"/><rect x="42.5" y="83.5" width="1.6" height="1.6" fill="#25329c"/><rect x="40.7" y="82.7" width="1.6" height="1.6" fill="#232f92"/><rect x="39.0" y="79.6" width="1.6" height="1.6" fill="#2a7884"/><rect x="38.7" y="77.6" width="1.6" height="1.6" fill="#ed8a27"/><rect x="38.8" y="75.9" width="1.6" height="1.6" fill="#d0d042"/><rect x="40.0" y="72.2" width="1.6" height="1.6" fill="#43d343"/><rect x="40.7" y="70.4" width="1.6" height="1.6" fill="#243199"/><rect x="41.3" y="68.8" width="1.6" height="1.6" fill="#a5601b"/><rect x="42.0" y="66.8" width="1.6" height="1.6" fill="#8e2f8e"/><rect x="42.6" y="65.1" width="1.6" height="1.6" fill="#9e349e"/><rect x="43.3" y="63.4" width="1.6" height="1.6" fill="#243098"/><rect x="43.9" y="61.7" width="1.6" height="1.6" fill="#2d3cbb"/><rect x="44.6" y="60.1" width="1.6" height="1.6" fill="#89892b"/><rect x="45.4" y="58.5" width="1.6" height="1.6" fill="#9f5d1a"/><rect x="46.1" y="56.9" width="1.6" height="1.6" fill="#3fc83f"/><rect x="46.9" y="55.3" width="1.6" height="1.6" fill="#aa38aa"/><rect x="47.7" y="53.8" width="1.6" height="1.6" fill="#bebebe"/><rect x="48.6" y="52.3" width="1.6" height="1.6" fill="#2633a0"/><rect x="49.5" y="50.8" width="1.6" height="1.6" fill="#c97521"/><rect x="50.5" y="49.3" width="1.6" height="1.6" fill="#ac39ac"/><rect x="51.5" y="47.8" width="1.6" height="1.6" fill="#802a80"/><rect x="52.6" y="46.4" width="1.6" height="1.6" fill="#328f9d"/><rect x="53.6" y="45.0" width="1.6" height="1.6" fill="#b13bb1"/><rect x="54.7" y="43.7" width="1.6" height="1.6" fill="#7e1b1b"/><rect x="57.2" y="40.9" width="1.6" height="1.6" fill="#3ba9ba"/><rect x="58.4" y="39.7" width="1.6" height="1.6" fill="#a8621c"/><rect x="60.1" y="38.4" width="1.6" height="1.6" fill="#bfbfbf"/><rect x="61.7" y="37.5" width="1.6" height="1.6" fill="#8e1f1f"/><rect x="63.4" y="36.9" width="1.6" height="1.6" fill="#b62727"/><rect x="65.1" y="36.4" width="1.6" height="1.6" fill="#de8125"/><rect x="66.8" y="36.2" width="1.6" height="1.6" fill="#b02626"/><rect x="68.5" y="36.2" width="1.6" height="1.6" fill="#89892b"/><rect x="70.3" y="36.4" width="1.6" height="1.6" fill="#baba3b"/><rect x="72.0" y="36.8" width="1.6" height="1.6" fill="#2b39b4"/><rect x="74.0" y="37.5" width="1.6" height="1.6" fill="#b8b83a"/><rect x="77.1" y="39.3" width="1.6" height="1.6" fill="#b2b238"/><rect x="78.5" y="40.3" width="1.6" height="1.6" fill="#a4a4a4"/><rect x="80.1" y="41.1" width="1.6" height="1.6" fill="#2b39b3"/><rect x="81.7" y="41.7" width="1.6" height="1.6" fill="#d87e24"/><rect x="83.3" y="42.6" width="1.6" height="1.6" fill="#a537a5"/><rect x="84.8" y="44.0" width="1.6" height="1.6" fill="#28737e"/><rect x="86.2" y="45.6" width="1.6" height="1.6" fill="#838329"/><rect x="87.2" y="47.0" width="1.6" height="1.6" fill="#e58526"/><rect x="88.2" y="48.6" width="1.6" height="1.6" fill="#a436a4"/><rect x="89.2" y="50.4" width="1.6" height="1.6" fill="#de8125"/><rect x="89.9" y="52.0" width="1.6" height="1.6" fill="#7b7b27"/><rect x="91.7" y="56.8" width="1.6" height="1.6" fill="#3345d7"/><rect x="92.3" y="58.6" width="1.6" height="1.6" fill="#d0d0d0"/><rect x="92.7" y="60.4" width="1.6" height="1.6" fill="#266e79"/><rect x="93.1" y="62.1" width="1.6" height="1.6" fill="#852c85"/><rect x="94.5" y="65.8" width="1.6" height="1.6" fill="#394cee"/><rect x="95.3" y="67.3" width="1.6" height="1.6" fill="#86862a"/><rect x="98.0" y="70.0" width="1.6" height="1.6" fill="#9a2121"/></g>
<ellipse cx="99.8" cy="91.6" rx="4.3" ry="2.7" transform="rotate(-12 99.8 91.6)" fill="#2020c8" stroke="#ff2038" stroke-width="1.3"/>
<ellipse cx="115.5" cy="89.1" rx="3.9" ry="3.2" transform="rotate(-20 115.5 89.1)" fill="#2020c8" stroke="#ff2038" stroke-width="1.3"/>
<g clip-path="url(#cB)">
<rect x="40" y="200" width="140" height="180" fill="#070907"/>
<use href="#sB" filter="url(#bl3)" opacity="0.85"/>
<use href="#sB" filter="url(#bl06)"/>

<g filter="url(#bl3)">
<path d="M86,225 Q80,250 82,280 Q80,310 84,340" stroke="#30a030" stroke-width="7" fill="none" opacity="0.55"/>
<path d="M130,228 Q137,255 134,285 Q136,315 130,340" stroke="#30a030" stroke-width="6" fill="none" opacity="0.5"/>
<path d="M110,262 L110,300" stroke="#30a030" stroke-width="6" fill="none" opacity="0.5"/>
<ellipse cx="110" cy="262" rx="16" ry="12" fill="#000" opacity="0.5"/>
<ellipse cx="68" cy="300" rx="10" ry="35" fill="#000" opacity="0.35"/>
</g>
<g filter="url(#bl2)">
<path d="M91.7,239 L101,242 L110.4,243.6 L119.8,241.3 L127.6,238.2 L122.9,246.7 L115,251.4 L110.4,254.5 L105.7,251.4 L98,246.7Z" fill="#e03018" opacity="0.95"/>
<path d="M92,239.5 L100,242.5 L105,248" stroke="#f0a020" stroke-width="2.5" fill="none" opacity="0.9"/>
<ellipse cx="100" cy="232" rx="5" ry="3.5" fill="#2030c0" opacity="0.9"/>
<ellipse cx="120" cy="232" rx="5" ry="3.5" fill="#2030c0" opacity="0.9"/>
<ellipse cx="110.4" cy="230" rx="5" ry="4" fill="#000" opacity="0.8"/>
<ellipse cx="104" cy="226" rx="5" ry="2.5" fill="#a02020" opacity="0.7"/>
<path d="M88,239 Q85,248 83,258" stroke="#40c040" stroke-width="3" fill="none" opacity="0.8"/>
<path d="M82,300 Q80,315 81,330" stroke="#40c040" stroke-width="3" fill="none" opacity="0.8"/>
<path d="M75,318 L76,330" stroke="#3040d0" stroke-width="3" fill="none" opacity="0.7"/>
<path d="M81,260 L81,278" stroke="#5040c0" stroke-width="2.5" fill="none" opacity="0.7"/>
<ellipse cx="109" cy="278" rx="2.5" ry="5" fill="#40c040" opacity="0.9"/>
<path d="M88,329 L112,311 L134,323" stroke="#f0b020" stroke-width="5" fill="none" stroke-linejoin="round" opacity="0.95"/>
<ellipse cx="112" cy="313" rx="3.5" ry="3.5" fill="#f02020"/>
<path d="M99,326 Q112,319 125,327" stroke="#2030d0" stroke-width="3.5" fill="none" opacity="0.9"/>
<path d="M70,238 L80,244" stroke="#c03060" stroke-width="4" opacity="0.6"/>
<path d="M84,342 Q88,350 92,352" stroke="#40a040" stroke-width="4" fill="none" opacity="0.6"/>
</g>
<path d="M128.9,238.5 L133.5,237.3 L145.8,224.5 L147.8,224.3 L157.8,231.9 L161.7,242.8 L172.7,280.6 L173.7,317.4 L155.8,318.8 L148.8,311.4 L141.9,310.4 L138.9,305.4 L141.5,291.5 L139.9,286.6 L131.9,266.7 L128.9,242.8Z" fill="#050505"/>
<g filter="url(#bl1)" opacity="0.6"><line x1="156.1" y1="292.9" x2="153.3" y2="295.7" stroke="#206020" stroke-width="1"/><line x1="162.8" y1="310.7" x2="159.9" y2="314.1" stroke="#a02020" stroke-width="1"/><line x1="160.6" y1="308.9" x2="164.4" y2="308.6" stroke="#303090" stroke-width="1"/><line x1="133.0" y1="268.5" x2="134.5" y2="267.0" stroke="#206020" stroke-width="1"/><line x1="168.5" y1="284.7" x2="166.8" y2="284.0" stroke="#a02020" stroke-width="1"/><line x1="150.1" y1="249.1" x2="147.0" y2="251.7" stroke="#a02020" stroke-width="1"/><line x1="153.0" y1="278.1" x2="154.0" y2="278.1" stroke="#206020" stroke-width="1"/><line x1="132.4" y1="246.5" x2="129.8" y2="246.4" stroke="#206020" stroke-width="1"/><line x1="142.7" y1="308.4" x2="139.2" y2="310.8" stroke="#206020" stroke-width="1"/><line x1="155.9" y1="238.5" x2="157.4" y2="239.8" stroke="#206020" stroke-width="1"/><line x1="140.0" y1="246.4" x2="138.9" y2="248.0" stroke="#206020" stroke-width="1"/><line x1="170.0" y1="304.5" x2="172.7" y2="302.6" stroke="#206020" stroke-width="1"/><line x1="152.8" y1="287.3" x2="156.5" y2="286.0" stroke="#a02020" stroke-width="1"/><line x1="158.7" y1="312.8" x2="159.3" y2="308.9" stroke="#206020" stroke-width="1"/><line x1="145.9" y1="242.0" x2="144.5" y2="240.2" stroke="#206020" stroke-width="1"/><line x1="143.6" y1="280.7" x2="146.1" y2="281.9" stroke="#206020" stroke-width="1"/><line x1="145.0" y1="254.7" x2="143.8" y2="255.9" stroke="#303090" stroke-width="1"/><line x1="163.7" y1="269.8" x2="162.5" y2="272.6" stroke="#303090" stroke-width="1"/><line x1="144.2" y1="269.9" x2="148.0" y2="273.5" stroke="#a02020" stroke-width="1"/><line x1="161.0" y1="302.1" x2="161.2" y2="299.4" stroke="#206020" stroke-width="1"/><line x1="146.1" y1="278.5" x2="149.6" y2="278.3" stroke="#a02020" stroke-width="1"/><line x1="168.0" y1="310.7" x2="169.7" y2="312.5" stroke="#a02020" stroke-width="1"/><line x1="145.3" y1="258.7" x2="146.2" y2="262.2" stroke="#303090" stroke-width="1"/><line x1="152.3" y1="295.9" x2="150.7" y2="296.4" stroke="#206020" stroke-width="1"/><line x1="162.8" y1="303.4" x2="164.6" y2="299.6" stroke="#a02020" stroke-width="1"/><line x1="135.4" y1="257.5" x2="136.1" y2="258.4" stroke="#a02020" stroke-width="1"/><line x1="155.6" y1="308.6" x2="153.4" y2="310.0" stroke="#a02020" stroke-width="1"/><line x1="145.1" y1="309.1" x2="149.0" y2="312.9" stroke="#a02020" stroke-width="1"/><line x1="153.1" y1="255.0" x2="149.5" y2="252.0" stroke="#206020" stroke-width="1"/><line x1="144.2" y1="243.0" x2="147.9" y2="242.9" stroke="#a02020" stroke-width="1"/><line x1="134.9" y1="240.5" x2="134.3" y2="239.3" stroke="#a02020" stroke-width="1"/><line x1="158.6" y1="315.5" x2="159.4" y2="313.4" stroke="#206020" stroke-width="1"/><line x1="170.2" y1="274.5" x2="166.2" y2="273.8" stroke="#206020" stroke-width="1"/><line x1="147.6" y1="248.3" x2="150.5" y2="251.2" stroke="#206020" stroke-width="1"/><line x1="154.9" y1="300.4" x2="158.7" y2="300.8" stroke="#206020" stroke-width="1"/><line x1="149.6" y1="264.6" x2="146.3" y2="265.0" stroke="#206020" stroke-width="1"/><line x1="160.3" y1="311.4" x2="163.9" y2="309.7" stroke="#206020" stroke-width="1"/><line x1="156.4" y1="297.0" x2="158.9" y2="296.4" stroke="#206020" stroke-width="1"/><line x1="136.0" y1="265.8" x2="135.8" y2="263.0" stroke="#303090" stroke-width="1"/></g>

</g>
<g opacity="0.6" filter="url(#bl04)"><rect x="97.4" y="204.2" width="1.3" height="1.3" fill="#bdbd3c"/><rect x="110.1" y="205.4" width="1.3" height="1.3" fill="#d37b23"/><rect x="111.9" y="205.9" width="1.3" height="1.3" fill="#b73db7"/><rect x="115.7" y="207.1" width="1.3" height="1.3" fill="#329d32"/><rect x="117.4" y="207.6" width="1.3" height="1.3" fill="#318e9c"/><rect x="119.1" y="208.1" width="1.3" height="1.3" fill="#842c84"/><rect x="120.9" y="208.7" width="1.3" height="1.3" fill="#44c3d6"/><rect x="125.9" y="210.3" width="1.3" height="1.3" fill="#c0c0c0"/><rect x="129.3" y="211.2" width="1.3" height="1.3" fill="#797979"/><rect x="131.1" y="211.7" width="1.3" height="1.3" fill="#c3c3c3"/><rect x="132.7" y="212.3" width="1.3" height="1.3" fill="#e38425"/><rect x="134.7" y="212.9" width="1.3" height="1.3" fill="#2b7d89"/><rect x="136.6" y="213.6" width="1.3" height="1.3" fill="#ed8a27"/><rect x="138.2" y="214.3" width="1.3" height="1.3" fill="#a35f1b"/><rect x="141.6" y="216.1" width="1.3" height="1.3" fill="#9b5a19"/><rect x="145.0" y="218.4" width="1.3" height="1.3" fill="#232e92"/><rect x="146.4" y="219.4" width="1.3" height="1.3" fill="#309830"/><rect x="150.5" y="222.6" width="1.3" height="1.3" fill="#3a4df1"/><rect x="157.9" y="229.1" width="1.3" height="1.3" fill="#bb6d1f"/><rect x="159.1" y="230.5" width="1.3" height="1.3" fill="#a4601b"/><rect x="160.1" y="232.2" width="1.3" height="1.3" fill="#c17120"/><rect x="161.8" y="235.5" width="1.3" height="1.3" fill="#c240c2"/><rect x="162.6" y="237.4" width="1.3" height="1.3" fill="#3a4df2"/><rect x="163.2" y="239.1" width="1.3" height="1.3" fill="#25319b"/><rect x="164.5" y="242.6" width="1.3" height="1.3" fill="#cfcfcf"/><rect x="165.1" y="244.4" width="1.3" height="1.3" fill="#2d3cbd"/><rect x="165.6" y="246.1" width="1.3" height="1.3" fill="#a7611b"/><rect x="166.7" y="250.1" width="1.3" height="1.3" fill="#bc2828"/><rect x="167.5" y="253.5" width="1.3" height="1.3" fill="#dc8024"/><rect x="167.9" y="255.2" width="1.3" height="1.3" fill="#ababab"/><rect x="168.3" y="257.0" width="1.3" height="1.3" fill="#b0671d"/><rect x="168.7" y="258.8" width="1.3" height="1.3" fill="#43c2d5"/><rect x="169.1" y="260.5" width="1.3" height="1.3" fill="#2c3bba"/><rect x="169.8" y="263.9" width="1.3" height="1.3" fill="#a2a2a2"/><rect x="170.4" y="267.4" width="1.3" height="1.3" fill="#ac2525"/><rect x="171.0" y="270.8" width="1.3" height="1.3" fill="#3041cb"/><rect x="171.5" y="274.2" width="1.3" height="1.3" fill="#2836aa"/><rect x="171.8" y="276.3" width="1.3" height="1.3" fill="#3ba9b9"/><rect x="172.0" y="278.4" width="1.3" height="1.3" fill="#a45f1b"/><rect x="172.5" y="282.6" width="1.3" height="1.3" fill="#41b9cc"/><rect x="172.9" y="288.1" width="1.3" height="1.3" fill="#ef8b27"/><rect x="173.1" y="292.4" width="1.3" height="1.3" fill="#e38425"/><rect x="173.2" y="294.1" width="1.3" height="1.3" fill="#d6d6d6"/><rect x="173.3" y="297.6" width="1.3" height="1.3" fill="#ef8b27"/><rect x="173.3" y="299.4" width="1.3" height="1.3" fill="#aa631c"/><rect x="173.4" y="301.1" width="1.3" height="1.3" fill="#266e79"/><rect x="173.4" y="304.7" width="1.3" height="1.3" fill="#b6b63a"/><rect x="173.4" y="306.6" width="1.3" height="1.3" fill="#905418"/><rect x="173.4" y="308.5" width="1.3" height="1.3" fill="#caca40"/><rect x="173.4" y="312.2" width="1.3" height="1.3" fill="#e28425"/><rect x="173.3" y="315.9" width="1.3" height="1.3" fill="#3648e1"/><rect x="173.3" y="317.7" width="1.3" height="1.3" fill="#9a9a9a"/><rect x="173.2" y="319.7" width="1.3" height="1.3" fill="#831c1c"/><rect x="173.0" y="321.9" width="1.3" height="1.3" fill="#a035a0"/><rect x="172.7" y="323.8" width="1.3" height="1.3" fill="#dbdb45"/><rect x="172.4" y="325.5" width="1.3" height="1.3" fill="#8e8e8e"/><rect x="171.8" y="327.5" width="1.3" height="1.3" fill="#c62b2b"/><rect x="170.1" y="331.3" width="1.3" height="1.3" fill="#7e2a7e"/><rect x="166.1" y="339.8" width="1.3" height="1.3" fill="#c6c6c6"/><rect x="165.2" y="341.3" width="1.3" height="1.3" fill="#3ec53e"/><rect x="164.1" y="342.7" width="1.3" height="1.3" fill="#2c7d8a"/><rect x="161.9" y="345.4" width="1.3" height="1.3" fill="#cd2c2c"/><rect x="160.7" y="346.8" width="1.3" height="1.3" fill="#cdcd41"/><rect x="156.0" y="352.5" width="1.3" height="1.3" fill="#3ba9ba"/><rect x="154.7" y="353.8" width="1.3" height="1.3" fill="#874f16"/><rect x="153.5" y="354.9" width="1.3" height="1.3" fill="#935618"/><rect x="149.3" y="358.2" width="1.3" height="1.3" fill="#d7d744"/><rect x="147.9" y="359.2" width="1.3" height="1.3" fill="#bb2828"/><rect x="146.2" y="360.4" width="1.3" height="1.3" fill="#318d9b"/><rect x="144.7" y="361.4" width="1.3" height="1.3" fill="#cdcd41"/><rect x="141.8" y="363.3" width="1.3" height="1.3" fill="#3cbc3c"/><rect x="139.9" y="364.3" width="1.3" height="1.3" fill="#8f8f2d"/><rect x="138.3" y="365.0" width="1.3" height="1.3" fill="#7b297b"/><rect x="136.7" y="365.6" width="1.3" height="1.3" fill="#3ba9ba"/><rect x="135.0" y="366.1" width="1.3" height="1.3" fill="#c341c3"/><rect x="133.0" y="366.7" width="1.3" height="1.3" fill="#2a842a"/><rect x="131.0" y="367.2" width="1.3" height="1.3" fill="#9b5a19"/><rect x="129.3" y="367.5" width="1.3" height="1.3" fill="#b43cb4"/><rect x="127.2" y="367.8" width="1.3" height="1.3" fill="#39b339"/><rect x="117.8" y="368.7" width="1.3" height="1.3" fill="#9d2222"/><rect x="116.0" y="368.8" width="1.3" height="1.3" fill="#3bb93b"/><rect x="114.2" y="368.9" width="1.3" height="1.3" fill="#c240c2"/><rect x="108.9" y="369.3" width="1.3" height="1.3" fill="#a5a534"/><rect x="107.1" y="369.4" width="1.3" height="1.3" fill="#c2c23d"/><rect x="99.7" y="369.9" width="1.3" height="1.3" fill="#931f1f"/><rect x="96.2" y="369.5" width="1.3" height="1.3" fill="#7b297b"/><rect x="94.1" y="369.0" width="1.3" height="1.3" fill="#3142cf"/><rect x="92.1" y="368.5" width="1.3" height="1.3" fill="#d6d644"/><rect x="88.4" y="367.8" width="1.3" height="1.3" fill="#792879"/><rect x="86.4" y="367.4" width="1.3" height="1.3" fill="#33a133"/><rect x="79.7" y="364.5" width="1.3" height="1.3" fill="#39a5b5"/><rect x="78.2" y="363.5" width="1.3" height="1.3" fill="#923092"/><rect x="75.3" y="361.4" width="1.3" height="1.3" fill="#43d443"/><rect x="70.1" y="356.7" width="1.3" height="1.3" fill="#9b2121"/><rect x="67.4" y="353.9" width="1.3" height="1.3" fill="#bc6d1f"/><rect x="63.5" y="349.6" width="1.3" height="1.3" fill="#b3681d"/><rect x="62.2" y="348.0" width="1.3" height="1.3" fill="#999930"/><rect x="59.1" y="343.4" width="1.3" height="1.3" fill="#ca7621"/><rect x="58.2" y="341.9" width="1.3" height="1.3" fill="#d72e2e"/><rect x="57.3" y="340.4" width="1.3" height="1.3" fill="#cf7822"/><rect x="55.4" y="337.5" width="1.3" height="1.3" fill="#3648e3"/><rect x="53.4" y="334.8" width="1.3" height="1.3" fill="#3495a4"/><rect x="52.1" y="333.1" width="1.3" height="1.3" fill="#3547de"/><rect x="51.0" y="331.3" width="1.3" height="1.3" fill="#379dad"/><rect x="46.9" y="321.8" width="1.3" height="1.3" fill="#df8225"/><rect x="45.8" y="318.5" width="1.3" height="1.3" fill="#797979"/><rect x="44.9" y="315.2" width="1.3" height="1.3" fill="#8d2f8d"/><rect x="44.5" y="313.1" width="1.3" height="1.3" fill="#a4a434"/><rect x="44.3" y="311.2" width="1.3" height="1.3" fill="#e48526"/><rect x="44.2" y="309.2" width="1.3" height="1.3" fill="#a2a2a2"/><rect x="44.2" y="307.2" width="1.3" height="1.3" fill="#266e79"/><rect x="44.1" y="305.4" width="1.3" height="1.3" fill="#2d902d"/><rect x="44.2" y="303.5" width="1.3" height="1.3" fill="#d6d644"/><rect x="44.2" y="301.7" width="1.3" height="1.3" fill="#dbdb45"/><rect x="44.2" y="299.9" width="1.3" height="1.3" fill="#9f5c1a"/><rect x="44.3" y="298.0" width="1.3" height="1.3" fill="#772777"/><rect x="44.6" y="292.4" width="1.3" height="1.3" fill="#bb3ebb"/><rect x="44.9" y="290.5" width="1.3" height="1.3" fill="#989830"/><rect x="45.5" y="287.1" width="1.3" height="1.3" fill="#32909e"/><rect x="46.0" y="285.0" width="1.3" height="1.3" fill="#3db0c1"/><rect x="46.9" y="281.4" width="1.3" height="1.3" fill="#a838a8"/><rect x="47.3" y="279.6" width="1.3" height="1.3" fill="#319c31"/><rect x="48.7" y="274.4" width="1.3" height="1.3" fill="#3394a3"/><rect x="49.2" y="272.7" width="1.3" height="1.3" fill="#b76b1e"/><rect x="51.0" y="267.2" width="1.3" height="1.3" fill="#2734a4"/><rect x="51.6" y="265.5" width="1.3" height="1.3" fill="#3040cb"/><rect x="52.8" y="261.9" width="1.3" height="1.3" fill="#369dac"/><rect x="53.9" y="256.5" width="1.3" height="1.3" fill="#8c8c8c"/><rect x="54.5" y="252.7" width="1.3" height="1.3" fill="#3393a1"/><rect x="54.9" y="249.3" width="1.3" height="1.3" fill="#d1d142"/><rect x="55.6" y="245.8" width="1.3" height="1.3" fill="#cdcd41"/><rect x="56.0" y="244.1" width="1.3" height="1.3" fill="#2835a7"/><rect x="57.6" y="238.8" width="1.3" height="1.3" fill="#27727d"/><rect x="60.4" y="231.9" width="1.3" height="1.3" fill="#369cac"/><rect x="62.1" y="228.8" width="1.3" height="1.3" fill="#909090"/><rect x="63.3" y="227.1" width="1.3" height="1.3" fill="#2c7e8a"/><rect x="64.4" y="225.8" width="1.3" height="1.3" fill="#c17120"/><rect x="66.9" y="223.2" width="1.3" height="1.3" fill="#41ce41"/><rect x="68.1" y="222.0" width="1.3" height="1.3" fill="#a45f1b"/><rect x="71.1" y="219.7" width="1.3" height="1.3" fill="#cbcbcb"/><rect x="75.6" y="216.3" width="1.3" height="1.3" fill="#b13bb1"/><rect x="77.2" y="214.9" width="1.3" height="1.3" fill="#b33bb3"/><rect x="78.5" y="213.7" width="1.3" height="1.3" fill="#9d9d9d"/><rect x="82.6" y="209.9" width="1.3" height="1.3" fill="#328f9d"/><rect x="84.1" y="208.9" width="1.3" height="1.3" fill="#40b9cb"/><rect x="85.6" y="208.0" width="1.3" height="1.3" fill="#3ec33e"/><rect x="89.1" y="206.5" width="1.3" height="1.3" fill="#881d1d"/><rect x="91.1" y="205.7" width="1.3" height="1.3" fill="#3eb1c3"/><rect x="94.5" y="204.7" width="1.3" height="1.3" fill="#2c3bb9"/><rect x="96.2" y="204.3" width="1.3" height="1.3" fill="#a0a032"/></g>
<path d="M91,278.5 L97.8,278 L98.2,281 L93.5,289.5 L91.8,292.8 L91.4,297.9 L88,298.8 L85.1,295.4 L84.7,292 L87.6,286.1 L89.3,281.8Z" fill="#2a36c8" stroke="#ff2038" stroke-width="1.1" stroke-linejoin="round"/>
<path d="M125.7,276.3 L129.1,276.8 L130.8,281 L134.1,288.6 L136.3,294.5 L135,299.2 L132.5,299.6 L129.1,295.4 L125.7,289.5 L123.6,282.7 L124.4,278.5Z" fill="#2a36c8" stroke="#ff2038" stroke-width="1.1" stroke-linejoin="round"/>
<path d="M128.9,238.5 L133.5,237.3 L145.8,224.5 L147.8,224.3 L157.8,231.9 L161.7,242.8 L172.7,280.6 L173.7,317.4 L155.8,318.8 L148.8,311.4 L141.9,310.4 L138.9,305.4 L141.5,291.5 L139.9,286.6 L131.9,266.7 L128.9,242.8Z" fill="none" stroke="#e8e8e8" stroke-width="1.1"/>
<g clip-path="url(#cC)">
<rect x="40" y="390" width="140" height="180" fill="#070907"/>
<use href="#sC" filter="url(#bl3)" opacity="0.85"/>
<use href="#sC" filter="url(#bl06)"/>

<g filter="url(#bl3)">
<ellipse cx="111" cy="420" rx="20" ry="14" fill="#000" opacity="0.6"/>
<path d="M98,445 Q96,470 100,500 M123,445 Q126,470 121,500" stroke="#000" stroke-width="5" fill="none" opacity="0.6"/>
<path d="M97,437 L124,437 L116,465 L106,465Z" fill="#a82850" opacity="0.55"/>
<path d="M88,418 Q82,460 85,500" stroke="#30a030" stroke-width="6" fill="none" opacity="0.6"/>
<path d="M132,426 Q139,460 137,505" stroke="#30a030" stroke-width="5" fill="none" opacity="0.6"/>
<path d="M96,528 Q110,520 124,528" stroke="#30a030" stroke-width="9" fill="none" opacity="0.45"/>
</g>
<g filter="url(#bl2)">
<path d="M95,436 Q106,452 111,470 M126,436 Q116,452 111,470" stroke="#d03060" stroke-width="3.5" fill="none" opacity="0.9"/>
<ellipse cx="111.5" cy="476" rx="2.6" ry="9" fill="#c02030" opacity="0.85"/>
<path d="M111,482 L101,505 M112,482 L124,503" stroke="#b83850" stroke-width="3" fill="none" opacity="0.7"/>
<path d="M86,445 L88,495" stroke="#2040d0" stroke-width="4" fill="none" opacity="0.7"/>
<ellipse cx="104" cy="418" rx="4" ry="3" fill="#5030a0" opacity="0.7"/>
<ellipse cx="118" cy="415" rx="3" ry="3" fill="#a03030" opacity="0.6"/>
<ellipse cx="122" cy="424" rx="3" ry="2.5" fill="#3030c0" opacity="0.6"/>
<path d="M84,410 L90,440" stroke="#40b040" stroke-width="3" fill="none" opacity="0.7"/>
</g>
<path d="M132.9,429.7 L147.8,417.2 L151.8,418.8 L160.8,432.7 L167.7,450.6 L171.7,470.9 L168.7,474.1 L162.8,477.5 L149.8,479.5 L141.9,486.0 L131.9,485.4 L128.9,472.5 L128.4,442.7Z" fill="#050505"/>
<g filter="url(#bl1)" opacity="0.6"><line x1="167.5" y1="458.4" x2="164.8" y2="459.4" stroke="#a02020" stroke-width="1"/><line x1="144.5" y1="476.3" x2="144.9" y2="477.6" stroke="#a02020" stroke-width="1"/><line x1="152.5" y1="458.8" x2="150.7" y2="459.4" stroke="#a02020" stroke-width="1"/><line x1="136.6" y1="459.7" x2="138.6" y2="462.8" stroke="#a02020" stroke-width="1"/><line x1="164.6" y1="443.8" x2="160.7" y2="440.5" stroke="#303090" stroke-width="1"/><line x1="147.5" y1="434.4" x2="147.4" y2="437.9" stroke="#206020" stroke-width="1"/><line x1="142.3" y1="481.3" x2="145.6" y2="478.4" stroke="#206020" stroke-width="1"/><line x1="145.6" y1="480.6" x2="142.8" y2="481.6" stroke="#206020" stroke-width="1"/><line x1="165.5" y1="457.6" x2="168.8" y2="458.1" stroke="#a02020" stroke-width="1"/><line x1="141.1" y1="481.8" x2="139.2" y2="482.2" stroke="#206020" stroke-width="1"/><line x1="149.9" y1="446.3" x2="152.6" y2="444.6" stroke="#a02020" stroke-width="1"/><line x1="143.3" y1="482.0" x2="145.8" y2="484.9" stroke="#303090" stroke-width="1"/><line x1="149.7" y1="438.2" x2="151.6" y2="435.6" stroke="#a02020" stroke-width="1"/><line x1="149.2" y1="427.9" x2="150.4" y2="424.5" stroke="#a02020" stroke-width="1"/><line x1="154.6" y1="448.0" x2="151.3" y2="445.0" stroke="#303090" stroke-width="1"/><line x1="142.3" y1="469.3" x2="140.2" y2="472.3" stroke="#303090" stroke-width="1"/><line x1="151.3" y1="437.4" x2="155.0" y2="434.3" stroke="#a02020" stroke-width="1"/><line x1="166.3" y1="469.3" x2="166.6" y2="468.4" stroke="#a02020" stroke-width="1"/><line x1="140.6" y1="437.0" x2="144.1" y2="436.4" stroke="#a02020" stroke-width="1"/><line x1="137.2" y1="482.3" x2="139.2" y2="479.0" stroke="#303090" stroke-width="1"/><line x1="142.3" y1="458.4" x2="144.9" y2="455.5" stroke="#303090" stroke-width="1"/><line x1="149.1" y1="460.7" x2="147.9" y2="458.6" stroke="#206020" stroke-width="1"/><line x1="153.9" y1="466.9" x2="157.4" y2="468.5" stroke="#303090" stroke-width="1"/><line x1="135.8" y1="468.0" x2="134.8" y2="469.7" stroke="#206020" stroke-width="1"/><line x1="142.6" y1="453.7" x2="143.8" y2="456.1" stroke="#303090" stroke-width="1"/><line x1="143.9" y1="438.8" x2="147.6" y2="437.7" stroke="#a02020" stroke-width="1"/><line x1="151.2" y1="449.4" x2="151.9" y2="449.9" stroke="#a02020" stroke-width="1"/><line x1="144.9" y1="467.0" x2="144.0" y2="463.8" stroke="#a02020" stroke-width="1"/><line x1="153.4" y1="422.5" x2="150.9" y2="420.1" stroke="#303090" stroke-width="1"/><line x1="140.8" y1="448.8" x2="143.9" y2="448.7" stroke="#206020" stroke-width="1"/><line x1="151.8" y1="421.1" x2="147.8" y2="420.9" stroke="#303090" stroke-width="1"/><line x1="160.4" y1="447.1" x2="159.0" y2="446.8" stroke="#a02020" stroke-width="1"/><line x1="152.9" y1="464.7" x2="150.1" y2="461.9" stroke="#206020" stroke-width="1"/><line x1="155.0" y1="450.5" x2="157.9" y2="453.4" stroke="#303090" stroke-width="1"/><line x1="146.0" y1="473.7" x2="143.2" y2="471.7" stroke="#206020" stroke-width="1"/><line x1="138.7" y1="438.8" x2="141.3" y2="440.8" stroke="#a02020" stroke-width="1"/><line x1="162.6" y1="463.8" x2="158.9" y2="467.0" stroke="#206020" stroke-width="1"/><line x1="147.5" y1="438.2" x2="150.9" y2="437.1" stroke="#a02020" stroke-width="1"/><line x1="160.5" y1="477.4" x2="162.0" y2="478.8" stroke="#303090" stroke-width="1"/><line x1="136.7" y1="450.2" x2="139.5" y2="447.5" stroke="#206020" stroke-width="1"/><line x1="151.9" y1="451.5" x2="150.2" y2="452.9" stroke="#a02020" stroke-width="1"/><line x1="143.7" y1="429.8" x2="140.0" y2="431.6" stroke="#a02020" stroke-width="1"/><line x1="153.3" y1="471.2" x2="154.5" y2="472.1" stroke="#206020" stroke-width="1"/><line x1="134.0" y1="434.6" x2="135.4" y2="432.1" stroke="#206020" stroke-width="1"/><line x1="162.0" y1="469.9" x2="160.2" y2="471.8" stroke="#303090" stroke-width="1"/><line x1="168.6" y1="464.2" x2="165.9" y2="462.2" stroke="#a02020" stroke-width="1"/><line x1="133.2" y1="473.1" x2="136.7" y2="474.2" stroke="#303090" stroke-width="1"/><line x1="139.6" y1="460.8" x2="141.4" y2="458.9" stroke="#303090" stroke-width="1"/><line x1="166.9" y1="464.9" x2="163.4" y2="467.2" stroke="#303090" stroke-width="1"/><line x1="136.4" y1="438.6" x2="133.8" y2="434.8" stroke="#206020" stroke-width="1"/><line x1="154.2" y1="446.2" x2="157.7" y2="447.9" stroke="#a02020" stroke-width="1"/></g>

</g>
<g opacity="0.65" filter="url(#bl04)"><rect x="107.1" y="395.0" width="1.3" height="1.3" fill="#44c3d7"/><rect x="111.2" y="395.1" width="1.3" height="1.3" fill="#308b99"/><rect x="114.8" y="395.7" width="1.3" height="1.3" fill="#898989"/><rect x="120.1" y="396.9" width="1.3" height="1.3" fill="#a7611b"/><rect x="121.9" y="397.4" width="1.3" height="1.3" fill="#aa631c"/><rect x="123.7" y="398.1" width="1.3" height="1.3" fill="#812b81"/><rect x="125.3" y="398.8" width="1.3" height="1.3" fill="#d67d23"/><rect x="127.1" y="399.9" width="1.3" height="1.3" fill="#d6d644"/><rect x="128.5" y="400.8" width="1.3" height="1.3" fill="#cb43cb"/><rect x="129.9" y="401.9" width="1.3" height="1.3" fill="#d02d2d"/><rect x="132.7" y="404.0" width="1.3" height="1.3" fill="#3eb1c3"/><rect x="134.1" y="405.1" width="1.3" height="1.3" fill="#bebebe"/><rect x="139.5" y="409.5" width="1.3" height="1.3" fill="#3cabbd"/><rect x="142.2" y="411.7" width="1.3" height="1.3" fill="#baba3b"/><rect x="147.6" y="416.2" width="1.3" height="1.3" fill="#b5b539"/><rect x="150.3" y="418.4" width="1.3" height="1.3" fill="#a35f1b"/><rect x="151.7" y="419.6" width="1.3" height="1.3" fill="#a6611b"/><rect x="153.3" y="420.9" width="1.3" height="1.3" fill="#7c7c7c"/><rect x="154.8" y="422.4" width="1.3" height="1.3" fill="#3598a7"/><rect x="156.0" y="423.7" width="1.3" height="1.3" fill="#92922e"/><rect x="157.4" y="425.2" width="1.3" height="1.3" fill="#232f92"/><rect x="158.7" y="426.8" width="1.3" height="1.3" fill="#45c6d9"/><rect x="159.9" y="428.6" width="1.3" height="1.3" fill="#dadada"/><rect x="160.9" y="430.1" width="1.3" height="1.3" fill="#27717c"/><rect x="161.8" y="432.0" width="1.3" height="1.3" fill="#c4c4c4"/><rect x="162.5" y="433.6" width="1.3" height="1.3" fill="#374ae8"/><rect x="164.5" y="438.6" width="1.3" height="1.3" fill="#b3b339"/><rect x="165.2" y="440.2" width="1.3" height="1.3" fill="#2e3dc1"/><rect x="166.5" y="443.5" width="1.3" height="1.3" fill="#7f2a7f"/><rect x="168.9" y="450.3" width="1.3" height="1.3" fill="#34a534"/><rect x="169.5" y="452.4" width="1.3" height="1.3" fill="#cf7822"/><rect x="169.9" y="454.1" width="1.3" height="1.3" fill="#881d1d"/><rect x="170.3" y="455.7" width="1.3" height="1.3" fill="#b3b339"/><rect x="170.9" y="459.1" width="1.3" height="1.3" fill="#369baa"/><rect x="171.3" y="460.8" width="1.3" height="1.3" fill="#2734a3"/><rect x="171.5" y="462.5" width="1.3" height="1.3" fill="#d3d3d3"/><rect x="171.9" y="464.2" width="1.3" height="1.3" fill="#854e16"/><rect x="172.1" y="466.0" width="1.3" height="1.3" fill="#3aa6b7"/><rect x="172.4" y="467.8" width="1.3" height="1.3" fill="#a62424"/><rect x="172.7" y="469.6" width="1.3" height="1.3" fill="#45da45"/><rect x="172.9" y="471.3" width="1.3" height="1.3" fill="#ca7621"/><rect x="173.2" y="473.4" width="1.3" height="1.3" fill="#999930"/><rect x="173.4" y="475.2" width="1.3" height="1.3" fill="#2a7884"/><rect x="174.0" y="484.5" width="1.3" height="1.3" fill="#e98726"/><rect x="174.1" y="486.6" width="1.3" height="1.3" fill="#45c7db"/><rect x="174.1" y="488.3" width="1.3" height="1.3" fill="#287480"/><rect x="174.1" y="490.2" width="1.3" height="1.3" fill="#222e91"/><rect x="174.0" y="494.0" width="1.3" height="1.3" fill="#d1d142"/><rect x="173.8" y="497.5" width="1.3" height="1.3" fill="#9e9e9e"/><rect x="173.7" y="499.3" width="1.3" height="1.3" fill="#dada45"/><rect x="173.5" y="501.1" width="1.3" height="1.3" fill="#8c2e8c"/><rect x="172.8" y="506.6" width="1.3" height="1.3" fill="#cfcf42"/><rect x="172.6" y="508.3" width="1.3" height="1.3" fill="#39b339"/><rect x="172.2" y="510.0" width="1.3" height="1.3" fill="#a4a434"/><rect x="171.9" y="511.7" width="1.3" height="1.3" fill="#c42a2a"/><rect x="171.0" y="515.1" width="1.3" height="1.3" fill="#8b5117"/><rect x="170.4" y="517.1" width="1.3" height="1.3" fill="#8a8a8a"/><rect x="169.3" y="520.4" width="1.3" height="1.3" fill="#3242d1"/><rect x="168.7" y="522.0" width="1.3" height="1.3" fill="#3749e6"/><rect x="168.1" y="523.6" width="1.3" height="1.3" fill="#b62727"/><rect x="167.3" y="525.2" width="1.3" height="1.3" fill="#e08225"/><rect x="165.6" y="528.7" width="1.3" height="1.3" fill="#222d8e"/><rect x="164.8" y="530.2" width="1.3" height="1.3" fill="#a7a735"/><rect x="163.9" y="531.7" width="1.3" height="1.3" fill="#d8d8d8"/><rect x="162.9" y="533.2" width="1.3" height="1.3" fill="#90902d"/><rect x="162.0" y="534.7" width="1.3" height="1.3" fill="#42d042"/><rect x="161.0" y="536.1" width="1.3" height="1.3" fill="#3aa6b6"/><rect x="159.9" y="537.5" width="1.3" height="1.3" fill="#cb43cb"/><rect x="158.8" y="538.8" width="1.3" height="1.3" fill="#952020"/><rect x="157.6" y="540.1" width="1.3" height="1.3" fill="#43c2d5"/><rect x="156.3" y="541.3" width="1.3" height="1.3" fill="#43c0d3"/><rect x="155.0" y="542.5" width="1.3" height="1.3" fill="#aeaeae"/><rect x="152.2" y="544.7" width="1.3" height="1.3" fill="#9c9c31"/><rect x="146.5" y="548.5" width="1.3" height="1.3" fill="#3dafc0"/><rect x="144.7" y="549.5" width="1.3" height="1.3" fill="#7e7e7e"/><rect x="139.6" y="551.9" width="1.3" height="1.3" fill="#bf3fbf"/><rect x="133.2" y="554.2" width="1.3" height="1.3" fill="#2e922e"/><rect x="129.8" y="555.2" width="1.3" height="1.3" fill="#ea8827"/><rect x="126.4" y="556.0" width="1.3" height="1.3" fill="#d87e24"/><rect x="124.4" y="556.5" width="1.3" height="1.3" fill="#37ae37"/><rect x="122.7" y="556.9" width="1.3" height="1.3" fill="#b8b8b8"/><rect x="120.8" y="557.2" width="1.3" height="1.3" fill="#44c3d6"/><rect x="119.0" y="557.5" width="1.3" height="1.3" fill="#a2a2a2"/><rect x="117.3" y="557.8" width="1.3" height="1.3" fill="#c82b2b"/><rect x="113.2" y="558.3" width="1.3" height="1.3" fill="#bdbdbd"/><rect x="109.6" y="558.6" width="1.3" height="1.3" fill="#c7c7c7"/><rect x="107.6" y="558.6" width="1.3" height="1.3" fill="#ad651c"/><rect x="103.7" y="558.2" width="1.3" height="1.3" fill="#c240c2"/><rect x="101.7" y="557.9" width="1.3" height="1.3" fill="#dbdb45"/><rect x="96.5" y="556.7" width="1.3" height="1.3" fill="#2a39b2"/><rect x="94.9" y="556.1" width="1.3" height="1.3" fill="#b0b0b0"/><rect x="92.9" y="555.4" width="1.3" height="1.3" fill="#3b4ef6"/><rect x="89.4" y="553.9" width="1.3" height="1.3" fill="#26329f"/><rect x="87.8" y="553.1" width="1.3" height="1.3" fill="#243098"/><rect x="77.7" y="547.7" width="1.3" height="1.3" fill="#2a7884"/><rect x="76.2" y="546.7" width="1.3" height="1.3" fill="#b3681d"/><rect x="73.1" y="544.5" width="1.3" height="1.3" fill="#243098"/><rect x="70.3" y="542.3" width="1.3" height="1.3" fill="#aaaa36"/><rect x="69.0" y="541.3" width="1.3" height="1.3" fill="#34a634"/><rect x="67.4" y="539.9" width="1.3" height="1.3" fill="#39a4b5"/><rect x="66.1" y="538.7" width="1.3" height="1.3" fill="#808080"/><rect x="64.9" y="537.6" width="1.3" height="1.3" fill="#40b7c9"/><rect x="61.9" y="534.6" width="1.3" height="1.3" fill="#2a7884"/><rect x="59.4" y="531.7" width="1.3" height="1.3" fill="#b62727"/><rect x="58.2" y="530.4" width="1.3" height="1.3" fill="#7a7a27"/><rect x="57.1" y="529.0" width="1.3" height="1.3" fill="#3243d1"/><rect x="56.0" y="527.6" width="1.3" height="1.3" fill="#d4d443"/><rect x="55.0" y="526.2" width="1.3" height="1.3" fill="#9d2222"/><rect x="54.1" y="524.8" width="1.3" height="1.3" fill="#3eb3c5"/><rect x="53.2" y="523.3" width="1.3" height="1.3" fill="#d0d0d0"/><rect x="52.5" y="521.8" width="1.3" height="1.3" fill="#8a2e8a"/><rect x="51.6" y="519.8" width="1.3" height="1.3" fill="#3cbe3c"/><rect x="51.0" y="518.2" width="1.3" height="1.3" fill="#359aa9"/><rect x="50.5" y="516.5" width="1.3" height="1.3" fill="#dada45"/><rect x="50.1" y="514.8" width="1.3" height="1.3" fill="#d82e2e"/><rect x="49.6" y="512.7" width="1.3" height="1.3" fill="#b3b3b3"/><rect x="49.4" y="511.0" width="1.3" height="1.3" fill="#d045d0"/><rect x="49.2" y="509.2" width="1.3" height="1.3" fill="#3aa6b6"/><rect x="48.9" y="505.6" width="1.3" height="1.3" fill="#8c1e1e"/><rect x="48.7" y="503.5" width="1.3" height="1.3" fill="#42d242"/><rect x="48.4" y="500.0" width="1.3" height="1.3" fill="#b9b9b9"/><rect x="48.3" y="497.9" width="1.3" height="1.3" fill="#c6c63f"/><rect x="48.1" y="493.8" width="1.3" height="1.3" fill="#aaaaaa"/><rect x="48.1" y="491.9" width="1.3" height="1.3" fill="#3dc03d"/><rect x="48.0" y="490.1" width="1.3" height="1.3" fill="#3a4df2"/><rect x="48.0" y="488.3" width="1.3" height="1.3" fill="#232e92"/><rect x="48.0" y="486.5" width="1.3" height="1.3" fill="#9c5b1a"/><rect x="49.4" y="478.6" width="1.3" height="1.3" fill="#8b5117"/><rect x="50.2" y="474.8" width="1.3" height="1.3" fill="#a7a735"/><rect x="51.3" y="469.4" width="1.3" height="1.3" fill="#943194"/><rect x="52.1" y="464.1" width="1.3" height="1.3" fill="#2d828f"/><rect x="52.3" y="462.3" width="1.3" height="1.3" fill="#9e5c1a"/><rect x="52.6" y="458.8" width="1.3" height="1.3" fill="#319b31"/><rect x="52.8" y="456.7" width="1.3" height="1.3" fill="#d4d443"/><rect x="53.0" y="455.0" width="1.3" height="1.3" fill="#3b4ff8"/><rect x="53.2" y="453.2" width="1.3" height="1.3" fill="#379faf"/><rect x="53.5" y="451.2" width="1.3" height="1.3" fill="#ce44ce"/><rect x="54.0" y="447.4" width="1.3" height="1.3" fill="#8b8b8b"/><rect x="54.2" y="445.7" width="1.3" height="1.3" fill="#3fc63f"/><rect x="54.4" y="443.9" width="1.3" height="1.3" fill="#c642c6"/><rect x="54.6" y="442.1" width="1.3" height="1.3" fill="#858585"/><rect x="55.8" y="436.7" width="1.3" height="1.3" fill="#9a9a31"/><rect x="56.6" y="434.7" width="1.3" height="1.3" fill="#91912e"/><rect x="57.3" y="433.0" width="1.3" height="1.3" fill="#ee8b27"/><rect x="58.3" y="431.2" width="1.3" height="1.3" fill="#3baabb"/><rect x="61.1" y="426.5" width="1.3" height="1.3" fill="#43c0d3"/><rect x="63.9" y="422.0" width="1.3" height="1.3" fill="#888888"/><rect x="65.9" y="419.2" width="1.3" height="1.3" fill="#c72b2b"/><rect x="68.5" y="416.4" width="1.3" height="1.3" fill="#36ac36"/><rect x="69.8" y="415.2" width="1.3" height="1.3" fill="#901f1f"/><rect x="73.9" y="411.5" width="1.3" height="1.3" fill="#901f1f"/><rect x="75.6" y="410.1" width="1.3" height="1.3" fill="#821c1c"/><rect x="76.9" y="409.0" width="1.3" height="1.3" fill="#3496a5"/><rect x="78.3" y="407.9" width="1.3" height="1.3" fill="#a0a0a0"/><rect x="82.4" y="404.6" width="1.3" height="1.3" fill="#25319c"/><rect x="83.8" y="403.4" width="1.3" height="1.3" fill="#c3c3c3"/><rect x="86.8" y="401.1" width="1.3" height="1.3" fill="#2633a0"/><rect x="88.7" y="399.9" width="1.3" height="1.3" fill="#c341c3"/><rect x="93.8" y="397.5" width="1.3" height="1.3" fill="#2a852a"/><rect x="100.8" y="395.6" width="1.3" height="1.3" fill="#c1c13d"/><rect x="104.2" y="395.1" width="1.3" height="1.3" fill="#d97e24"/><rect x="105.9" y="395.0" width="1.3" height="1.3" fill="#2d8e2d"/></g>
<linearGradient id="roiC" x1="0" y1="0" x2="0" y2="1"><stop offset="0" stop-color="#0e1a40"/><stop offset="0.5" stop-color="#14285a"/><stop offset="0.58" stop-color="#2a5a98"/><stop offset="1" stop-color="#2a60a0"/></linearGradient>
<path d="M85.2,458.6 L89.5,458.4 L90,464.3 L91.9,470 L93.8,473.8 L94.3,481.4 L93.3,488.1 L91.4,493.8 L89,494.7 L86.7,490 L84.8,482.4 L84.3,474.7 L85.2,467.1Z" fill="#2a36c8" stroke="#ff2038" stroke-width="1.1" stroke-linejoin="round"/>
<path d="M131.4,462.4 L134.7,462.4 L137.1,467.1 L139,473.8 L139.5,483.3 L141.8,485.2 L141.4,493.8 L138,501.4 L135.2,503.3 L132.8,497.6 L130.9,490 L130,483.3 L129.5,476.6 L130.4,469Z" fill="url(#roiC)" stroke="#ff2038" stroke-width="1.1" stroke-linejoin="round"/>
<path d="M132.9,429.7 L147.8,417.2 L151.8,418.8 L160.8,432.7 L167.7,450.6 L171.7,470.9 L168.7,474.1 L162.8,477.5 L149.8,479.5 L141.9,486.0 L131.9,485.4 L128.9,472.5 L128.4,442.7Z" fill="none" stroke="#e8e8e8" stroke-width="1.1"/>
<g fill="#f2f2f2" stroke="none" filter="url(#gaa)">
<text x="9.7" y="44.9" class="wl">(A)</text>
<text x="9.4" y="201.5" class="wl">(B)</text>
<text x="9.4" y="398.6" class="wl">(C)</text>
<text x="77.8" y="156.6" class="bl" textLength="67.6" lengthAdjust="spacingAndGlyphs">Rostral Pons</text>
<text x="24.7" y="365.4" class="bl" textLength="165" lengthAdjust="spacingAndGlyphs">Posterior limb of internal capsule</text>
<text x="149.8" y="196.3" class="bl" textLength="32" lengthAdjust="spacingAndGlyphs">Lesion</text>
<text x="154.9" y="398.9" class="bl" textLength="31.8" lengthAdjust="spacingAndGlyphs">Lesion</text>
<text x="72.3" y="537.5" class="bl" textLength="76.6" lengthAdjust="spacingAndGlyphs">Corona Radiata</text>
</g>
<g>
<path d="M109.1,141.6L100.8,102.9" stroke="#fafafa" stroke-width="2.4" fill="none" stroke-linecap="round"/><path d="M99.3,96.1L104.5,103.2L97.5,104.7Z" fill="#fafafa"/>
<path d="M109.1,141.6L116.1,101.3" stroke="#fafafa" stroke-width="2.4" fill="none" stroke-linecap="round"/><path d="M117.3,94.4L119.5,102.9L112.4,101.7Z" fill="#fafafa"/>
<path d="M119.4,353.2L94.1,311.5" stroke="#fafafa" stroke-width="2.4" fill="none" stroke-linecap="round"/><path d="M90.5,305.5L97.7,310.5L91.6,314.2Z" fill="#fafafa"/>
<path d="M119.4,353.2L131.4,309.3" stroke="#fafafa" stroke-width="2.4" fill="none" stroke-linecap="round"/><path d="M133.2,302.5L134.6,311.2L127.6,309.3Z" fill="#fafafa"/>
<path d="M166.1,199.2L159.0,217.6" stroke="#fafafa" stroke-width="2.4" fill="none" stroke-linecap="round"/><path d="M156.5,224.1L156.0,215.3L162.7,217.9Z" fill="#fafafa"/>
<path d="M168.3,403.9L162.8,423.0" stroke="#fafafa" stroke-width="2.4" fill="none" stroke-linecap="round"/><path d="M160.8,429.7L159.6,421.0L166.5,423.0Z" fill="#fafafa"/>
<path d="M108.7,524.9L93.3,503.9" stroke="#fafafa" stroke-width="2.4" fill="none" stroke-linecap="round"/><path d="M89.2,498.3L96.8,502.6L91.0,506.9Z" fill="#fafafa"/>
<path d="M108.7,524.9L126.4,506.3" stroke="#fafafa" stroke-width="2.4" fill="none" stroke-linecap="round"/><path d="M131.2,501.2L128.3,509.5L123.1,504.5Z" fill="#fafafa"/>
</g>

<filter id="gaa" x="0" y="0" width="100%" height="100%"><feOffset dx="0" dy="0"/></filter>
<g filter="url(#gaa)">

<text x="253.8" y="44.8" class="pl">(D)</text>
<text x="253.8" y="221.7" class="pl">(E)</text>
<text x="253.8" y="378.1" class="pl">(F)</text>
<text x="469.6" y="46" class="pl">(G)</text>
<text x="470.4" y="221.5" class="pl">(H)</text>
<text x="470.4" y="377.6" class="pl">(I)</text>
<text x="368" y="50" text-anchor="middle" class="tt">FA</text>
<text x="603.8" y="47.8" text-anchor="middle" class="tt" textLength="26.8" lengthAdjust="spacingAndGlyphs">MD</text>

<path d="M288.1 80.2V189.6H467.6" fill="none" stroke="#4a4a4a" stroke-width="1.5"/>
<text x="278.4" y="83.1" text-anchor="end" class="tk" >0.70</text>
<text x="278.4" y="110.5" text-anchor="end" class="tk" >0.60</text>
<text x="278.4" y="137.9" text-anchor="end" class="tk" >0.50</text>
<text x="278.4" y="165.3" text-anchor="end" class="tk" >0.40</text>
<text x="278.4" y="192.7" text-anchor="end" class="tk" >0.30</text>
<text x="318.2" y="206.1" text-anchor="middle" class="tk">1</text>
<text x="378.2" y="206.1" text-anchor="middle" class="tk">3</text>
<text x="438.1" y="206.1" text-anchor="middle" class="tk">12</text>
<line x1="318.2" y1="101.7" x2="318.2" y2="138.3" stroke="#3c3c3c" stroke-width="1.3"/>
<rect x="317.1" y="100.9" width="2.2" height="1.6" fill="#222"/>
<rect x="317.1" y="137.5" width="2.2" height="1.6" fill="#222"/>
<line x1="378.2" y1="97.4" x2="378.2" y2="134.5" stroke="#3c3c3c" stroke-width="1.3"/>
<rect x="377.1" y="96.6" width="2.2" height="1.6" fill="#222"/>
<rect x="377.1" y="133.7" width="2.2" height="1.6" fill="#222"/>
<line x1="438.1" y1="94.6" x2="438.1" y2="137.5" stroke="#3c3c3c" stroke-width="1.3"/>
<rect x="437.0" y="93.8" width="2.2" height="1.6" fill="#222"/>
<rect x="437.0" y="136.7" width="2.2" height="1.6" fill="#222"/>
<line x1="318.2" y1="102.5" x2="318.2" y2="157.3" stroke="#3c3c3c" stroke-width="1.3"/>
<rect x="317.1" y="101.7" width="2.2" height="1.6" fill="#222"/>
<rect x="317.1" y="156.5" width="2.2" height="1.6" fill="#222"/>
<line x1="378.2" y1="102.3" x2="378.2" y2="159.1" stroke="#3c3c3c" stroke-width="1.3"/>
<rect x="377.1" y="101.5" width="2.2" height="1.6" fill="#222"/>
<rect x="377.1" y="158.3" width="2.2" height="1.6" fill="#222"/>
<line x1="438.1" y1="112.5" x2="438.1" y2="177.5" stroke="#3c3c3c" stroke-width="1.3"/>
<rect x="437.0" y="111.7" width="2.2" height="1.6" fill="#222"/>
<rect x="437.0" y="176.7" width="2.2" height="1.6" fill="#222"/>
<polyline points="318.2,119.7 378.2,116.3 438.1,116.1" fill="none" stroke="#2a2a2a" stroke-width="1.1"/>
<polyline points="318.2,129.9 378.2,130.7 438.1,145.1" fill="none" stroke="#ff2020" stroke-width="1.2" stroke-dasharray="3 2.3"/>
<rect x="316.9" y="118.5" width="2.5" height="2.5" fill="#000"/>
<rect x="376.9" y="115.0" width="2.5" height="2.5" fill="#000"/>
<rect x="436.9" y="114.8" width="2.5" height="2.5" fill="#000"/>
<rect x="316.8" y="128.5" width="2.8" height="2.8" fill="#ff0000"/>
<rect x="376.8" y="129.3" width="2.8" height="2.8" fill="#ff0000"/>
<rect x="436.7" y="143.7" width="2.8" height="2.8" fill="#ff0000"/>
<path d="M438.1,84.2v5.2M435.9,85.5l4.5,2.6M435.9,88.1l4.5,-2.6" stroke="#3a3a3a" stroke-width="1" fill="none"/>
<text transform="translate(251.5 128.25) rotate(-90)" text-anchor="middle" class="yt" textLength="44.7" lengthAdjust="spacingAndGlyphs">RP FA (au)</text>
<path d="M285.6 240.5V349.6H467.7" fill="none" stroke="#4a4a4a" stroke-width="1.5"/>
<text x="275.6" y="243.1" text-anchor="end" class="tk" >0.80</text>
<text x="275.6" y="270.5" text-anchor="end" class="tk" >0.70</text>
<text x="275.6" y="297.9" text-anchor="end" class="tk" >0.60</text>
<text x="275.6" y="325.3" text-anchor="end" class="tk" >0.50</text>
<text x="275.6" y="352.7" text-anchor="end" class="tk" >0.40</text>
<text x="316.2" y="366.3" text-anchor="middle" class="tk">1</text>
<text x="377.0" y="366.3" text-anchor="middle" class="tk">3</text>
<text x="437.6" y="366.3" text-anchor="middle" class="tk">12</text>
<line x1="316.2" y1="266" x2="316.2" y2="293.8" stroke="#3c3c3c" stroke-width="1.3"/>
<rect x="315.1" y="265.2" width="2.2" height="1.6" fill="#222"/>
<rect x="315.1" y="293.0" width="2.2" height="1.6" fill="#222"/>
<line x1="377.0" y1="257.8" x2="377.0" y2="293.7" stroke="#3c3c3c" stroke-width="1.3"/>
<rect x="375.9" y="257.0" width="2.2" height="1.6" fill="#222"/>
<rect x="375.9" y="292.9" width="2.2" height="1.6" fill="#222"/>
<line x1="437.6" y1="273.5" x2="437.6" y2="296.5" stroke="#3c3c3c" stroke-width="1.3"/>
<rect x="436.5" y="272.7" width="2.2" height="1.6" fill="#222"/>
<rect x="436.5" y="295.7" width="2.2" height="1.6" fill="#222"/>
<line x1="316.2" y1="270.6" x2="316.2" y2="317.2" stroke="#3c3c3c" stroke-width="1.3"/>
<rect x="315.1" y="269.8" width="2.2" height="1.6" fill="#222"/>
<rect x="315.1" y="316.4" width="2.2" height="1.6" fill="#222"/>
<line x1="377.0" y1="270.6" x2="377.0" y2="326.2" stroke="#3c3c3c" stroke-width="1.3"/>
<rect x="375.9" y="269.8" width="2.2" height="1.6" fill="#222"/>
<rect x="375.9" y="325.4" width="2.2" height="1.6" fill="#222"/>
<line x1="437.6" y1="272.2" x2="437.6" y2="337.4" stroke="#3c3c3c" stroke-width="1.3"/>
<rect x="436.5" y="271.4" width="2.2" height="1.6" fill="#222"/>
<rect x="436.5" y="336.6" width="2.2" height="1.6" fill="#222"/>
<polyline points="316.2,279.9 377.0,275.8 437.6,285.0" fill="none" stroke="#2a2a2a" stroke-width="1.1"/>
<polyline points="316.2,294.1 377.0,298.9 437.6,305.1" fill="none" stroke="#ff2020" stroke-width="1.2" stroke-dasharray="3 2.3"/>
<rect x="314.9" y="278.6" width="2.5" height="2.5" fill="#000"/>
<rect x="375.8" y="274.6" width="2.5" height="2.5" fill="#000"/>
<rect x="436.4" y="283.8" width="2.5" height="2.5" fill="#000"/>
<rect x="314.8" y="292.7" width="2.8" height="2.8" fill="#ff0000"/>
<rect x="375.6" y="297.5" width="2.8" height="2.8" fill="#ff0000"/>
<rect x="436.2" y="303.7" width="2.8" height="2.8" fill="#ff0000"/>
<path d="M315.5,252.4v5.2M313.2,253.7l4.5,2.6M313.2,256.3l4.5,-2.6" stroke="#3a3a3a" stroke-width="1" fill="none"/>
<path d="M377.0,246.9v5.2M374.8,248.2l4.5,2.6M374.8,250.8l4.5,-2.6" stroke="#3a3a3a" stroke-width="1" fill="none"/>
<path d="M437.6,257.3v5.2M435.4,258.6l4.5,2.6M435.4,261.2l4.5,-2.6" stroke="#3a3a3a" stroke-width="1" fill="none"/>
<text transform="translate(249.2 292.5) rotate(-90)" text-anchor="middle" class="yt" textLength="51.9" lengthAdjust="spacingAndGlyphs">PLIC FA (au)</text>
<path d="M285.4 399.9V510.8H467.7" fill="none" stroke="#4a4a4a" stroke-width="1.5"/>
<text x="275.6" y="403.0" text-anchor="end" class="tk" >0.60</text>
<text x="275.6" y="439.9" text-anchor="end" class="tk" >0.50</text>
<text x="275.6" y="476.8" text-anchor="end" class="tk" >0.40</text>
<text x="275.6" y="513.7" text-anchor="end" class="tk" >0.30</text>
<text x="316.2" y="528.1" text-anchor="middle" class="tk">1</text>
<text x="377.7" y="528.1" text-anchor="middle" class="tk">3</text>
<text x="439.7" y="528.1" text-anchor="middle" class="tk">12</text>
<line x1="316.2" y1="430.1" x2="316.2" y2="481.9" stroke="#3c3c3c" stroke-width="1.3"/>
<rect x="315.1" y="429.3" width="2.2" height="1.6" fill="#222"/>
<rect x="315.1" y="481.1" width="2.2" height="1.6" fill="#222"/>
<line x1="377.7" y1="433.4" x2="377.7" y2="487.5" stroke="#3c3c3c" stroke-width="1.3"/>
<rect x="376.6" y="432.6" width="2.2" height="1.6" fill="#222"/>
<rect x="376.6" y="486.7" width="2.2" height="1.6" fill="#222"/>
<line x1="439.7" y1="422.3" x2="439.7" y2="477.4" stroke="#3c3c3c" stroke-width="1.3"/>
<rect x="438.6" y="421.5" width="2.2" height="1.6" fill="#222"/>
<rect x="438.6" y="476.6" width="2.2" height="1.6" fill="#222"/>
<line x1="316.2" y1="456.7" x2="316.2" y2="473.3" stroke="#3c3c3c" stroke-width="1.3"/>
<rect x="315.1" y="455.9" width="2.2" height="1.6" fill="#222"/>
<rect x="315.1" y="472.5" width="2.2" height="1.6" fill="#222"/>
<line x1="377.7" y1="466.8" x2="377.7" y2="482.7" stroke="#3c3c3c" stroke-width="1.3"/>
<rect x="376.6" y="466.0" width="2.2" height="1.6" fill="#222"/>
<rect x="376.6" y="481.9" width="2.2" height="1.6" fill="#222"/>
<line x1="439.7" y1="460.9" x2="439.7" y2="477.5" stroke="#3c3c3c" stroke-width="1.3"/>
<rect x="438.6" y="460.1" width="2.2" height="1.6" fill="#222"/>
<rect x="438.6" y="476.7" width="2.2" height="1.6" fill="#222"/>
<polyline points="316.2,456.0 377.7,460.4 439.7,450.1" fill="none" stroke="#2a2a2a" stroke-width="1.1"/>
<polyline points="316.2,465.0 377.7,474.9 439.7,469.2" fill="none" stroke="#ff2020" stroke-width="1.2" stroke-dasharray="3 2.3"/>
<rect x="314.9" y="454.8" width="2.5" height="2.5" fill="#000"/>
<rect x="376.4" y="459.1" width="2.5" height="2.5" fill="#000"/>
<rect x="438.4" y="448.9" width="2.5" height="2.5" fill="#000"/>
<rect x="314.8" y="463.6" width="2.8" height="2.8" fill="#ff0000"/>
<rect x="376.3" y="473.5" width="2.8" height="2.8" fill="#ff0000"/>
<rect x="438.3" y="467.8" width="2.8" height="2.8" fill="#ff0000"/>
<text transform="translate(249.1 456.3) rotate(-90)" text-anchor="middle" class="yt" textLength="44.7" lengthAdjust="spacingAndGlyphs">CR FA (au)</text>
<path d="M516.4 75.6V189.2H706.1" fill="none" stroke="#4a4a4a" stroke-width="1.5"/>
<text x="507" y="78.3" text-anchor="end" class="tk" >1,000</text>
<text x="507" y="106.8" text-anchor="end" class="tk" >900</text>
<text x="507" y="135.2" text-anchor="end" class="tk" >800</text>
<text x="507" y="163.7" text-anchor="end" class="tk" >700</text>
<text x="507" y="192.1" text-anchor="end" class="tk" >600</text>
<text x="548.0" y="205.6" text-anchor="middle" class="tk">1</text>
<text x="611.5" y="205.6" text-anchor="middle" class="tk">3</text>
<text x="674.9" y="205.6" text-anchor="middle" class="tk">12</text>
<line x1="548.0" y1="116.5" x2="548.0" y2="173.2" stroke="#555" stroke-width="1.0"/>
<rect x="546.9" y="115.7" width="2.2" height="1.6" fill="#222"/>
<rect x="546.9" y="172.4" width="2.2" height="1.6" fill="#222"/>
<line x1="611.5" y1="118.1" x2="611.5" y2="174.4" stroke="#555" stroke-width="1.0"/>
<rect x="610.4" y="117.3" width="2.2" height="1.6" fill="#222"/>
<rect x="610.4" y="173.6" width="2.2" height="1.6" fill="#222"/>
<line x1="674.9" y1="126.4" x2="674.9" y2="169.5" stroke="#555" stroke-width="1.0"/>
<rect x="673.8" y="125.6" width="2.2" height="1.6" fill="#222"/>
<rect x="673.8" y="168.7" width="2.2" height="1.6" fill="#222"/>
<line x1="548.0" y1="127.6" x2="548.0" y2="165.7" stroke="#555" stroke-width="1.0"/>
<rect x="546.9" y="126.8" width="2.2" height="1.6" fill="#222"/>
<rect x="546.9" y="164.9" width="2.2" height="1.6" fill="#222"/>
<line x1="611.5" y1="113.8" x2="611.5" y2="174.4" stroke="#555" stroke-width="1.0"/>
<rect x="610.4" y="113.0" width="2.2" height="1.6" fill="#222"/>
<rect x="610.4" y="173.6" width="2.2" height="1.6" fill="#222"/>
<line x1="674.9" y1="103.4" x2="674.9" y2="165.4" stroke="#555" stroke-width="1.0"/>
<rect x="673.8" y="102.6" width="2.2" height="1.6" fill="#222"/>
<rect x="673.8" y="164.6" width="2.2" height="1.6" fill="#222"/>
<polyline points="548.0,144.9 611.5,146.7 674.9,147.9" fill="none" stroke="#2a2a2a" stroke-width="1.1"/>
<polyline points="548.0,146.8 611.5,144.1 674.9,134.7" fill="none" stroke="#ff2020" stroke-width="1.2" stroke-dasharray="3 2.3"/>
<rect x="546.8" y="143.7" width="2.5" height="2.5" fill="#000"/>
<rect x="610.2" y="145.4" width="2.5" height="2.5" fill="#000"/>
<rect x="673.6" y="146.7" width="2.5" height="2.5" fill="#000"/>
<rect x="546.6" y="145.4" width="2.8" height="2.8" fill="#ff0000"/>
<rect x="610.1" y="142.7" width="2.8" height="2.8" fill="#ff0000"/>
<rect x="673.5" y="133.3" width="2.8" height="2.8" fill="#ff0000"/>
<text transform="translate(481.2 139.7) rotate(-90)" text-anchor="middle" class="ytm" textLength="101.6" lengthAdjust="spacingAndGlyphs">RP Mean Diffusivity (10<tspan dy="-2.4" font-size="4.4">-6</tspan><tspan dy="2.4">mm</tspan><tspan dy="-2.4" font-size="4.4">2</tspan><tspan dy="2.4">/s)</tspan></text>
<path d="M514.7 239.5V351.6H707.6" fill="none" stroke="#4a4a4a" stroke-width="1.5"/>
<text x="505" y="241.9" text-anchor="end" class="tk" >1,000</text>
<text x="505" y="270.0" text-anchor="end" class="tk" >900</text>
<text x="505" y="298.0" text-anchor="end" class="tk" >800</text>
<text x="505" y="326.0" text-anchor="end" class="tk" >700</text>
<text x="505" y="354.1" text-anchor="end" class="tk" >600</text>
<text x="546.8" y="367.8" text-anchor="middle" class="tk">1</text>
<text x="611.2" y="367.8" text-anchor="middle" class="tk">2</text>
<text x="675.6" y="367.8" text-anchor="middle" class="tk">3</text>
<line x1="546.8" y1="313.8" x2="546.8" y2="335.8" stroke="#555" stroke-width="1.0"/>
<rect x="545.7" y="313.0" width="2.2" height="1.6" fill="#222"/>
<rect x="545.7" y="335.0" width="2.2" height="1.6" fill="#222"/>
<line x1="611.2" y1="312.2" x2="611.2" y2="338.8" stroke="#555" stroke-width="1.0"/>
<rect x="610.1" y="311.4" width="2.2" height="1.6" fill="#222"/>
<rect x="610.1" y="338.0" width="2.2" height="1.6" fill="#222"/>
<line x1="675.6" y1="309" x2="675.6" y2="333.6" stroke="#555" stroke-width="1.0"/>
<rect x="674.5" y="308.2" width="2.2" height="1.6" fill="#222"/>
<rect x="674.5" y="332.8" width="2.2" height="1.6" fill="#222"/>
<line x1="546.8" y1="304.8" x2="546.8" y2="336" stroke="#555" stroke-width="1.0"/>
<rect x="545.7" y="304.0" width="2.2" height="1.6" fill="#222"/>
<rect x="545.7" y="335.2" width="2.2" height="1.6" fill="#222"/>
<line x1="611.2" y1="300" x2="611.2" y2="326.6" stroke="#555" stroke-width="1.0"/>
<rect x="610.1" y="299.2" width="2.2" height="1.6" fill="#222"/>
<rect x="610.1" y="325.8" width="2.2" height="1.6" fill="#222"/>
<line x1="675.6" y1="270.2" x2="675.6" y2="333.8" stroke="#555" stroke-width="1.0"/>
<rect x="674.5" y="269.4" width="2.2" height="1.6" fill="#222"/>
<rect x="674.5" y="333.0" width="2.2" height="1.6" fill="#222"/>
<polyline points="546.8,324.8 611.2,325.5 675.6,321.3" fill="none" stroke="#2a2a2a" stroke-width="1.1"/>
<polyline points="546.8,320.4 611.2,313.3 675.6,302.0" fill="none" stroke="#ff2020" stroke-width="1.2" stroke-dasharray="3 2.3"/>
<rect x="545.5" y="323.6" width="2.5" height="2.5" fill="#000"/>
<rect x="610.0" y="324.2" width="2.5" height="2.5" fill="#000"/>
<rect x="674.4" y="320.1" width="2.5" height="2.5" fill="#000"/>
<rect x="545.4" y="319.0" width="2.8" height="2.8" fill="#ff0000"/>
<rect x="609.8" y="311.9" width="2.8" height="2.8" fill="#ff0000"/>
<rect x="674.2" y="300.6" width="2.8" height="2.8" fill="#ff0000"/>
<path d="M611.2,290.1v5.2M609.0,291.4l4.5,2.6M609.0,294.0l4.5,-2.6" stroke="#3a3a3a" stroke-width="1" fill="none"/>
<path d="M675.0,254.0v5.2M672.8,255.3l4.5,2.6M672.8,257.9l4.5,-2.6" stroke="#3a3a3a" stroke-width="1" fill="none"/>
<path d="M672.3,261.4v5.2M670.0,262.7l4.5,2.6M670.0,265.3l4.5,-2.6" stroke="#3a3a3a" stroke-width="1" fill="none"/>
<path d="M678.9,261.4v5.2M676.6,262.7l4.5,2.6M676.6,265.3l4.5,-2.6" stroke="#3a3a3a" stroke-width="1" fill="none"/>
<text transform="translate(482 297.8) rotate(-90)" text-anchor="middle" class="ytm" textLength="101.8" lengthAdjust="spacingAndGlyphs">PLIC Mean Diffusivity (10<tspan dy="-2.4" font-size="4.4">-6</tspan><tspan dy="2.4">mm</tspan><tspan dy="-2.4" font-size="4.4">2</tspan><tspan dy="2.4">/s)</tspan></text>
<path d="M515.0 392.0V511.8H707.6" fill="none" stroke="#4a4a4a" stroke-width="1.5"/>
<text x="505" y="395.1" text-anchor="end" class="tk" >1,000</text>
<text x="505" y="424.9" text-anchor="end" class="tk" >900</text>
<text x="505" y="454.7" text-anchor="end" class="tk" >800</text>
<text x="505" y="484.5" text-anchor="end" class="tk" >700</text>
<text x="505" y="514.3" text-anchor="end" class="tk" >600</text>
<text x="547.2" y="529.0" text-anchor="middle" class="tk">1</text>
<text x="611.8" y="529.0" text-anchor="middle" class="tk">2</text>
<text x="676.5" y="529.0" text-anchor="middle" class="tk">3</text>
<line x1="547.2" y1="451.6" x2="547.2" y2="479.8" stroke="#555" stroke-width="1.0"/>
<rect x="546.1" y="450.8" width="2.2" height="1.6" fill="#222"/>
<rect x="546.1" y="479.0" width="2.2" height="1.6" fill="#222"/>
<line x1="611.8" y1="442.4" x2="611.8" y2="484.6" stroke="#555" stroke-width="1.0"/>
<rect x="610.7" y="441.6" width="2.2" height="1.6" fill="#222"/>
<rect x="610.7" y="483.8" width="2.2" height="1.6" fill="#222"/>
<line x1="676.5" y1="433.2" x2="676.5" y2="490.4" stroke="#555" stroke-width="1.0"/>
<rect x="675.4" y="432.4" width="2.2" height="1.6" fill="#222"/>
<rect x="675.4" y="489.6" width="2.2" height="1.6" fill="#222"/>
<line x1="547.2" y1="431.8" x2="547.2" y2="483.4" stroke="#555" stroke-width="1.0"/>
<rect x="546.1" y="431.0" width="2.2" height="1.6" fill="#222"/>
<rect x="546.1" y="482.6" width="2.2" height="1.6" fill="#222"/>
<line x1="611.8" y1="407.4" x2="611.8" y2="482.6" stroke="#555" stroke-width="1.0"/>
<rect x="610.7" y="406.6" width="2.2" height="1.6" fill="#222"/>
<rect x="610.7" y="481.8" width="2.2" height="1.6" fill="#222"/>
<line x1="676.5" y1="413.3" x2="676.5" y2="475.5" stroke="#555" stroke-width="1.0"/>
<rect x="675.4" y="412.5" width="2.2" height="1.6" fill="#222"/>
<rect x="675.4" y="474.7" width="2.2" height="1.6" fill="#222"/>
<polyline points="547.2,465.7 611.8,463.5 676.5,461.8" fill="none" stroke="#2a2a2a" stroke-width="1.1"/>
<polyline points="547.2,457.6 611.8,445.0 676.5,444.5" fill="none" stroke="#ff2020" stroke-width="1.2" stroke-dasharray="3 2.3"/>
<rect x="546.0" y="464.4" width="2.5" height="2.5" fill="#000"/>
<rect x="610.5" y="462.2" width="2.5" height="2.5" fill="#000"/>
<rect x="675.2" y="460.6" width="2.5" height="2.5" fill="#000"/>
<rect x="545.8" y="456.2" width="2.8" height="2.8" fill="#ff0000"/>
<rect x="610.4" y="443.6" width="2.8" height="2.8" fill="#ff0000"/>
<rect x="675.1" y="443.1" width="2.8" height="2.8" fill="#ff0000"/>
<text transform="translate(481 462.2) rotate(-90)" text-anchor="middle" class="ytm" textLength="104.7" lengthAdjust="spacingAndGlyphs">CR Mean Diffusivity (10<tspan dy="-2.4" font-size="4.4">-6</tspan><tspan dy="2.4">mm</tspan><tspan dy="-2.4" font-size="4.4">2</tspan><tspan dy="2.4">/s)</tspan></text>
</g>
</svg>
</body></html>
